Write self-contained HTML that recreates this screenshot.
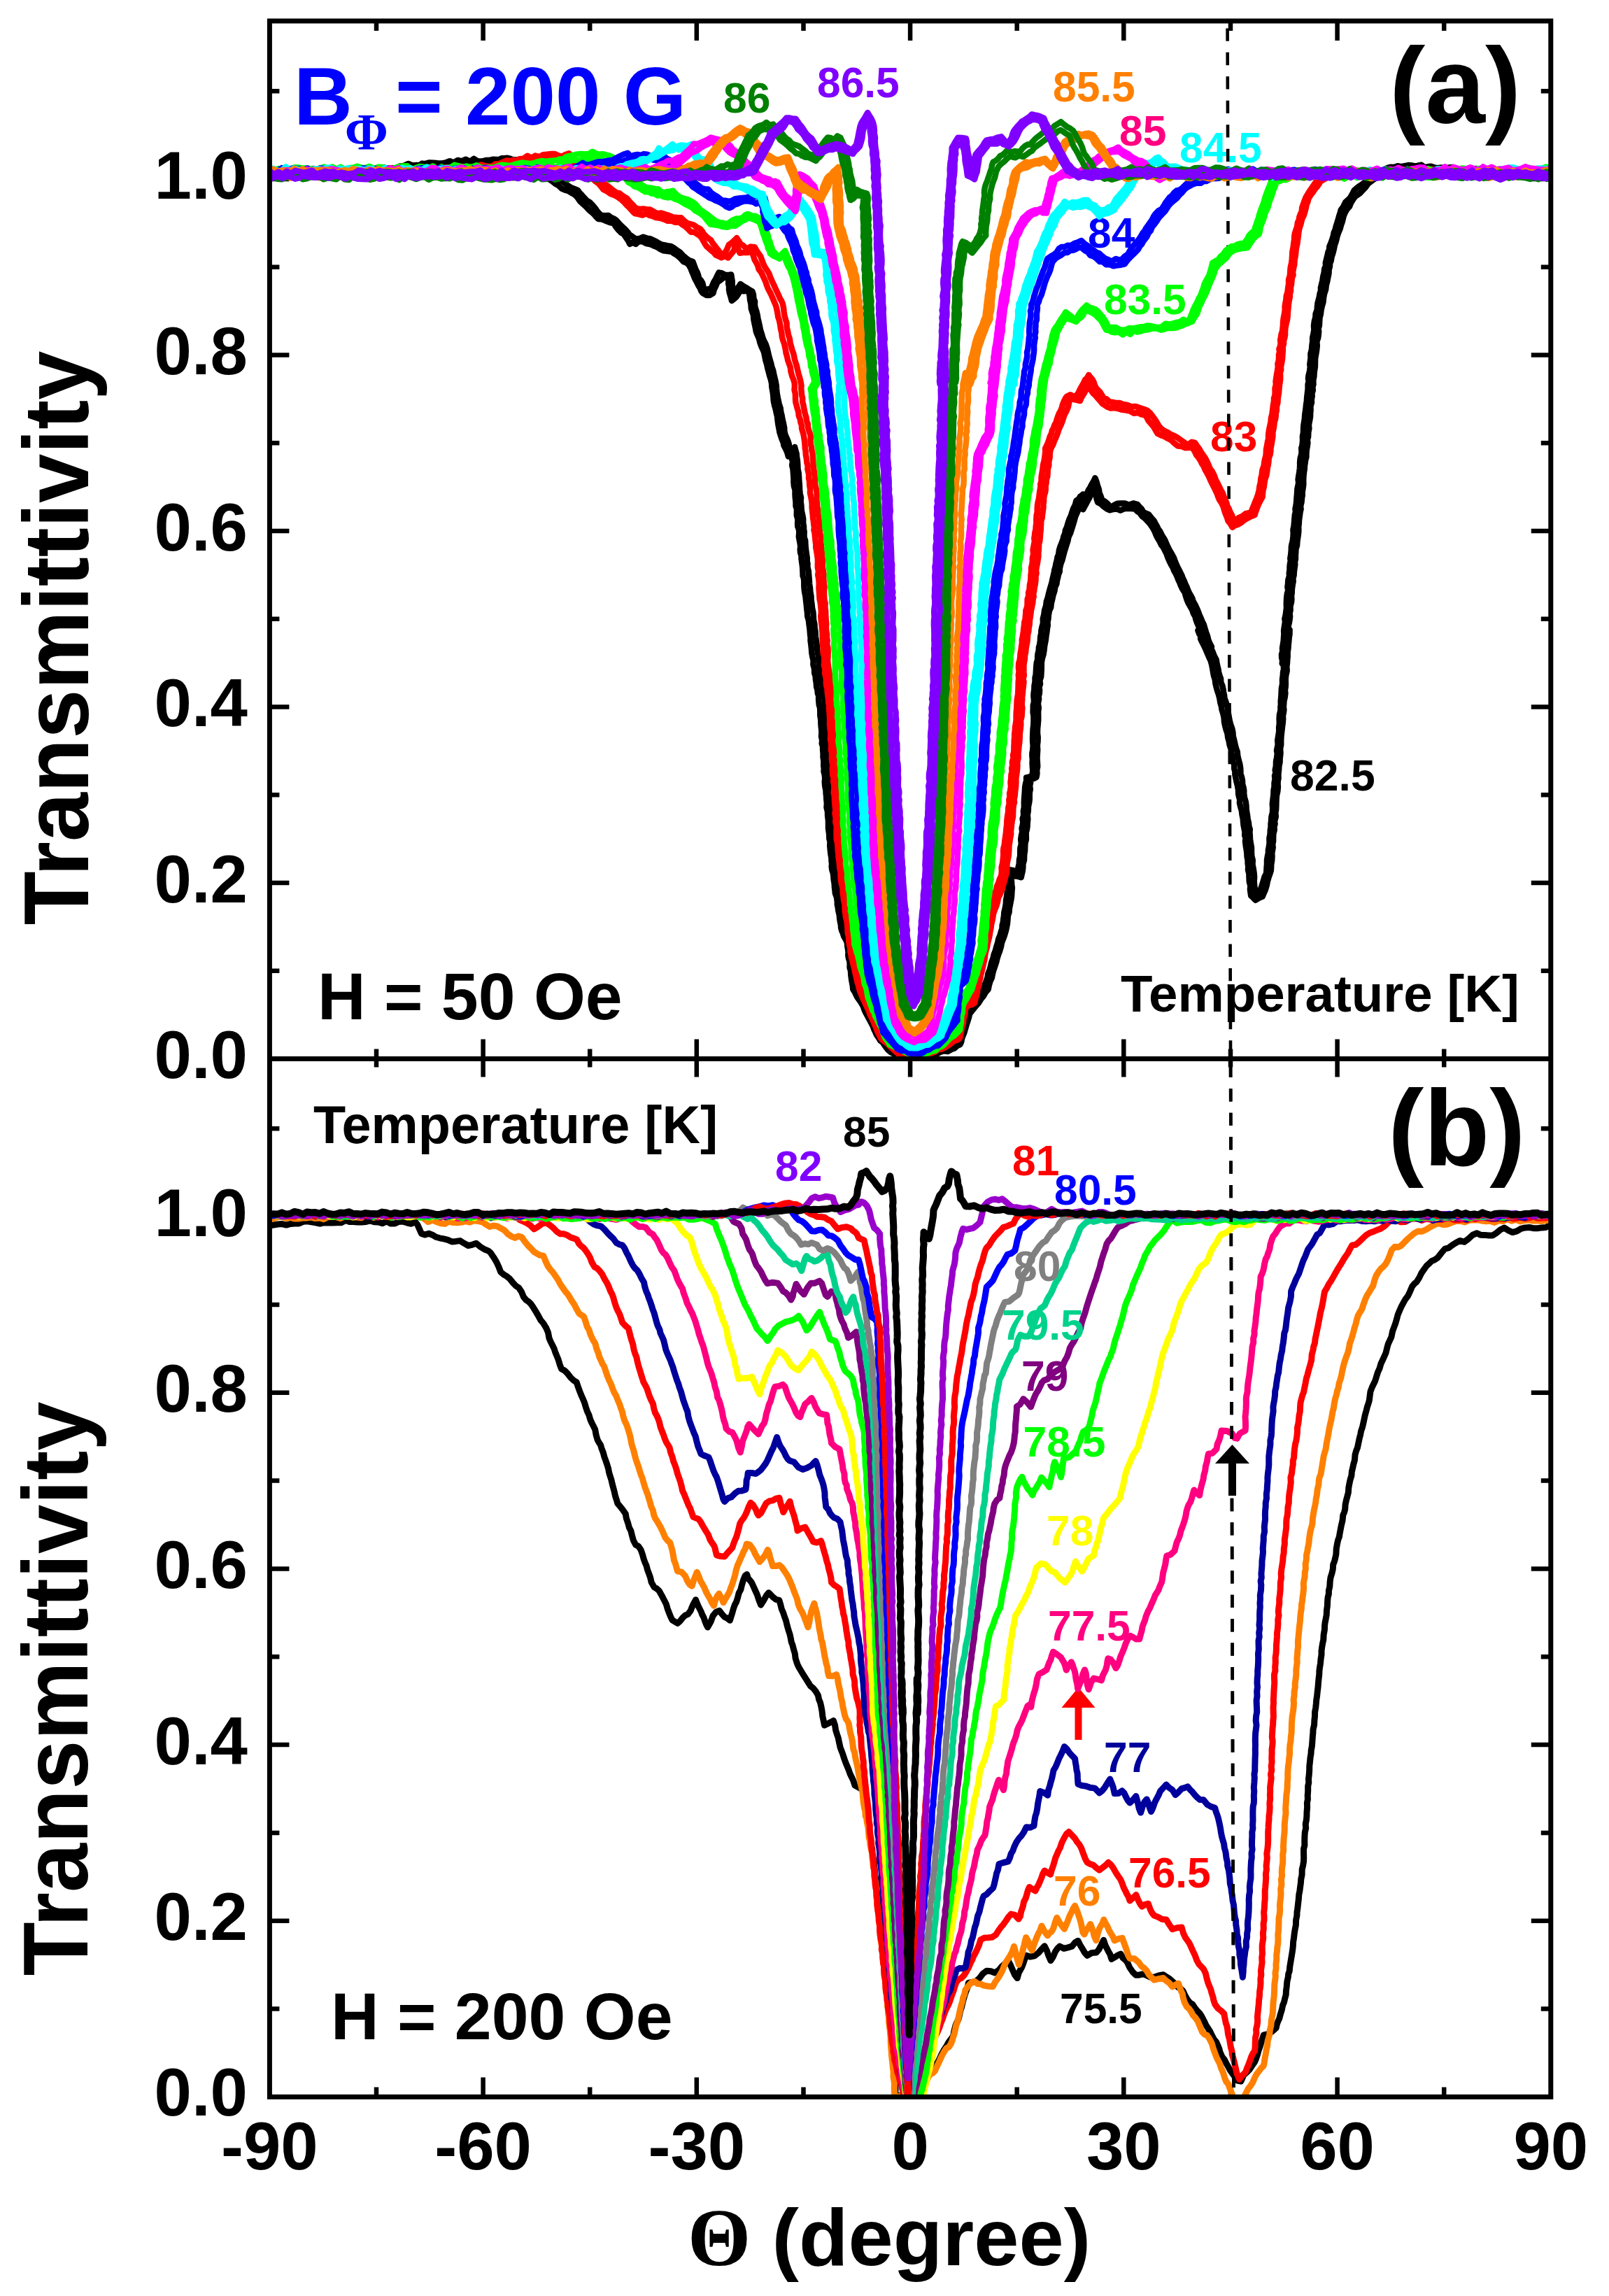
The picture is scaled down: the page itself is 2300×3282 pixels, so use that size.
<!DOCTYPE html>
<html><head><meta charset="utf-8"><title>Transmittivity</title>
<style>html,body{margin:0;padding:0;background:#fff}svg{display:block}text{font-family:"Liberation Sans",sans-serif;font-weight:bold}</style>
</head><body>
<svg width="2300" height="3282" viewBox="0 0 2300 3282">
<defs><clipPath id="ca"><rect x="385.4" y="30.0" width="1831.4" height="1483.6"/></clipPath>
<clipPath id="cb"><rect x="385.4" y="1513.6" width="1831.4" height="1483.8"/></clipPath></defs>
<rect width="2300" height="3282" fill="#fff"/>
<path d="M538.0 30.0v14 M538.0 1499.6v26 M538.0 2997.4v-14 M690.6 30.0v28 M690.6 1485.6v54 M690.6 2997.4v-28 M843.2 30.0v14 M843.2 1499.6v26 M843.2 2997.4v-14 M995.8 30.0v28 M995.8 1485.6v54 M995.8 2997.4v-28 M1148.5 30.0v14 M1148.5 1499.6v26 M1148.5 2997.4v-14 M1301.1 30.0v28 M1301.1 1485.6v54 M1301.1 2997.4v-28 M1453.7 30.0v14 M1453.7 1499.6v26 M1453.7 2997.4v-14 M1606.3 30.0v28 M1606.3 1485.6v54 M1606.3 2997.4v-28 M1759.0 30.0v14 M1759.0 1499.6v26 M1759.0 2997.4v-14 M1911.6 30.0v28 M1911.6 1485.6v54 M1911.6 2997.4v-28 M2064.2 30.0v14 M2064.2 1499.6v26 M2064.2 2997.4v-14 M385.4 1387.8h14 M2216.8 1387.8h-14 M385.4 2871.6h14 M2216.8 2871.6h-14 M385.4 1262.1h28 M2216.8 1262.1h-28 M385.4 2745.7h28 M2216.8 2745.7h-28 M385.4 1136.3h14 M2216.8 1136.3h-14 M385.4 2619.9h14 M2216.8 2619.9h-14 M385.4 1010.6h28 M2216.8 1010.6h-28 M385.4 2494.1h28 M2216.8 2494.1h-28 M385.4 884.8h14 M2216.8 884.8h-14 M385.4 2368.2h14 M2216.8 2368.2h-14 M385.4 759.0h28 M2216.8 759.0h-28 M385.4 2242.4h28 M2216.8 2242.4h-28 M385.4 633.3h14 M2216.8 633.3h-14 M385.4 2116.6h14 M2216.8 2116.6h-14 M385.4 507.5h28 M2216.8 507.5h-28 M385.4 1990.8h28 M2216.8 1990.8h-28 M385.4 381.8h14 M2216.8 381.8h-14 M385.4 1864.9h14 M2216.8 1864.9h-14 M385.4 256.0h28 M2216.8 256.0h-28 M385.4 1739.1h28 M2216.8 1739.1h-28 M385.4 130.2h14 M2216.8 130.2h-14 M385.4 1613.3h14 M2216.8 1613.3h-14" stroke="#000" stroke-width="6.5" fill="none"/>
<path d="M1761.5 2065l24.5 27h-19v46h-11v-46h-19z" fill="#000"/>
<path d="M1541.5 2412l24 29h-19v46h-10v-46h-19z" fill="#ff0000"/>
<text x="1034" y="161" font-size="60.5" fill="#008000" text-anchor="start" >86</text>
<text x="1168" y="139" font-size="60.5" fill="#8000ff" text-anchor="start" >86.5</text>
<text x="1505" y="145" font-size="60.5" fill="#ff8000" text-anchor="start" >85.5</text>
<text x="1600" y="208" font-size="60.5" fill="#ff0080" text-anchor="start" >85</text>
<text x="1686" y="232" font-size="60.5" fill="#00ffff" text-anchor="start" >84.5</text>
<text x="1555" y="354" font-size="60.5" fill="#0000ff" text-anchor="start" >84</text>
<text x="1578" y="449" font-size="60.5" fill="#00ff00" text-anchor="start" >83.5</text>
<text x="1730" y="645" font-size="60.5" fill="#ff0000" text-anchor="start" >83</text>
<text x="1844" y="1130" font-size="62.5" fill="#000" text-anchor="start" >82.5</text>
<path d="M1754.6 40.4L1763.5 2984" stroke="#000" stroke-width="4.6" stroke-dasharray="18.3 16.15" fill="none"/>
<g fill="none" stroke-linejoin="round" stroke-linecap="round" clip-path="url(#ca)">
<path d="M384.2 241.7L390.0 246.5L395.7 246.3L401.5 245.7L407.3 242.0L413.0 246.2L418.8 244.7L424.6 242.3L430.3 241.6L436.1 242.1L441.9 244.3L447.7 241.1L453.4 245.2L459.2 242.7L465.0 245.0L470.7 241.1L476.5 243.2L482.3 244.5L488.1 241.8L493.8 243.2L499.5 243.3L505.5 242.8L511.4 242.0L517.5 244.8L523.5 242.0L529.5 243.7L535.6 240.9L541.6 240.6L547.6 239.3L553.5 240.4L559.5 240.3L565.5 240.2L571.4 237.5L577.4 236.9L583.5 234.0L589.5 236.5L595.5 235.9L599.6 236.2L603.5 233.6L607.6 234.1L613.7 232.4L619.8 232.8L625.6 233.3L631.4 233.6L637.2 232.5L642.9 230.2L648.6 232.5L654.4 229.0L660.1 230.3L665.9 227.7L671.6 230.9L677.3 226.9L683.1 230.5L688.8 230.5L694.6 229.0L700.3 228.9L704.5 227.8L708.7 227.9L712.9 228.2L717.0 226.2L721.2 226.2L725.4 225.8L729.7 226.9L734.0 228.6L738.4 228.4L744.3 227.9L750.2 229.8L754.0 232.1L758.0 234.4L761.7 235.9L766.2 238.5L770.6 241.9L775.1 244.3L779.5 246.1L783.9 247.0L788.3 249.7L792.8 254.0L797.7 257.3L802.2 257.9L806.8 261.5L811.5 265.0L816.2 268.1L821.1 269.9L825.8 271.9L828.7 275.8L831.5 278.6L834.7 282.2L838.8 286.6L843.0 289.1L847.1 293.2L851.2 298.2L853.9 302.1L856.8 305.3L859.2 307.8L864.5 308.3L869.7 307.9L873.7 311.0L877.7 312.6L881.5 315.5L885.4 319.9L889.4 324.0L893.5 327.7L897.1 331.6L900.1 335.7L903.7 337.9L908.7 341.4L913.8 341.1L919.6 338.7L925.3 340.8L929.6 341.2L933.9 343.3L938.1 345.4L942.2 347.9L946.4 349.8L950.5 350.4L954.8 351.5L959.0 352.0L963.3 354.5L967.7 357.6L972.3 360.8L976.5 365.4L980.9 369.1L985.5 372.4L990.4 374.0L992.4 379.4L994.6 385.4L996.6 389.1L998.0 393.0L999.2 397.9L1001.8 400.5L1004.2 404.5L1005.6 410.3L1007.8 415.1L1011.9 413.3L1016.2 413.3L1018.5 407.4L1020.4 403.0L1022.8 399.2L1024.9 394.7L1027.6 389.6L1032.0 390.5L1036.4 392.8L1040.8 393.2L1045.2 392.4L1045.9 397.3L1046.7 401.7L1046.8 406.8L1047.1 411.8L1047.9 416.5L1048.6 422.1L1047.5 427.4L1048.9 422.4L1050.6 416.7L1053.1 413.5L1055.9 409.9L1058.4 405.9L1062.6 409.0L1066.8 411.2L1071.0 414.1L1075.4 416.4L1077.0 421.4L1077.3 426.5L1079.1 430.9L1078.9 435.6L1079.6 439.9L1081.4 445.2L1082.6 450.1L1083.5 455.5L1084.9 461.4L1086.1 467.2L1087.1 472.2L1089.0 477.9L1090.2 482.3L1091.9 486.7L1094.5 491.8L1096.4 497.1L1097.7 502.5L1098.9 507.7L1100.4 513.6L1102.1 519.0L1103.3 524.5L1105.2 529.8L1106.2 535.1L1107.3 539.7L1108.4 543.8L1109.1 547.6L1109.8 551.6L1110.0 555.3L1110.5 560.9L1111.4 566.6L1112.6 572.4L1113.7 577.7L1115.7 583.7L1116.3 588.8L1117.7 594.3L1118.5 599.3L1120.0 605.5L1121.2 611.6L1121.4 616.8L1122.8 622.3L1124.5 625.9L1126.2 629.9L1127.7 634.5L1128.3 638.7L1129.5 642.8L1130.4 647.7L1133.2 643.6L1136.1 638.9L1137.3 643.9L1138.6 648.2L1139.0 652.8L1139.9 658.8L1140.3 664.8L1140.5 670.5L1141.7 676.4L1142.1 682.2L1142.3 687.3L1142.8 691.9L1143.0 695.7L1143.1 700.3L1143.7 705.6L1145.0 711.5L1144.6 716.9L1145.4 722.7L1145.6 727.2L1146.1 731.4L1147.2 736.2L1148.2 741.6L1148.1 747.5L1149.0 752.2L1149.0 756.3L1149.7 760.2L1149.5 764.3L1149.7 768.6L1151.2 772.8L1151.4 779.1L1152.0 785.3L1152.8 791.1L1153.7 797.4L1153.7 802.0L1154.5 806.0L1154.3 810.2L1155.8 816.5L1156.2 822.5L1156.8 828.8L1157.1 834.8L1158.0 840.6L1158.4 846.4L1159.5 852.2L1159.6 857.4L1160.5 863.3L1161.1 869.6L1162.4 875.1L1162.8 880.3L1163.1 886.6L1164.5 892.3L1164.6 897.5L1165.6 903.0L1165.9 909.5L1166.7 915.0L1167.5 920.9L1168.1 926.5L1168.6 932.2L1169.8 937.4L1169.9 941.4L1170.5 945.7L1171.1 949.7L1171.0 955.4L1172.3 960.9L1173.0 965.3L1173.9 970.1L1174.0 974.5L1175.5 980.5L1176.2 986.9L1177.2 990.6L1177.1 994.9L1178.4 999.0L1178.5 1003.5L1178.7 1007.5L1179.5 1011.5L1179.5 1017.2L1180.1 1023.1L1179.7 1027.1L1179.7 1031.4L1180.3 1035.7L1180.6 1041.3L1181.0 1046.5L1181.2 1050.8L1182.2 1054.8L1181.8 1059.2L1182.5 1064.8L1183.1 1070.5L1183.1 1076.7L1184.2 1082.9L1184.6 1088.5L1184.9 1095.1L1185.4 1100.2L1184.6 1106.1L1186.2 1109.9L1185.5 1114.5L1185.6 1118.3L1186.9 1124.2L1186.4 1130.1L1187.7 1136.4L1188.4 1141.9L1188.5 1146.3L1189.0 1150.5L1189.2 1154.7L1189.5 1160.2L1190.1 1166.3L1190.7 1172.4L1190.4 1178.6L1190.7 1184.5L1191.1 1190.7L1191.6 1196.6L1192.6 1202.6L1193.5 1208.8L1194.0 1214.7L1194.1 1220.8L1194.9 1226.8L1194.8 1232.8L1194.9 1239.4L1196.5 1245.1L1197.4 1250.6L1198.4 1255.3L1199.0 1259.4L1199.0 1263.7L1199.4 1270.1L1201.0 1276.1L1202.3 1282.1L1202.7 1288.3L1203.7 1292.6L1203.9 1296.7L1204.6 1301.1L1205.2 1307.2L1206.3 1313.2L1206.7 1317.2L1208.1 1321.5L1208.4 1325.9L1210.0 1330.5L1212.4 1335.4L1214.8 1341.4L1217.0 1346.7L1217.4 1351.8L1217.7 1355.9L1218.1 1360.4L1219.2 1365.3L1220.0 1369.4L1220.4 1373.9L1220.9 1378.0L1221.5 1382.4L1221.5 1386.7L1222.4 1391.1L1222.5 1395.6L1223.0 1399.7L1224.9 1406.2L1225.0 1412.3L1228.4 1417.5L1231.1 1422.1L1233.4 1425.8L1235.6 1429.8L1238.1 1434.2L1240.5 1438.1L1242.7 1442.7L1244.9 1447.3L1246.5 1451.3L1248.2 1454.2L1251.2 1459.9L1253.4 1465.5L1255.7 1469.7L1258.3 1474.8L1260.6 1479.8L1263.4 1484.8L1267.0 1487.9L1270.5 1490.6L1273.6 1493.6L1277.1 1498.0L1280.5 1501.5L1284.1 1503.4L1289.6 1506.1L1295.2 1507.2L1300.8 1508.4L1306.4 1509.3L1310.9 1508.0L1315.3 1508.2L1320.3 1504.4L1325.1 1504.0L1330.5 1501.7L1335.9 1500.3L1341.3 1498.8L1346.8 1496.2L1352.2 1494.2L1357.6 1491.3L1362.6 1491.2L1367.4 1491.1L1369.2 1485.4L1370.6 1480.3L1371.7 1474.6L1374.0 1468.8L1375.5 1464.4L1376.9 1459.3L1378.3 1455.4L1378.9 1450.9L1380.4 1446.5L1383.7 1442.2L1387.1 1438.4L1390.1 1434.7L1393.3 1429.6L1396.8 1425.0L1400.2 1420.5L1403.3 1415.7L1406.7 1413.2L1407.7 1407.5L1409.8 1402.2L1411.6 1396.9L1412.4 1391.5L1414.8 1385.9L1416.3 1379.9L1417.4 1375.2L1419.5 1369.8L1420.7 1364.3L1422.9 1358.7L1424.2 1353.5L1426.2 1347.4L1427.2 1342.4L1429.5 1336.8L1430.8 1332.2L1432.5 1327.1L1432.6 1322.6L1433.8 1318.3L1434.2 1314.2L1435.0 1309.3L1435.3 1304.2L1436.6 1298.8L1437.8 1292.3L1438.0 1287.0L1439.1 1281.1L1439.7 1275.7L1441.7 1270.1L1440.4 1266.4L1439.5 1262.0L1439.0 1258.0L1438.6 1253.1L1438.1 1248.0L1436.8 1242.2L1442.8 1243.2L1448.6 1244.3L1452.0 1248.3L1455.5 1251.5L1454.6 1246.3L1455.4 1240.6L1456.8 1234.7L1457.0 1229.2L1458.2 1223.7L1458.2 1218.1L1458.4 1212.1L1459.9 1206.5L1459.2 1200.0L1460.0 1194.0L1461.2 1189.2L1460.6 1183.8L1461.8 1179.5L1462.4 1175.2L1461.6 1170.6L1463.2 1165.5L1462.8 1159.9L1463.9 1154.1L1463.8 1148.1L1464.0 1142.2L1464.5 1136.3L1464.9 1130.3L1465.2 1124.8L1465.9 1120.6L1467.2 1116.0L1467.1 1111.4L1471.4 1110.6L1475.6 1107.3L1476.3 1101.7L1475.9 1096.6L1475.6 1090.8L1475.9 1085.5L1475.4 1081.1L1475.4 1076.5L1476.2 1072.4L1476.7 1066.2L1476.2 1060.5L1476.1 1054.4L1476.3 1048.7L1476.6 1042.2L1477.3 1036.2L1477.5 1029.9L1477.5 1023.7L1476.6 1018.3L1476.8 1012.3L1476.8 1008.0L1477.9 1003.9L1477.9 1000.1L1477.4 995.0L1477.6 990.9L1478.3 986.2L1478.5 980.3L1479.6 974.2L1479.5 969.0L1480.6 964.5L1480.9 959.2L1481.2 953.6L1481.8 947.2L1483.2 942.8L1483.1 938.9L1483.6 934.3L1484.7 930.1L1484.9 925.5L1486.2 921.2L1486.9 915.8L1487.2 909.9L1488.3 905.7L1488.4 901.1L1489.4 896.6L1491.0 890.6L1490.8 884.4L1492.3 878.5L1493.1 872.3L1495.1 865.9L1495.8 860.0L1497.7 854.5L1499.0 848.6L1500.4 843.5L1502.0 837.8L1503.5 832.7L1504.7 826.9L1505.7 822.7L1506.8 818.3L1507.3 814.7L1508.7 809.9L1509.5 805.4L1510.7 801.3L1511.5 796.5L1513.2 792.2L1513.9 786.6L1515.4 781.5L1517.7 775.8L1519.5 771.1L1520.3 767.0L1522.2 762.9L1522.9 758.1L1525.1 753.2L1526.6 747.9L1528.5 742.2L1531.1 736.6L1532.7 731.3L1534.2 726.9L1536.9 721.6L1538.4 715.7L1541.7 713.4L1545.2 709.4L1548.1 706.6L1549.2 711.0L1551.0 715.9L1552.1 720.8L1551.5 715.1L1550.7 708.6L1553.6 705.6L1555.8 700.6L1558.3 696.7L1560.5 692.3L1563.3 687.9L1565.4 683.3L1567.6 689.1L1569.0 694.1L1570.8 699.1L1571.5 704.3L1573.5 709.2L1575.4 714.6L1578.9 716.5L1582.0 718.8L1584.9 721.7L1587.7 725.6L1592.5 722.1L1597.2 719.7L1601.9 719.5L1607.9 719.4L1613.8 721.7L1620.0 719.4L1626.1 721.2L1628.8 724.5L1631.8 727.4L1634.6 732.1L1638.3 733.8L1642.1 735.5L1645.9 740.2L1649.8 744.6L1651.5 748.1L1653.7 751.9L1655.6 755.9L1658.3 759.6L1660.9 764.9L1663.0 768.4L1665.3 772.0L1666.9 775.9L1669.2 781.1L1672.3 787.3L1675.0 791.7L1678.1 797.5L1679.5 801.8L1681.8 807.1L1683.4 810.8L1686.4 816.5L1689.3 822.3L1690.9 826.7L1693.0 830.9L1694.6 835.2L1696.6 839.1L1698.0 843.1L1699.7 846.8L1702.1 851.1L1704.3 855.1L1705.7 859.5L1708.8 865.1L1711.2 870.2L1713.1 874.8L1714.8 879.7L1716.9 884.1L1718.6 888.5L1721.0 893.2L1722.4 898.6L1724.1 903.9L1726.2 909.6L1727.6 915.6L1729.7 920.3L1732.0 924.6L1730.4 930.2L1730.5 935.5L1728.8 940.6L1727.6 936.9L1726.3 932.9L1725.0 928.4L1723.0 924.1L1720.1 919.0L1717.5 913.3L1716.2 909.4L1714.1 905.9L1712.4 901.0L1716.1 904.0L1719.9 906.7L1723.5 909.3L1725.2 912.8L1726.6 917.3L1728.6 920.9L1730.6 925.7L1733.5 931.6L1734.5 935.0L1736.7 939.3L1738.7 943.0L1739.4 948.1L1740.5 952.7L1741.6 957.0L1742.1 961.0L1743.4 965.5L1745.1 970.1L1745.3 975.1L1747.4 980.3L1748.6 985.5L1749.0 989.5L1750.1 994.1L1750.5 998.1L1752.2 1002.7L1753.6 1007.2L1755.2 1013.2L1755.8 1019.0L1756.7 1024.6L1757.9 1030.8L1759.2 1035.7L1761.2 1041.2L1762.4 1046.8L1762.7 1052.1L1764.3 1058.4L1765.6 1064.2L1766.7 1069.1L1768.7 1074.4L1769.3 1080.5L1770.6 1086.2L1772.2 1091.8L1773.2 1097.9L1773.4 1102.1L1773.4 1106.2L1775.0 1110.9L1776.0 1115.8L1776.2 1121.4L1777.6 1125.7L1778.3 1130.1L1778.2 1134.3L1779.0 1140.3L1780.7 1145.8L1781.5 1151.6L1781.7 1157.1L1782.4 1161.6L1783.2 1166.4L1783.6 1170.6L1784.9 1175.9L1785.4 1181.1L1786.8 1185.3L1786.4 1189.7L1786.8 1194.0L1787.0 1199.8L1788.0 1205.9L1789.0 1211.6L1789.0 1217.6L1789.3 1223.9L1790.8 1229.6L1790.5 1235.9L1791.7 1241.7L1792.6 1247.7L1793.1 1253.6L1792.7 1259.4L1793.1 1265.0L1793.6 1269.4L1794.4 1273.7L1794.3 1277.6L1795.7 1282.9L1798.8 1279.6L1800.9 1274.1L1802.8 1268.8L1804.5 1263.7L1806.0 1258.6L1807.5 1253.4L1810.2 1248.1L1810.4 1243.9L1810.6 1239.4L1811.0 1235.3L1811.0 1229.5L1811.9 1223.9L1812.9 1219.4L1812.9 1215.1L1813.8 1211.0L1814.6 1204.9L1814.4 1198.4L1815.6 1192.2L1815.8 1186.5L1816.6 1182.0L1816.5 1177.9L1817.0 1173.8L1817.4 1167.6L1819.0 1161.2L1819.2 1155.5L1818.8 1149.0L1819.5 1143.1L1820.2 1137.2L1820.5 1132.9L1820.6 1129.1L1821.5 1125.0L1821.5 1119.2L1822.6 1113.2L1822.0 1109.0L1823.4 1105.1L1822.7 1100.6L1823.9 1094.9L1824.0 1088.4L1825.2 1082.6L1825.8 1076.8L1825.0 1072.9L1825.8 1068.6L1826.7 1064.4L1826.2 1058.3L1827.1 1052.9L1827.8 1048.7L1828.3 1044.4L1828.1 1040.1L1828.7 1035.6L1828.8 1031.6L1828.6 1027.8L1829.0 1021.5L1830.5 1015.3L1830.4 1010.9L1830.9 1007.1L1830.7 1002.7L1831.3 996.2L1831.6 990.2L1831.9 983.9L1833.1 977.9L1833.0 971.4L1833.8 965.4L1834.0 961.3L1835.0 956.5L1834.8 952.1L1835.5 947.8L1835.7 943.5L1835.9 938.9L1835.9 934.9L1836.7 930.8L1836.3 926.2L1836.4 921.7L1836.8 916.9L1837.7 912.4L1837.5 907.8L1838.5 902.8L1840.4 907.4L1842.1 911.9L1842.2 918.3L1841.3 923.7L1840.2 930.3L1839.3 935.6L1836.8 940.1L1834.4 944.4L1832.7 948.7L1833.1 944.3L1832.1 940.0L1832.0 935.5L1833.3 930.8L1833.0 926.7L1833.8 921.8L1834.7 916.3L1835.1 910.1L1835.4 906.3L1835.1 901.8L1835.6 897.9L1836.3 893.3L1837.0 889.0L1836.4 884.6L1837.7 879.1L1838.4 873.4L1839.0 869.0L1838.8 864.2L1838.9 859.5L1839.2 854.1L1839.9 848.5L1841.3 843.9L1840.4 839.2L1841.0 834.9L1841.3 829.2L1843.0 823.4L1842.8 819.2L1843.5 814.6L1843.5 810.5L1843.9 806.2L1844.8 802.1L1844.3 798.1L1845.3 791.9L1845.8 786.2L1845.9 781.4L1846.8 776.9L1847.8 772.8L1848.5 767.2L1848.7 761.8L1848.4 757.1L1849.5 752.4L1849.9 747.6L1850.4 742.2L1850.8 736.2L1852.0 731.9L1851.5 727.5L1852.3 723.7L1853.0 719.0L1853.3 714.9L1853.6 710.5L1854.1 704.9L1854.4 699.0L1855.3 694.9L1856.2 689.9L1855.6 685.5L1856.4 679.9L1857.4 674.2L1857.9 669.6L1858.2 665.2L1858.1 661.1L1858.7 655.0L1860.3 649.1L1860.5 644.9L1860.2 640.8L1861.4 636.7L1862.1 629.9L1861.9 623.9L1863.0 618.2L1863.1 612.1L1863.4 607.7L1864.2 602.9L1864.9 598.4L1865.2 592.9L1866.0 587.5L1866.6 583.1L1867.0 578.6L1867.8 574.1L1868.2 567.8L1868.9 562.0L1869.6 556.0L1869.6 549.5L1870.7 545.5L1870.0 541.2L1870.5 536.8L1872.0 530.9L1872.8 524.7L1872.3 520.8L1872.9 516.2L1873.5 512.2L1873.4 505.7L1875.0 499.6L1875.4 493.8L1876.2 488.0L1876.2 482.6L1877.4 477.3L1878.4 471.4L1878.0 465.7L1878.8 459.3L1880.4 453.4L1880.6 448.4L1882.7 442.9L1882.9 438.6L1883.4 433.9L1884.5 429.6L1885.8 424.7L1886.7 419.3L1888.1 415.2L1887.9 411.2L1889.0 406.8L1890.4 401.0L1891.3 395.0L1892.7 389.5L1893.2 384.3L1895.1 380.1L1894.8 375.6L1895.8 371.7L1897.2 366.1L1898.4 360.6L1900.1 356.4L1900.3 352.4L1902.3 347.7L1904.2 342.6L1905.9 337.1L1906.7 332.5L1908.6 328.3L1909.6 324.0L1911.5 318.0L1913.1 312.8L1914.2 308.7L1915.6 304.5L1916.8 299.9L1919.5 296.5L1921.2 293.0L1923.3 288.9L1926.4 286.1L1929.9 282.8L1931.7 279.7L1933.7 276.2L1935.8 271.9L1939.8 268.5L1943.7 265.6L1947.4 263.2L1951.2 260.3L1954.9 255.1L1959.1 252.2L1962.9 249.4L1966.8 247.1L1970.6 243.8L1976.4 243.8L1982.2 240.4L1987.6 238.7L1992.9 239.1L1997.9 237.3L2002.9 238.1L2008.1 237.1L2013.3 236.1L2018.0 236.5L2022.7 237.6L2027.3 236.6L2031.9 235.7L2036.5 239.4L2041.0 238.3L2045.6 237.7L2050.1 239.3L2054.7 240.2L2060.3 239.5L2065.8 240.2L2071.4 239.6L2077.0 239.0L2082.6 241.0L2088.3 244.3L2093.9 243.9L2099.5 242.8L2105.0 241.5L2110.5 240.9L2116.4 244.4L2122.3 244.7L2128.2 243.2L2134.2 243.4L2140.1 243.4L2146.1 244.0L2152.0 244.0L2157.9 244.4L2163.9 244.5L2169.8 242.8L2175.8 242.9L2181.7 240.4L2187.7 242.6L2193.6 244.5L2199.5 245.7L2205.5 244.3L2211.4 240.1L2217.4 242.7" stroke="#000000" stroke-width="8.5"/>
<path d="M385.3 247.2L391.1 250.2L396.8 252.6L402.6 247.7L408.4 250.6L414.1 247.6L419.9 251.3L425.6 252.5L431.4 250.7L437.2 251.5L442.9 248.8L448.7 247.6L454.4 247.4L460.2 249.3L466.0 247.4L471.7 249.4L477.5 252.4L483.2 248.6L489.0 248.9L494.8 248.7L500.6 251.5L506.6 248.5L512.7 247.7L518.7 247.5L524.7 250.5L530.7 249.5L536.7 247.0L542.8 248.0L548.8 247.3L552.8 247.3L556.9 246.2L560.9 244.4L567.0 246.1L573.0 248.5L577.1 247.0L581.0 244.1L585.1 242.1L591.1 241.1L597.1 239.6L603.1 239.6L609.1 242.5L613.1 240.4L617.1 240.0L621.0 239.3L626.6 238.4L632.3 240.3L638.0 239.1L643.7 238.3L649.5 236.8L655.2 236.4L660.9 235.5L666.6 235.7L672.3 235.6L678.1 236.2L683.8 236.3L689.5 234.7L695.2 238.3L700.9 234.7L707.1 238.0L713.3 234.2L719.5 234.0L725.7 232.6L731.6 235.0L737.5 235.6L742.7 237.3L747.9 237.7L753.4 241.1L758.8 244.6L763.0 245.4L767.3 247.4L771.5 249.2L775.7 251.4L780.0 254.9L784.6 256.2L789.1 258.9L793.6 262.5L798.2 265.2L803.0 269.6L807.6 271.6L812.3 272.9L816.8 275.8L821.4 278.2L825.3 282.1L829.2 287.8L833.6 291.7L837.6 295.4L841.7 299.9L845.9 303.4L849.1 306.3L852.0 309.7L855.2 312.9L859.2 313.2L863.3 314.6L867.3 316.3L872.4 318.2L877.2 319.5L880.8 324.9L884.0 328.8L887.7 332.5L891.7 334.7L894.5 339.1L897.6 343.5L900.3 349.0L904.5 346.4L908.7 348.9L912.9 345.3L918.2 345.1L923.6 348.1L927.5 348.7L931.6 349.9L935.6 351.9L939.8 353.5L943.8 356.2L948.0 358.2L954.0 359.0L960.0 359.8L964.0 362.7L968.2 365.2L972.4 368.9L976.9 374.0L980.8 375.5L984.5 378.5L987.2 383.3L988.9 387.8L991.4 393.7L993.3 398.5L995.9 403.2L998.2 408.0L1000.6 411.7L1002.4 416.1L1004.7 419.1L1009.5 421.9L1014.4 422.0L1019.4 419.0L1020.9 413.7L1023.3 408.8L1025.5 403.4L1029.9 400.4L1035.7 395.7L1041.5 398.6L1041.1 405.2L1042.1 409.5L1042.0 413.9L1042.8 418.5L1044.6 424.4L1046.0 429.9L1049.3 427.4L1052.4 424.6L1055.0 420.8L1057.1 417.4L1058.5 413.5L1062.6 416.2L1066.6 415.7L1070.7 418.1L1071.6 423.0L1072.1 428.6L1073.5 435.1L1073.8 441.1L1075.4 445.9L1077.0 450.8L1077.3 456.5L1078.4 462.0L1079.8 468.3L1080.8 474.1L1082.6 478.6L1085.0 484.2L1086.3 489.5L1088.0 494.4L1090.1 499.0L1092.0 503.3L1093.2 508.9L1094.3 514.7L1096.1 520.7L1097.2 526.2L1098.7 531.6L1100.0 536.7L1101.8 542.4L1103.1 548.3L1103.2 552.5L1103.8 556.1L1104.8 561.7L1105.4 567.0L1105.6 571.5L1106.3 575.8L1107.2 579.8L1108.7 585.0L1109.7 589.9L1111.0 595.3L1111.5 600.5L1112.4 607.0L1113.6 613.1L1114.5 618.3L1116.5 624.4L1117.8 628.2L1119.6 632.2L1120.4 636.7L1123.0 641.6L1125.3 646.9L1126.9 652.5L1129.7 648.7L1132.1 644.5L1131.9 649.4L1131.4 654.0L1133.0 659.7L1132.2 665.2L1133.5 670.7L1133.9 676.1L1134.2 680.2L1134.5 684.8L1134.4 688.9L1134.9 694.9L1136.6 700.8L1136.5 706.4L1136.8 711.5L1137.5 717.6L1137.5 723.5L1138.9 727.8L1138.9 732.4L1138.8 736.7L1140.4 742.2L1140.1 748.0L1140.3 752.5L1141.9 756.9L1142.3 761.2L1141.8 767.3L1142.9 772.9L1143.7 777.1L1144.2 781.3L1143.7 785.6L1144.1 790.1L1145.5 794.4L1145.5 798.7L1146.2 804.0L1147.0 809.6L1147.3 814.0L1147.5 818.6L1147.6 823.2L1149.0 827.2L1149.3 831.6L1149.3 836.3L1149.5 840.9L1150.2 846.4L1151.4 852.3L1152.0 858.2L1152.7 864.0L1153.2 869.9L1153.9 875.2L1154.2 880.8L1155.9 886.8L1156.6 893.1L1157.3 897.9L1157.8 903.3L1158.1 907.5L1158.7 911.5L1158.5 915.7L1159.3 921.2L1159.9 927.0L1160.3 932.8L1161.2 938.2L1162.6 944.1L1162.4 950.0L1164.0 955.8L1164.2 962.3L1165.7 966.6L1165.9 971.2L1166.7 975.7L1167.1 981.4L1168.6 987.1L1168.8 990.9L1170.2 995.0L1170.1 999.4L1170.4 1003.5L1170.8 1007.7L1172.1 1012.0L1172.3 1017.8L1172.3 1022.8L1173.3 1029.0L1173.4 1035.0L1173.7 1038.9L1174.2 1043.4L1174.4 1047.2L1174.0 1052.7L1175.2 1058.3L1174.7 1062.7L1176.1 1067.3L1176.1 1071.8L1176.6 1077.0L1176.5 1082.0L1177.4 1088.2L1177.2 1094.2L1177.8 1098.7L1177.5 1103.0L1178.7 1107.4L1179.2 1112.3L1178.8 1117.6L1179.2 1123.7L1180.5 1129.8L1180.6 1134.1L1181.1 1138.2L1181.3 1142.6L1181.9 1148.6L1181.5 1154.2L1183.0 1160.3L1183.1 1166.1L1183.9 1172.6L1184.0 1178.3L1184.0 1184.1L1184.9 1190.3L1185.3 1194.6L1185.3 1198.7L1186.5 1203.1L1186.2 1208.9L1186.7 1214.3L1187.4 1220.7L1188.4 1226.6L1188.5 1230.5L1189.0 1234.7L1188.7 1239.0L1189.4 1243.8L1190.7 1247.6L1191.3 1252.1L1191.7 1257.5L1192.7 1263.5L1192.9 1268.1L1193.5 1272.6L1193.9 1277.0L1196.0 1282.7L1196.8 1288.8L1196.8 1292.9L1197.7 1297.0L1198.3 1301.7L1199.7 1307.5L1200.3 1313.9L1200.9 1317.7L1201.9 1322.1L1202.1 1326.3L1203.3 1330.5L1205.0 1334.4L1206.3 1338.7L1208.9 1343.1L1211.0 1347.8L1211.2 1352.5L1212.0 1356.7L1212.6 1361.2L1212.3 1365.6L1213.0 1369.7L1214.5 1374.5L1214.7 1378.5L1214.6 1383.2L1216.0 1387.6L1216.3 1393.9L1217.1 1400.0L1217.9 1404.6L1218.8 1409.6L1219.3 1414.4L1221.8 1418.0L1223.8 1422.4L1225.7 1425.9L1229.3 1430.9L1232.2 1435.6L1234.1 1438.9L1235.5 1443.5L1237.2 1447.3L1239.8 1452.0L1242.6 1457.1L1245.6 1462.7L1247.7 1466.7L1249.4 1471.6L1251.3 1475.4L1253.0 1479.2L1255.8 1483.2L1258.5 1487.7L1261.7 1490.2L1264.4 1494.2L1267.2 1498.1L1269.8 1501.2L1273.7 1504.3L1277.5 1506.1L1281.3 1508.7L1285.6 1509.3L1289.8 1511.1L1294.1 1512.8L1298.3 1514.3L1302.6 1515.6L1306.9 1515.7L1312.2 1513.4L1317.5 1510.8L1322.5 1511.5L1327.5 1509.9L1332.9 1507.5L1338.5 1507.0L1343.9 1504.0L1349.4 1502.2L1354.8 1503.0L1360.2 1500.0L1364.3 1498.5L1368.5 1494.8L1372.5 1493.1L1374.2 1489.2L1375.0 1484.8L1376.4 1480.8L1378.4 1476.1L1379.8 1471.1L1381.5 1465.3L1383.4 1459.5L1384.9 1454.8L1386.2 1448.9L1389.3 1445.2L1392.6 1441.0L1395.8 1437.2L1399.2 1433.4L1402.4 1428.1L1405.6 1424.3L1408.7 1418.8L1412.7 1414.3L1413.8 1408.5L1415.4 1402.9L1417.9 1397.6L1418.9 1392.2L1420.3 1386.9L1422.1 1381.8L1424.1 1375.7L1425.4 1370.2L1427.2 1364.5L1429.2 1359.2L1430.9 1353.4L1431.9 1347.9L1433.6 1343.5L1435.5 1338.5L1436.8 1334.3L1438.0 1330.1L1438.8 1326.3L1440.0 1320.1L1440.5 1314.3L1440.8 1309.3L1442.5 1304.1L1443.0 1298.2L1444.1 1292.4L1445.3 1286.5L1446.1 1281.3L1446.4 1275.2L1446.9 1269.1L1446.2 1264.4L1446.1 1260.0L1445.0 1255.7L1443.5 1250.1L1442.4 1244.6L1445.0 1248.2L1447.0 1252.4L1451.1 1252.3L1455.3 1252.9L1459.7 1254.3L1460.6 1250.0L1461.7 1245.5L1462.3 1240.9L1462.4 1235.0L1464.0 1229.5L1464.1 1225.5L1464.3 1220.7L1465.1 1216.2L1465.2 1211.3L1465.5 1205.4L1466.9 1200.0L1466.8 1194.7L1466.7 1190.1L1467.9 1185.9L1468.5 1181.9L1468.7 1176.7L1469.3 1171.0L1468.8 1164.9L1469.8 1159.3L1470.0 1152.9L1471.3 1146.6L1471.8 1142.1L1471.7 1137.4L1471.9 1132.7L1472.8 1128.3L1472.1 1123.4L1473.2 1118.4L1473.4 1113.3L1477.8 1113.1L1481.5 1111.1L1482.4 1106.2L1482.2 1100.6L1483.2 1095.8L1482.9 1089.9L1482.5 1084.0L1482.8 1078.2L1483.2 1071.5L1482.8 1065.7L1483.5 1060.0L1483.7 1054.1L1483.0 1047.9L1483.1 1041.9L1483.7 1035.5L1484.2 1029.7L1484.2 1023.4L1484.1 1017.8L1484.8 1011.6L1483.8 1005.8L1485.1 999.4L1484.8 995.2L1485.8 991.2L1486.1 986.9L1485.6 981.9L1487.0 977.9L1486.4 972.8L1488.2 967.1L1488.5 961.2L1488.8 956.8L1488.8 951.9L1488.9 946.5L1489.9 941.0L1491.6 935.3L1492.6 929.0L1493.2 923.1L1494.1 918.6L1494.9 914.5L1495.4 909.5L1496.3 904.0L1497.0 898.2L1497.8 893.9L1497.5 889.2L1498.4 885.2L1498.9 879.2L1499.9 873.4L1502.2 868.2L1502.8 862.6L1504.2 856.8L1505.5 850.6L1507.4 845.2L1508.3 839.2L1510.4 834.7L1511.0 830.0L1512.2 825.5L1512.9 821.5L1514.7 817.2L1515.0 811.7L1516.5 805.6L1518.4 800.8L1519.7 795.5L1521.2 789.8L1522.9 784.3L1524.6 778.7L1526.4 773.1L1527.5 767.6L1530.1 762.1L1532.0 756.2L1533.9 750.2L1535.5 744.8L1537.0 739.1L1538.8 734.9L1540.7 730.5L1542.2 727.0L1543.5 722.9L1545.1 718.7L1543.9 714.3L1543.9 709.7L1544.7 714.1L1546.5 719.2L1547.3 723.4L1548.2 728.3L1550.2 724.5L1552.6 719.9L1554.7 716.3L1556.8 712.5L1558.9 708.3L1561.8 702.9L1563.2 697.9L1564.2 692.8L1565.0 698.6L1564.8 703.9L1566.9 708.6L1567.5 712.9L1569.2 718.2L1573.2 720.0L1577.3 723.8L1581.8 727.1L1586.1 729.3L1591.3 727.9L1596.4 727.4L1601.5 729.7L1606.8 727.3L1612.2 726.8L1617.3 727.0L1622.4 727.6L1625.7 730.9L1629.2 733.2L1633.0 738.4L1636.7 741.1L1640.0 744.7L1643.7 748.7L1646.4 752.7L1648.7 756.1L1650.8 760.4L1652.4 764.4L1654.4 768.6L1657.7 773.9L1660.1 779.1L1662.8 782.4L1665.4 787.5L1667.6 791.9L1669.1 796.5L1670.9 800.6L1673.9 806.9L1676.8 811.8L1678.2 815.9L1680.7 820.1L1682.7 824.6L1684.3 828.8L1686.2 832.6L1687.7 836.7L1690.3 842.2L1693.6 847.2L1695.0 852.3L1696.7 857.7L1698.6 862.2L1701.5 867.2L1704.3 872.1L1705.8 876.8L1708.3 881.0L1709.3 885.0L1711.2 890.5L1713.6 895.8L1714.9 900.2L1716.7 905.3L1718.8 910.9L1720.3 916.6L1722.5 921.5L1724.3 927.2L1727.5 928.3L1730.9 932.2L1734.6 934.6L1731.8 929.0L1730.2 923.6L1728.1 918.9L1726.3 915.6L1724.5 910.9L1722.7 907.0L1720.3 902.1L1718.4 897.1L1718.0 902.1L1716.5 907.3L1716.1 913.1L1718.1 917.3L1720.9 922.9L1723.3 927.8L1725.8 934.0L1728.1 938.9L1730.6 944.6L1732.0 949.7L1733.2 955.5L1734.0 960.6L1735.0 965.9L1736.7 971.1L1737.4 977.0L1738.6 981.9L1740.0 987.2L1741.9 992.7L1743.4 998.5L1744.3 1004.2L1745.9 1009.7L1746.6 1014.7L1748.3 1019.8L1749.6 1025.8L1750.0 1031.8L1751.2 1037.6L1752.7 1043.3L1754.5 1048.5L1755.2 1054.3L1756.7 1059.6L1757.6 1064.7L1759.4 1070.3L1760.4 1075.7L1761.0 1080.0L1762.2 1084.3L1762.4 1088.2L1764.3 1093.4L1764.2 1098.6L1765.4 1103.0L1765.4 1107.4L1766.2 1111.2L1767.5 1117.4L1769.0 1123.2L1770.0 1129.2L1770.2 1135.2L1771.1 1139.5L1772.3 1143.2L1771.9 1147.5L1773.2 1153.2L1774.9 1159.1L1775.5 1164.6L1776.8 1170.6L1777.1 1175.1L1777.5 1179.4L1778.5 1184.4L1779.5 1189.3L1779.2 1194.2L1780.5 1197.9L1780.0 1202.4L1780.5 1206.7L1781.0 1210.7L1781.8 1215.1L1782.3 1219.1L1782.6 1224.7L1783.6 1230.0L1783.6 1234.1L1784.3 1239.0L1784.0 1243.4L1785.4 1249.0L1785.5 1253.9L1785.8 1260.5L1787.4 1266.4L1786.9 1271.2L1787.5 1275.7L1788.2 1280.4L1791.3 1283.2L1794.8 1286.8L1799.7 1283.6L1804.7 1281.6L1806.8 1276.4L1808.8 1272.1L1810.7 1265.8L1811.9 1259.9L1813.5 1254.3L1815.4 1248.9L1816.8 1244.4L1817.1 1240.3L1817.2 1235.9L1818.2 1230.0L1818.5 1223.7L1818.2 1219.5L1819.0 1215.6L1819.7 1211.4L1819.2 1207.0L1820.1 1202.4L1820.1 1198.6L1820.3 1192.1L1821.8 1186.1L1821.5 1181.8L1822.6 1177.7L1822.0 1174.0L1823.8 1167.5L1823.3 1162.1L1824.1 1157.2L1824.3 1152.8L1824.4 1148.4L1824.6 1142.6L1825.0 1137.1L1826.3 1131.4L1826.9 1125.1L1826.6 1121.2L1826.7 1116.8L1827.5 1112.9L1827.4 1106.3L1828.1 1100.6L1828.4 1094.9L1829.6 1089.3L1829.6 1084.6L1830.1 1080.4L1830.5 1076.5L1830.1 1070.3L1831.2 1064.7L1831.2 1058.1L1831.5 1052.2L1832.2 1046.1L1832.9 1039.7L1833.7 1033.8L1834.2 1027.5L1833.9 1023.3L1834.8 1019.2L1835.4 1014.8L1834.9 1010.4L1835.2 1006.4L1835.5 1001.9L1836.7 996.7L1837.4 991.0L1836.9 986.5L1837.7 981.7L1837.9 977.0L1837.7 970.8L1838.3 964.9L1839.7 959.1L1839.3 952.7L1840.0 947.8L1840.2 943.3L1840.7 938.6L1840.6 932.8L1841.5 926.4L1841.6 921.9L1841.9 917.1L1842.6 912.1L1843.5 906.5L1843.6 900.3L1841.9 904.8L1839.1 908.3L1837.5 911.9L1835.9 917.3L1836.1 923.1L1834.9 927.0L1834.1 931.6L1834.0 935.5L1835.3 940.6L1836.8 944.7L1838.2 939.3L1838.0 934.0L1838.4 928.7L1838.9 922.7L1839.9 918.3L1839.8 914.3L1841.0 909.5L1841.1 903.9L1841.6 898.0L1841.8 894.1L1843.0 889.4L1843.6 885.4L1844.1 881.0L1843.6 876.9L1844.6 872.6L1844.5 866.8L1846.1 860.5L1846.4 856.2L1846.0 852.1L1846.7 847.8L1846.9 842.2L1847.7 836.1L1848.7 831.2L1848.4 826.9L1849.6 822.5L1849.9 817.1L1850.7 811.0L1851.3 807.1L1851.0 803.1L1852.0 798.8L1851.9 794.0L1852.3 789.6L1852.4 785.2L1854.1 779.5L1854.4 774.0L1855.0 770.0L1855.7 765.3L1856.2 761.3L1856.4 757.1L1856.2 752.9L1856.8 748.6L1857.1 742.8L1858.0 736.7L1858.5 732.4L1859.6 727.8L1859.1 723.3L1860.5 718.0L1861.0 712.5L1861.8 707.5L1861.7 703.2L1862.5 698.5L1863.3 692.6L1863.2 686.1L1863.5 680.3L1864.1 674.5L1864.8 670.5L1865.0 665.8L1865.6 662.0L1866.2 657.5L1867.4 653.3L1867.4 648.7L1867.8 643.3L1868.8 637.6L1869.4 632.9L1868.8 628.7L1870.1 624.3L1870.3 618.3L1871.4 612.2L1870.9 608.1L1871.6 603.7L1872.4 599.8L1873.1 595.1L1873.1 590.8L1873.6 586.8L1873.4 581.1L1875.0 575.4L1874.8 571.1L1875.7 566.4L1875.4 562.4L1876.8 558.2L1876.4 553.6L1877.5 549.5L1877.3 543.6L1878.4 538.1L1878.6 533.6L1879.1 529.3L1879.9 524.6L1880.0 518.9L1880.1 512.6L1881.1 506.7L1882.1 500.7L1882.8 494.4L1882.3 488.3L1884.1 483.3L1884.8 478.3L1885.2 473.9L1884.6 469.7L1885.9 465.5L1886.2 460.0L1886.5 454.5L1887.9 449.0L1888.5 443.5L1889.9 437.2L1891.5 431.7L1892.1 425.5L1893.1 419.8L1895.1 413.9L1895.8 407.7L1897.2 402.6L1898.2 397.2L1899.5 390.9L1899.7 385.3L1900.9 381.2L1901.2 376.5L1902.7 372.7L1903.6 367.1L1905.2 362.3L1906.8 356.2L1908.0 350.2L1909.5 345.8L1910.6 341.8L1911.7 337.1L1913.6 331.9L1915.7 326.9L1916.9 322.1L1918.6 317.5L1919.8 312.8L1920.8 308.5L1922.6 304.3L1925.5 299.1L1929.1 295.1L1930.7 291.0L1932.8 287.3L1934.9 283.9L1938.1 280.3L1940.8 278.4L1944.6 275.7L1948.2 271.7L1951.8 268.0L1955.5 262.7L1959.2 259.8L1962.7 257.1L1968.1 253.8L1973.6 253.4L1977.1 250.5L1980.8 247.7L1984.3 246.0L1989.0 243.7L1993.7 247.5L1998.6 242.6L2003.6 245.2L2008.4 243.5L2013.2 242.1L2017.6 244.2L2022.1 243.8L2026.6 244.3L2031.1 245.7L2035.7 245.1L2040.2 245.0L2044.8 246.0L2049.4 244.9L2053.9 245.0L2059.5 245.3L2065.1 245.9L2070.7 247.2L2076.3 246.5L2081.9 250.4L2087.5 251.4L2093.1 249.0L2098.7 247.3L2104.3 249.3L2109.9 252.0L2115.9 249.8L2121.9 252.4L2127.8 251.0L2133.8 248.1L2139.7 248.5L2145.6 251.6L2151.6 248.3L2157.5 248.7L2163.4 251.6L2169.4 250.1L2175.3 250.5L2181.2 249.5L2187.1 253.4L2193.1 251.7L2199.0 248.9L2204.9 250.0L2210.9 248.6L2216.8 251.2" stroke="#000000" stroke-width="8.5"/>
<path d="M385.6 241.9L391.5 242.0L397.5 244.0L403.5 243.1L409.4 245.3L415.4 242.8L421.4 240.9L427.4 242.2L433.3 242.5L439.3 243.2L445.3 242.0L451.2 242.2L457.2 240.6L463.2 241.7L469.2 243.0L475.1 243.5L481.1 244.4L487.1 245.0L493.0 244.1L499.0 242.6L505.0 245.4L510.9 240.6L516.9 242.9L522.9 241.4L528.8 242.5L534.8 241.2L540.8 241.1L546.8 243.0L552.7 242.9L558.7 240.3L564.7 241.5L570.6 244.4L576.6 242.8L582.6 244.4L588.5 244.4L594.5 243.4L600.4 242.1L606.6 240.0L612.8 243.2L617.0 242.2L621.1 239.4L625.3 243.4L631.5 239.7L637.8 239.5L641.9 240.5L646.1 239.1L650.3 239.6L654.4 240.1L658.6 238.5L662.7 237.9L666.9 240.1L671.1 242.0L675.2 238.4L679.4 238.3L683.5 237.2L687.7 235.4L693.8 237.3L699.9 237.9L704.0 237.4L708.0 234.4L712.1 234.6L716.2 232.9L720.3 231.2L724.5 229.4L728.7 230.5L732.8 228.9L737.0 229.9L742.7 227.2L748.4 226.8L754.0 222.7L759.5 225.8L765.1 222.6L770.7 224.2L776.3 221.3L781.9 220.6L787.6 220.0L793.3 220.1L798.2 222.3L803.1 223.8L808.2 221.1L813.4 219.4L816.8 222.6L820.1 226.5L823.8 229.8L828.7 233.1L833.7 236.7L838.8 240.2L843.8 241.6L846.4 245.7L849.2 248.5L851.7 251.4L855.2 254.5L859.1 257.3L862.6 261.9L866.4 264.2L871.0 267.6L875.9 271.7L881.0 275.3L885.9 276.5L889.2 279.2L892.9 281.6L896.3 283.7L900.0 288.2L903.9 292.2L907.5 296.1L910.6 298.3L914.9 299.0L919.2 298.4L924.2 299.2L929.1 299.5L934.3 302.5L939.4 305.3L945.1 304.5L950.8 306.4L956.4 308.1L962.0 310.5L967.9 311.0L973.6 311.3L978.3 315.8L982.9 319.3L987.2 320.2L991.5 321.5L996.2 324.8L1001.0 327.3L1003.7 330.5L1006.1 334.5L1008.9 337.3L1012.7 340.8L1016.3 343.3L1018.7 347.5L1021.6 351.1L1024.1 354.5L1027.1 358.0L1029.8 363.1L1033.4 362.6L1037.0 360.5L1039.8 354.8L1042.0 349.8L1045.6 347.4L1049.4 343.9L1053.1 340.1L1055.9 344.3L1059.0 349.2L1061.8 350.5L1067.4 355.7L1073.1 352.6L1078.8 353.3L1081.3 357.8L1084.2 362.3L1087.3 366.5L1089.2 371.9L1091.0 376.6L1093.0 381.2L1096.4 386.3L1099.7 391.7L1100.8 395.5L1102.6 399.4L1104.0 402.9L1106.8 408.5L1109.0 413.7L1110.9 417.5L1113.3 422.6L1114.8 426.3L1117.0 430.0L1118.8 434.1L1120.0 439.8L1120.6 445.5L1121.4 451.0L1122.9 456.5L1124.6 462.1L1124.7 468.1L1126.1 473.8L1127.0 478.7L1128.9 484.6L1129.7 490.8L1131.0 495.3L1132.5 500.6L1134.1 505.0L1135.0 508.8L1135.8 513.1L1137.3 518.4L1138.9 523.0L1140.1 528.6L1141.5 534.5L1142.8 538.6L1143.9 542.9L1144.8 547.0L1145.5 551.5L1145.2 555.6L1145.7 560.1L1146.0 564.3L1147.2 569.3L1147.1 574.0L1148.6 579.9L1149.6 585.4L1150.8 591.4L1152.5 596.7L1153.0 601.6L1154.7 606.0L1154.8 610.1L1156.4 616.0L1158.6 621.9L1158.8 626.0L1158.5 630.5L1159.0 635.1L1159.9 639.1L1160.4 643.5L1161.5 648.2L1162.0 653.7L1162.4 659.5L1162.5 664.1L1163.1 669.2L1163.8 674.1L1164.6 679.3L1164.8 685.1L1164.9 689.4L1165.4 693.9L1166.8 698.8L1167.6 704.7L1167.6 710.6L1167.3 714.7L1168.0 718.9L1168.1 723.3L1169.1 729.4L1169.7 735.5L1170.6 739.4L1170.8 744.1L1171.2 747.9L1172.3 754.5L1171.6 760.5L1172.8 764.8L1173.5 768.6L1173.9 773.0L1173.9 776.9L1173.9 781.2L1174.7 785.6L1175.2 791.5L1175.8 797.9L1176.1 803.9L1175.7 810.0L1176.7 815.5L1177.6 821.4L1177.3 827.2L1177.7 833.1L1178.5 838.9L1178.0 844.2L1178.0 850.8L1178.3 856.8L1179.6 862.3L1179.4 867.6L1180.1 873.6L1180.3 879.8L1180.6 885.7L1181.2 892.0L1180.8 897.4L1181.3 902.4L1182.1 906.7L1182.0 911.0L1182.7 915.8L1182.1 920.5L1183.4 925.9L1183.6 931.9L1183.5 938.2L1183.1 944.4L1183.6 950.0L1184.5 955.7L1185.5 961.9L1186.2 966.0L1185.8 970.7L1187.1 975.4L1187.9 980.8L1187.7 987.0L1188.9 990.9L1188.4 995.8L1189.7 1000.2L1190.1 1006.0L1189.8 1012.0L1190.9 1018.2L1191.0 1024.1L1191.5 1030.2L1191.1 1035.9L1191.7 1040.0L1192.3 1044.1L1191.7 1048.8L1192.7 1054.3L1193.1 1059.6L1192.7 1064.4L1192.9 1068.4L1193.4 1073.2L1193.3 1078.7L1193.9 1083.7L1193.9 1088.5L1195.0 1092.4L1195.1 1096.8L1194.9 1102.6L1196.1 1108.7L1195.9 1114.5L1196.1 1120.3L1196.9 1124.7L1197.1 1129.2L1197.3 1133.4L1197.2 1138.7L1197.4 1144.4L1197.6 1148.9L1197.9 1153.0L1198.6 1157.6L1198.7 1163.2L1199.8 1169.4L1199.6 1175.1L1199.6 1181.3L1199.6 1185.1L1200.8 1189.4L1200.6 1193.4L1201.0 1199.7L1201.9 1205.1L1201.6 1211.7L1202.3 1217.4L1203.4 1223.4L1203.4 1228.9L1204.1 1234.8L1205.1 1240.8L1206.4 1246.6L1206.6 1252.2L1206.9 1258.3L1208.3 1264.4L1208.7 1269.8L1209.0 1275.4L1210.7 1281.4L1211.5 1287.3L1212.2 1292.6L1212.5 1298.2L1213.7 1304.2L1213.6 1310.7L1214.5 1316.4L1215.5 1321.6L1216.8 1327.4L1217.3 1333.3L1217.1 1337.2L1218.1 1341.2L1218.6 1345.8L1219.3 1351.0L1220.0 1355.6L1221.5 1359.5L1221.9 1363.9L1222.5 1367.8L1224.1 1373.5L1226.0 1379.4L1226.5 1384.3L1227.7 1388.9L1229.4 1393.5L1229.6 1398.3L1230.8 1402.7L1232.2 1407.3L1233.1 1411.5L1235.3 1416.1L1237.2 1419.7L1238.3 1424.1L1240.3 1427.3L1241.7 1431.9L1243.6 1435.2L1246.4 1440.8L1248.6 1446.9L1250.3 1450.6L1252.0 1454.1L1253.9 1458.6L1255.5 1462.7L1257.5 1466.9L1259.0 1471.0L1261.3 1475.5L1264.0 1480.8L1268.1 1484.0L1272.0 1487.2L1276.6 1491.2L1280.8 1494.4L1284.9 1498.5L1288.7 1500.5L1292.9 1501.1L1297.0 1502.8L1301.0 1504.0L1307.0 1505.5L1313.0 1506.4L1319.0 1504.8L1325.0 1503.0L1329.3 1500.1L1333.5 1498.4L1337.8 1494.9L1342.7 1494.0L1347.4 1492.1L1350.9 1490.0L1354.2 1486.9L1357.7 1483.8L1362.1 1482.7L1366.8 1479.9L1366.9 1476.2L1368.0 1472.3L1368.2 1468.2L1369.1 1463.7L1369.8 1459.4L1371.2 1454.6L1372.4 1449.1L1373.9 1443.1L1375.0 1436.6L1379.4 1433.5L1383.9 1430.1L1387.8 1427.5L1389.2 1422.9L1389.6 1418.3L1391.2 1414.2L1391.4 1409.3L1392.1 1405.2L1393.8 1401.1L1394.5 1396.7L1394.5 1392.7L1396.1 1387.4L1397.2 1381.4L1398.0 1377.2L1399.0 1372.8L1400.1 1368.8L1401.3 1362.9L1402.6 1357.4L1403.9 1352.8L1404.6 1348.8L1405.0 1344.1L1406.4 1339.5L1406.2 1335.3L1408.2 1330.6L1409.1 1325.2L1410.0 1320.3L1410.8 1315.6L1412.0 1311.1L1412.7 1306.6L1413.7 1302.4L1415.2 1297.6L1416.6 1292.8L1418.2 1287.6L1420.0 1282.5L1421.7 1277.3L1424.2 1271.7L1425.3 1266.2L1427.3 1261.6L1428.8 1256.9L1431.3 1251.7L1431.9 1245.7L1431.6 1240.0L1433.2 1233.6L1433.8 1227.1L1434.3 1221.8L1434.1 1215.9L1434.6 1211.9L1435.8 1207.5L1436.2 1202.9L1437.0 1197.0L1437.9 1190.9L1438.4 1185.1L1439.1 1179.1L1439.4 1172.8L1440.1 1166.5L1441.2 1160.3L1441.3 1154.5L1442.7 1149.0L1442.3 1143.3L1443.5 1138.8L1443.1 1134.3L1444.1 1130.2L1445.0 1124.3L1444.5 1118.4L1445.2 1113.2L1445.5 1107.1L1446.6 1103.2L1446.2 1098.3L1447.2 1094.2L1446.9 1088.9L1448.5 1083.7L1448.1 1079.2L1449.2 1075.1L1449.4 1071.0L1449.4 1067.2L1449.7 1062.5L1449.7 1058.6L1450.2 1053.3L1450.2 1048.6L1450.9 1044.2L1451.0 1039.3L1451.8 1034.9L1452.6 1029.5L1452.6 1024.0L1452.7 1018.3L1453.3 1011.8L1453.5 1005.9L1453.8 1000.0L1454.6 995.9L1455.1 991.4L1455.4 986.9L1455.6 980.5L1455.7 974.3L1456.2 969.7L1455.8 964.7L1456.6 960.2L1455.9 954.5L1456.2 948.1L1457.6 943.8L1458.2 939.1L1458.5 934.4L1459.5 928.9L1460.3 923.0L1461.0 918.6L1460.8 914.4L1461.8 910.0L1462.8 903.8L1463.4 897.7L1464.0 893.5L1464.2 889.7L1465.6 885.0L1465.8 881.1L1466.3 877.0L1466.4 872.7L1468.4 867.0L1468.6 860.5L1468.7 856.2L1470.2 852.1L1470.1 847.3L1471.6 842.1L1471.9 836.4L1472.9 831.6L1473.4 827.2L1473.5 822.1L1474.2 817.2L1474.1 811.5L1475.3 806.8L1475.9 802.3L1475.8 798.1L1477.1 792.2L1476.6 786.0L1477.7 779.9L1478.9 773.5L1478.3 769.6L1479.0 765.1L1479.4 761.1L1480.5 756.8L1480.7 752.4L1481.4 748.3L1481.3 742.8L1481.6 736.8L1482.7 732.1L1482.7 727.7L1482.9 722.8L1483.7 717.8L1485.1 712.3L1485.7 706.6L1486.6 700.2L1487.4 696.0L1487.3 691.8L1488.6 687.8L1488.5 682.6L1489.3 677.5L1490.1 673.1L1490.6 668.8L1491.1 664.2L1492.5 659.2L1493.3 653.9L1493.9 649.4L1494.1 645.2L1494.2 640.8L1496.4 636.5L1497.9 632.7L1499.4 628.8L1500.7 624.2L1502.9 619.9L1503.9 615.6L1505.9 611.9L1507.4 607.4L1509.6 603.7L1510.7 599.6L1512.3 595.0L1514.0 590.6L1516.1 587.1L1517.8 583.0L1518.8 578.9L1520.8 573.7L1523.1 569.2L1525.1 566.6L1530.2 564.2L1535.3 567.1L1539.9 564.0L1541.9 560.8L1543.6 556.8L1546.3 552.0L1548.7 547.8L1551.1 542.9L1554.1 540.0L1556.3 535.9L1558.4 538.9L1561.3 542.1L1563.4 545.8L1564.8 550.5L1567.1 555.0L1569.5 557.3L1572.5 560.5L1574.7 564.0L1577.3 568.3L1581.7 570.3L1586.1 574.4L1590.6 575.0L1595.0 575.9L1600.4 576.0L1605.7 578.0L1611.4 579.0L1617.1 581.3L1622.8 580.9L1628.4 582.6L1632.6 584.2L1636.7 585.3L1640.7 587.3L1644.3 590.7L1647.9 595.4L1651.3 600.0L1654.3 604.8L1657.0 609.4L1660.2 612.8L1664.5 616.0L1668.8 617.8L1673.5 621.0L1678.1 622.7L1683.0 625.5L1687.5 628.7L1691.5 631.4L1695.5 634.6L1699.7 634.8L1703.8 631.8L1708.1 632.8L1710.9 637.1L1714.3 641.5L1717.2 646.7L1719.5 650.1L1722.3 653.9L1724.5 657.8L1726.3 661.8L1728.3 666.1L1729.7 670.0L1732.5 673.3L1734.6 677.5L1736.2 680.8L1737.7 685.5L1739.8 689.3L1742.4 694.5L1744.9 699.8L1747.7 704.7L1749.5 710.0L1751.7 714.7L1753.4 719.1L1754.5 723.5L1756.5 726.7L1758.3 731.5L1760.8 736.0L1762.4 740.5L1762.6 748.4L1766.7 743.8L1770.9 739.9L1775.7 738.1L1780.5 734.2L1784.4 733.3L1788.6 732.0L1789.8 728.0L1791.7 723.7L1793.4 719.4L1795.2 714.9L1796.6 711.5L1798.0 707.5L1799.7 701.1L1800.4 695.4L1801.8 690.0L1802.3 683.9L1803.6 679.6L1804.0 675.4L1804.6 671.2L1806.6 666.0L1807.3 660.3L1808.2 655.9L1809.4 651.7L1809.8 647.8L1810.0 642.0L1811.3 635.8L1812.0 631.3L1813.1 627.3L1813.0 622.8L1813.7 616.8L1814.7 611.3L1815.7 606.8L1816.6 602.4L1816.9 597.7L1818.4 592.0L1819.1 586.2L1819.8 579.9L1821.0 573.5L1821.0 569.4L1822.4 565.1L1822.7 560.6L1822.5 555.1L1823.9 549.7L1823.5 545.3L1824.3 539.9L1825.0 535.3L1826.0 529.7L1826.8 524.4L1826.4 520.0L1827.7 515.6L1828.0 511.5L1828.0 507.0L1829.1 503.2L1828.4 499.1L1830.1 494.6L1830.6 490.4L1830.1 486.0L1830.9 482.2L1831.6 477.7L1833.0 473.5L1833.5 469.1L1834.0 464.2L1834.1 459.5L1834.8 454.3L1836.0 448.2L1836.8 443.3L1836.6 438.7L1837.2 434.1L1838.3 428.8L1838.7 423.3L1840.4 417.8L1841.2 411.5L1842.1 405.7L1842.1 399.5L1843.8 394.1L1844.2 388.9L1844.6 382.8L1846.0 376.4L1846.8 370.7L1847.1 365.1L1847.4 359.3L1848.6 353.4L1849.3 347.6L1850.1 342.5L1850.2 337.9L1850.8 334.1L1852.2 329.5L1854.1 324.2L1855.0 317.9L1856.8 314.2L1857.4 309.9L1858.9 305.9L1860.9 301.8L1861.1 297.2L1862.4 293.3L1864.6 287.3L1866.4 282.5L1869.7 276.8L1872.7 271.9L1875.7 267.8L1878.7 263.2L1882.2 258.5L1885.5 255.4L1889.4 252.2L1893.2 250.8L1897.2 247.3L1901.1 246.1L1905.3 245.9L1909.5 246.7L1913.6 245.2L1919.6 247.0L1925.5 247.8L1931.5 245.5L1937.5 246.0L1943.4 244.3L1949.4 248.8L1955.3 248.0L1961.3 246.0L1967.4 243.3L1973.5 247.6L1979.6 244.1L1985.7 246.9L1991.8 247.5L1997.9 241.8L2003.9 242.2L2010.0 242.5L2016.1 245.7L2022.2 246.8L2028.3 247.3L2034.4 245.3L2040.4 243.3L2046.5 241.8L2052.6 243.6L2058.7 244.7L2064.8 243.3L2070.9 246.0L2077.0 245.9L2083.0 244.5L2089.1 244.0L2095.2 246.7L2101.3 245.4L2107.4 241.8L2113.5 245.8L2119.5 244.9L2125.6 242.6L2131.7 243.9L2137.8 242.8L2143.9 241.3L2150.0 245.8L2156.0 240.6L2162.1 241.4L2168.2 244.6L2174.3 243.9L2180.4 241.5L2186.4 244.0L2192.5 243.8L2198.6 244.0L2204.7 241.6L2210.8 245.4L2216.9 242.8" stroke="#ff0000" stroke-width="8.5"/>
<path d="M384.5 250.4L390.5 249.2L396.5 250.1L402.5 251.3L408.5 250.2L414.4 247.6L420.4 251.1L426.4 248.1L432.4 251.4L438.4 249.7L444.4 250.0L450.4 247.8L456.4 249.1L462.3 247.2L468.3 249.8L474.3 247.8L480.3 245.9L486.3 247.0L492.3 245.4L498.3 249.2L504.3 246.3L510.3 250.0L516.3 246.9L522.2 247.4L528.2 245.5L534.2 248.4L540.2 245.9L546.2 248.1L552.2 248.0L558.2 247.7L564.2 247.5L570.2 248.0L576.2 247.2L582.1 250.6L588.1 245.8L594.2 246.1L600.2 245.3L604.4 247.2L608.6 245.8L612.8 246.4L616.9 246.1L621.1 245.8L625.3 245.0L629.5 243.0L633.6 247.0L637.8 244.5L642.0 246.2L646.2 244.2L650.3 246.7L654.5 244.4L658.7 242.2L662.9 244.5L667.0 244.0L671.2 242.8L675.4 241.4L679.5 243.8L683.7 242.3L687.9 242.9L692.1 242.0L696.4 242.5L700.6 240.6L704.8 239.6L709.0 239.9L713.2 238.5L717.3 238.6L721.5 236.2L725.6 236.5L729.8 234.8L733.8 234.0L738.0 232.1L743.5 230.7L749.0 228.2L754.6 232.5L760.2 229.2L765.8 229.8L771.4 227.9L777.0 227.0L782.6 222.5L788.1 223.7L793.5 225.6L798.0 227.7L802.6 227.6L806.9 227.7L811.2 226.4L816.0 230.3L820.8 234.7L825.5 237.9L830.5 241.2L835.5 243.5L840.4 246.6L843.8 251.3L847.6 255.9L851.3 259.3L854.8 261.7L858.7 265.9L862.5 271.0L867.5 273.3L872.7 277.0L877.5 278.8L882.4 281.3L887.3 284.7L892.1 289.0L895.6 293.1L899.0 296.2L903.5 301.3L907.3 305.1L912.8 306.2L918.3 307.6L923.2 305.3L928.2 307.8L933.0 309.0L937.9 311.1L943.4 311.7L948.8 313.4L954.4 315.7L959.9 315.7L965.3 317.7L970.8 317.5L974.9 320.8L979.1 323.3L983.2 327.0L987.6 331.7L991.7 331.5L995.6 334.0L999.5 336.3L1002.8 339.8L1005.4 344.5L1007.5 348.3L1010.2 352.3L1013.9 355.5L1017.6 358.9L1020.3 361.0L1023.2 364.5L1026.2 365.7L1031.1 368.3L1036.0 366.2L1040.7 368.5L1043.9 364.6L1046.3 361.7L1049.5 357.8L1050.2 352.6L1051.4 346.4L1053.0 351.4L1055.4 356.2L1057.5 361.7L1063.1 360.9L1068.7 361.0L1074.5 359.8L1076.9 365.7L1078.5 371.0L1080.9 375.1L1083.2 379.6L1084.7 385.0L1088.4 389.9L1091.1 395.6L1092.6 398.8L1094.5 403.1L1095.6 406.7L1097.7 412.2L1100.0 416.5L1102.6 421.7L1104.8 426.8L1107.0 432.1L1109.0 436.7L1110.4 442.1L1111.5 448.0L1112.2 452.9L1113.9 457.9L1115.1 463.6L1115.9 469.8L1117.4 476.1L1117.9 481.7L1119.2 486.3L1121.1 491.4L1122.0 495.8L1122.9 499.5L1123.5 504.2L1125.2 510.1L1126.3 515.4L1128.1 520.3L1129.9 525.5L1130.5 531.2L1132.3 537.9L1134.4 542.8L1135.8 548.0L1135.9 553.0L1135.5 557.3L1136.7 561.8L1137.0 566.2L1137.0 570.2L1137.3 574.8L1138.5 579.1L1139.8 584.1L1141.2 588.4L1141.8 594.2L1143.9 599.7L1144.4 603.7L1146.0 607.9L1146.0 612.1L1147.1 616.2L1148.4 620.3L1149.1 624.2L1150.0 630.2L1150.6 636.3L1150.8 640.7L1151.6 645.0L1151.8 649.8L1152.9 655.8L1153.4 661.4L1154.7 666.2L1154.4 670.7L1155.4 674.6L1156.2 678.8L1156.0 683.4L1157.0 687.4L1157.2 693.3L1158.2 699.8L1157.9 703.9L1158.6 707.8L1159.5 711.8L1160.3 716.5L1160.7 720.8L1160.6 725.0L1161.2 730.8L1161.9 737.1L1162.1 740.8L1162.9 745.1L1163.2 749.5L1164.0 754.0L1163.4 757.7L1164.6 762.3L1165.1 768.4L1165.7 774.1L1166.3 778.8L1166.2 782.4L1167.1 787.1L1168.0 792.7L1168.9 799.3L1169.0 803.3L1168.8 807.1L1168.9 811.8L1170.0 816.5L1169.2 821.9L1170.3 827.7L1170.8 834.5L1170.5 840.6L1171.0 846.6L1171.3 851.5L1171.6 856.8L1172.6 861.1L1173.1 865.4L1173.5 869.1L1173.9 875.2L1173.2 880.9L1173.7 886.8L1174.5 892.7L1174.9 898.5L1175.5 903.9L1175.6 910.0L1175.9 915.6L1176.0 921.8L1176.8 927.4L1176.6 933.2L1178.2 938.6L1178.3 944.8L1177.8 951.0L1179.5 957.0L1179.2 963.1L1180.4 967.4L1180.9 971.5L1180.8 975.9L1181.2 980.1L1182.6 984.1L1182.6 988.4L1183.3 994.3L1184.1 1000.0L1184.1 1004.0L1185.2 1008.2L1185.0 1012.9L1185.6 1018.5L1186.0 1024.7L1186.1 1030.6L1186.0 1036.3L1186.7 1042.5L1187.5 1048.6L1187.2 1052.6L1187.0 1057.1L1188.1 1061.8L1188.3 1066.6L1188.0 1071.9L1189.1 1076.0L1189.1 1080.5L1188.9 1084.8L1189.4 1089.2L1190.4 1093.5L1189.8 1097.7L1189.9 1102.7L1190.2 1107.8L1191.7 1112.4L1191.1 1117.1L1192.1 1121.3L1192.4 1126.8L1191.7 1133.0L1192.9 1139.1L1193.0 1144.9L1193.5 1151.1L1194.3 1157.3L1193.5 1163.0L1194.7 1169.3L1194.3 1175.2L1195.8 1180.9L1195.6 1187.1L1195.6 1193.5L1195.8 1199.4L1197.1 1205.5L1197.5 1211.0L1197.9 1217.3L1198.5 1221.4L1198.5 1225.6L1199.3 1229.8L1199.9 1235.2L1200.2 1240.4L1201.6 1246.2L1201.6 1252.1L1202.0 1258.4L1203.1 1264.1L1204.6 1269.7L1204.6 1275.6L1205.5 1281.4L1206.1 1286.9L1207.5 1292.7L1207.7 1298.5L1207.7 1302.8L1208.6 1306.7L1209.0 1311.3L1210.4 1315.9L1211.1 1321.1L1211.5 1327.2L1211.7 1333.4L1213.1 1339.6L1213.4 1345.8L1214.2 1351.0L1215.5 1356.2L1215.4 1360.3L1216.5 1364.7L1217.1 1369.0L1218.7 1374.2L1220.0 1379.7L1221.3 1385.3L1222.6 1391.4L1224.0 1397.1L1225.2 1402.7L1226.8 1407.9L1228.2 1413.5L1229.4 1417.7L1231.2 1421.9L1233.0 1426.4L1235.7 1431.9L1238.1 1437.2L1239.7 1440.8L1241.9 1444.9L1243.2 1449.5L1246.1 1455.3L1248.6 1460.5L1250.1 1464.7L1251.8 1468.1L1253.5 1472.9L1255.0 1476.6L1257.5 1480.7L1258.9 1484.2L1263.4 1488.3L1268.0 1491.5L1272.5 1496.1L1277.0 1500.2L1281.6 1504.2L1286.1 1508.4L1290.7 1507.2L1295.2 1509.5L1299.8 1509.5L1304.4 1510.2L1309.0 1511.6L1313.6 1511.8L1318.2 1511.3L1322.7 1509.1L1327.4 1507.5L1331.8 1505.2L1336.1 1503.8L1340.6 1500.5L1345.8 1499.8L1350.9 1497.3L1356.1 1494.0L1361.1 1490.2L1364.6 1487.6L1368.4 1486.7L1372.0 1483.9L1373.2 1478.4L1374.5 1472.1L1375.2 1467.2L1376.9 1462.5L1377.6 1456.1L1379.5 1449.9L1379.7 1445.2L1380.7 1440.1L1385.0 1437.1L1389.4 1436.0L1393.2 1433.4L1394.4 1427.8L1395.9 1423.0L1397.0 1417.9L1397.6 1412.7L1399.4 1407.9L1399.8 1403.4L1401.2 1398.9L1402.0 1394.0L1403.5 1388.1L1404.9 1382.3L1406.2 1376.4L1407.6 1370.7L1408.2 1365.1L1409.4 1359.1L1411.0 1354.0L1411.8 1348.6L1413.2 1343.2L1414.4 1338.5L1415.3 1332.4L1416.5 1326.9L1417.1 1321.2L1418.6 1315.1L1419.4 1310.8L1419.9 1306.5L1422.1 1300.4L1424.2 1295.2L1426.0 1289.2L1427.0 1283.3L1429.2 1279.4L1430.9 1274.8L1433.0 1269.6L1434.4 1264.2L1436.0 1258.5L1437.4 1253.0L1439.2 1246.8L1439.4 1240.7L1439.5 1234.6L1440.7 1228.5L1441.8 1222.9L1442.3 1216.3L1442.4 1212.4L1442.5 1208.1L1443.4 1203.5L1444.0 1198.3L1445.2 1192.7L1445.0 1188.3L1445.6 1183.7L1445.9 1179.6L1446.7 1173.7L1448.0 1167.5L1448.1 1161.7L1448.4 1156.1L1448.8 1151.3L1450.1 1147.0L1449.5 1143.0L1450.8 1137.2L1451.2 1131.5L1451.7 1127.7L1452.2 1123.0L1452.4 1118.6L1452.3 1113.2L1453.1 1107.5L1453.9 1101.7L1454.4 1096.0L1454.3 1089.5L1455.6 1083.8L1455.5 1077.4L1456.1 1071.5L1456.6 1066.1L1457.4 1060.3L1457.7 1054.1L1457.9 1048.2L1458.7 1042.1L1459.3 1035.7L1459.1 1030.0L1460.5 1024.7L1460.9 1018.4L1461.4 1012.2L1460.6 1006.4L1461.2 1000.9L1461.2 996.3L1461.9 991.2L1462.2 986.5L1462.9 980.6L1463.5 974.7L1462.6 970.3L1463.8 965.7L1463.5 960.9L1463.4 956.3L1463.4 951.9L1463.8 947.7L1464.9 942.3L1465.1 936.8L1466.2 932.2L1466.5 927.5L1467.3 923.0L1468.4 917.1L1468.9 910.9L1469.1 907.0L1470.3 902.7L1470.6 898.5L1471.7 892.3L1472.0 886.5L1472.8 882.0L1473.4 877.6L1473.9 873.1L1475.0 867.5L1476.3 861.6L1476.6 857.0L1477.7 852.6L1477.2 848.7L1478.3 844.5L1478.6 840.4L1479.6 836.3L1480.5 829.7L1480.5 824.1L1481.6 819.6L1481.0 815.3L1481.7 810.9L1482.9 805.1L1483.8 799.2L1484.4 795.0L1484.3 790.8L1484.8 786.3L1485.0 781.9L1485.1 777.7L1486.3 773.4L1486.8 767.9L1487.2 761.9L1487.8 757.6L1487.9 753.0L1488.1 749.4L1488.3 744.6L1489.7 740.0L1490.1 735.3L1490.8 730.6L1491.5 725.0L1491.4 720.8L1492.1 716.9L1492.1 712.5L1492.8 707.9L1494.1 703.8L1494.7 699.8L1494.6 695.2L1495.6 690.3L1495.8 685.7L1497.2 681.5L1497.6 676.9L1497.7 671.1L1499.3 665.4L1499.3 659.9L1500.6 654.0L1500.8 648.1L1501.7 642.6L1503.3 639.2L1505.5 635.2L1506.9 630.9L1508.6 627.3L1510.6 622.6L1512.2 618.2L1513.4 614.2L1515.2 610.2L1516.9 606.7L1518.8 601.7L1520.0 597.9L1521.3 593.7L1524.4 587.8L1526.8 582.1L1528.1 575.8L1529.6 569.7L1534.4 570.8L1539.2 571.9L1543.9 573.0L1546.1 568.0L1549.0 563.5L1550.8 560.2L1553.9 554.6L1556.6 550.0L1557.5 544.2L1555.7 549.6L1557.6 554.5L1560.0 558.6L1562.8 562.6L1565.9 565.2L1569.0 569.0L1572.5 572.8L1575.7 576.9L1579.3 579.3L1582.6 581.6L1587.6 583.5L1592.6 583.1L1598.5 584.1L1604.4 585.9L1610.0 586.6L1615.5 587.7L1621.0 590.8L1626.5 590.0L1631.5 592.4L1636.5 593.4L1639.2 596.5L1641.6 601.5L1644.7 604.9L1647.9 608.7L1650.1 611.9L1652.1 615.5L1654.7 619.7L1659.7 622.3L1664.7 624.0L1669.4 626.8L1674.1 629.2L1678.8 633.7L1683.5 637.4L1688.7 637.9L1694.0 640.2L1699.1 639.9L1704.3 639.9L1707.4 644.5L1710.2 650.5L1713.2 654.1L1715.7 657.8L1717.8 662.3L1720.7 666.6L1722.8 671.9L1725.6 676.7L1728.3 681.8L1730.3 686.7L1732.6 691.3L1735.4 696.7L1738.1 702.3L1739.9 706.1L1741.2 710.2L1743.0 714.4L1745.9 718.6L1748.6 724.2L1749.9 728.9L1751.7 734.4L1754.0 739.8L1755.5 744.7L1758.7 748.4L1761.6 753.8L1765.7 750.9L1770.0 749.6L1774.2 747.1L1778.7 743.4L1783.3 740.8L1788.2 738.2L1793.6 736.1L1794.9 731.7L1796.7 726.8L1798.9 721.1L1801.4 716.2L1804.6 710.5L1805.0 705.8L1805.5 700.6L1806.7 696.3L1807.4 690.7L1808.5 684.8L1810.2 679.6L1811.3 673.7L1811.7 669.0L1812.8 664.6L1813.4 660.3L1813.8 654.8L1815.6 649.8L1816.4 645.0L1816.4 641.1L1817.4 636.4L1818.3 630.5L1819.4 624.1L1819.4 618.1L1820.7 612.2L1821.3 607.7L1821.8 603.3L1823.1 599.2L1823.7 594.9L1823.9 590.6L1824.9 586.8L1825.0 580.8L1826.5 575.3L1826.6 570.6L1827.3 565.8L1828.1 561.5L1828.5 555.5L1829.1 549.4L1830.1 543.4L1830.2 537.9L1829.9 533.1L1831.2 528.8L1831.0 524.1L1832.2 518.2L1833.1 512.5L1833.5 506.1L1833.9 499.9L1833.8 495.8L1835.1 491.3L1835.0 487.2L1836.4 482.6L1837.1 478.0L1837.0 474.0L1837.6 467.8L1838.8 461.9L1840.0 457.5L1840.6 452.7L1840.8 447.9L1841.4 441.6L1841.9 435.5L1842.6 430.4L1843.9 424.5L1843.8 420.3L1845.1 415.8L1844.9 411.8L1846.0 406.7L1846.4 401.9L1846.9 397.2L1848.6 393.3L1848.0 389.2L1849.1 383.4L1850.3 378.0L1850.5 372.3L1851.6 366.7L1852.2 362.5L1852.5 358.2L1853.0 354.6L1854.3 348.8L1855.0 343.4L1855.8 337.5L1856.4 331.7L1857.7 325.6L1859.7 319.7L1860.5 315.9L1861.8 311.8L1863.9 307.6L1865.6 301.8L1867.0 296.4L1867.7 292.3L1869.5 288.2L1870.3 284.3L1873.4 279.0L1876.4 275.4L1879.4 270.7L1882.2 267.7L1885.4 263.3L1887.7 259.1L1892.4 256.5L1897.1 253.8L1901.8 252.0L1907.4 252.2L1913.0 250.8L1919.0 251.7L1924.9 252.7L1930.9 249.9L1936.9 250.1L1942.8 248.2L1948.8 249.4L1954.7 250.8L1960.7 253.6L1966.8 253.1L1972.8 250.5L1978.9 248.8L1985.0 250.5L1991.1 252.8L1997.2 251.5L2003.3 248.4L2009.4 248.2L2015.5 253.3L2021.6 248.5L2027.7 248.0L2033.8 248.8L2039.9 251.3L2046.0 248.1L2052.1 251.0L2058.2 249.8L2064.3 249.7L2070.4 249.9L2076.5 249.7L2082.6 252.2L2088.8 250.3L2094.9 252.3L2101.0 249.0L2107.1 250.8L2113.2 253.1L2119.3 249.8L2125.4 248.1L2131.5 250.3L2137.6 252.6L2143.7 249.1L2149.8 253.4L2155.9 249.1L2162.1 249.2L2168.2 248.8L2174.3 250.0L2180.4 250.1L2186.5 251.4L2192.6 251.7L2198.7 250.0L2204.8 248.0L2210.9 251.7L2217.1 250.6" stroke="#ff0000" stroke-width="8.5"/>
<path d="M385.5 241.4L391.5 242.7L397.4 241.3L403.4 242.4L409.4 242.7L415.3 241.5L421.3 239.3L427.3 239.6L433.2 240.4L439.2 240.4L445.2 241.6L451.1 242.7L457.1 240.9L463.0 238.6L469.0 240.8L475.0 238.5L480.9 241.9L486.9 238.7L492.8 242.5L498.8 240.1L504.8 239.7L510.7 237.8L516.7 239.8L522.6 239.9L528.6 237.9L534.5 241.5L540.5 238.8L546.5 238.9L552.4 241.3L558.4 242.0L564.3 240.5L570.3 237.9L576.2 237.6L582.2 237.3L588.2 242.6L594.1 240.3L600.0 238.0L606.2 238.9L612.4 240.7L618.7 237.5L624.9 241.7L631.1 238.4L637.4 241.8L641.5 239.8L645.7 238.6L649.8 235.8L656.1 237.4L662.3 239.3L666.5 237.6L670.6 238.5L674.8 239.0L681.0 236.3L687.3 239.6L693.4 239.7L699.6 239.6L705.4 239.7L711.1 237.8L716.9 235.7L722.8 236.2L728.6 237.2L734.4 235.5L740.2 233.8L746.0 232.6L751.8 233.2L757.7 233.9L763.5 233.1L769.3 231.1L775.1 230.0L781.0 231.0L786.5 229.9L792.0 229.5L796.2 229.2L800.4 227.4L804.5 227.7L809.1 224.4L813.5 223.1L818.1 222.2L824.0 220.6L829.9 219.9L835.5 220.2L841.1 220.3L847.1 216.7L853.1 220.0L857.7 220.6L862.3 220.2L866.9 221.6L871.6 222.7L876.4 225.1L881.0 227.9L883.9 231.3L886.6 235.7L889.5 239.1L891.8 242.5L894.1 246.8L896.4 249.1L901.0 253.0L905.7 255.4L910.5 258.6L915.5 263.0L920.1 266.0L924.9 268.3L930.8 268.7L936.7 270.4L940.8 270.3L945.0 273.9L949.1 275.4L953.4 273.9L957.7 273.9L961.9 272.7L965.6 276.8L969.0 279.6L972.4 282.0L977.3 283.8L982.3 285.0L987.5 287.3L992.8 290.6L995.4 293.3L998.5 297.1L1001.6 300.2L1005.8 303.1L1010.3 306.1L1014.4 309.2L1018.4 312.6L1023.7 316.3L1029.1 318.3L1034.1 318.8L1039.2 320.5L1043.5 317.4L1048.0 314.4L1053.0 312.4L1057.9 312.2L1061.6 311.1L1065.3 307.5L1069.0 305.9L1074.3 308.4L1079.6 308.8L1084.7 311.3L1090.3 315.0L1091.3 319.2L1092.6 322.6L1094.0 327.1L1096.1 332.0L1097.9 337.0L1098.6 341.6L1100.6 345.7L1101.5 349.8L1103.2 354.2L1104.7 358.4L1109.5 363.4L1114.0 367.5L1118.2 362.4L1122.3 358.6L1124.2 363.4L1126.4 368.2L1128.6 373.5L1130.4 377.5L1132.0 381.0L1133.8 385.5L1135.3 389.5L1136.6 393.5L1138.8 397.7L1139.2 402.1L1140.3 406.7L1141.7 410.9L1142.5 416.8L1143.8 422.4L1144.9 426.7L1145.4 431.6L1146.0 435.8L1147.7 441.4L1148.6 447.6L1149.7 451.7L1150.1 455.8L1151.1 460.2L1152.4 466.2L1153.4 472.5L1153.8 476.5L1155.1 481.3L1155.5 485.5L1156.7 490.9L1157.9 497.1L1159.3 501.2L1159.8 505.8L1161.1 510.3L1161.8 516.5L1163.0 522.0L1164.0 526.1L1165.5 530.1L1166.3 534.4L1167.2 539.2L1167.8 543.2L1168.6 548.4L1165.9 552.4L1163.5 556.7L1164.1 561.7L1164.5 567.1L1166.0 573.1L1165.7 578.9L1167.4 584.9L1167.7 590.8L1168.5 596.5L1168.5 601.6L1169.5 607.8L1170.6 613.8L1170.6 618.0L1171.9 622.3L1171.6 626.5L1172.6 631.2L1173.7 636.1L1174.5 640.4L1174.4 644.8L1174.5 649.5L1175.4 655.5L1175.8 661.4L1177.0 666.8L1177.4 672.9L1178.2 677.3L1178.6 682.1L1178.2 686.2L1178.9 692.3L1180.2 698.2L1180.9 702.5L1181.4 706.5L1181.1 710.6L1182.1 714.6L1182.4 719.2L1182.6 723.4L1183.2 729.6L1184.6 735.2L1185.2 741.7L1185.2 748.0L1185.7 751.9L1186.0 756.4L1186.3 761.0L1186.9 766.8L1188.3 772.0L1188.6 776.5L1188.6 781.1L1188.8 785.7L1190.4 791.5L1190.0 797.2L1190.8 801.2L1191.4 806.1L1192.4 810.8L1192.1 816.4L1192.5 821.9L1193.8 826.2L1193.5 830.5L1194.8 834.9L1194.3 839.2L1194.8 843.3L1195.5 847.7L1196.7 853.3L1196.8 859.0L1197.1 863.9L1198.0 868.1L1198.4 872.4L1198.9 876.7L1199.0 880.9L1199.1 885.1L1198.6 889.2L1199.1 893.4L1199.9 897.4L1199.7 902.2L1199.4 906.8L1200.5 911.0L1201.0 917.1L1201.5 923.6L1200.9 928.1L1201.2 932.0L1201.4 936.5L1202.4 941.1L1201.9 945.6L1202.1 950.2L1202.3 955.8L1203.5 961.7L1203.1 965.9L1203.3 970.1L1203.1 975.0L1203.5 981.0L1203.9 987.2L1204.9 993.2L1205.3 999.0L1204.8 1005.4L1205.6 1011.4L1205.4 1017.9L1205.8 1023.7L1206.4 1029.8L1207.2 1035.5L1207.2 1039.6L1207.4 1043.7L1207.2 1048.2L1207.4 1054.2L1208.2 1060.4L1208.7 1066.3L1209.2 1071.9L1209.0 1078.1L1209.8 1084.1L1209.3 1088.5L1210.5 1093.0L1210.7 1097.0L1210.3 1102.6L1210.5 1107.5L1210.5 1112.2L1211.6 1116.6L1211.6 1121.0L1212.1 1126.8L1212.1 1132.4L1211.8 1138.4L1212.6 1144.9L1213.6 1148.7L1213.2 1153.0L1213.3 1157.1L1214.2 1163.3L1214.6 1169.1L1213.7 1174.9L1214.9 1181.0L1214.8 1187.3L1214.9 1193.5L1215.5 1199.4L1216.3 1205.2L1216.7 1211.3L1216.5 1217.8L1216.8 1223.3L1218.0 1228.9L1218.4 1235.1L1218.6 1241.3L1219.8 1247.0L1219.6 1253.1L1220.2 1259.1L1220.7 1264.5L1222.1 1270.9L1222.9 1276.8L1223.4 1283.1L1223.4 1288.9L1223.8 1294.2L1224.4 1300.2L1225.5 1304.6L1224.9 1309.0L1226.2 1313.2L1226.0 1318.6L1227.0 1323.9L1227.2 1330.0L1228.3 1335.5L1228.9 1339.9L1228.8 1344.8L1229.3 1348.7L1230.4 1353.9L1232.4 1359.3L1233.1 1363.6L1234.9 1368.5L1235.5 1373.0L1236.9 1378.9L1238.3 1385.1L1240.1 1391.2L1241.2 1396.9L1242.2 1401.4L1243.7 1405.7L1245.1 1410.0L1246.0 1414.2L1247.1 1418.2L1247.9 1422.9L1249.3 1428.4L1250.5 1433.7L1252.7 1437.9L1254.6 1442.3L1256.3 1446.2L1258.2 1451.1L1261.2 1456.4L1262.7 1460.6L1264.8 1463.7L1266.7 1467.8L1268.7 1473.8L1271.8 1479.4L1274.3 1484.5L1276.3 1489.0L1280.7 1491.3L1285.2 1492.3L1290.0 1494.0L1294.9 1497.3L1299.8 1498.3L1304.6 1500.7L1309.0 1502.6L1313.3 1504.0L1318.5 1500.9L1323.8 1497.7L1329.6 1496.8L1335.4 1493.5L1340.9 1491.4L1346.2 1489.5L1350.0 1484.4L1353.1 1481.7L1356.8 1477.8L1360.3 1476.2L1363.5 1472.8L1366.4 1468.8L1368.2 1463.2L1368.7 1457.9L1369.4 1451.9L1369.3 1446.4L1370.9 1440.4L1371.0 1433.9L1373.4 1430.7L1375.6 1426.9L1377.6 1422.4L1381.3 1417.0L1384.6 1412.0L1385.9 1406.6L1387.0 1400.6L1389.5 1395.4L1391.4 1390.9L1392.5 1386.1L1393.0 1381.8L1394.6 1377.8L1395.8 1372.9L1397.4 1367.7L1399.1 1361.9L1400.8 1356.2L1402.1 1350.1L1401.4 1344.4L1402.7 1338.3L1403.2 1332.5L1403.6 1326.7L1404.2 1321.3L1404.9 1316.7L1405.2 1312.7L1405.8 1308.3L1405.7 1302.7L1406.6 1297.5L1406.2 1293.1L1406.9 1289.0L1407.0 1285.1L1407.6 1278.3L1407.7 1272.7L1408.9 1267.0L1409.1 1261.7L1410.3 1257.4L1410.1 1253.5L1410.6 1248.9L1411.2 1242.9L1411.4 1236.7L1411.9 1231.6L1412.2 1226.2L1412.6 1221.8L1413.2 1217.0L1413.7 1212.5L1414.4 1207.6L1414.9 1202.1L1415.8 1197.9L1415.8 1193.7L1415.7 1189.4L1416.2 1183.5L1416.7 1177.7L1417.9 1171.8L1418.8 1165.6L1419.2 1160.0L1420.0 1154.0L1419.7 1148.2L1420.4 1142.1L1421.1 1136.4L1421.3 1130.3L1421.9 1124.6L1423.5 1118.0L1423.3 1112.2L1424.2 1106.9L1425.0 1102.9L1424.1 1098.4L1424.4 1094.2L1425.7 1088.4L1425.6 1083.0L1427.1 1076.7L1427.0 1071.0L1427.1 1064.7L1428.4 1058.8L1428.8 1052.5L1428.7 1046.7L1429.7 1041.1L1430.7 1036.0L1430.6 1031.6L1431.3 1026.9L1432.0 1022.5L1432.1 1017.1L1432.5 1011.7L1433.3 1005.6L1434.3 999.8L1433.8 995.3L1434.5 991.4L1434.0 986.9L1434.5 980.6L1434.9 974.7L1435.1 970.4L1434.9 966.4L1435.9 962.2L1435.5 957.7L1436.1 953.4L1436.2 949.6L1436.9 943.4L1436.7 937.0L1438.3 931.6L1438.2 926.0L1438.1 921.5L1439.3 917.4L1438.7 913.0L1440.0 907.1L1440.1 901.6L1440.6 895.9L1440.8 889.6L1441.8 885.8L1441.6 881.0L1442.2 876.8L1443.2 871.0L1442.9 865.6L1443.8 859.3L1444.5 853.9L1445.1 849.7L1444.6 845.4L1445.8 840.9L1446.0 835.6L1447.6 830.0L1447.6 824.4L1449.0 818.4L1449.5 812.1L1450.5 806.1L1451.3 800.8L1451.5 795.0L1452.0 789.2L1453.5 783.9L1454.0 779.7L1454.1 775.2L1454.3 771.3L1455.5 766.0L1455.7 760.3L1456.1 756.1L1456.8 751.4L1458.3 746.9L1459.2 741.5L1460.1 735.3L1460.3 731.1L1460.6 726.8L1461.5 722.4L1462.5 718.3L1462.7 714.2L1464.0 710.4L1464.9 704.4L1465.5 697.9L1466.6 693.9L1466.8 689.2L1466.9 685.1L1468.7 679.3L1469.3 674.1L1470.4 668.2L1470.8 662.4L1472.3 658.3L1472.9 653.9L1473.5 649.8L1474.7 644.9L1475.7 639.6L1476.1 635.4L1475.9 631.2L1476.6 626.8L1477.8 621.3L1478.7 615.5L1480.1 610.1L1481.1 604.2L1482.2 598.3L1483.1 592.7L1484.0 586.6L1483.9 580.5L1484.6 575.6L1484.9 570.5L1486.0 566.6L1486.2 562.4L1486.2 557.9L1487.2 552.3L1487.9 546.7L1489.0 540.5L1491.1 534.4L1491.7 530.2L1492.9 525.6L1493.7 521.6L1495.7 515.5L1497.1 509.5L1498.8 503.2L1500.7 497.4L1501.0 493.0L1502.3 488.8L1503.4 484.0L1504.0 479.9L1505.4 476.3L1506.3 472.5L1508.9 468.2L1511.7 464.8L1514.1 460.4L1517.0 455.6L1520.1 451.7L1523.3 446.1L1527.2 449.3L1530.8 451.7L1534.6 455.3L1538.2 456.8L1540.9 451.3L1544.1 446.3L1547.1 442.5L1550.2 439.4L1553.2 436.5L1557.4 439.5L1561.6 440.7L1565.9 442.3L1569.9 445.5L1573.0 449.2L1575.4 451.9L1577.9 455.8L1580.5 459.5L1582.5 463.6L1584.8 467.8L1589.9 468.1L1595.0 468.0L1600.3 470.9L1605.6 472.1L1610.3 470.7L1614.9 469.1L1619.9 469.4L1624.8 468.4L1629.9 467.3L1635.0 467.3L1639.2 465.6L1643.4 465.7L1647.6 466.6L1653.8 468.0L1660.0 467.5L1666.0 462.7L1672.1 463.6L1676.8 462.4L1681.5 461.0L1686.6 460.3L1691.5 456.8L1696.0 458.6L1700.3 457.2L1702.2 452.0L1704.2 446.7L1706.4 441.1L1708.9 436.1L1711.6 431.3L1713.4 426.9L1716.3 422.1L1718.1 416.8L1720.0 412.1L1721.4 406.7L1723.2 402.6L1725.8 398.2L1728.6 393.2L1730.2 387.3L1731.8 381.6L1733.2 375.6L1737.0 373.5L1741.2 371.2L1744.7 366.5L1748.5 363.5L1752.5 357.7L1756.6 355.0L1760.5 352.1L1764.5 352.1L1768.4 349.6L1773.6 348.1L1778.8 348.4L1780.7 344.4L1783.0 341.6L1785.3 336.7L1789.0 332.9L1792.8 329.9L1794.4 324.6L1796.2 319.5L1797.5 315.3L1799.1 311.2L1799.9 307.3L1801.7 301.9L1803.7 296.5L1805.8 291.5L1807.3 286.2L1809.0 280.4L1811.1 274.7L1812.5 270.9L1814.6 266.2L1816.1 261.8L1817.9 257.6L1819.5 252.7L1825.0 250.7L1830.5 251.4L1836.0 248.9L1841.2 246.6L1846.3 245.6L1851.5 244.5L1856.5 245.7L1861.5 245.5L1866.5 247.3L1872.6 246.4L1878.7 244.6L1884.7 242.5L1890.8 242.8L1896.8 243.8L1902.8 247.7L1908.9 246.2L1914.9 244.9L1921.0 242.2L1927.0 243.2L1933.0 244.0L1939.1 243.0L1945.1 246.8L1951.1 244.0L1957.2 245.5L1963.2 245.2L1969.3 245.9L1975.3 246.7L1981.3 241.3L1987.4 245.9L1993.4 242.5L1999.4 244.3L2005.5 244.8L2011.5 241.6L2017.5 244.8L2023.6 243.1L2029.6 242.6L2035.6 243.3L2041.7 241.1L2047.7 243.4L2053.7 245.9L2059.8 243.6L2065.8 241.2L2071.8 242.9L2077.8 245.6L2083.9 245.3L2089.9 240.4L2095.9 241.2L2102.0 240.4L2108.0 242.5L2114.0 240.9L2120.0 243.5L2126.1 243.4L2132.1 243.9L2138.1 243.4L2144.2 244.8L2150.2 242.0L2156.2 240.4L2162.2 243.8L2168.3 241.8L2174.3 243.3L2180.3 240.3L2186.3 239.7L2192.4 243.3L2198.4 242.4L2204.4 240.8L2210.5 238.6L2216.5 241.5" stroke="#00ff00" stroke-width="8.5"/>
<path d="M385.0 245.6L391.0 246.2L397.0 245.0L402.9 247.0L408.9 245.1L414.9 246.7L420.9 245.5L426.9 247.6L432.9 247.4L438.8 247.9L444.8 248.2L450.8 245.5L456.8 247.7L462.8 246.3L468.7 249.8L474.7 248.5L480.7 247.2L486.7 246.7L492.7 248.7L498.6 248.5L504.6 247.0L510.6 247.6L516.6 249.4L522.6 245.3L528.5 249.9L534.5 248.0L540.5 247.8L546.5 250.1L552.4 249.8L558.4 246.6L564.4 248.2L570.4 249.2L576.3 245.7L582.3 245.2L588.3 246.0L594.3 248.6L600.3 248.8L604.5 250.1L608.7 250.0L612.8 248.3L617.0 248.5L621.2 244.3L625.3 247.8L629.5 246.1L633.7 246.6L637.8 248.5L642.0 245.4L646.2 248.4L650.4 247.9L654.5 245.8L658.7 245.2L662.9 242.9L667.0 245.1L671.2 244.5L675.4 248.3L679.5 248.3L683.7 248.0L687.9 246.1L692.1 245.9L696.3 246.0L700.5 246.7L706.3 244.4L712.2 244.5L718.1 244.1L723.9 241.5L729.7 244.3L735.5 243.4L741.4 243.1L747.2 241.7L753.0 241.6L758.8 240.5L764.7 241.7L770.5 238.9L776.3 238.5L782.1 236.4L788.2 236.7L794.2 239.7L798.7 236.8L803.2 235.2L807.7 233.0L811.9 231.9L816.1 229.6L820.4 228.6L825.7 229.5L831.0 228.3L836.6 227.8L842.2 227.7L847.4 224.9L852.5 224.1L856.7 225.8L861.0 228.3L865.1 231.0L871.1 231.7L877.2 233.2L879.0 236.9L881.8 240.9L883.5 244.4L886.2 247.0L888.9 251.6L891.6 253.7L895.2 256.4L898.6 260.9L902.3 262.5L907.2 266.7L912.2 267.9L917.4 271.2L922.7 274.2L927.1 274.0L931.4 276.6L935.7 276.9L939.8 279.5L944.0 279.0L948.1 281.0L954.2 282.4L960.2 281.8L964.9 284.6L969.8 285.8L974.8 288.9L979.7 292.0L984.5 294.2L989.3 296.7L993.6 300.9L997.7 303.1L1002.2 305.8L1006.6 309.3L1009.4 313.4L1012.3 316.9L1015.7 320.6L1021.5 321.4L1027.4 322.2L1033.5 324.1L1039.6 324.7L1045.1 322.5L1050.7 323.1L1055.6 319.7L1060.5 316.2L1065.0 314.3L1069.4 311.3L1073.5 312.3L1077.6 313.6L1081.8 315.6L1085.8 317.9L1088.0 323.6L1089.4 328.7L1090.8 333.8L1092.8 339.0L1094.5 344.5L1097.2 350.8L1097.8 354.9L1100.0 358.2L1101.0 362.4L1105.4 365.6L1109.6 367.5L1114.2 369.8L1117.0 367.0L1120.6 362.2L1121.8 366.7L1122.9 371.3L1124.4 375.3L1126.7 380.9L1129.7 385.4L1130.9 390.2L1133.0 395.2L1134.2 400.0L1135.6 405.7L1137.0 411.9L1138.1 417.2L1139.2 422.8L1139.8 427.0L1140.6 431.6L1142.0 436.7L1142.7 440.7L1143.3 444.7L1144.3 449.1L1145.9 454.7L1147.5 460.9L1148.1 466.6L1149.3 472.7L1150.2 477.1L1150.8 481.8L1151.8 486.8L1152.9 492.5L1154.7 497.9L1155.9 504.1L1156.5 509.8L1158.1 514.3L1158.7 519.1L1159.0 523.6L1160.6 527.4L1160.8 531.5L1162.1 535.8L1163.5 541.3L1164.1 547.0L1161.5 550.9L1158.7 555.8L1160.0 562.1L1160.0 567.8L1160.9 574.0L1161.6 579.8L1162.2 585.3L1163.0 591.2L1164.3 596.7L1164.2 601.9L1165.0 606.5L1165.4 610.9L1165.6 615.1L1166.9 620.7L1167.6 626.0L1167.7 631.7L1168.8 637.7L1169.1 643.5L1170.7 649.4L1170.9 653.6L1171.0 657.6L1170.9 661.9L1171.7 667.9L1172.3 674.2L1172.4 678.5L1173.1 682.7L1173.4 686.9L1174.7 692.7L1175.0 699.0L1175.4 703.3L1175.8 707.9L1175.7 712.2L1177.0 717.7L1177.6 723.9L1177.3 727.9L1177.4 732.5L1177.8 736.2L1178.5 740.5L1178.9 744.8L1179.2 748.8L1179.4 755.0L1181.0 760.9L1181.5 765.5L1181.3 770.2L1181.1 774.2L1182.7 779.9L1182.3 785.1L1183.2 790.0L1183.1 794.4L1184.0 799.0L1184.8 803.3L1185.1 807.0L1185.0 811.3L1186.0 817.1L1185.6 823.0L1186.1 827.2L1186.4 831.1L1187.3 835.5L1187.2 839.8L1188.2 844.9L1188.5 849.4L1189.3 855.1L1189.0 860.5L1190.6 866.4L1190.5 872.7L1191.1 876.9L1190.7 881.9L1191.3 886.4L1191.0 890.4L1192.2 895.1L1191.4 899.3L1191.6 904.7L1192.1 910.3L1192.7 915.1L1192.3 920.0L1192.3 924.9L1192.4 929.0L1193.4 933.3L1193.3 937.6L1193.7 943.9L1193.7 949.2L1193.8 953.9L1193.7 958.3L1194.0 962.9L1194.1 969.1L1194.6 975.3L1195.5 981.5L1195.9 987.7L1195.8 994.0L1195.5 999.7L1196.1 1004.2L1196.0 1008.2L1197.3 1012.3L1197.5 1018.4L1197.0 1024.6L1198.2 1030.2L1198.1 1036.2L1198.2 1042.7L1199.2 1048.3L1199.3 1052.8L1198.6 1056.8L1198.5 1060.6L1199.5 1066.8L1200.4 1072.5L1200.6 1076.5L1199.8 1080.9L1201.1 1085.2L1200.5 1091.2L1201.5 1096.5L1201.9 1102.8L1201.3 1108.6L1202.5 1113.1L1202.6 1117.5L1202.4 1121.6L1202.8 1127.4L1203.4 1132.7L1203.5 1136.8L1203.4 1141.2L1204.1 1145.4L1204.7 1151.5L1204.6 1157.1L1205.0 1161.4L1204.7 1165.4L1205.4 1169.6L1204.7 1175.7L1205.2 1181.1L1206.4 1187.4L1205.8 1193.2L1206.7 1197.5L1206.5 1201.6L1206.7 1205.8L1207.2 1212.3L1207.8 1218.5L1208.1 1223.6L1209.4 1229.2L1208.9 1233.6L1209.3 1237.4L1210.0 1241.6L1211.3 1248.1L1211.0 1254.2L1211.6 1259.6L1212.7 1265.1L1212.8 1271.2L1214.4 1277.1L1214.6 1283.1L1214.9 1288.7L1214.9 1293.4L1216.5 1297.9L1215.8 1302.3L1217.3 1307.0L1217.5 1312.1L1218.5 1318.3L1219.1 1324.1L1219.2 1329.0L1219.9 1333.2L1220.4 1338.0L1221.1 1343.5L1221.2 1348.9L1222.2 1352.9L1223.5 1356.7L1224.5 1361.4L1226.3 1365.5L1227.1 1370.5L1228.3 1374.6L1229.0 1380.4L1230.9 1386.3L1233.1 1392.4L1234.7 1398.6L1235.2 1402.9L1236.0 1407.1L1238.0 1411.4L1239.1 1415.9L1239.6 1419.6L1240.4 1424.3L1241.5 1427.9L1243.2 1432.0L1244.5 1436.6L1246.1 1439.8L1247.4 1444.5L1250.0 1447.7L1250.9 1452.4L1253.2 1455.9L1254.8 1459.9L1257.2 1464.5L1260.2 1469.5L1261.5 1474.6L1263.3 1478.9L1265.3 1483.9L1268.9 1488.2L1271.7 1493.4L1277.2 1496.0L1282.9 1498.8L1287.8 1500.4L1292.6 1503.7L1297.6 1505.8L1302.5 1506.0L1308.1 1507.7L1313.8 1508.7L1318.0 1506.4L1322.2 1505.7L1326.5 1505.4L1330.3 1503.5L1334.2 1502.4L1338.0 1501.3L1342.1 1497.3L1346.1 1495.9L1350.1 1492.8L1353.7 1488.7L1357.6 1484.6L1361.3 1482.1L1364.8 1479.9L1368.7 1475.8L1372.2 1472.1L1372.7 1466.7L1373.9 1462.0L1374.0 1456.8L1374.3 1451.8L1376.0 1446.8L1376.0 1441.7L1376.8 1436.5L1378.8 1432.2L1381.3 1428.5L1383.0 1425.1L1386.2 1419.2L1389.3 1414.3L1390.9 1407.9L1393.1 1401.9L1394.5 1396.5L1396.6 1391.7L1397.3 1387.5L1398.7 1383.4L1400.1 1379.1L1401.8 1373.4L1403.0 1367.9L1405.4 1362.4L1407.2 1357.3L1407.7 1351.2L1408.4 1344.8L1408.3 1340.8L1408.1 1336.5L1408.9 1332.1L1410.0 1326.4L1410.1 1320.8L1410.1 1314.5L1410.8 1308.9L1411.3 1302.6L1412.3 1297.0L1412.5 1290.9L1413.0 1284.6L1414.2 1278.6L1414.6 1272.4L1415.6 1266.8L1415.1 1261.2L1416.6 1257.2L1416.0 1252.9L1416.7 1248.6L1417.5 1242.9L1418.4 1237.5L1418.3 1231.6L1418.9 1225.5L1419.3 1219.3L1420.1 1213.1L1421.2 1207.8L1422.2 1201.9L1422.5 1195.6L1422.2 1189.8L1422.7 1185.5L1423.1 1181.6L1424.1 1177.2L1425.2 1171.6L1425.4 1166.6L1425.4 1160.4L1425.8 1154.4L1426.8 1150.0L1427.6 1145.7L1427.3 1141.1L1428.5 1136.1L1428.5 1130.7L1429.3 1124.6L1430.4 1118.7L1430.3 1112.8L1430.7 1107.2L1432.1 1102.4L1431.6 1098.5L1432.2 1093.8L1433.1 1088.6L1433.6 1083.8L1434.3 1077.8L1434.0 1072.4L1434.4 1067.5L1435.6 1063.1L1435.9 1058.0L1435.5 1052.8L1436.1 1047.8L1437.7 1042.1L1437.5 1036.4L1438.2 1031.9L1439.0 1027.8L1438.8 1023.4L1439.3 1017.6L1439.8 1011.4L1440.2 1006.2L1441.1 1000.5L1441.3 996.6L1440.9 991.8L1441.6 987.6L1442.1 981.2L1442.3 975.4L1442.9 971.1L1442.3 966.4L1443.3 962.4L1443.2 956.6L1444.2 950.8L1444.2 946.6L1444.7 942.4L1444.2 938.4L1445.7 932.4L1446.4 926.5L1446.2 920.7L1447.0 914.9L1446.8 910.7L1447.5 906.1L1448.1 902.2L1447.8 896.5L1448.2 891.4L1449.6 887.3L1449.0 882.8L1450.0 878.5L1450.3 872.4L1451.1 866.6L1451.3 861.0L1452.0 855.3L1452.5 849.4L1452.4 843.4L1453.3 837.5L1454.0 831.7L1454.8 826.0L1455.8 820.0L1457.0 814.2L1456.6 808.6L1457.3 802.6L1458.6 797.0L1459.4 791.1L1460.3 785.4L1460.1 781.3L1460.2 777.2L1460.7 772.6L1462.0 768.1L1463.3 763.1L1463.8 758.2L1464.2 753.7L1464.4 749.7L1465.5 745.5L1465.5 741.1L1465.8 736.7L1467.3 730.9L1468.2 724.8L1468.9 718.6L1469.6 712.9L1470.2 708.6L1470.9 704.5L1472.4 700.3L1472.2 695.9L1472.6 691.3L1473.9 687.0L1474.2 681.5L1475.4 676.7L1476.8 671.1L1477.8 664.7L1478.1 660.1L1478.1 656.0L1479.4 652.0L1480.3 646.7L1480.6 641.2L1482.4 635.9L1483.1 630.7L1483.3 626.0L1483.8 621.1L1484.2 616.6L1485.9 611.2L1486.8 606.4L1487.1 600.7L1488.3 595.0L1488.7 589.1L1489.6 582.8L1489.9 577.0L1491.1 571.6L1491.5 565.8L1491.9 559.4L1492.5 554.6L1493.0 549.9L1493.9 545.4L1494.4 540.5L1495.9 535.9L1497.4 529.8L1498.8 524.0L1500.5 520.4L1501.2 515.8L1501.6 511.9L1503.1 507.4L1504.2 503.1L1505.3 498.5L1506.4 493.1L1508.7 487.3L1509.8 481.5L1511.2 475.2L1513.6 470.8L1515.8 466.4L1518.2 462.6L1520.7 458.7L1523.4 454.4L1528.3 456.3L1533.2 457.8L1538.2 459.9L1541.3 456.3L1544.6 454.0L1547.7 451.2L1550.3 446.0L1553.0 442.2L1557.4 445.5L1561.8 447.5L1566.0 450.2L1569.7 454.2L1573.4 457.5L1576.3 462.2L1578.2 466.2L1581.2 471.5L1585.3 472.2L1589.2 474.5L1593.3 475.2L1599.1 474.5L1605.0 478.5L1610.3 474.8L1615.6 477.9L1620.6 472.6L1625.5 474.6L1630.4 473.5L1635.3 471.7L1641.4 471.2L1647.6 469.2L1653.8 469.6L1660.0 471.7L1664.3 470.7L1668.6 468.9L1672.8 469.1L1678.0 469.0L1683.2 467.8L1688.1 466.1L1693.1 463.8L1698.7 461.7L1704.3 459.5L1706.9 454.6L1709.6 451.0L1711.9 446.8L1713.0 442.6L1714.3 438.7L1717.3 433.1L1719.1 428.4L1721.9 423.2L1724.0 419.0L1725.8 414.7L1727.3 410.2L1729.0 406.3L1730.5 402.3L1732.8 397.6L1734.7 393.0L1736.0 389.4L1737.1 385.0L1739.1 381.8L1742.6 377.4L1745.8 375.0L1749.6 371.6L1753.7 368.0L1756.7 363.3L1760.3 359.9L1765.6 357.3L1770.8 356.0L1774.9 355.0L1779.0 354.7L1783.3 354.1L1785.8 349.9L1788.5 345.8L1791.4 341.5L1795.3 337.8L1799.7 334.7L1801.0 330.0L1801.5 325.1L1803.3 320.4L1805.4 315.1L1807.4 309.6L1808.6 304.4L1810.7 300.0L1812.6 296.1L1813.7 291.6L1814.7 287.6L1817.0 282.4L1818.5 277.8L1820.0 272.7L1822.3 267.3L1824.9 259.9L1829.3 259.1L1833.7 256.8L1838.1 257.3L1842.9 254.9L1847.6 253.1L1852.4 251.5L1857.4 253.6L1862.3 253.4L1867.3 251.6L1873.3 254.3L1879.3 251.2L1885.3 250.6L1891.4 251.0L1897.4 253.8L1903.5 253.3L1909.5 251.6L1915.6 250.9L1921.6 255.6L1927.7 252.0L1933.7 250.7L1939.8 254.0L1945.8 252.0L1951.9 253.6L1957.9 254.8L1964.0 254.8L1970.0 252.6L1976.1 254.4L1982.1 250.2L1988.2 251.9L1994.2 252.0L2000.3 249.5L2006.3 252.2L2012.4 251.6L2018.4 253.7L2024.4 252.8L2030.5 249.1L2036.5 253.4L2042.6 253.7L2048.6 253.7L2054.7 252.2L2060.7 251.8L2066.8 249.5L2072.8 251.2L2078.9 249.3L2084.9 251.8L2090.9 249.2L2097.0 251.3L2103.0 252.6L2109.1 251.2L2115.1 252.0L2121.2 248.1L2127.2 247.8L2133.2 251.2L2139.3 250.8L2145.3 252.2L2151.4 248.2L2157.4 248.4L2163.4 251.1L2169.5 247.8L2175.5 247.9L2181.6 249.4L2187.6 251.0L2193.6 250.5L2199.7 247.2L2205.7 250.2L2211.8 250.6L2217.8 248.0" stroke="#00ff00" stroke-width="8.5"/>
<path d="M384.7 244.8L390.8 243.0L396.8 243.8L402.9 240.1L409.0 241.3L415.0 241.2L421.1 240.7L427.2 241.2L433.3 243.3L439.3 240.5L445.4 244.0L451.5 244.6L457.5 240.4L463.6 240.9L469.7 241.1L475.7 244.6L481.8 245.2L487.9 241.4L493.9 242.8L500.0 242.0L506.1 244.4L512.1 242.6L518.2 240.5L524.2 241.0L530.3 241.4L536.4 241.0L542.4 243.6L548.5 241.0L554.5 242.6L560.6 243.6L566.7 242.1L572.7 240.1L578.8 242.5L584.8 242.9L590.9 245.4L596.9 241.3L603.0 240.2L609.0 240.8L615.1 243.1L621.1 242.5L627.2 239.9L633.2 240.0L639.3 244.4L645.3 242.3L651.4 240.5L657.4 242.9L663.5 240.2L669.5 244.9L675.6 240.5L681.6 242.3L687.7 241.5L693.7 239.9L699.7 241.1L705.9 244.7L712.1 240.1L718.3 241.3L724.5 243.0L730.7 241.8L736.9 241.3L743.1 241.3L749.3 240.0L755.5 240.8L761.7 242.8L767.9 239.0L774.1 243.1L780.3 242.9L786.5 241.7L792.7 241.1L798.9 240.9L805.0 240.6L811.1 242.3L816.5 240.6L822.0 239.0L827.5 236.4L833.1 232.8L838.7 236.2L844.3 234.8L849.8 232.9L855.4 231.2L861.0 231.3L866.5 230.1L870.8 229.5L875.1 229.1L879.3 226.7L883.9 224.4L888.3 222.2L892.7 220.2L897.3 218.7L902.0 224.1L906.6 221.6L911.2 220.9L915.7 222.0L920.3 220.1L925.0 220.7L929.8 223.0L934.6 221.6L939.1 221.8L943.7 222.0L948.4 221.9L952.7 226.4L957.3 228.6L961.9 232.1L966.0 233.9L970.2 236.9L974.0 241.5L977.5 245.3L980.9 250.0L984.8 253.1L989.3 257.7L993.6 261.3L998.4 265.0L1003.0 268.8L1007.7 270.3L1012.4 270.6L1016.8 275.7L1021.5 278.8L1025.1 281.0L1028.7 283.6L1032.3 286.7L1037.4 286.8L1042.5 288.0L1046.9 286.5L1051.4 284.1L1056.3 283.5L1061.3 282.9L1066.6 282.6L1071.9 280.7L1077.0 281.1L1082.1 280.9L1087.8 279.5L1093.2 282.7L1094.5 287.7L1095.5 292.8L1097.2 298.0L1098.3 301.9L1098.6 306.3L1099.7 310.5L1100.0 315.3L1100.4 319.9L1104.2 313.7L1109.1 311.8L1114.1 309.8L1117.3 313.5L1120.5 316.2L1123.5 320.2L1127.7 325.3L1131.8 328.4L1133.3 334.4L1135.6 339.8L1137.7 345.1L1139.1 350.7L1141.7 356.3L1143.5 361.5L1144.5 366.5L1146.7 371.5L1148.8 376.9L1150.3 381.7L1151.1 385.6L1152.9 389.7L1153.3 394.0L1155.5 399.4L1155.9 404.5L1158.1 410.4L1159.8 415.7L1161.2 422.0L1162.2 427.8L1163.2 432.8L1164.8 437.9L1165.7 441.9L1167.2 446.0L1167.3 450.7L1168.7 455.6L1170.3 460.7L1171.9 466.7L1173.3 472.1L1173.6 476.7L1174.5 480.7L1175.3 485.3L1176.2 491.4L1177.3 497.0L1177.6 501.4L1178.7 506.2L1178.9 510.5L1180.2 516.0L1181.4 521.4L1181.2 525.8L1182.8 530.5L1182.7 535.6L1183.8 541.4L1184.9 547.8L1184.9 552.2L1185.5 556.2L1186.2 561.1L1187.1 565.7L1187.7 570.1L1187.9 574.7L1188.0 580.2L1189.0 586.3L1189.1 592.5L1190.3 598.3L1190.9 603.6L1191.9 608.6L1192.5 613.1L1192.3 617.2L1192.6 621.8L1193.5 627.4L1194.8 633.6L1195.3 638.7L1196.3 644.4L1197.0 649.9L1197.3 655.9L1198.6 661.8L1199.3 668.1L1198.8 674.2L1199.3 680.4L1200.7 685.5L1200.6 690.8L1201.6 696.6L1201.1 703.0L1202.7 706.8L1202.1 710.9L1203.2 715.5L1203.4 720.9L1203.4 726.9L1203.9 731.9L1205.2 737.8L1204.9 743.6L1205.7 749.5L1206.6 755.4L1205.8 762.1L1206.6 767.5L1207.7 773.6L1207.8 780.2L1207.8 786.4L1208.4 792.1L1208.6 798.4L1209.6 803.1L1209.2 807.1L1209.7 811.5L1210.6 817.6L1210.1 823.6L1210.9 829.3L1211.4 835.9L1212.2 840.1L1211.9 844.3L1212.5 848.8L1212.4 854.9L1213.1 860.9L1213.6 865.2L1214.1 869.3L1213.6 873.4L1214.7 879.6L1214.9 885.3L1214.5 889.9L1215.2 894.8L1215.6 899.5L1215.3 905.7L1215.6 911.8L1215.7 916.3L1215.8 920.1L1216.8 924.4L1216.2 929.0L1217.3 933.2L1216.6 937.8L1216.6 942.1L1217.1 946.4L1216.9 950.6L1218.3 954.8L1218.0 959.3L1217.7 963.3L1218.8 969.2L1218.4 974.3L1218.5 979.1L1219.4 983.5L1219.3 988.1L1219.3 994.3L1219.9 1000.6L1219.2 1006.4L1220.5 1012.4L1220.1 1017.9L1221.2 1024.4L1221.5 1030.4L1221.0 1036.1L1221.9 1040.9L1221.8 1044.9L1222.2 1049.3L1221.9 1054.6L1222.7 1060.0L1222.9 1064.1L1222.8 1068.3L1222.8 1072.6L1222.6 1076.9L1223.2 1081.0L1223.6 1085.2L1224.3 1091.3L1223.6 1096.7L1224.9 1102.6L1225.0 1109.0L1224.8 1115.1L1224.7 1120.7L1225.8 1125.2L1225.5 1129.3L1225.4 1133.6L1226.3 1139.5L1226.1 1145.3L1226.0 1150.9L1226.3 1156.8L1226.5 1161.0L1227.2 1165.6L1227.4 1170.0L1227.2 1175.5L1228.7 1181.9L1227.9 1187.7L1228.5 1193.3L1228.5 1199.5L1228.4 1205.4L1230.0 1212.1L1229.5 1218.3L1229.8 1223.8L1230.1 1229.1L1231.7 1235.0L1231.5 1240.9L1232.5 1246.5L1232.9 1252.0L1233.5 1258.6L1234.4 1264.8L1235.2 1269.9L1235.1 1275.9L1236.0 1281.3L1236.3 1286.9L1236.8 1292.9L1237.5 1299.5L1238.1 1304.7L1238.7 1310.3L1238.7 1316.3L1240.2 1322.8L1240.2 1328.4L1240.9 1333.5L1241.3 1339.0L1242.5 1345.1L1241.8 1348.9L1242.7 1353.4L1242.4 1357.9L1243.5 1362.8L1243.5 1368.6L1244.9 1374.3L1244.8 1380.4L1246.1 1385.5L1246.3 1391.2L1248.1 1397.3L1249.2 1403.1L1249.9 1407.7L1251.4 1411.9L1252.2 1416.1L1253.7 1421.2L1255.0 1425.4L1256.9 1430.3L1257.1 1434.2L1258.0 1438.8L1260.4 1444.8L1261.6 1450.8L1262.9 1456.8L1264.4 1462.2L1266.1 1467.8L1267.6 1472.5L1270.9 1477.1L1274.2 1479.6L1277.1 1484.7L1280.2 1490.3L1283.4 1493.7L1286.5 1496.0L1291.7 1495.1L1296.8 1495.8L1301.9 1498.6L1307.0 1501.5L1312.6 1499.9L1318.3 1499.2L1324.0 1497.0L1329.8 1495.4L1334.0 1491.9L1338.2 1487.2L1342.3 1483.4L1346.5 1479.6L1349.3 1476.7L1352.2 1473.9L1355.1 1469.7L1358.1 1465.3L1361.0 1460.1L1363.2 1455.0L1364.6 1449.5L1364.4 1444.6L1365.1 1438.9L1366.1 1433.3L1365.9 1426.9L1367.3 1420.9L1366.9 1416.5L1367.4 1411.8L1367.9 1408.4L1372.5 1404.1L1376.9 1399.8L1377.4 1393.4L1379.0 1387.6L1378.9 1383.0L1380.3 1378.5L1380.6 1373.7L1381.3 1369.5L1381.9 1364.9L1382.4 1360.7L1383.6 1356.8L1384.1 1352.3L1385.3 1348.2L1385.5 1342.7L1386.1 1336.8L1386.7 1330.9L1386.2 1324.9L1386.8 1319.2L1387.3 1314.0L1387.9 1307.9L1388.8 1301.4L1388.8 1295.8L1389.6 1290.4L1390.0 1284.8L1390.9 1279.2L1390.6 1272.9L1390.9 1266.7L1391.6 1261.5L1392.3 1256.0L1392.8 1249.9L1393.0 1243.8L1393.1 1238.5L1393.3 1233.0L1394.5 1226.6L1395.0 1220.8L1394.5 1214.7L1395.8 1208.3L1395.2 1203.4L1396.4 1198.7L1395.7 1194.4L1396.8 1190.3L1397.4 1185.8L1397.7 1180.0L1397.4 1173.8L1398.3 1168.7L1398.6 1163.2L1399.2 1156.9L1398.7 1151.1L1399.4 1145.7L1399.6 1140.0L1399.7 1135.7L1399.6 1131.4L1399.8 1127.3L1401.3 1121.7L1401.7 1116.6L1401.4 1111.1L1401.6 1105.9L1401.8 1101.7L1402.2 1097.2L1402.9 1092.4L1402.1 1087.2L1403.4 1081.5L1403.3 1075.8L1403.3 1070.3L1403.7 1064.6L1404.8 1059.2L1405.1 1052.7L1405.3 1046.5L1405.8 1040.3L1406.4 1034.5L1405.9 1029.3L1406.0 1024.6L1407.2 1018.4L1407.3 1011.9L1406.9 1007.8L1407.8 1003.6L1407.5 999.6L1408.7 993.7L1409.4 987.5L1409.8 981.7L1409.8 975.9L1410.9 971.3L1410.9 966.6L1411.4 962.5L1412.3 958.2L1412.6 953.7L1412.2 949.6L1412.6 944.2L1412.9 938.7L1413.2 932.6L1413.6 926.8L1414.4 922.3L1413.9 918.2L1414.5 914.1L1414.9 907.8L1415.1 902.2L1415.3 896.6L1416.5 891.0L1415.5 886.7L1416.4 882.2L1416.1 877.9L1416.3 872.1L1417.1 866.0L1417.3 860.5L1418.0 854.5L1419.2 848.2L1419.9 842.0L1420.9 836.4L1420.8 831.0L1421.8 824.9L1422.8 818.5L1424.1 813.1L1425.5 807.3L1426.5 801.2L1427.0 795.1L1428.1 789.4L1428.7 783.6L1429.4 778.1L1430.2 772.7L1431.4 768.3L1431.3 763.8L1432.5 759.9L1433.5 754.2L1433.8 749.4L1434.4 743.7L1434.4 737.5L1435.7 731.3L1436.8 725.5L1436.5 719.5L1437.6 713.7L1438.8 708.2L1439.2 701.6L1439.5 696.6L1440.2 691.7L1440.6 687.3L1441.5 683.0L1442.1 678.7L1441.9 672.4L1443.0 666.5L1444.0 661.4L1445.2 656.9L1445.1 652.6L1446.6 648.2L1447.2 644.1L1448.4 637.7L1449.1 631.7L1450.2 626.1L1450.9 620.4L1451.7 614.7L1452.4 609.6L1453.2 603.7L1454.4 597.7L1454.6 593.2L1455.3 589.1L1456.6 584.4L1457.5 579.6L1457.7 574.9L1459.6 568.4L1459.7 562.8L1460.0 558.2L1461.6 553.3L1462.2 548.6L1462.7 544.6L1463.0 540.4L1463.7 536.5L1464.0 531.1L1465.9 525.4L1465.8 521.0L1466.7 517.0L1467.7 512.4L1468.4 508.2L1468.0 503.6L1469.3 498.8L1469.9 493.0L1470.6 487.3L1470.8 483.1L1471.6 479.0L1471.2 475.0L1471.3 470.6L1471.6 466.0L1471.9 460.8L1472.7 456.8L1473.4 452.4L1473.5 448.7L1472.9 444.6L1474.3 440.3L1474.1 435.8L1475.9 431.7L1477.1 427.8L1478.1 423.5L1479.8 418.7L1481.4 413.1L1483.6 408.2L1485.4 402.7L1487.1 397.8L1489.0 392.9L1491.1 387.2L1493.3 382.4L1494.8 377.5L1495.7 373.8L1497.3 369.8L1502.4 366.3L1507.4 363.4L1510.7 360.2L1513.8 355.3L1517.4 353.0L1522.0 352.8L1526.6 350.7L1531.2 350.9L1536.0 347.8L1541.0 346.2L1545.9 344.0L1550.8 348.7L1555.6 351.9L1559.3 355.3L1562.9 357.4L1567.1 360.7L1571.2 362.0L1575.6 366.2L1580.0 369.6L1583.8 370.9L1587.4 373.3L1591.2 372.3L1595.1 369.9L1599.2 371.3L1603.1 371.2L1607.5 366.7L1612.2 363.7L1614.8 358.8L1618.0 353.9L1621.4 349.7L1624.9 345.7L1628.4 341.6L1631.1 337.4L1633.5 333.1L1636.3 329.9L1638.4 325.8L1641.0 322.5L1644.1 318.0L1646.6 314.5L1649.1 309.5L1651.5 306.0L1655.8 301.4L1660.3 299.1L1663.1 295.0L1665.9 290.1L1669.0 285.9L1671.9 282.2L1675.0 279.8L1678.1 275.8L1682.0 272.5L1685.7 271.7L1689.7 269.0L1693.5 265.2L1697.6 261.5L1701.5 257.7L1706.1 256.7L1710.6 254.3L1715.3 252.0L1719.6 253.4L1724.0 253.3L1728.3 254.2L1732.6 253.0L1737.0 250.1L1741.3 249.3L1745.9 247.6L1750.3 244.8L1754.8 242.0L1758.9 242.8L1763.0 244.2L1767.1 246.6L1773.0 243.1L1779.0 246.8L1785.0 246.3L1790.9 241.6L1796.9 245.1L1802.8 242.6L1808.8 243.9L1814.7 244.9L1820.7 243.5L1826.6 245.7L1832.5 246.6L1838.5 242.8L1844.4 243.4L1850.4 242.7L1856.3 244.6L1862.3 242.7L1868.2 246.1L1874.2 243.7L1880.1 242.1L1886.1 247.0L1892.0 242.9L1897.9 244.3L1903.9 246.8L1909.8 245.1L1915.8 245.1L1921.7 245.3L1927.6 246.6L1933.6 243.2L1939.5 246.3L1945.4 243.9L1951.4 245.9L1957.3 247.0L1963.2 244.2L1969.2 245.9L1975.1 243.0L1981.0 242.5L1987.0 242.6L1992.9 243.5L1998.8 245.1L2004.7 245.4L2010.7 242.0L2016.6 246.1L2022.5 247.2L2028.4 244.3L2034.4 244.1L2040.3 244.2L2046.2 245.9L2052.1 244.7L2058.0 242.3L2064.0 243.1L2069.9 245.5L2075.8 244.6L2081.7 245.9L2087.6 243.4L2093.5 244.1L2099.5 246.8L2105.4 247.3L2111.3 246.6L2117.2 242.6L2123.1 243.2L2129.0 246.5L2134.9 241.6L2140.8 245.9L2146.7 244.0L2152.7 242.1L2158.6 245.4L2164.5 244.5L2170.4 242.3L2176.3 244.9L2182.2 243.4L2188.1 243.0L2194.0 242.3L2199.9 245.0L2205.8 241.0L2211.7 244.1L2217.6 243.1" stroke="#0000ff" stroke-width="8.5"/>
<path d="M385.5 250.7L391.6 248.8L397.6 251.1L403.7 247.5L409.7 250.7L415.8 247.1L421.8 251.6L427.9 250.5L433.9 249.6L439.9 246.1L446.0 247.9L452.0 251.0L458.1 250.6L464.1 250.9L470.2 251.3L476.2 247.8L482.2 246.4L488.3 251.1L494.3 251.9L500.4 246.8L506.4 251.3L512.5 248.6L518.5 246.2L524.5 247.7L530.6 249.0L536.6 249.2L542.7 247.6L548.7 248.2L554.7 251.2L560.8 250.1L566.8 248.3L572.9 249.2L578.9 247.6L584.9 249.2L591.0 250.4L597.0 248.4L603.1 247.2L609.1 247.9L615.2 249.9L621.2 250.5L627.2 251.8L633.3 249.7L639.3 248.8L645.4 247.9L651.4 249.0L657.4 249.1L663.5 251.5L669.5 251.8L675.6 249.9L681.6 248.8L687.7 247.4L693.7 246.2L699.8 248.2L706.0 247.7L712.2 248.3L718.4 248.4L724.6 248.8L730.8 245.8L737.0 248.4L743.2 248.1L749.4 249.8L755.6 245.6L761.8 246.9L768.0 248.7L774.2 249.7L780.4 244.7L786.6 246.5L792.8 245.6L799.0 246.1L803.3 250.0L807.5 247.4L811.7 247.9L817.5 244.8L823.2 242.9L828.8 243.1L834.4 244.8L840.0 240.4L845.6 242.7L851.1 238.7L856.7 236.9L862.4 236.3L868.0 234.9L872.4 234.6L876.8 234.2L881.2 234.0L885.4 231.4L889.7 231.1L893.9 229.1L898.3 227.4L902.8 225.8L907.2 228.3L911.8 225.8L916.3 225.7L920.9 225.0L925.2 228.0L929.5 226.1L933.8 228.6L940.0 229.5L946.3 228.8L950.4 230.4L954.6 233.4L958.5 235.0L961.9 239.3L965.6 244.8L969.3 247.9L973.2 249.4L977.0 254.2L980.8 256.9L984.0 260.6L987.1 263.1L990.3 267.1L994.8 269.9L999.4 273.2L1004.2 276.3L1008.8 279.3L1013.7 282.5L1018.5 284.3L1022.3 286.4L1026.1 287.8L1029.9 289.5L1034.0 292.0L1038.2 295.4L1042.4 297.2L1046.0 295.8L1049.8 292.7L1053.6 291.7L1058.6 289.2L1063.6 287.5L1068.1 287.3L1072.6 288.0L1076.8 288.7L1081.0 291.3L1084.6 289.1L1088.8 287.8L1088.6 293.0L1090.7 298.1L1090.4 302.9L1091.9 307.9L1092.6 312.5L1093.4 317.1L1095.5 322.2L1096.4 326.3L1100.4 324.1L1104.4 322.7L1108.2 321.1L1112.7 315.3L1115.0 320.0L1118.0 324.4L1121.5 329.5L1125.4 333.7L1126.6 337.8L1128.4 342.1L1131.0 347.0L1132.9 352.2L1133.9 358.1L1136.5 363.9L1137.9 369.7L1139.8 374.4L1141.6 379.3L1143.8 383.7L1144.7 389.2L1146.6 395.0L1147.8 400.6L1149.4 407.2L1151.2 412.8L1152.0 418.2L1153.9 423.1L1155.3 428.2L1156.2 433.9L1157.5 439.6L1158.9 443.9L1159.4 448.5L1160.6 452.9L1161.6 457.7L1163.0 462.5L1165.1 467.5L1166.2 472.2L1167.0 477.2L1167.9 482.2L1168.0 486.9L1169.3 492.4L1170.3 498.4L1171.5 504.4L1172.0 509.7L1172.4 514.4L1173.7 518.9L1174.0 523.5L1174.9 529.4L1175.4 535.8L1176.2 539.8L1176.6 544.1L1177.6 548.5L1177.6 552.7L1179.1 556.9L1178.8 560.9L1179.2 565.8L1180.4 570.3L1180.2 575.3L1181.1 579.4L1180.9 583.7L1181.6 587.6L1182.3 592.3L1183.4 597.3L1183.7 603.6L1184.3 609.6L1185.6 614.0L1185.7 618.5L1186.6 622.8L1186.4 628.1L1186.9 633.2L1188.6 639.1L1188.9 644.3L1189.8 649.0L1190.0 653.1L1190.6 657.0L1190.7 663.0L1191.9 668.5L1192.1 674.5L1192.3 679.7L1193.8 685.7L1194.1 691.2L1194.0 695.6L1193.8 699.8L1194.2 703.7L1195.5 709.7L1195.9 715.1L1196.3 720.7L1196.7 726.0L1196.9 732.3L1197.2 738.3L1198.5 744.4L1198.7 750.1L1198.6 755.9L1198.9 761.3L1199.4 767.8L1200.3 773.7L1200.8 779.9L1200.8 786.2L1201.6 790.8L1201.4 795.3L1202.1 799.7L1201.7 805.3L1202.7 811.0L1202.6 816.8L1203.0 823.3L1203.5 827.8L1203.9 832.5L1204.3 837.0L1205.3 842.6L1204.6 848.3L1205.1 854.5L1206.3 860.5L1206.2 865.2L1206.8 869.7L1206.8 874.4L1207.3 880.3L1207.1 885.9L1208.0 890.5L1208.2 894.6L1208.1 899.1L1207.7 903.2L1208.5 907.6L1208.0 912.1L1209.0 916.1L1208.3 920.4L1208.3 924.8L1208.7 929.1L1209.4 933.8L1209.4 938.0L1210.2 943.7L1209.3 950.3L1210.6 954.4L1211.0 959.0L1211.0 963.4L1211.3 967.2L1211.0 971.9L1210.6 976.1L1210.6 981.5L1212.1 987.3L1211.5 991.8L1211.3 996.0L1211.6 1000.5L1212.2 1006.7L1212.5 1012.8L1212.7 1018.5L1213.4 1024.3L1213.3 1030.6L1213.2 1036.5L1213.4 1040.4L1214.2 1044.5L1214.2 1049.2L1213.8 1054.8L1214.6 1061.1L1215.5 1066.5L1215.7 1072.5L1215.7 1076.9L1216.1 1081.0L1215.4 1084.7L1216.1 1091.1L1215.9 1097.1L1217.1 1103.1L1217.3 1108.7L1217.6 1115.1L1217.1 1121.0L1218.0 1127.2L1217.3 1133.3L1217.5 1139.2L1217.8 1145.0L1218.2 1151.4L1218.9 1157.7L1219.1 1163.4L1219.1 1169.1L1219.8 1172.8L1220.5 1177.3L1219.8 1181.2L1220.3 1185.5L1220.8 1190.0L1220.6 1193.9L1221.2 1199.6L1221.2 1204.5L1221.5 1208.8L1221.5 1213.3L1222.5 1217.8L1222.0 1223.7L1223.1 1229.8L1224.3 1235.1L1224.0 1240.4L1225.0 1246.2L1225.2 1252.8L1225.9 1258.7L1227.3 1264.7L1227.7 1269.7L1227.7 1275.4L1229.0 1281.5L1229.2 1287.5L1229.1 1293.2L1229.8 1298.9L1230.2 1304.7L1231.2 1310.2L1232.2 1316.5L1233.1 1322.7L1232.8 1328.3L1233.9 1333.3L1234.3 1339.4L1235.1 1344.7L1235.1 1350.9L1236.2 1357.3L1236.4 1363.0L1237.0 1368.4L1238.0 1374.3L1238.1 1379.8L1239.2 1385.7L1239.7 1391.9L1240.8 1396.2L1242.0 1400.1L1242.7 1404.1L1245.2 1409.7L1246.4 1416.0L1247.6 1421.1L1249.0 1426.9L1250.3 1431.1L1251.9 1435.4L1253.2 1439.7L1253.8 1445.3L1256.0 1451.3L1257.2 1457.0L1258.5 1462.6L1260.3 1467.0L1261.3 1471.3L1262.2 1475.6L1265.8 1479.5L1269.1 1483.9L1272.4 1487.4L1275.9 1490.9L1279.5 1495.2L1282.9 1499.4L1288.7 1502.0L1294.5 1501.9L1298.4 1505.1L1302.5 1505.8L1306.3 1507.3L1310.7 1507.3L1315.0 1506.3L1319.2 1504.9L1323.5 1501.7L1327.6 1500.7L1331.7 1497.8L1336.3 1495.4L1341.0 1494.6L1345.3 1490.6L1350.3 1485.6L1352.3 1482.6L1353.9 1478.9L1355.9 1475.1L1358.7 1471.1L1361.7 1467.6L1365.1 1462.9L1368.6 1458.6L1368.3 1454.3L1368.9 1449.5L1369.9 1445.0L1370.2 1439.5L1370.2 1433.7L1371.2 1429.3L1371.9 1425.0L1371.2 1420.9L1372.5 1416.0L1372.5 1409.9L1376.5 1406.4L1380.7 1402.3L1382.0 1397.3L1383.2 1392.4L1383.8 1387.3L1385.1 1381.3L1385.8 1375.4L1387.1 1371.1L1386.9 1366.2L1388.0 1362.1L1388.7 1357.3L1389.4 1352.6L1390.5 1348.2L1390.1 1342.6L1391.1 1336.6L1391.3 1331.4L1391.7 1325.8L1392.9 1319.5L1393.4 1313.4L1392.7 1307.5L1393.9 1301.3L1394.1 1295.8L1394.7 1290.7L1395.0 1285.2L1395.4 1279.4L1395.5 1275.1L1396.6 1270.7L1395.9 1266.6L1396.5 1261.1L1397.2 1255.8L1397.4 1250.1L1398.4 1244.6L1399.3 1238.0L1399.5 1232.2L1399.3 1226.3L1400.6 1220.7L1400.9 1214.9L1401.0 1208.5L1401.5 1203.0L1402.0 1197.5L1402.1 1191.6L1402.7 1186.2L1402.7 1181.9L1403.4 1177.5L1403.3 1173.6L1404.3 1168.1L1405.0 1162.5L1405.4 1157.2L1405.4 1151.7L1405.0 1147.4L1405.9 1142.9L1405.4 1138.4L1406.7 1133.0L1406.2 1126.7L1407.1 1121.6L1406.9 1117.1L1407.5 1112.7L1408.0 1108.6L1407.6 1104.4L1408.8 1098.6L1408.2 1092.0L1409.6 1087.0L1410.1 1081.2L1409.9 1075.6L1410.2 1069.4L1410.5 1063.8L1411.4 1057.9L1410.8 1051.9L1412.1 1045.8L1411.8 1040.2L1413.0 1034.7L1412.3 1029.0L1412.6 1023.5L1413.7 1017.7L1414.0 1011.2L1414.8 1005.6L1414.5 999.2L1415.1 993.7L1415.8 987.8L1416.4 983.6L1416.4 979.4L1417.5 975.3L1417.5 970.7L1418.6 966.4L1418.3 961.8L1419.2 958.2L1419.6 953.6L1419.2 949.7L1419.5 943.9L1420.3 938.5L1421.2 934.6L1421.1 930.1L1421.5 925.9L1421.5 921.5L1421.2 917.1L1421.7 912.9L1422.2 907.7L1422.2 902.4L1423.2 896.5L1423.0 890.4L1422.7 885.9L1423.8 881.8L1423.3 877.4L1423.9 871.7L1424.8 866.6L1425.5 860.2L1424.7 854.2L1426.0 848.5L1426.5 842.8L1428.2 837.0L1428.5 830.9L1429.2 825.1L1430.2 818.8L1432.3 813.5L1432.7 808.5L1433.7 802.4L1434.9 796.5L1435.6 792.3L1436.3 787.5L1435.9 783.2L1436.7 778.5L1438.8 773.6L1438.8 767.8L1439.5 761.8L1441.0 757.2L1440.6 752.6L1441.3 748.2L1442.0 743.0L1443.1 737.6L1443.7 732.3L1444.8 726.7L1444.8 722.8L1445.7 718.3L1445.6 714.1L1445.9 708.3L1446.6 702.5L1448.2 697.2L1448.2 691.1L1449.3 685.7L1449.9 679.9L1450.6 673.7L1450.9 667.5L1451.8 661.7L1453.0 655.8L1454.4 650.5L1455.5 645.5L1456.2 639.5L1457.3 633.5L1457.9 626.9L1459.2 620.9L1459.9 615.4L1461.5 609.6L1461.4 604.0L1462.6 598.5L1464.0 592.6L1464.1 586.9L1464.9 583.0L1466.6 578.8L1467.0 574.4L1467.2 568.1L1468.8 562.6L1469.2 556.6L1470.8 550.9L1470.9 546.5L1471.7 541.7L1472.4 536.8L1473.6 530.7L1473.9 525.4L1475.3 519.5L1476.5 514.1L1477.1 509.1L1477.8 504.3L1478.2 499.7L1478.1 493.8L1478.9 487.4L1479.8 483.0L1479.3 478.8L1480.4 474.6L1480.1 470.5L1480.5 465.9L1480.4 461.5L1481.9 457.2L1481.9 453.0L1481.9 449.0L1482.5 444.7L1482.9 440.3L1482.6 435.8L1484.9 431.4L1486.0 426.8L1488.7 421.6L1490.2 416.3L1491.5 412.3L1492.5 408.5L1493.8 403.9L1495.3 399.9L1497.4 394.6L1499.7 390.1L1501.4 385.5L1502.9 379.6L1504.4 374.6L1508.9 369.5L1513.1 366.7L1517.3 364.4L1521.7 361.0L1525.8 361.0L1529.9 358.1L1533.9 357.7L1537.9 356.2L1541.7 353.9L1545.7 353.7L1551.0 358.2L1554.9 360.4L1558.6 365.0L1563.2 366.6L1567.5 369.6L1571.9 373.9L1576.2 374.0L1581.2 378.3L1586.2 378.1L1591.6 380.2L1597.0 379.4L1602.3 378.7L1607.8 377.3L1610.9 373.0L1614.0 369.4L1617.7 365.8L1620.6 362.9L1624.0 359.6L1627.1 356.3L1629.7 351.5L1632.3 348.9L1634.4 344.7L1637.1 341.4L1639.8 337.7L1641.6 333.5L1644.7 330.0L1646.9 324.7L1649.5 321.3L1653.3 316.4L1656.6 311.2L1659.7 307.9L1662.2 305.1L1665.4 302.0L1668.3 297.5L1671.1 293.2L1673.7 290.5L1678.2 286.6L1682.2 283.5L1685.8 278.8L1689.8 275.1L1693.4 270.8L1696.8 268.0L1700.4 266.1L1703.8 264.1L1710.0 261.8L1716.2 261.8L1720.6 259.1L1724.9 258.9L1729.3 256.4L1733.7 255.0L1738.1 255.1L1742.4 254.7L1746.7 252.3L1750.9 250.1L1755.1 249.4L1760.9 250.7L1766.6 249.3L1772.5 249.0L1778.4 248.0L1784.4 252.4L1790.3 251.9L1796.2 250.8L1802.2 250.6L1808.1 248.0L1814.0 252.5L1819.9 252.4L1825.9 250.6L1831.8 250.8L1837.7 251.7L1843.6 251.7L1849.6 251.5L1855.5 248.1L1861.4 251.3L1867.4 249.4L1873.3 251.3L1879.2 250.4L1885.1 246.9L1891.1 251.6L1897.0 247.2L1902.9 248.2L1908.9 251.7L1914.8 249.4L1920.7 251.7L1926.6 249.3L1932.6 247.7L1938.5 251.2L1944.4 246.7L1950.4 250.4L1956.3 249.7L1962.2 249.4L1968.1 248.4L1974.1 251.5L1980.0 248.3L1985.9 248.7L1991.9 248.0L1997.8 248.9L2003.7 248.8L2009.6 251.6L2015.6 250.7L2021.5 249.0L2027.4 251.0L2033.3 250.0L2039.3 247.3L2045.2 249.3L2051.1 248.9L2057.1 251.7L2063.0 250.2L2068.9 248.8L2074.8 251.3L2080.8 251.3L2086.7 251.6L2092.6 250.0L2098.5 251.5L2104.5 248.2L2110.4 251.7L2116.3 248.1L2122.2 249.0L2128.2 248.7L2134.1 249.1L2140.0 248.7L2145.9 247.1L2151.9 248.9L2157.8 251.6L2163.7 252.4L2169.6 251.2L2175.6 248.2L2181.5 249.0L2187.4 249.7L2193.3 251.4L2199.3 251.3L2205.2 247.2L2211.1 252.0L2217.0 249.9" stroke="#0000ff" stroke-width="8.5"/>
<path d="M384.9 239.7L390.9 241.2L396.8 243.8L402.7 243.9L408.6 238.5L414.5 243.7L420.5 240.6L426.4 242.1L432.3 242.9L438.2 243.4L444.2 242.7L450.1 241.4L456.0 241.6L461.9 241.9L467.8 239.4L473.8 240.0L479.7 244.5L485.6 240.5L491.6 242.1L497.5 240.2L503.4 241.4L509.3 241.3L515.3 241.3L521.2 242.9L527.1 240.7L533.1 241.2L539.0 244.2L544.9 242.8L550.9 239.7L556.8 243.4L562.7 242.9L568.7 242.3L574.6 240.0L580.5 241.3L586.5 240.1L592.4 243.9L598.3 241.7L604.3 242.6L610.2 238.5L616.2 242.8L622.1 243.3L628.0 241.2L634.0 240.6L639.9 239.8L645.9 243.2L651.8 241.1L657.7 242.3L663.7 243.2L669.6 244.1L675.6 243.6L681.5 244.6L687.5 242.2L693.4 243.6L699.3 242.1L705.3 243.5L711.2 240.2L717.2 240.8L723.1 243.4L729.1 241.9L735.0 241.8L741.0 241.0L746.9 240.6L752.9 241.5L758.8 242.8L764.8 240.1L770.7 240.2L776.6 243.3L782.6 239.9L788.5 242.8L794.5 241.5L800.5 239.4L806.1 242.3L811.8 241.0L817.5 242.2L823.1 240.3L828.8 240.3L834.5 242.8L840.1 241.9L845.8 241.8L851.5 242.9L857.1 240.7L862.6 240.4L868.1 242.9L874.0 241.9L879.8 241.6L883.9 238.3L888.0 237.2L892.0 236.9L896.1 234.4L900.1 233.4L904.2 232.4L908.1 231.8L912.1 230.4L916.0 227.7L920.3 226.9L924.6 227.6L928.8 225.6L932.2 222.2L935.4 220.6L938.6 217.6L941.9 211.6L946.6 216.4L951.3 213.9L956.2 210.2L961.3 206.2L965.8 210.2L970.3 208.4L974.9 207.4L979.6 208.2L984.3 207.9L988.6 205.8L991.3 210.4L993.6 214.5L995.2 219.3L997.8 223.0L1000.5 226.8L1006.2 227.5L1011.4 227.5L1013.5 231.2L1015.3 234.7L1016.9 239.6L1019.6 243.7L1022.4 247.6L1024.5 251.7L1026.7 258.6L1031.2 257.9L1035.8 255.5L1040.7 254.6L1045.6 257.2L1050.6 261.1L1055.9 264.5L1061.5 265.6L1067.2 266.4L1071.0 268.7L1074.6 269.4L1078.3 271.3L1082.3 274.2L1086.3 276.1L1090.4 276.7L1091.9 280.9L1092.6 285.0L1094.5 289.7L1096.6 294.0L1098.1 298.5L1101.9 304.9L1104.1 308.8L1106.8 312.6L1108.8 316.0L1111.2 320.0L1114.9 315.6L1118.2 312.0L1122.8 307.7L1127.0 305.6L1130.4 300.6L1134.1 296.6L1137.1 292.6L1140.4 288.1L1143.4 283.5L1146.0 287.3L1148.9 290.6L1151.6 294.3L1154.2 297.4L1156.2 300.8L1159.5 306.1L1162.2 312.1L1162.7 316.0L1163.3 320.3L1164.1 324.9L1165.3 329.9L1166.4 335.4L1166.7 339.5L1167.7 344.4L1167.5 348.4L1168.4 354.1L1168.5 358.3L1173.4 359.5L1178.4 359.9L1183.0 361.6L1184.6 365.8L1185.6 370.6L1186.4 374.4L1186.4 380.7L1187.5 386.3L1187.5 392.3L1188.0 398.0L1189.9 403.6L1191.0 408.8L1191.1 413.1L1192.2 418.2L1191.9 422.7L1193.4 428.6L1194.0 434.6L1195.0 440.4L1196.8 446.5L1196.8 452.4L1197.7 458.9L1198.6 463.0L1199.6 468.0L1200.6 472.8L1201.1 477.7L1201.6 483.2L1201.4 488.0L1202.9 492.3L1202.9 496.6L1203.2 502.8L1204.3 508.4L1205.0 512.8L1205.0 517.6L1205.4 521.9L1206.2 527.3L1206.3 532.4L1207.4 537.4L1206.9 542.2L1207.9 547.1L1208.5 551.4L1207.5 556.0L1207.5 560.0L1206.7 564.5L1207.5 568.9L1206.9 573.0L1207.0 579.4L1207.5 585.8L1208.0 592.0L1208.9 598.2L1209.9 602.3L1210.4 606.5L1210.4 610.4L1211.4 616.2L1211.6 621.7L1211.7 626.7L1212.5 631.5L1212.8 636.4L1213.9 641.4L1213.7 647.0L1215.3 651.1L1214.7 655.6L1215.6 659.6L1215.4 664.1L1216.4 668.4L1216.3 672.7L1217.4 676.6L1217.7 680.8L1218.6 685.3L1218.0 691.2L1219.4 696.8L1219.3 701.2L1219.2 705.6L1219.9 709.9L1219.8 714.2L1220.8 718.5L1220.9 723.1L1220.8 728.9L1221.6 734.9L1221.5 741.1L1222.2 746.5L1222.2 751.5L1222.3 756.3L1223.5 760.7L1223.2 766.6L1223.3 772.2L1223.7 778.3L1224.6 784.7L1225.5 788.6L1225.6 793.2L1225.5 797.8L1225.9 803.4L1225.5 809.4L1226.5 814.6L1226.7 820.6L1227.2 826.4L1226.6 832.4L1227.7 838.7L1227.5 844.5L1227.6 850.4L1227.4 856.2L1228.6 861.7L1228.7 866.8L1228.9 871.4L1228.7 875.3L1229.5 879.9L1228.7 885.5L1229.9 891.5L1229.8 896.6L1230.2 901.9L1229.8 906.4L1230.8 910.8L1230.5 915.5L1231.3 920.7L1231.1 926.1L1230.6 930.4L1230.9 934.6L1230.8 938.9L1231.7 943.8L1232.6 949.2L1232.1 953.9L1231.9 958.5L1231.8 962.7L1232.3 969.2L1231.9 975.1L1233.0 981.2L1232.5 986.9L1232.8 991.6L1232.6 996.0L1232.4 1000.6L1233.3 1006.0L1232.5 1012.2L1233.2 1016.5L1232.8 1020.4L1233.9 1024.4L1233.8 1030.2L1233.8 1035.7L1234.8 1040.4L1233.9 1044.5L1234.7 1049.4L1234.2 1055.1L1234.8 1060.5L1235.2 1066.3L1235.3 1072.4L1235.0 1078.8L1236.1 1085.0L1235.4 1089.0L1236.0 1093.5L1236.2 1098.1L1236.3 1103.3L1236.6 1108.4L1236.9 1112.7L1237.4 1116.9L1237.4 1121.5L1236.8 1127.4L1237.5 1133.9L1237.4 1139.9L1238.6 1145.6L1238.2 1151.3L1238.0 1157.2L1238.7 1163.8L1238.4 1169.8L1239.3 1174.1L1239.2 1178.4L1239.6 1182.3L1239.6 1187.9L1239.5 1193.2L1239.9 1199.3L1241.1 1205.7L1240.9 1210.2L1240.7 1214.2L1241.6 1219.0L1241.4 1224.3L1241.8 1229.5L1242.6 1235.4L1242.5 1241.3L1243.3 1247.1L1243.8 1253.4L1244.5 1259.1L1244.8 1265.0L1245.6 1270.8L1246.3 1276.9L1246.0 1282.1L1247.2 1287.2L1247.9 1292.0L1247.8 1296.7L1247.7 1301.2L1248.3 1306.3L1248.7 1311.2L1250.1 1317.4L1250.0 1322.8L1250.8 1326.9L1251.2 1331.2L1251.1 1335.5L1251.7 1341.2L1252.4 1346.7L1252.3 1350.6L1252.7 1354.7L1252.5 1359.1L1253.9 1363.8L1254.5 1368.7L1255.5 1373.7L1256.2 1378.5L1256.5 1383.7L1258.3 1388.9L1259.3 1394.4L1260.5 1398.7L1260.6 1403.0L1261.9 1407.0L1262.1 1411.2L1263.9 1415.4L1263.9 1419.5L1265.6 1423.7L1265.5 1428.1L1266.9 1432.4L1268.1 1437.7L1269.6 1443.2L1269.9 1447.6L1270.7 1452.3L1271.8 1456.9L1274.5 1462.0L1277.5 1466.3L1280.3 1470.1L1283.5 1475.0L1286.3 1480.1L1289.0 1484.0L1293.6 1487.4L1298.3 1487.2L1302.7 1490.8L1307.2 1495.0L1311.6 1492.6L1315.9 1490.7L1320.7 1489.0L1325.3 1484.8L1329.4 1483.6L1333.4 1482.8L1337.4 1480.7L1341.8 1477.9L1343.6 1472.1L1345.1 1465.5L1347.8 1460.4L1349.8 1455.8L1351.9 1450.3L1353.6 1444.8L1355.9 1439.5L1358.0 1434.9L1358.3 1430.3L1358.6 1426.3L1359.1 1422.1L1360.7 1417.6L1360.9 1413.2L1361.0 1409.0L1362.8 1403.6L1363.7 1398.0L1364.0 1393.4L1364.0 1389.2L1364.7 1384.6L1365.1 1380.3L1365.9 1376.4L1367.2 1372.0L1367.7 1366.1L1368.9 1360.4L1369.6 1356.0L1370.3 1351.6L1370.7 1347.2L1371.2 1341.9L1370.5 1336.1L1371.3 1330.2L1372.3 1323.7L1371.9 1318.9L1372.8 1313.9L1372.9 1309.3L1372.8 1305.3L1373.3 1301.1L1373.6 1295.2L1374.9 1289.3L1374.6 1283.9L1374.9 1278.3L1376.1 1272.3L1375.4 1266.7L1376.8 1260.8L1377.3 1255.0L1377.7 1248.6L1377.8 1242.8L1378.2 1237.5L1377.9 1232.7L1378.8 1227.8L1379.5 1223.6L1379.9 1219.8L1379.5 1213.8L1380.3 1208.2L1379.9 1202.2L1380.4 1196.3L1381.9 1191.3L1382.0 1185.8L1381.8 1179.5L1382.0 1173.3L1382.5 1167.2L1382.3 1161.5L1383.1 1156.5L1382.7 1151.4L1383.9 1147.0L1383.8 1142.7L1383.2 1138.0L1383.2 1133.0L1383.8 1127.6L1383.5 1121.2L1384.5 1115.1L1385.0 1109.8L1385.4 1104.5L1384.6 1098.3L1384.6 1092.5L1385.2 1088.2L1385.1 1084.1L1385.8 1080.1L1385.7 1075.2L1386.0 1070.1L1385.7 1066.0L1386.1 1061.8L1386.6 1057.5L1386.6 1051.4L1386.2 1045.8L1387.4 1040.0L1386.5 1034.2L1387.2 1028.7L1386.9 1023.0L1387.5 1017.1L1387.8 1011.3L1388.7 1005.1L1387.7 998.7L1388.7 992.7L1390.5 986.4L1390.5 980.9L1391.7 974.4L1393.3 970.0L1393.2 965.2L1393.6 960.9L1395.1 955.2L1396.2 949.9L1395.9 944.1L1395.9 938.0L1397.4 932.5L1397.5 926.6L1397.2 920.7L1397.6 915.0L1398.9 909.3L1399.5 903.8L1399.7 898.5L1399.3 893.1L1400.4 886.7L1400.1 880.4L1401.5 875.0L1402.0 869.7L1401.2 864.0L1402.6 858.1L1402.6 852.7L1402.8 847.0L1403.1 842.7L1403.7 838.6L1403.4 834.2L1404.9 828.8L1405.8 823.1L1407.0 818.7L1407.1 814.3L1407.8 810.0L1408.2 805.8L1408.7 801.5L1409.7 797.6L1410.0 791.7L1411.2 785.4L1412.6 781.3L1413.0 777.4L1413.4 773.2L1413.9 767.2L1415.0 761.4L1415.4 756.8L1416.1 752.3L1416.7 748.1L1417.1 743.5L1418.2 738.8L1418.5 734.2L1418.6 729.5L1419.8 725.1L1420.5 719.9L1420.6 714.1L1421.2 708.8L1422.4 702.5L1423.5 696.8L1423.9 691.2L1424.4 685.4L1424.7 680.2L1426.0 675.6L1425.6 671.4L1427.1 667.2L1426.9 662.1L1427.5 657.1L1428.9 650.4L1429.7 644.7L1429.5 638.7L1430.9 632.6L1431.3 627.2L1432.0 621.4L1433.1 615.7L1433.7 610.3L1434.5 603.9L1435.2 598.2L1435.7 592.3L1436.9 586.3L1436.7 581.0L1438.0 575.0L1438.3 568.8L1439.1 562.6L1440.1 558.6L1440.3 554.4L1441.5 550.1L1441.4 545.7L1442.5 541.3L1443.3 537.2L1444.6 531.4L1444.4 525.8L1445.8 521.5L1446.0 516.7L1447.2 512.5L1447.9 507.4L1448.8 502.7L1449.2 497.5L1450.8 501.8L1452.1 507.2L1453.7 511.9L1453.2 517.5L1453.1 522.9L1452.1 526.8L1452.3 531.1L1452.4 535.5L1449.6 539.4L1447.3 542.6L1444.6 545.6L1445.5 541.2L1445.4 536.2L1445.2 531.7L1446.7 527.1L1446.9 522.3L1447.4 516.5L1447.5 510.7L1448.7 504.5L1449.0 498.9L1449.7 494.1L1450.0 489.6L1451.5 485.1L1452.0 479.3L1452.2 474.1L1452.8 469.5L1452.7 465.1L1454.1 460.4L1455.0 454.9L1455.3 449.1L1455.0 444.5L1456.5 439.3L1456.4 434.4L1458.8 430.2L1460.0 425.4L1461.8 421.7L1463.2 417.4L1464.1 413.7L1465.4 408.0L1467.6 402.5L1469.2 397.6L1471.8 392.3L1473.2 387.2L1475.6 381.2L1477.3 376.8L1479.1 371.6L1480.2 367.3L1481.2 363.0L1482.3 359.0L1484.9 355.0L1487.4 350.0L1489.6 344.6L1491.4 339.2L1493.5 333.8L1496.4 329.1L1498.2 322.8L1500.9 317.1L1502.8 312.5L1505.6 307.7L1509.3 304.0L1513.3 298.7L1516.3 295.7L1519.2 292.4L1521.8 288.0L1527.4 292.0L1533.1 289.0L1538.0 289.5L1543.0 288.5L1548.9 286.0L1554.7 286.1L1558.2 290.2L1561.7 292.7L1565.2 293.7L1569.1 298.2L1573.0 300.7L1576.6 300.1L1580.2 299.5L1584.5 296.2L1588.8 295.1L1591.1 292.0L1593.4 287.6L1595.3 284.1L1599.2 279.9L1602.8 275.9L1605.4 272.7L1608.0 269.8L1610.7 266.2L1613.4 260.8L1616.2 254.9L1619.2 252.3L1621.7 247.1L1624.7 243.7L1627.7 239.8L1631.1 236.5L1633.9 232.2L1639.2 233.0L1644.4 232.3L1648.2 229.7L1652.0 226.3L1655.6 224.9L1659.5 229.2L1663.5 231.5L1667.2 236.2L1671.1 238.6L1675.9 237.7L1680.7 237.8L1685.8 240.2L1691.0 242.4L1696.2 242.2L1701.3 245.3L1706.3 244.6L1711.2 246.2L1717.1 246.1L1723.0 247.4L1729.0 246.9L1735.1 244.1L1741.1 246.9L1747.2 245.1L1753.2 243.7L1759.2 243.1L1765.3 245.5L1771.3 248.7L1777.4 245.0L1783.4 243.5L1789.5 247.4L1795.5 247.2L1801.5 244.1L1807.6 245.6L1813.6 247.2L1819.6 242.9L1825.7 243.5L1831.7 247.5L1837.7 248.0L1843.8 245.5L1849.8 247.7L1855.8 244.5L1861.8 244.1L1867.9 247.3L1873.9 246.0L1879.9 243.3L1885.9 246.8L1892.0 247.1L1898.0 242.2L1904.0 244.6L1910.0 247.7L1916.1 243.7L1922.1 243.7L1928.1 243.9L1934.1 244.2L1940.2 245.0L1946.2 246.7L1952.2 247.1L1958.2 242.2L1964.2 246.7L1970.2 243.6L1976.3 245.6L1982.3 245.2L1988.3 244.4L1994.3 242.5L2000.3 246.1L2006.3 243.2L2012.4 246.4L2018.4 243.1L2024.4 244.9L2030.4 244.7L2036.4 242.0L2042.4 245.0L2048.4 244.2L2054.5 241.5L2060.5 241.2L2066.5 243.6L2072.5 242.6L2078.5 240.4L2084.5 242.3L2090.5 244.9L2096.5 241.7L2102.6 244.4L2108.6 242.3L2114.6 242.6L2120.6 243.3L2126.6 243.1L2132.6 244.0L2138.6 244.1L2144.7 241.4L2150.7 241.4L2156.7 239.5L2162.7 239.2L2168.7 241.5L2174.7 241.4L2180.7 239.1L2186.8 242.5L2192.8 241.9L2198.8 240.4L2204.8 240.7L2210.8 241.0L2216.9 241.6" stroke="#00ffff" stroke-width="8.5"/>
<path d="M384.8 248.1L390.8 248.6L396.7 249.7L402.6 245.1L408.6 247.7L414.5 250.5L420.4 245.1L426.3 250.6L432.3 246.0L438.2 246.9L444.1 244.7L450.1 249.0L456.0 248.4L461.9 249.3L467.9 250.1L473.8 248.5L479.7 248.8L485.7 249.7L491.6 245.4L497.5 248.5L503.5 245.8L509.4 250.4L515.3 247.4L521.3 248.8L527.2 246.9L533.1 248.7L539.1 245.0L545.0 245.1L550.9 248.5L556.9 246.9L562.8 246.2L568.7 246.9L574.7 249.1L580.6 249.4L586.5 246.3L592.5 245.5L598.4 245.9L604.3 248.3L610.3 248.2L616.2 249.8L622.1 246.2L628.1 247.6L634.0 249.5L639.9 249.6L645.9 248.4L651.8 247.2L657.8 249.2L663.7 248.8L669.6 248.6L675.6 247.5L681.5 247.5L687.4 245.7L693.4 245.9L699.3 249.1L705.2 249.2L711.2 249.1L717.1 248.9L723.0 246.1L729.0 245.0L734.9 244.7L740.9 245.6L746.8 246.3L752.7 249.2L758.7 246.1L764.6 247.1L770.5 247.1L776.5 247.7L782.4 246.6L788.3 244.9L794.3 247.9L800.2 248.7L805.8 246.4L811.5 245.8L817.1 248.6L822.8 245.3L828.4 248.8L834.1 246.7L839.8 247.7L845.4 245.5L851.1 249.9L856.7 246.5L862.5 247.5L868.3 247.9L872.5 246.2L876.7 245.1L880.8 244.0L886.8 242.5L892.9 241.8L898.9 240.0L905.0 239.2L909.2 237.3L913.2 235.5L917.4 233.3L921.8 232.5L926.2 229.1L930.5 227.3L934.9 224.8L939.4 224.2L943.6 221.5L948.4 218.5L952.9 215.8L957.3 215.4L961.8 214.9L965.9 210.1L970.1 214.3L974.3 212.9L980.4 211.7L986.3 212.3L988.7 215.7L990.8 220.3L994.1 225.3L997.2 228.8L1002.7 229.8L1007.9 232.6L1010.2 236.5L1012.9 239.9L1014.9 245.5L1017.6 249.7L1020.2 254.5L1023.1 257.1L1028.6 259.8L1034.0 261.8L1038.9 262.0L1043.9 263.3L1048.7 266.8L1053.6 266.6L1059.1 268.3L1064.5 270.4L1068.3 272.9L1072.1 274.0L1075.8 276.7L1080.9 279.5L1085.9 280.9L1087.9 285.6L1089.0 289.7L1091.3 294.4L1093.0 300.0L1094.8 305.2L1096.9 310.2L1100.0 312.8L1103.2 316.8L1106.3 320.1L1109.6 322.8L1113.5 320.4L1117.3 317.9L1121.1 317.9L1126.0 314.6L1131.0 310.3L1133.6 306.3L1136.2 302.7L1138.7 300.0L1141.3 294.9L1144.7 289.7L1145.4 293.4L1146.2 296.7L1148.8 301.0L1150.9 304.5L1153.5 308.4L1156.5 313.7L1157.3 319.2L1158.2 325.2L1158.9 331.3L1159.6 337.3L1159.9 342.6L1160.7 348.7L1162.7 353.6L1163.1 358.7L1164.0 364.2L1168.9 364.5L1173.9 365.7L1178.6 367.3L1178.7 371.5L1179.7 375.7L1180.1 381.6L1180.8 387.5L1180.4 393.2L1181.4 398.0L1181.5 402.6L1183.1 407.0L1183.5 411.7L1183.8 417.4L1185.7 423.4L1186.3 427.3L1186.3 431.6L1187.6 435.4L1187.5 439.9L1188.5 444.7L1188.2 449.3L1189.1 454.7L1191.1 460.2L1191.8 464.5L1191.9 468.8L1191.8 473.1L1192.7 477.2L1193.7 481.7L1193.4 486.1L1194.3 492.2L1194.8 497.5L1195.0 501.8L1196.0 506.2L1196.5 510.5L1196.1 516.5L1197.6 522.6L1198.2 526.8L1198.1 531.0L1198.5 535.5L1199.0 541.3L1200.1 547.1L1199.3 551.8L1199.1 555.7L1199.4 560.0L1198.1 565.3L1198.5 569.8L1197.6 574.8L1198.1 581.0L1198.8 587.6L1199.6 593.0L1200.8 598.9L1200.9 603.7L1201.8 608.2L1201.2 612.3L1201.4 616.5L1202.9 620.8L1202.4 624.8L1203.7 629.0L1203.6 633.3L1204.6 637.1L1204.9 642.9L1204.9 648.9L1206.1 653.3L1205.8 658.0L1206.4 662.1L1206.2 666.2L1207.6 670.7L1207.2 674.8L1207.8 680.2L1208.3 685.8L1208.6 690.2L1210.0 694.9L1209.2 699.6L1210.3 705.3L1210.6 711.4L1210.4 717.4L1211.2 724.0L1211.0 727.9L1211.9 732.4L1211.6 736.6L1212.3 742.3L1212.8 748.0L1213.2 752.9L1213.4 757.6L1213.3 762.1L1213.8 767.7L1214.7 773.3L1214.6 779.4L1214.8 785.6L1216.1 790.3L1215.4 794.7L1215.5 799.6L1216.4 804.7L1216.3 810.1L1216.4 815.9L1217.1 821.7L1217.5 827.4L1218.1 833.1L1217.3 837.6L1217.9 841.7L1218.8 846.0L1219.2 851.5L1219.0 857.0L1219.5 862.1L1220.1 868.3L1219.2 872.2L1219.4 876.5L1219.7 880.5L1221.0 886.5L1220.8 892.0L1221.5 898.2L1221.1 904.1L1221.1 909.2L1221.6 914.7L1222.5 918.7L1221.6 923.1L1221.8 927.3L1222.3 933.2L1223.1 939.3L1223.6 944.6L1223.4 950.3L1223.2 956.4L1223.2 962.7L1223.8 966.8L1223.5 970.8L1223.6 975.2L1224.9 979.6L1224.9 984.1L1224.0 988.3L1224.7 993.6L1225.0 999.4L1224.6 1003.6L1225.7 1008.1L1225.7 1012.3L1225.5 1016.3L1225.0 1021.1L1225.8 1025.3L1226.4 1030.3L1226.3 1036.3L1226.7 1040.0L1227.5 1044.2L1227.0 1048.7L1227.2 1054.3L1227.1 1060.1L1227.5 1064.7L1228.3 1069.0L1228.8 1073.0L1228.6 1079.1L1229.4 1084.5L1228.7 1090.4L1229.4 1096.3L1229.0 1100.5L1230.2 1105.3L1230.2 1109.9L1230.8 1115.4L1230.5 1120.9L1230.9 1127.2L1231.5 1133.0L1232.1 1138.7L1232.1 1144.6L1231.4 1148.9L1231.7 1153.3L1232.2 1157.9L1233.2 1163.7L1232.3 1169.3L1233.9 1175.3L1234.1 1180.9L1233.2 1185.1L1234.5 1189.8L1233.7 1193.9L1234.3 1199.6L1234.5 1205.5L1235.4 1211.5L1234.9 1217.6L1235.8 1223.5L1236.3 1229.0L1236.6 1235.1L1238.1 1241.3L1238.4 1247.3L1238.9 1253.5L1238.7 1258.9L1240.0 1264.1L1240.6 1270.3L1240.2 1276.2L1241.3 1281.8L1241.4 1288.3L1242.4 1294.1L1242.2 1300.4L1242.9 1305.4L1244.0 1310.6L1244.0 1316.5L1244.2 1323.0L1245.7 1327.0L1245.7 1331.6L1245.9 1335.7L1245.7 1340.8L1246.2 1346.2L1247.4 1351.8L1247.7 1358.1L1247.9 1364.0L1249.4 1370.1L1249.3 1374.7L1250.6 1378.5L1252.0 1383.0L1252.8 1389.2L1254.2 1394.9L1255.5 1401.1L1256.4 1406.7L1257.3 1411.3L1258.6 1415.8L1258.7 1420.2L1260.0 1424.3L1260.8 1428.3L1261.8 1432.8L1263.1 1438.6L1263.9 1444.0L1265.1 1448.5L1265.7 1453.3L1266.4 1457.8L1268.8 1461.0L1270.9 1465.5L1273.1 1469.4L1276.0 1473.0L1278.6 1477.3L1281.5 1482.1L1285.0 1486.9L1288.3 1490.1L1292.0 1491.8L1295.4 1494.8L1300.7 1498.1L1306.2 1498.3L1311.6 1498.2L1317.0 1496.3L1322.2 1493.9L1327.3 1493.6L1331.8 1490.3L1336.3 1486.7L1341.2 1484.6L1346.1 1480.9L1347.0 1476.7L1349.0 1473.2L1350.7 1469.0L1353.1 1463.0L1355.0 1457.6L1357.1 1452.2L1358.9 1447.6L1361.6 1441.6L1363.7 1436.6L1364.3 1432.0L1364.7 1427.1L1365.4 1422.5L1367.0 1416.4L1367.1 1410.6L1368.3 1404.5L1369.2 1398.5L1369.9 1394.2L1370.2 1389.8L1370.6 1385.9L1372.2 1381.5L1371.9 1377.5L1373.1 1373.1L1374.4 1367.3L1374.4 1361.1L1375.6 1356.6L1375.8 1353.0L1377.1 1348.7L1376.8 1342.2L1377.2 1336.4L1378.2 1330.5L1378.6 1324.9L1378.3 1319.6L1378.8 1313.3L1380.1 1307.6L1380.0 1301.9L1380.7 1296.0L1380.5 1290.4L1381.9 1284.5L1381.4 1278.2L1381.9 1272.8L1382.4 1267.7L1383.3 1261.1L1383.6 1255.3L1384.2 1249.5L1385.1 1243.4L1385.0 1237.6L1385.8 1231.8L1386.0 1226.2L1385.8 1220.9L1386.8 1214.5L1386.8 1208.8L1388.2 1202.7L1387.7 1196.9L1388.2 1191.6L1388.3 1185.9L1389.9 1182.2L1389.9 1177.6L1389.4 1173.7L1390.6 1168.3L1389.9 1162.1L1390.3 1156.6L1389.9 1150.4L1391.4 1145.1L1391.3 1139.0L1391.8 1133.4L1391.3 1127.4L1392.1 1121.6L1392.1 1115.9L1391.7 1110.0L1392.4 1104.6L1391.9 1098.6L1392.4 1092.3L1393.2 1086.8L1393.1 1081.5L1393.5 1077.3L1392.8 1073.2L1393.7 1069.1L1393.6 1063.5L1393.0 1057.9L1393.5 1051.9L1394.4 1046.4L1394.4 1040.2L1394.9 1034.3L1393.8 1028.9L1394.4 1023.1L1394.3 1017.4L1394.4 1011.2L1394.6 1005.8L1395.5 1000.0L1395.4 995.6L1397.1 991.6L1397.7 986.9L1398.7 981.3L1398.6 975.3L1399.5 971.4L1400.7 967.0L1400.7 962.7L1401.4 958.6L1402.2 953.9L1402.9 949.3L1402.8 944.3L1403.5 939.1L1403.8 933.0L1404.9 926.2L1405.4 921.2L1404.9 916.2L1405.9 910.0L1405.4 904.1L1405.8 898.1L1406.4 892.7L1407.3 886.8L1407.1 881.6L1407.7 875.7L1408.0 870.1L1408.3 864.0L1409.0 858.5L1408.7 852.6L1410.3 846.2L1410.3 841.2L1410.1 836.4L1411.6 831.9L1411.2 827.4L1413.0 822.6L1413.4 817.0L1414.1 810.9L1414.9 804.6L1416.0 799.0L1417.4 794.7L1417.2 790.3L1417.6 785.8L1418.8 779.8L1420.4 773.8L1420.4 769.6L1421.2 765.3L1421.7 760.6L1422.3 755.3L1423.2 749.9L1424.4 744.2L1424.7 738.2L1424.8 732.3L1426.3 726.3L1427.3 720.1L1427.7 714.5L1428.4 708.5L1428.8 703.1L1430.0 697.4L1429.7 692.4L1430.9 687.5L1431.1 683.1L1432.2 678.7L1432.3 673.8L1433.8 668.8L1433.5 662.5L1434.1 657.1L1435.9 650.5L1435.6 644.8L1437.3 638.8L1437.7 632.9L1438.0 627.1L1439.0 621.8L1440.1 616.0L1440.8 610.8L1440.2 606.3L1440.7 601.8L1441.2 597.5L1442.6 592.4L1443.4 586.6L1443.7 581.1L1443.9 575.1L1444.9 568.7L1446.6 562.9L1446.4 558.9L1447.7 554.8L1447.8 550.4L1449.3 545.8L1448.8 541.5L1450.0 537.0L1450.9 531.9L1452.1 526.3L1452.7 521.9L1453.6 517.7L1454.1 512.7L1453.7 506.9L1454.3 500.7L1450.8 506.0L1447.5 511.6L1446.1 517.7L1446.3 523.8L1445.7 529.4L1444.4 535.1L1446.2 539.9L1448.8 544.4L1450.5 549.3L1450.5 544.6L1451.1 540.3L1452.7 536.0L1452.9 529.4L1453.7 523.5L1453.7 519.1L1455.0 514.7L1454.7 509.9L1455.5 504.1L1456.2 498.5L1457.2 492.1L1457.5 486.0L1458.7 482.1L1458.8 477.4L1459.4 473.1L1459.6 469.1L1460.7 464.9L1461.4 460.9L1461.8 454.9L1462.9 448.5L1463.2 443.1L1463.3 437.1L1465.4 432.9L1466.0 429.1L1467.3 425.5L1469.1 420.2L1471.2 415.5L1472.5 410.8L1475.0 405.9L1476.5 400.3L1478.9 393.9L1480.7 388.5L1482.4 383.4L1484.1 377.7L1485.7 372.7L1488.2 367.9L1489.7 363.2L1491.6 357.5L1493.6 352.2L1496.3 346.7L1498.1 341.9L1500.8 336.3L1502.8 329.8L1505.4 325.6L1507.7 321.7L1509.4 316.0L1511.3 311.7L1515.1 306.9L1518.4 303.6L1521.6 298.7L1525.1 295.3L1529.6 295.0L1534.0 296.9L1539.0 295.4L1544.0 296.1L1548.2 295.0L1552.5 293.5L1556.7 296.2L1560.8 297.4L1564.6 301.1L1568.0 304.9L1571.5 309.8L1577.1 306.1L1582.6 304.9L1587.7 303.1L1592.9 300.3L1595.4 295.8L1597.9 292.8L1600.6 289.7L1604.5 284.8L1608.0 280.4L1612.0 274.5L1615.6 269.9L1618.8 264.7L1621.2 259.7L1623.9 255.1L1626.7 249.3L1630.3 246.5L1633.7 242.8L1637.4 240.5L1641.6 238.6L1645.8 236.9L1649.6 234.3L1653.6 231.5L1657.2 235.8L1660.6 237.8L1664.3 240.3L1667.9 243.5L1673.3 244.3L1678.7 245.5L1683.8 244.6L1689.0 246.1L1694.1 247.0L1699.2 248.9L1704.5 249.4L1709.8 251.8L1716.0 250.8L1722.2 252.1L1728.2 252.8L1734.3 253.3L1740.3 250.3L1746.3 252.5L1752.4 249.7L1758.4 254.0L1764.4 250.6L1770.4 249.4L1776.5 253.9L1782.5 249.3L1788.5 249.6L1794.6 251.1L1800.6 248.6L1806.6 251.7L1812.6 249.9L1818.7 254.1L1824.7 250.3L1830.7 250.0L1836.7 250.2L1842.8 251.7L1848.8 249.4L1854.8 251.1L1860.9 250.0L1866.9 251.2L1872.9 251.6L1878.9 252.2L1885.0 252.0L1891.0 253.1L1897.0 249.3L1903.0 248.6L1909.1 247.9L1915.1 252.0L1921.1 250.4L1927.2 248.3L1933.2 250.4L1939.2 252.6L1945.2 250.6L1951.3 249.3L1957.3 250.1L1963.3 250.0L1969.4 251.7L1975.4 249.7L1981.4 251.7L1987.4 252.4L1993.5 249.6L1999.5 252.1L2005.5 247.1L2011.5 250.3L2017.6 247.6L2023.6 248.9L2029.6 248.2L2035.7 252.2L2041.7 247.7L2047.7 248.9L2053.8 249.1L2059.8 249.3L2065.8 247.1L2071.8 246.8L2077.9 250.3L2083.9 251.8L2089.9 248.3L2096.0 248.8L2102.0 250.6L2108.0 248.6L2114.1 250.7L2120.1 247.0L2126.1 248.5L2132.2 248.2L2138.2 247.8L2144.2 246.5L2150.3 248.1L2156.3 247.4L2162.3 246.2L2168.4 247.4L2174.4 246.5L2180.4 251.2L2186.5 250.4L2192.5 247.6L2198.6 249.7L2204.6 249.2L2210.6 246.1L2216.7 248.1" stroke="#00ffff" stroke-width="8.5"/>
<path d="M384.8 244.6L390.8 245.5L396.7 246.6L402.7 243.5L408.7 243.1L414.6 243.2L420.6 244.7L426.5 244.0L432.5 247.0L438.4 241.8L444.4 246.0L450.3 243.2L456.3 243.0L462.2 242.3L468.2 243.1L474.1 241.3L480.1 242.9L486.0 244.0L492.0 246.3L498.0 244.4L503.9 242.6L509.9 246.1L515.8 243.2L521.8 244.5L527.7 242.1L533.7 245.3L539.6 244.8L545.6 245.2L551.5 242.7L557.5 240.6L563.5 242.8L569.4 240.4L575.4 244.6L581.3 243.1L587.3 244.6L593.2 242.6L599.2 242.4L605.1 244.6L611.1 243.8L617.1 239.8L623.0 240.8L629.0 244.2L634.9 241.5L640.9 240.9L646.8 243.8L652.8 242.3L658.8 239.3L664.7 241.3L670.7 243.2L676.6 242.2L682.6 239.2L688.6 241.9L694.5 240.9L700.5 241.3L706.4 240.9L712.4 239.2L718.4 243.0L724.3 240.9L730.3 240.0L736.2 241.5L742.2 241.1L748.2 240.5L754.1 242.8L760.1 242.1L766.0 240.4L772.0 239.5L778.0 241.9L783.9 238.9L789.9 241.0L795.8 240.3L801.8 241.8L807.8 239.5L813.7 238.1L819.7 243.1L825.7 242.2L831.6 238.1L837.6 242.1L843.6 239.3L849.6 242.3L855.7 239.6L861.9 242.0L868.0 243.8L874.2 241.8L880.3 241.1L886.5 239.2L892.6 241.2L898.8 242.8L904.9 243.8L911.1 242.2L916.8 240.7L922.5 238.5L927.7 241.9L932.9 240.5L938.5 238.0L944.1 234.8L949.8 232.9L955.4 229.5L960.6 230.2L965.8 227.3L969.9 225.0L973.8 224.1L978.2 219.9L982.5 215.9L985.7 213.1L988.8 210.1L991.8 205.6L997.6 205.7L1003.4 203.2L1007.6 201.3L1011.9 199.2L1016.0 196.5L1021.6 198.0L1027.1 199.4L1032.2 200.1L1037.3 201.7L1040.7 205.6L1044.0 208.5L1047.4 213.3L1052.1 216.6L1056.6 219.1L1060.0 222.0L1062.6 226.1L1066.0 230.4L1068.9 233.1L1072.1 235.1L1075.2 238.4L1078.8 243.3L1082.7 247.7L1085.8 251.0L1089.3 253.1L1094.5 254.8L1099.8 256.4L1103.8 259.6L1107.8 258.8L1111.9 260.7L1114.3 265.3L1116.2 268.9L1118.3 272.4L1120.8 276.6L1123.5 280.4L1127.1 282.8L1130.5 286.9L1133.0 291.4L1135.1 295.6L1134.6 290.4L1135.2 285.9L1136.0 281.7L1137.3 277.6L1137.0 273.0L1137.6 268.8L1138.6 264.2L1139.8 259.8L1140.7 254.6L1143.1 248.9L1146.8 250.2L1150.8 252.8L1154.5 255.1L1157.8 259.6L1160.8 262.8L1164.1 266.0L1166.1 272.0L1168.3 277.9L1170.1 283.0L1171.9 287.8L1174.0 292.2L1175.6 296.8L1177.6 302.8L1178.8 308.1L1180.3 312.6L1180.9 317.1L1181.7 321.8L1183.0 325.7L1184.4 329.8L1185.4 334.3L1185.9 338.5L1187.2 343.0L1187.9 347.4L1188.6 352.2L1189.9 356.2L1190.7 360.7L1192.3 367.1L1192.6 372.4L1193.7 377.3L1194.8 381.3L1195.7 385.7L1197.2 391.6L1198.5 397.9L1198.7 402.1L1199.8 406.0L1200.7 410.1L1202.0 414.3L1202.1 418.5L1203.5 422.8L1203.9 427.1L1205.1 431.2L1205.3 435.5L1206.2 441.4L1207.7 447.2L1207.3 452.1L1207.6 456.6L1208.2 460.7L1209.7 467.0L1209.6 472.7L1210.7 478.9L1211.7 484.6L1212.1 489.1L1212.6 493.2L1213.0 497.7L1212.4 502.1L1213.4 506.1L1214.1 510.6L1214.4 515.8L1215.5 522.2L1215.4 526.2L1215.7 530.9L1216.5 535.0L1217.5 539.3L1217.6 543.5L1218.2 547.7L1218.5 551.6L1220.3 556.2L1221.1 559.9L1221.9 564.7L1223.5 569.1L1223.7 573.8L1224.5 578.3L1224.8 583.1L1226.2 587.1L1226.0 593.2L1227.0 599.2L1227.4 603.1L1227.2 607.4L1228.3 611.8L1229.2 615.8L1228.6 620.0L1229.5 624.3L1230.5 628.4L1230.1 632.4L1231.6 636.7L1231.8 642.7L1232.9 648.7L1232.5 653.1L1233.9 657.3L1233.0 661.3L1233.7 665.7L1234.6 669.6L1234.5 674.5L1236.1 680.3L1236.9 686.3L1236.1 692.6L1237.3 698.3L1237.2 702.7L1236.9 707.4L1238.2 711.7L1238.0 718.1L1237.9 723.7L1238.9 729.5L1238.9 735.7L1239.9 740.1L1239.5 744.3L1239.3 748.9L1240.4 754.9L1240.9 761.3L1240.5 767.1L1241.3 773.2L1241.8 777.4L1241.3 781.7L1242.2 785.7L1242.0 790.2L1242.0 794.2L1242.7 798.9L1242.5 804.1L1243.0 809.7L1242.8 815.8L1242.6 821.6L1242.5 827.7L1243.8 833.7L1243.8 839.2L1244.4 844.9L1244.6 850.8L1243.5 856.2L1244.8 860.7L1245.0 865.0L1244.4 868.9L1244.9 874.7L1244.7 880.1L1245.4 885.4L1245.7 891.6L1246.1 897.8L1245.9 904.2L1245.8 909.5L1245.9 915.0L1245.9 920.6L1245.7 926.3L1246.2 930.2L1246.8 934.4L1247.2 938.7L1247.2 945.0L1247.6 951.3L1246.6 956.5L1247.2 961.6L1246.6 966.4L1247.1 971.1L1246.7 975.0L1246.7 979.7L1247.1 984.1L1246.4 988.7L1246.8 993.7L1246.9 999.8L1247.8 1005.5L1247.9 1011.7L1247.6 1016.3L1247.6 1020.7L1247.7 1025.2L1248.0 1030.4L1247.5 1035.9L1248.2 1041.9L1249.1 1047.7L1248.5 1052.3L1249.5 1056.6L1248.6 1061.2L1248.7 1066.9L1249.3 1073.4L1250.0 1078.2L1249.4 1083.8L1249.6 1088.1L1250.6 1092.8L1249.7 1097.3L1249.8 1102.9L1250.8 1109.3L1251.2 1114.8L1250.9 1120.3L1251.5 1126.6L1251.2 1132.8L1252.0 1137.0L1250.8 1141.3L1252.3 1145.8L1251.6 1151.4L1251.5 1156.9L1252.0 1162.7L1252.5 1168.8L1252.7 1173.3L1253.2 1177.4L1252.4 1181.7L1253.1 1187.6L1253.6 1192.8L1254.0 1199.0L1253.8 1205.4L1254.2 1211.7L1254.0 1218.0L1255.0 1223.2L1255.3 1229.4L1255.7 1234.5L1256.1 1240.2L1256.1 1244.9L1257.0 1249.3L1256.7 1253.4L1258.1 1258.6L1258.7 1264.1L1259.2 1270.0L1258.8 1275.5L1259.2 1281.6L1260.0 1288.0L1260.4 1293.7L1261.0 1299.7L1262.3 1305.2L1262.8 1310.5L1262.8 1316.8L1262.8 1322.8L1263.5 1329.0L1264.1 1334.8L1264.8 1340.2L1264.9 1345.8L1265.8 1352.0L1266.6 1357.6L1266.9 1363.5L1267.1 1369.7L1268.2 1375.2L1269.8 1381.4L1270.9 1386.6L1271.9 1391.6L1272.7 1395.6L1274.0 1399.6L1273.9 1403.9L1275.8 1409.6L1276.9 1414.7L1277.6 1421.0L1278.1 1426.4L1279.9 1432.2L1281.2 1438.0L1282.3 1443.6L1283.8 1449.2L1284.9 1454.5L1285.2 1460.2L1288.5 1465.1L1291.2 1468.8L1294.2 1473.3L1296.8 1478.8L1301.9 1478.7L1307.0 1480.7L1312.7 1478.8L1318.4 1480.2L1323.1 1476.8L1327.5 1473.1L1329.4 1467.1L1331.0 1461.1L1332.1 1455.5L1333.2 1449.0L1334.9 1444.2L1336.5 1438.7L1337.1 1434.4L1338.4 1430.2L1339.0 1425.9L1341.0 1422.0L1341.8 1417.3L1342.8 1413.5L1343.9 1408.4L1345.9 1403.0L1347.0 1397.3L1348.6 1391.2L1348.4 1385.0L1349.4 1379.2L1349.1 1373.6L1349.4 1367.9L1349.8 1362.4L1351.0 1357.1L1351.6 1353.1L1351.9 1348.9L1351.7 1344.2L1352.3 1338.5L1353.0 1332.9L1353.2 1327.6L1353.0 1322.1L1353.8 1316.3L1354.3 1310.5L1353.9 1304.2L1355.1 1298.2L1355.3 1292.3L1356.3 1286.8L1355.5 1281.0L1357.0 1275.7L1357.2 1269.1L1357.9 1263.0L1357.5 1257.7L1358.7 1252.3L1358.1 1246.3L1358.9 1240.4L1360.1 1234.8L1360.1 1229.0L1360.2 1223.1L1361.5 1217.1L1361.5 1211.1L1360.8 1205.7L1361.9 1201.5L1362.4 1196.8L1362.3 1192.8L1361.7 1186.9L1362.9 1181.0L1362.5 1175.4L1362.5 1169.3L1363.7 1162.9L1363.1 1157.0L1364.0 1153.0L1364.6 1148.7L1364.3 1144.6L1364.3 1138.6L1365.4 1133.3L1365.2 1127.2L1365.3 1120.6L1365.0 1116.7L1365.0 1112.4L1365.9 1108.0L1366.6 1102.5L1366.0 1096.5L1366.4 1090.5L1366.3 1084.9L1367.0 1078.4L1367.7 1072.3L1367.1 1068.0L1367.7 1064.2L1368.1 1059.7L1368.2 1053.9L1369.4 1048.2L1368.9 1042.4L1368.7 1036.3L1370.0 1030.0L1370.2 1024.0L1370.5 1017.4L1370.4 1011.3L1371.1 1006.0L1370.7 1000.4L1371.4 996.2L1371.5 991.3L1371.5 987.1L1372.3 982.8L1372.2 978.7L1372.2 974.5L1373.4 968.7L1373.3 962.6L1373.1 956.1L1374.2 950.2L1374.1 945.7L1374.8 940.9L1374.0 936.1L1374.3 930.5L1375.1 924.5L1375.6 920.4L1375.8 916.1L1375.2 911.6L1375.7 906.8L1375.7 902.4L1376.9 898.0L1376.9 893.7L1376.6 889.4L1376.5 885.3L1377.6 879.4L1378.2 873.3L1378.2 868.9L1378.2 864.1L1379.0 859.5L1378.3 853.7L1379.1 848.0L1379.4 841.7L1379.4 835.6L1380.3 831.3L1380.6 827.3L1379.5 822.8L1379.8 818.7L1380.5 814.5L1380.7 810.0L1381.6 804.5L1381.2 798.9L1381.7 794.3L1382.4 789.4L1382.8 784.6L1383.0 778.8L1384.1 772.8L1384.9 766.7L1385.5 761.0L1386.1 756.4L1386.3 752.4L1386.9 747.7L1386.6 743.6L1387.1 739.3L1388.1 735.3L1388.3 729.6L1388.4 724.0L1389.2 719.5L1390.2 714.7L1389.5 709.9L1390.1 703.8L1391.0 698.0L1391.7 692.6L1392.6 686.6L1393.0 682.6L1393.8 677.6L1393.5 673.1L1394.5 669.0L1394.5 664.5L1395.0 659.8L1395.2 654.8L1396.1 649.7L1397.9 645.3L1399.9 641.6L1401.5 637.7L1403.2 633.6L1405.2 629.4L1406.7 625.7L1409.1 622.7L1411.7 618.8L1411.8 613.5L1412.6 608.4L1412.3 602.7L1412.5 596.4L1413.5 590.4L1413.2 584.1L1413.7 579.9L1415.0 575.0L1414.9 570.4L1415.4 566.3L1416.0 561.5L1416.1 557.3L1416.4 553.2L1416.9 548.8L1418.0 543.1L1418.9 536.9L1418.7 530.8L1420.2 525.1L1420.6 520.0L1420.5 515.7L1421.4 510.8L1422.3 506.1L1422.8 501.5L1425.7 507.6L1427.4 513.0L1426.5 518.4L1426.7 523.9L1426.0 528.1L1425.1 532.2L1424.6 536.3L1421.5 540.4L1418.9 543.8L1415.6 547.3L1416.9 543.2L1417.1 538.5L1416.8 534.1L1417.9 528.1L1419.7 522.7L1419.6 518.0L1420.6 514.2L1420.4 510.1L1421.5 505.4L1421.7 501.0L1422.4 496.6L1423.6 491.3L1424.3 485.3L1425.0 481.0L1425.2 477.0L1426.1 472.4L1426.3 467.9L1427.1 463.7L1427.3 459.6L1428.7 453.5L1428.8 447.8L1429.7 442.0L1430.7 435.6L1431.3 431.4L1431.8 426.8L1432.5 422.7L1434.1 417.5L1435.0 412.2L1436.5 406.1L1436.3 400.5L1437.3 394.7L1438.8 388.5L1439.9 382.8L1440.5 376.7L1441.6 371.4L1442.4 366.1L1442.8 361.7L1444.2 357.8L1444.5 353.6L1446.0 347.6L1446.3 341.9L1449.5 336.5L1452.2 331.8L1454.0 326.3L1456.8 321.3L1459.8 316.3L1462.1 311.7L1466.2 308.4L1470.1 304.7L1474.1 302.5L1479.1 300.4L1484.1 299.9L1488.2 298.0L1492.3 299.1L1493.0 294.6L1494.1 290.5L1496.0 284.9L1497.2 279.0L1498.6 275.1L1499.0 270.5L1500.6 266.6L1501.4 260.9L1503.4 254.9L1507.3 253.9L1511.3 251.2L1515.2 248.9L1519.1 245.7L1524.2 244.6L1529.2 243.0L1533.6 245.8L1537.8 245.9L1543.2 244.7L1548.4 241.3L1552.3 238.8L1556.0 235.5L1559.6 231.3L1563.3 228.8L1567.2 226.8L1570.8 223.4L1574.7 221.3L1578.5 218.0L1582.4 216.9L1587.7 215.1L1593.0 213.5L1598.4 210.5L1603.3 214.9L1608.3 217.7L1613.0 220.2L1617.7 224.4L1622.3 226.5L1627.0 229.4L1631.7 230.0L1636.4 232.7L1640.3 236.8L1643.9 241.5L1647.9 245.4L1652.8 248.1L1657.9 252.2L1662.7 249.6L1667.4 248.7L1672.1 247.6L1676.2 247.5L1680.4 245.0L1684.6 247.4L1690.6 245.0L1696.7 245.9L1702.7 244.2L1708.7 246.3L1714.8 247.9L1720.8 243.7L1726.9 245.2L1732.9 247.6L1739.0 248.6L1745.0 246.8L1751.0 248.0L1757.1 243.9L1763.1 244.8L1769.2 248.3L1775.2 244.0L1781.3 243.8L1787.3 242.6L1793.4 247.2L1799.4 247.2L1805.4 246.3L1811.5 242.1L1817.5 243.0L1823.6 244.0L1829.6 244.3L1835.7 243.5L1841.7 242.0L1847.8 246.8L1853.8 246.1L1859.9 244.8L1865.9 242.1L1872.0 244.3L1878.0 243.5L1884.0 243.7L1890.1 244.3L1896.1 241.2L1902.2 241.6L1908.2 242.5L1914.3 241.4L1920.3 240.7L1926.4 243.3L1932.4 240.6L1938.5 243.8L1944.5 243.9L1950.6 242.8L1956.6 244.4L1962.7 242.9L1968.7 240.8L1974.8 244.8L1980.8 243.6L1986.9 241.9L1992.9 243.2L1999.0 239.7L2005.0 242.7L2011.1 243.2L2017.1 241.5L2023.2 240.6L2029.2 239.3L2035.3 239.6L2041.3 243.9L2047.4 244.3L2053.4 242.9L2059.5 242.5L2065.5 238.4L2071.6 243.1L2077.6 238.9L2083.7 240.8L2089.7 242.5L2095.8 241.7L2101.8 239.3L2107.9 241.6L2113.9 243.6L2120.0 238.4L2126.1 241.7L2132.1 238.8L2138.2 242.1L2144.2 242.3L2150.3 241.0L2156.3 239.7L2162.4 243.3L2168.4 242.8L2174.5 241.2L2180.5 238.3L2186.6 240.4L2192.6 241.0L2198.7 242.0L2204.8 242.4L2210.8 242.6L2216.9 240.5" stroke="#ff00ff" stroke-width="8.5"/>
<path d="M385.8 247.9L391.7 247.8L397.7 248.3L403.7 248.0L409.6 252.2L415.6 249.0L421.6 250.1L427.5 249.0L433.5 249.1L439.4 249.3L445.4 250.4L451.4 253.0L457.3 248.0L463.3 251.5L469.2 250.6L475.2 250.0L481.1 251.9L487.1 249.8L493.1 248.6L499.0 248.4L505.0 251.2L510.9 250.8L516.9 250.6L522.8 251.9L528.8 248.3L534.7 250.4L540.7 248.5L546.6 246.9L552.6 250.7L558.5 248.2L564.5 249.4L570.4 248.7L576.4 249.5L582.3 248.8L588.3 246.9L594.2 251.2L600.2 246.3L606.1 251.6L612.1 247.8L618.0 249.1L624.0 250.3L629.9 246.4L635.8 249.1L641.8 246.5L647.7 247.7L653.7 248.1L659.6 248.0L665.6 248.1L671.5 250.1L677.5 249.3L683.4 247.2L689.4 250.4L695.3 248.2L701.3 247.8L707.2 248.0L713.2 246.6L719.1 250.5L725.1 249.2L731.0 248.4L737.0 251.1L742.9 246.3L748.9 249.0L754.8 251.3L760.8 249.3L766.7 248.0L772.7 250.9L778.6 249.9L784.6 247.0L790.5 250.7L796.5 251.0L802.4 246.9L808.4 247.7L814.3 248.4L820.3 246.1L826.2 250.4L832.2 246.2L838.2 247.6L844.1 251.1L850.0 249.5L856.2 248.3L862.3 250.4L868.4 247.7L874.6 247.9L880.7 251.8L886.9 246.7L893.0 246.9L899.2 248.7L905.3 248.2L911.4 248.0L915.7 248.7L919.9 249.4L924.2 251.5L927.9 249.0L931.8 247.0L935.7 245.0L941.2 243.8L946.9 240.6L952.5 240.0L958.0 239.7L963.9 236.5L969.7 234.5L974.0 231.4L978.5 227.2L983.1 223.3L987.3 219.1L991.5 217.5L995.9 215.5L1001.3 211.5L1006.8 208.3L1012.1 206.0L1017.3 201.8L1021.4 205.7L1025.6 204.8L1029.9 206.7L1034.5 207.7L1037.2 212.1L1040.3 215.2L1043.3 218.1L1047.9 220.7L1052.6 222.9L1055.5 227.0L1058.8 230.2L1061.9 235.9L1066.6 238.5L1071.0 242.3L1074.7 247.0L1078.6 253.0L1082.5 255.0L1086.5 256.1L1090.3 258.6L1094.3 260.0L1098.1 263.5L1103.4 264.2L1108.6 267.4L1111.3 270.6L1113.5 274.8L1116.8 279.6L1119.6 282.9L1123.3 287.7L1126.8 291.5L1130.2 295.1L1133.7 297.9L1137.1 302.1L1138.3 298.0L1139.3 293.1L1140.1 288.8L1141.1 284.4L1141.6 279.6L1142.9 274.3L1143.5 270.0L1143.6 266.0L1143.7 261.6L1144.2 257.4L1144.0 252.9L1147.6 256.2L1151.0 258.4L1153.9 261.7L1157.0 265.9L1160.0 268.9L1161.6 273.9L1163.5 279.8L1165.1 284.3L1167.3 289.3L1168.9 293.9L1170.8 298.7L1173.3 303.7L1174.3 308.9L1176.0 313.7L1176.7 318.3L1177.3 322.6L1178.6 328.4L1179.8 334.4L1180.8 338.7L1182.6 343.3L1182.5 347.8L1183.7 352.6L1184.5 356.6L1185.4 361.1L1186.8 365.2L1187.4 369.2L1187.8 373.6L1189.0 379.5L1191.3 384.7L1191.5 389.2L1192.5 394.1L1193.2 398.8L1193.8 402.9L1195.5 406.9L1195.8 411.1L1197.4 416.8L1197.6 422.4L1199.5 426.5L1199.5 430.9L1201.1 435.2L1201.0 439.6L1201.2 443.5L1201.9 447.8L1202.6 453.6L1203.5 459.8L1204.1 465.9L1204.8 471.8L1204.6 476.2L1204.7 480.7L1206.0 485.1L1205.8 489.2L1206.1 493.1L1207.0 497.4L1207.6 503.2L1208.6 509.3L1208.3 513.5L1209.5 517.7L1208.8 521.9L1209.7 526.3L1209.9 530.5L1210.5 535.5L1211.6 541.1L1211.8 546.5L1213.0 551.1L1213.8 555.8L1215.0 560.8L1216.3 565.5L1217.2 570.1L1217.8 574.1L1218.4 580.6L1219.2 586.2L1219.1 592.3L1220.0 598.3L1220.7 602.6L1221.3 607.2L1221.4 611.4L1221.8 615.7L1222.3 620.2L1222.9 624.4L1223.6 630.0L1224.0 635.9L1224.2 640.1L1224.5 644.4L1225.9 648.4L1225.9 653.1L1226.2 657.3L1226.2 661.7L1226.7 667.7L1228.0 673.1L1228.2 679.4L1229.5 685.6L1228.7 690.1L1229.5 694.7L1229.1 699.3L1229.4 704.8L1230.2 710.6L1230.2 714.9L1231.2 719.4L1230.8 723.6L1231.3 729.6L1231.1 735.3L1231.9 740.0L1232.0 744.4L1232.1 749.4L1232.9 754.9L1233.3 760.5L1232.4 764.8L1233.4 769.0L1233.2 773.2L1233.3 777.4L1233.2 781.7L1234.0 786.2L1234.1 790.5L1234.9 794.7L1234.5 798.4L1235.2 804.0L1235.2 809.1L1234.8 813.3L1235.3 817.8L1234.8 822.1L1235.0 827.5L1236.2 833.5L1235.8 839.3L1236.2 845.4L1235.6 850.7L1237.1 856.4L1236.8 862.7L1236.8 868.4L1237.8 874.8L1237.6 881.1L1237.8 886.2L1238.4 891.2L1238.1 897.8L1238.6 903.6L1237.9 909.4L1238.9 915.9L1238.9 921.5L1239.3 927.6L1239.5 932.9L1239.2 938.6L1239.2 944.4L1240.3 950.7L1239.9 956.7L1239.3 963.0L1239.7 967.3L1239.5 971.7L1239.2 975.9L1239.6 981.5L1240.0 987.3L1239.7 991.9L1240.4 996.4L1240.3 1001.0L1240.7 1007.2L1240.8 1013.3L1240.5 1018.7L1240.4 1024.6L1240.5 1028.3L1241.8 1032.8L1241.6 1037.4L1241.2 1043.6L1241.6 1049.6L1242.6 1055.2L1242.3 1060.6L1242.0 1066.8L1242.7 1073.2L1243.4 1079.0L1243.5 1084.9L1243.1 1089.4L1242.8 1094.0L1243.1 1098.1L1244.1 1103.7L1244.4 1108.8L1243.7 1113.0L1244.2 1117.2L1244.1 1121.8L1244.6 1125.7L1244.3 1130.1L1244.4 1134.0L1245.5 1140.3L1245.1 1145.9L1245.4 1151.6L1246.0 1157.1L1245.4 1161.4L1246.8 1165.9L1246.1 1170.3L1246.4 1176.2L1247.0 1182.1L1246.5 1188.2L1247.3 1194.3L1247.1 1200.1L1246.9 1206.0L1247.5 1210.4L1247.9 1214.4L1247.7 1218.5L1248.1 1224.7L1248.9 1231.0L1248.9 1236.0L1249.4 1240.5L1249.7 1245.2L1250.1 1249.7L1251.1 1253.8L1251.7 1260.0L1251.9 1265.1L1252.0 1271.5L1253.3 1277.3L1253.5 1282.6L1253.3 1287.8L1253.6 1292.1L1254.8 1296.9L1255.3 1301.0L1255.5 1306.5L1256.4 1311.5L1256.1 1317.6L1256.7 1323.7L1256.9 1329.5L1257.7 1335.1L1258.6 1341.0L1258.8 1347.1L1259.6 1353.3L1259.9 1359.3L1260.3 1364.5L1260.7 1369.6L1261.8 1374.2L1261.7 1378.3L1263.2 1383.1L1264.2 1388.7L1265.1 1393.8L1265.7 1399.6L1266.7 1405.3L1268.3 1410.6L1269.8 1416.0L1270.3 1420.3L1271.1 1424.4L1271.3 1428.8L1272.3 1434.0L1273.7 1439.7L1275.3 1445.2L1275.8 1450.8L1277.1 1456.4L1278.4 1462.3L1280.6 1466.6L1283.1 1470.1L1284.8 1474.6L1288.5 1479.7L1292.1 1483.1L1296.9 1485.8L1301.7 1487.8L1306.5 1490.0L1311.7 1487.3L1316.8 1486.9L1321.9 1486.6L1326.2 1483.3L1330.5 1479.3L1334.4 1476.4L1335.9 1472.3L1337.6 1467.3L1338.5 1463.2L1340.3 1457.8L1341.9 1452.0L1343.6 1446.2L1344.4 1440.0L1345.8 1435.7L1346.8 1431.7L1347.4 1427.1L1349.5 1421.7L1351.0 1416.2L1352.5 1410.9L1353.6 1405.2L1355.3 1400.7L1355.7 1396.1L1356.8 1391.7L1357.2 1385.7L1358.3 1379.9L1358.8 1374.5L1358.1 1369.2L1359.7 1363.1L1359.9 1356.6L1360.1 1350.9L1360.9 1344.7L1360.7 1339.3L1360.8 1333.5L1361.3 1328.2L1361.6 1322.4L1362.4 1316.6L1362.2 1311.0L1363.1 1306.7L1363.6 1302.1L1363.4 1297.7L1364.3 1292.6L1365.0 1287.6L1364.5 1282.2L1364.7 1276.2L1366.1 1270.0L1366.3 1263.9L1367.0 1257.8L1366.8 1252.4L1367.1 1246.7L1367.3 1241.4L1368.2 1235.6L1368.5 1229.5L1368.8 1223.3L1368.9 1217.2L1369.8 1211.3L1369.3 1205.8L1370.1 1199.6L1369.8 1193.3L1371.2 1187.7L1370.3 1181.8L1371.0 1177.2L1371.1 1172.9L1371.6 1168.4L1372.3 1163.4L1371.5 1158.4L1372.3 1153.6L1372.7 1149.7L1372.0 1145.3L1372.7 1139.1L1372.9 1133.1L1372.6 1127.1L1373.2 1120.9L1373.1 1115.0L1373.7 1109.7L1374.5 1105.3L1374.2 1101.3L1374.7 1096.9L1374.6 1091.1L1374.2 1084.8L1374.3 1079.0L1374.8 1072.8L1375.6 1067.3L1375.0 1061.3L1376.5 1054.8L1376.0 1048.5L1375.8 1044.4L1376.8 1040.1L1376.4 1036.0L1376.8 1031.1L1376.7 1025.8L1377.0 1020.9L1378.0 1016.4L1377.1 1012.1L1377.5 1006.6L1378.3 1000.8L1377.8 996.6L1378.1 992.4L1379.1 988.3L1378.6 981.8L1379.3 976.4L1379.5 971.7L1379.6 967.1L1380.4 962.9L1380.2 956.5L1380.1 950.7L1380.8 946.5L1380.9 942.1L1380.3 938.1L1381.2 933.9L1380.8 929.7L1381.2 925.4L1381.2 920.9L1381.5 915.9L1381.4 911.5L1382.1 905.5L1383.1 899.9L1382.9 895.7L1382.6 891.0L1383.8 886.4L1383.5 882.4L1383.7 878.0L1383.1 873.6L1384.7 867.6L1384.8 861.4L1384.2 855.2L1384.8 848.9L1385.1 844.9L1385.6 840.4L1385.4 836.4L1385.9 832.2L1386.3 828.0L1386.6 823.8L1385.9 817.9L1386.5 811.9L1386.6 805.9L1387.4 799.5L1388.0 794.8L1387.7 790.8L1388.2 785.8L1389.3 780.2L1390.0 774.4L1390.0 770.6L1390.3 766.4L1390.9 762.2L1391.0 757.6L1392.2 753.4L1391.7 749.5L1392.3 745.2L1393.1 741.1L1394.0 736.6L1394.1 730.9L1395.0 724.7L1395.8 720.5L1395.7 716.6L1395.5 712.3L1396.3 707.8L1396.6 703.5L1396.9 699.5L1397.0 694.9L1397.5 691.0L1398.7 687.0L1399.0 681.0L1399.3 675.8L1400.2 670.8L1401.1 665.9L1401.1 660.9L1401.6 655.6L1401.8 650.1L1404.7 645.6L1406.6 640.7L1409.7 636.0L1411.5 631.4L1413.2 627.5L1415.3 623.6L1416.9 619.3L1418.0 613.8L1418.1 608.3L1418.0 602.9L1418.8 597.2L1419.6 591.9L1419.5 585.8L1420.5 580.5L1420.8 574.4L1421.4 570.7L1422.5 566.4L1421.9 561.6L1422.3 556.6L1423.4 550.8L1423.8 546.2L1424.5 540.9L1424.8 536.3L1425.7 530.6L1425.6 525.3L1426.4 521.2L1426.3 516.7L1427.4 512.1L1428.1 508.1L1428.0 503.8L1427.9 500.0L1426.0 503.3L1423.8 506.7L1421.1 511.1L1421.2 515.5L1420.2 519.8L1419.5 524.4L1419.5 529.9L1418.6 535.8L1420.7 541.2L1423.7 546.7L1423.7 542.4L1423.9 538.5L1423.4 533.9L1424.4 528.9L1426.0 523.4L1425.7 518.6L1426.3 513.7L1427.4 509.0L1428.2 503.2L1429.1 498.0L1428.8 493.7L1429.7 489.3L1430.8 485.1L1431.5 479.1L1432.8 473.1L1432.9 468.8L1432.8 464.2L1434.0 459.5L1434.5 453.7L1435.2 447.7L1435.9 441.8L1437.0 435.8L1438.7 429.6L1439.2 424.0L1440.3 417.9L1440.7 411.7L1442.2 406.6L1442.4 401.1L1443.4 397.1L1444.0 393.1L1444.8 388.7L1446.1 383.1L1446.9 376.9L1446.9 371.5L1448.6 365.8L1448.8 359.7L1450.8 354.5L1451.8 348.5L1452.3 342.8L1454.2 337.9L1457.0 333.4L1459.1 327.9L1462.1 322.7L1464.4 319.6L1466.7 315.8L1470.0 312.1L1473.4 308.6L1476.9 306.1L1481.1 305.1L1485.3 300.9L1490.8 304.3L1496.1 304.4L1496.9 299.8L1498.7 294.8L1499.3 290.6L1501.0 285.0L1502.3 279.4L1503.9 273.4L1505.0 267.8L1506.6 263.0L1507.5 258.2L1512.0 254.8L1516.7 253.3L1521.2 250.3L1525.2 250.9L1529.3 251.7L1534.5 249.9L1539.7 250.5L1543.6 249.0L1547.6 246.3L1551.5 245.6L1555.4 241.8L1559.2 240.0L1562.8 237.0L1566.8 232.7L1570.3 230.1L1574.1 226.9L1577.7 224.6L1581.1 222.3L1584.6 218.6L1589.1 217.2L1593.5 217.0L1598.1 216.0L1602.2 218.5L1606.2 221.7L1610.8 223.9L1615.4 226.4L1618.5 228.2L1621.6 232.6L1624.8 234.8L1629.3 236.1L1634.0 237.2L1637.7 240.8L1641.4 243.6L1645.1 248.1L1649.0 251.0L1653.5 254.9L1657.6 257.4L1662.9 254.6L1668.1 252.2L1673.5 250.7L1679.2 252.8L1685.0 249.8L1691.0 250.9L1697.0 252.4L1703.1 251.5L1709.1 250.0L1715.2 254.1L1721.2 252.1L1727.3 251.7L1733.3 251.8L1739.3 253.3L1745.4 252.4L1751.4 252.6L1757.5 252.7L1763.5 251.4L1769.6 249.9L1775.6 251.4L1781.7 252.5L1787.7 252.4L1793.8 252.2L1799.8 251.7L1805.8 250.7L1811.9 252.8L1817.9 251.9L1824.0 249.5L1830.0 249.2L1836.1 248.8L1842.1 249.5L1848.2 248.4L1854.2 253.3L1860.2 251.0L1866.3 249.3L1872.3 252.4L1878.4 251.8L1884.4 251.8L1890.5 247.9L1896.5 249.5L1902.6 251.1L1908.6 251.3L1914.6 252.7L1920.7 252.0L1926.7 249.2L1932.8 249.3L1938.8 250.1L1944.8 251.6L1950.9 251.0L1956.9 249.1L1963.0 248.8L1969.0 249.7L1975.0 250.8L1981.1 248.1L1987.1 252.9L1993.2 252.2L1999.2 252.5L2005.2 248.2L2011.3 250.9L2017.3 250.3L2023.3 252.1L2029.4 249.2L2035.4 250.8L2041.5 249.7L2047.5 252.7L2053.5 248.4L2059.6 249.3L2065.6 248.2L2071.6 247.7L2077.7 249.8L2083.7 251.4L2089.7 247.8L2095.8 251.3L2101.8 250.2L2107.8 247.5L2113.9 252.6L2119.9 250.1L2125.9 248.1L2132.0 248.9L2138.0 250.8L2144.0 249.1L2150.1 249.9L2156.1 251.0L2162.1 251.6L2168.2 252.0L2174.2 249.9L2180.2 251.2L2186.3 251.3L2192.3 247.2L2198.3 248.3L2204.4 252.2L2210.4 251.4L2216.4 249.8" stroke="#ff00ff" stroke-width="8.5"/>
<path d="M384.7 242.4L390.6 241.6L396.6 244.6L402.6 243.8L408.6 243.8L414.6 244.9L420.6 241.0L426.6 244.6L432.5 241.5L438.5 245.1L444.5 242.7L450.5 243.4L456.5 243.1L462.5 243.3L468.5 242.8L474.4 244.0L480.4 246.3L486.4 244.7L492.4 243.0L498.4 244.3L504.4 241.4L510.4 242.2L516.4 244.5L522.4 244.3L528.3 242.7L534.3 243.6L540.3 241.5L546.3 243.4L552.3 243.6L558.3 243.8L564.3 244.9L570.3 242.1L576.3 245.6L582.3 243.3L588.3 244.3L594.2 243.4L600.2 245.9L606.2 245.5L612.2 245.5L618.2 246.2L624.2 245.7L630.2 243.9L636.2 243.3L642.2 242.8L648.2 244.4L654.2 244.2L660.2 243.4L666.2 243.6L672.2 241.0L678.2 244.0L684.1 242.3L690.1 242.7L696.1 243.0L702.1 246.2L708.1 243.3L714.1 245.8L720.1 246.0L726.1 243.5L732.1 245.3L738.1 243.1L744.1 243.3L750.1 246.1L756.1 242.2L762.1 245.1L768.1 243.0L774.1 241.5L780.1 246.2L786.1 243.3L792.1 242.6L798.1 241.2L804.1 243.4L810.0 240.8L816.0 245.5L822.0 243.4L828.0 246.5L834.0 245.4L840.0 241.9L846.0 245.9L852.0 241.5L858.0 245.3L864.0 240.9L870.0 244.4L876.0 241.4L882.0 242.4L888.0 243.0L894.0 245.9L900.0 242.3L906.1 244.4L912.3 243.1L918.4 243.1L924.5 244.8L930.6 242.7L936.7 242.1L942.8 241.5L948.9 243.0L954.7 244.2L960.6 244.1L966.4 244.8L972.2 242.9L976.3 240.3L980.3 239.2L984.3 236.7L988.4 235.8L992.4 233.6L996.5 233.2L1002.1 232.0L1007.7 233.7L1010.2 229.3L1013.1 223.7L1016.4 218.6L1019.9 214.4L1023.0 210.8L1026.5 206.4L1030.1 202.8L1033.4 198.7L1037.3 196.0L1041.2 195.4L1045.2 192.1L1049.6 188.2L1053.9 184.8L1058.0 182.3L1062.2 184.4L1066.4 187.0L1070.8 187.9L1074.6 191.3L1076.9 194.7L1078.8 198.4L1080.8 202.3L1085.4 206.6L1088.0 211.6L1090.2 216.2L1095.4 220.6L1100.7 222.9L1105.8 226.5L1110.8 228.7L1116.1 227.3L1121.4 225.3L1126.8 224.5L1129.1 229.5L1130.6 233.8L1133.1 238.6L1135.2 243.2L1136.0 248.1L1138.4 253.7L1140.0 257.5L1142.6 260.3L1146.9 263.9L1151.2 266.4L1155.8 270.3L1160.3 272.8L1164.6 275.1L1168.7 276.9L1173.0 280.3L1174.4 276.0L1175.6 271.4L1176.4 267.3L1178.2 263.1L1180.0 259.1L1182.1 254.4L1184.9 251.4L1188.1 249.5L1191.3 245.0L1194.7 242.3L1198.5 238.7L1198.0 243.4L1199.1 248.0L1199.9 252.3L1199.7 256.6L1200.4 260.9L1199.5 265.8L1200.7 271.6L1201.1 277.2L1200.7 283.0L1201.5 288.5L1201.9 294.2L1201.7 299.4L1202.2 304.3L1201.5 308.5L1201.6 313.5L1201.8 318.0L1202.3 323.3L1205.0 329.0L1206.3 334.9L1207.9 339.3L1208.8 343.3L1210.6 347.6L1211.8 352.5L1213.1 356.4L1213.5 360.8L1215.1 364.8L1216.5 368.8L1217.2 373.5L1219.7 378.7L1221.7 384.2L1222.2 389.0L1224.0 393.8L1224.7 398.5L1225.0 402.7L1226.0 407.1L1226.1 411.5L1226.6 416.6L1227.6 422.4L1227.4 426.8L1228.9 431.4L1228.5 435.7L1229.9 440.0L1229.7 444.0L1230.4 448.7L1230.3 454.1L1231.1 460.3L1232.1 466.1L1232.8 472.4L1232.6 476.8L1232.9 480.8L1234.5 485.4L1234.1 489.5L1234.3 494.1L1234.8 498.7L1235.3 504.0L1236.2 509.5L1236.7 513.6L1236.9 518.0L1237.7 522.3L1237.9 526.5L1238.3 531.4L1238.2 535.7L1239.0 541.6L1240.8 547.2L1239.9 551.8L1240.2 556.4L1240.0 560.7L1240.0 565.3L1240.5 570.1L1240.5 574.8L1240.6 579.2L1241.1 583.2L1240.7 587.6L1241.5 593.3L1241.5 598.7L1242.8 603.3L1242.7 607.1L1242.1 611.9L1243.1 616.3L1243.1 620.6L1243.0 625.0L1244.0 630.9L1243.4 636.4L1244.4 642.6L1243.9 648.6L1244.4 652.8L1245.1 657.4L1244.7 661.8L1245.5 665.7L1245.2 670.3L1245.8 674.3L1246.0 680.4L1246.4 686.0L1246.8 692.2L1246.9 698.0L1246.7 703.0L1248.0 707.6L1247.2 711.8L1248.0 718.0L1248.6 723.8L1248.6 729.5L1249.5 735.8L1249.0 739.8L1249.3 744.0L1248.9 748.7L1249.8 753.0L1249.8 757.3L1250.5 761.3L1250.7 767.6L1250.2 773.4L1251.3 779.5L1250.7 785.4L1251.4 789.9L1252.1 794.0L1251.3 798.9L1252.1 804.4L1251.9 810.6L1253.1 815.6L1253.0 821.2L1252.7 826.7L1252.9 832.7L1252.6 837.3L1253.1 841.4L1253.4 845.7L1253.1 851.4L1253.1 856.5L1253.4 862.2L1253.2 867.5L1254.4 874.2L1253.9 880.0L1253.9 885.8L1253.5 891.6L1255.0 896.0L1254.6 900.0L1254.1 904.1L1254.2 909.2L1255.4 913.6L1254.3 918.4L1254.7 922.7L1254.6 927.0L1255.1 933.1L1255.4 938.9L1255.5 944.1L1255.0 949.9L1255.7 956.1L1255.4 962.3L1255.7 966.4L1255.4 970.5L1255.5 974.9L1256.5 979.2L1256.7 983.9L1256.1 988.2L1255.7 993.4L1257.0 999.4L1256.4 1005.7L1257.2 1011.9L1257.4 1016.0L1257.3 1020.0L1257.2 1024.5L1257.7 1030.5L1257.9 1036.1L1258.0 1042.1L1257.4 1047.5L1258.6 1053.7L1259.1 1060.0L1258.6 1064.5L1258.8 1068.7L1258.6 1073.5L1259.6 1078.3L1259.6 1084.0L1259.9 1088.2L1259.8 1092.2L1260.3 1096.3L1260.3 1102.3L1260.0 1108.7L1259.8 1114.4L1260.9 1121.0L1260.8 1127.0L1260.9 1132.8L1260.9 1138.2L1261.3 1143.5L1261.1 1148.1L1262.2 1153.3L1261.5 1157.5L1261.9 1163.3L1262.2 1169.0L1262.6 1174.4L1262.9 1180.3L1263.5 1184.3L1262.5 1188.9L1262.6 1193.2L1263.9 1199.0L1264.1 1204.8L1263.4 1211.4L1263.4 1217.7L1265.1 1222.7L1265.4 1227.9L1265.6 1234.2L1266.3 1240.6L1266.6 1246.4L1267.0 1252.7L1267.1 1258.4L1267.4 1263.4L1269.0 1269.0L1268.4 1275.1L1268.7 1278.9L1269.9 1283.4L1269.6 1287.6L1270.0 1293.3L1270.3 1299.3L1271.7 1304.9L1272.4 1310.0L1272.4 1316.4L1272.9 1322.0L1273.8 1328.0L1274.2 1334.0L1274.0 1340.0L1274.7 1346.1L1275.3 1351.7L1276.1 1357.3L1276.1 1362.8L1276.3 1368.5L1278.1 1372.6L1278.5 1376.6L1278.5 1380.9L1279.4 1386.1L1280.5 1391.5L1281.0 1396.5L1282.4 1402.1L1283.0 1408.1L1284.3 1413.6L1285.6 1419.6L1285.6 1425.2L1287.1 1430.7L1287.6 1436.5L1289.1 1441.3L1289.7 1445.9L1292.5 1451.3L1294.8 1456.7L1297.1 1461.9L1298.8 1467.7L1302.5 1470.4L1306.4 1472.8L1310.7 1470.3L1315.6 1465.8L1318.0 1462.6L1320.4 1458.7L1322.7 1456.1L1325.4 1452.3L1327.1 1447.0L1327.3 1441.0L1328.1 1436.9L1329.3 1432.8L1329.6 1428.4L1331.0 1422.7L1332.0 1417.2L1332.3 1412.8L1333.7 1408.6L1334.2 1404.6L1334.8 1399.6L1336.1 1394.5L1337.5 1389.8L1337.4 1385.3L1338.7 1381.3L1339.7 1375.1L1340.3 1368.9L1341.3 1364.1L1341.8 1359.3L1341.9 1355.1L1341.8 1350.8L1342.1 1346.3L1342.0 1340.8L1342.1 1334.5L1343.3 1329.0L1342.7 1322.6L1343.3 1317.5L1344.3 1311.8L1344.2 1305.5L1343.9 1299.8L1344.1 1293.8L1344.5 1288.0L1345.5 1281.8L1345.5 1275.8L1346.5 1270.1L1346.5 1265.1L1347.2 1259.0L1346.6 1253.0L1347.4 1248.6L1347.3 1244.3L1347.3 1239.8L1347.7 1234.9L1348.3 1230.2L1348.2 1225.5L1348.9 1221.2L1349.3 1217.1L1349.3 1211.6L1349.4 1205.9L1349.8 1201.6L1349.8 1197.0L1349.4 1193.2L1350.4 1187.0L1349.8 1181.4L1350.3 1175.5L1350.2 1170.0L1351.2 1165.3L1351.4 1160.6L1350.4 1156.5L1350.9 1150.9L1351.4 1144.8L1351.8 1139.3L1352.0 1132.8L1351.7 1127.0L1352.3 1121.0L1352.8 1114.3L1352.5 1108.3L1352.3 1102.5L1353.4 1096.2L1352.8 1090.3L1353.2 1084.9L1353.7 1080.3L1353.9 1076.2L1354.5 1071.7L1354.5 1065.7L1354.2 1060.1L1355.4 1053.8L1354.7 1047.9L1355.6 1041.9L1355.0 1036.2L1355.7 1032.2L1355.2 1027.8L1356.6 1023.2L1355.9 1017.5L1355.8 1011.3L1356.7 1005.6L1357.1 1000.0L1356.2 995.6L1356.3 990.9L1357.5 986.8L1357.6 980.7L1356.9 974.8L1357.3 970.3L1358.0 966.2L1357.5 962.0L1357.5 956.0L1358.2 949.8L1358.4 944.2L1357.9 938.5L1358.7 934.4L1358.2 930.2L1358.4 925.7L1358.8 921.0L1359.5 915.8L1359.2 909.6L1359.1 903.6L1359.6 897.8L1359.8 891.8L1359.4 886.3L1360.5 880.8L1360.7 875.1L1360.3 869.0L1360.0 863.4L1360.2 858.1L1360.9 852.4L1361.6 846.3L1361.8 840.3L1361.7 834.6L1361.7 828.7L1362.1 822.5L1362.4 816.2L1362.9 810.0L1362.1 806.1L1362.8 801.4L1362.7 797.4L1362.9 791.1L1363.6 785.0L1363.5 781.2L1362.8 777.1L1363.8 772.6L1363.7 768.3L1363.5 764.4L1364.0 759.9L1364.4 755.8L1363.7 752.0L1364.5 747.7L1364.3 741.5L1365.4 735.1L1364.4 729.3L1365.0 722.9L1365.0 718.7L1366.0 714.6L1365.9 709.9L1366.1 703.7L1367.4 697.6L1366.7 691.8L1367.5 685.9L1368.4 681.2L1368.7 677.3L1369.1 672.7L1369.0 668.6L1369.4 664.9L1369.6 660.4L1370.1 654.3L1370.8 648.3L1370.6 642.2L1371.4 636.0L1371.7 631.5L1371.3 627.5L1372.1 623.3L1372.7 619.1L1373.1 615.1L1373.3 610.6L1372.5 604.9L1374.0 598.5L1374.4 592.4L1374.6 586.1L1374.5 582.3L1374.6 577.7L1374.6 573.3L1375.0 567.5L1374.9 561.5L1376.5 555.6L1376.5 549.0L1377.7 543.8L1378.9 538.3L1379.8 533.1L1382.6 538.3L1386.3 543.0L1384.9 538.5L1383.6 534.5L1384.8 529.6L1386.3 524.3L1387.8 518.1L1388.2 512.1L1389.9 506.8L1391.3 501.1L1392.4 496.1L1393.7 490.7L1394.9 486.2L1396.5 481.3L1398.6 476.5L1401.2 470.4L1403.4 465.7L1405.0 461.5L1406.2 457.4L1408.5 452.6L1408.9 447.2L1409.8 441.4L1410.2 436.5L1410.9 431.1L1411.5 426.5L1411.8 422.3L1412.8 417.4L1413.7 412.9L1413.5 407.6L1414.1 403.2L1414.6 399.3L1415.6 395.0L1415.9 389.4L1417.2 383.6L1417.6 377.7L1418.8 372.1L1419.2 366.1L1420.1 360.2L1421.8 354.8L1422.5 349.5L1424.0 344.7L1425.7 339.1L1427.5 334.2L1429.0 328.6L1430.6 323.4L1431.8 317.9L1433.1 313.0L1434.9 308.7L1436.0 304.2L1436.8 299.4L1438.0 294.3L1439.3 289.2L1441.5 283.3L1442.2 278.8L1442.9 274.5L1443.7 270.4L1445.5 266.0L1446.6 261.6L1446.6 257.2L1448.3 251.1L1450.3 245.1L1454.6 240.7L1458.5 237.3L1462.6 234.4L1466.6 231.5L1471.2 232.5L1475.7 231.5L1480.2 229.9L1484.9 229.4L1489.5 227.9L1494.1 226.7L1497.5 230.8L1500.8 233.6L1504.5 236.5L1506.0 233.0L1507.8 228.7L1508.9 224.9L1512.2 219.5L1515.2 215.4L1517.3 210.8L1519.1 207.2L1521.7 202.3L1526.6 198.9L1531.5 195.5L1536.4 193.6L1541.4 191.0L1546.4 192.5L1551.5 191.0L1556.7 190.6L1562.0 192.7L1564.4 195.7L1567.3 199.7L1569.9 204.4L1572.5 207.4L1575.3 209.9L1577.2 213.5L1579.7 217.2L1582.1 221.6L1584.8 225.6L1587.6 228.5L1589.9 231.9L1592.2 236.8L1596.5 239.0L1600.9 243.4L1605.3 246.8L1609.4 252.0L1615.5 250.1L1621.6 249.5L1626.1 249.1L1630.5 248.3L1634.9 246.1L1639.7 246.5L1644.5 250.9L1649.1 251.0L1653.7 248.0L1659.6 251.2L1665.5 247.6L1671.5 249.9L1677.5 251.3L1683.5 250.0L1689.5 250.4L1695.5 249.9L1701.5 248.4L1707.4 248.7L1713.4 251.3L1719.4 247.7L1725.4 246.5L1731.4 249.7L1737.4 250.1L1743.3 248.4L1749.3 247.3L1755.3 246.2L1761.3 249.1L1767.3 249.8L1773.3 248.9L1779.3 247.4L1785.3 250.5L1791.3 246.1L1797.2 246.4L1803.2 250.6L1809.2 248.1L1815.2 247.1L1821.2 249.0L1827.2 246.2L1833.2 245.2L1839.2 248.9L1845.2 248.3L1851.2 245.5L1857.1 248.7L1863.1 246.3L1869.1 247.4L1875.1 246.6L1881.1 245.4L1887.1 245.4L1893.1 247.9L1899.1 246.2L1905.1 246.9L1911.1 246.2L1917.1 246.3L1923.1 249.0L1929.1 248.7L1935.1 247.6L1941.1 244.1L1947.0 248.8L1953.0 246.1L1959.0 245.3L1965.0 246.3L1971.0 247.8L1977.0 243.9L1983.0 245.2L1989.0 246.7L1995.0 246.4L2001.0 248.2L2007.0 248.0L2013.0 248.0L2019.0 243.7L2025.0 246.0L2031.0 243.4L2037.0 245.0L2043.0 243.7L2049.0 248.0L2055.0 248.1L2061.0 247.5L2067.0 247.9L2073.0 243.9L2079.0 243.5L2085.0 245.7L2091.0 247.7L2097.0 247.8L2102.9 246.9L2108.9 245.1L2114.9 244.4L2120.9 244.3L2126.9 242.8L2132.9 245.1L2138.9 242.7L2144.9 245.5L2150.9 246.7L2156.9 244.7L2162.9 244.0L2168.9 245.9L2174.9 246.4L2180.9 243.5L2186.9 246.5L2192.9 246.0L2198.9 246.5L2204.9 244.7L2210.9 242.9L2216.9 244.5" stroke="#ff8000" stroke-width="8.5"/>
<path d="M385.3 249.6L391.3 249.6L397.3 249.8L403.3 253.5L409.2 252.4L415.2 254.5L421.2 250.9L427.2 250.8L433.1 252.8L439.1 250.6L445.1 252.6L451.1 253.3L457.1 254.3L463.0 249.2L469.0 252.0L475.0 254.2L481.0 250.2L486.9 249.7L492.9 251.5L498.9 249.1L504.9 250.8L510.8 248.9L516.8 253.7L522.8 249.4L528.8 249.2L534.8 251.4L540.7 249.9L546.7 251.3L552.7 253.6L558.7 248.7L564.6 251.9L570.6 253.6L576.6 251.3L582.6 249.0L588.5 252.2L594.5 248.2L600.5 250.7L606.5 250.2L612.5 249.2L618.4 251.3L624.4 250.1L630.4 250.6L636.4 251.8L642.3 250.2L648.3 250.8L654.3 252.0L660.3 252.1L666.3 251.3L672.2 250.2L678.2 250.9L684.2 252.5L690.2 252.4L696.1 251.0L702.1 249.7L708.1 248.8L714.1 249.4L720.1 249.1L726.0 250.7L732.0 250.7L738.0 250.7L744.0 249.9L750.0 252.4L755.9 250.0L761.9 247.9L767.9 251.7L773.9 251.4L779.9 248.3L785.8 248.1L791.8 249.6L797.8 248.4L803.8 252.2L809.8 247.3L815.7 251.3L821.7 248.0L827.7 250.5L833.7 247.5L839.7 248.3L845.7 248.8L851.6 248.4L857.6 249.1L863.6 250.2L869.6 249.0L875.6 248.8L881.6 247.6L887.5 250.1L893.5 248.3L899.5 248.6L905.6 248.0L911.7 247.4L917.8 249.9L923.9 247.0L930.0 251.2L936.1 249.6L942.2 252.4L948.3 247.8L954.5 248.8L960.8 249.3L964.9 248.1L969.0 248.2L973.1 247.4L977.2 246.5L981.2 243.6L985.2 242.4L989.3 241.3L993.3 240.5L997.3 239.4L1001.6 237.6L1005.7 237.3L1009.9 235.4L1013.5 232.5L1017.1 228.3L1020.6 223.7L1023.7 218.5L1027.0 214.1L1029.9 209.0L1033.2 206.5L1036.4 202.3L1039.9 200.1L1043.7 198.6L1047.3 196.8L1050.6 194.1L1054.2 190.8L1057.5 188.8L1062.1 190.5L1066.8 193.6L1071.6 194.9L1073.8 198.7L1076.4 201.8L1078.7 207.3L1081.3 211.8L1083.4 215.4L1086.1 220.2L1090.1 222.5L1093.9 224.2L1097.7 225.9L1101.7 228.8L1105.4 231.7L1109.4 233.6L1114.2 232.9L1118.9 231.5L1123.4 229.4L1126.2 235.8L1128.1 241.5L1130.6 246.9L1133.2 252.4L1134.4 257.0L1136.3 261.0L1137.9 265.5L1142.9 267.9L1147.7 272.6L1152.4 272.9L1157.1 276.6L1161.3 279.2L1165.5 281.3L1169.7 284.2L1173.8 286.0L1176.2 280.6L1179.3 275.4L1181.5 271.2L1183.8 267.1L1185.4 262.1L1187.0 258.3L1189.6 253.9L1192.7 250.5L1194.4 243.7L1193.6 248.9L1193.8 253.6L1194.2 259.3L1194.1 264.4L1193.7 270.4L1194.1 276.3L1194.2 280.4L1194.0 285.0L1194.3 288.9L1195.6 294.7L1195.1 299.9L1195.3 305.8L1195.3 311.4L1195.5 318.0L1196.4 324.3L1197.4 328.8L1198.5 332.9L1199.4 337.6L1201.5 343.4L1203.9 349.0L1204.4 353.2L1205.6 357.7L1207.2 361.8L1208.6 365.9L1209.1 371.1L1210.6 375.5L1212.1 380.5L1214.5 386.0L1215.7 390.3L1216.5 394.7L1218.1 399.2L1217.9 405.2L1219.3 410.9L1219.3 415.0L1220.0 419.6L1220.6 423.5L1220.6 427.8L1220.5 431.9L1221.1 436.0L1221.5 441.9L1222.7 447.7L1223.0 452.2L1222.7 456.7L1224.0 461.5L1224.3 467.3L1225.1 472.7L1225.3 477.1L1225.4 481.5L1226.1 485.3L1226.6 489.6L1227.2 494.1L1226.6 498.3L1227.7 504.5L1228.9 510.4L1229.0 514.9L1229.1 518.7L1229.2 523.4L1230.3 529.2L1231.2 534.9L1231.0 539.4L1231.7 543.7L1232.4 547.8L1232.5 552.2L1232.3 556.9L1232.4 560.9L1232.7 565.3L1231.8 570.0L1232.1 574.8L1232.4 580.9L1232.3 587.0L1233.1 591.2L1233.5 595.5L1233.5 599.6L1234.0 603.9L1234.3 608.2L1234.0 612.5L1233.8 618.4L1234.0 623.9L1234.3 628.0L1235.2 632.9L1235.3 637.7L1235.2 643.4L1235.7 649.5L1236.1 655.5L1236.5 661.0L1236.7 665.3L1236.9 670.0L1237.5 674.5L1236.8 680.7L1237.9 686.9L1238.2 692.9L1238.9 699.0L1239.3 705.1L1238.7 711.0L1238.8 715.6L1239.1 720.0L1239.3 724.7L1240.4 730.8L1239.9 736.5L1241.2 742.5L1241.4 748.1L1241.0 752.8L1242.0 757.1L1241.2 761.6L1241.4 767.9L1241.5 773.8L1241.8 777.9L1242.6 782.2L1242.5 786.2L1243.9 792.1L1242.9 798.4L1243.3 804.0L1243.5 810.1L1244.7 816.0L1244.6 822.5L1243.8 827.5L1244.6 833.2L1245.4 839.3L1244.9 844.8L1245.2 850.9L1245.1 857.6L1245.4 862.7L1246.1 868.5L1245.3 874.1L1245.6 880.3L1246.0 886.2L1246.1 891.6L1247.2 897.5L1246.6 903.7L1247.0 909.3L1247.5 915.5L1246.5 921.3L1247.9 926.4L1247.2 932.6L1248.0 938.3L1247.7 944.5L1247.7 950.2L1247.7 954.7L1248.7 958.8L1248.7 963.2L1248.4 968.7L1249.0 974.9L1249.0 980.9L1249.7 987.5L1249.1 991.9L1249.2 996.4L1249.2 1001.4L1249.9 1006.5L1249.2 1012.1L1250.2 1018.1L1250.8 1024.0L1250.1 1028.5L1250.8 1032.6L1250.3 1037.2L1251.6 1042.9L1252.1 1048.3L1252.4 1054.2L1251.8 1060.6L1252.4 1066.6L1253.0 1072.6L1253.1 1077.0L1253.5 1081.0L1252.9 1085.0L1253.4 1091.2L1254.0 1096.8L1254.1 1102.9L1254.6 1108.3L1254.8 1112.9L1254.5 1117.2L1255.0 1121.5L1254.5 1127.3L1254.7 1133.3L1255.9 1139.1L1256.2 1144.9L1256.6 1151.3L1256.4 1157.4L1256.1 1163.2L1257.3 1169.7L1257.7 1173.5L1257.6 1178.0L1257.1 1182.3L1257.3 1187.5L1258.0 1192.9L1258.5 1197.2L1257.7 1201.4L1258.4 1205.5L1259.1 1210.2L1259.1 1214.3L1259.3 1218.1L1259.1 1223.9L1260.2 1229.0L1260.5 1235.1L1261.3 1241.3L1262.2 1246.9L1261.6 1253.0L1263.3 1258.6L1263.6 1265.1L1264.2 1270.9L1264.7 1277.1L1264.3 1282.1L1265.5 1287.5L1265.9 1294.0L1265.8 1299.8L1267.5 1305.9L1267.6 1311.9L1267.9 1318.0L1268.6 1323.5L1268.8 1328.9L1269.1 1334.4L1270.3 1340.4L1269.9 1346.9L1270.3 1350.9L1271.0 1355.3L1271.2 1359.5L1272.3 1364.8L1273.0 1369.8L1273.1 1375.2L1274.7 1380.8L1275.2 1385.3L1275.4 1389.6L1276.0 1393.7L1277.6 1398.8L1278.2 1403.6L1278.7 1409.2L1280.8 1414.2L1280.7 1420.6L1282.0 1426.8L1283.4 1431.9L1283.6 1437.6L1285.4 1443.5L1285.9 1449.0L1288.0 1454.1L1290.8 1458.3L1293.8 1464.5L1296.3 1468.9L1299.8 1472.9L1303.5 1475.0L1307.0 1477.7L1311.1 1475.0L1314.9 1472.7L1318.7 1468.5L1321.7 1465.1L1324.7 1460.8L1327.4 1456.3L1330.3 1452.6L1330.8 1447.1L1331.9 1440.9L1333.4 1435.0L1334.4 1428.7L1335.7 1424.8L1336.3 1420.3L1337.0 1416.2L1337.6 1410.9L1338.5 1405.4L1339.9 1399.9L1341.7 1393.7L1342.3 1389.4L1342.9 1385.1L1343.5 1381.1L1344.1 1375.7L1346.0 1369.8L1345.6 1363.8L1345.8 1357.5L1346.2 1352.0L1347.4 1346.8L1347.0 1340.7L1347.5 1334.4L1348.3 1330.2L1349.1 1326.2L1349.1 1321.8L1349.6 1317.0L1349.8 1311.5L1349.9 1305.4L1349.9 1299.8L1350.6 1295.2L1350.9 1291.0L1350.4 1286.6L1350.9 1281.1L1351.3 1275.9L1352.6 1270.2L1353.0 1264.8L1352.6 1258.9L1353.3 1252.4L1353.0 1248.6L1353.1 1244.1L1353.7 1240.1L1354.6 1234.6L1354.6 1229.0L1355.6 1223.6L1355.7 1217.9L1355.3 1213.6L1356.5 1209.2L1356.7 1204.3L1356.6 1198.8L1356.3 1193.1L1357.1 1187.0L1357.2 1181.4L1358.0 1175.2L1358.3 1168.9L1357.9 1162.9L1358.8 1156.8L1358.5 1150.6L1358.9 1144.2L1359.1 1139.0L1359.5 1133.5L1360.0 1129.2L1359.7 1124.8L1359.5 1120.5L1360.1 1116.6L1361.0 1112.0L1360.2 1107.9L1361.5 1102.6L1360.7 1097.1L1361.3 1091.0L1362.2 1084.8L1361.9 1078.2L1362.8 1072.6L1363.1 1066.1L1363.0 1060.0L1362.9 1054.3L1363.1 1048.5L1364.5 1042.5L1364.4 1036.6L1364.2 1032.2L1363.8 1028.1L1364.6 1023.8L1364.3 1018.1L1364.7 1012.1L1366.0 1006.0L1365.4 1000.3L1365.6 993.8L1365.4 988.1L1366.9 983.6L1366.8 979.1L1366.3 974.8L1366.2 970.5L1366.1 966.3L1367.3 962.3L1366.8 956.9L1366.6 951.3L1368.1 946.8L1367.9 942.7L1367.4 938.8L1368.2 932.7L1367.7 926.7L1368.9 921.5L1368.2 916.8L1368.0 910.4L1368.8 904.7L1369.7 899.0L1369.5 892.6L1370.1 887.0L1369.9 881.0L1370.3 876.0L1370.5 870.7L1370.4 864.8L1370.4 859.3L1371.1 854.9L1370.9 850.8L1371.2 846.8L1370.5 841.2L1371.8 835.6L1372.1 830.0L1371.8 824.1L1372.3 819.5L1372.3 815.6L1371.6 810.7L1373.0 804.8L1372.2 798.4L1372.7 794.5L1372.5 790.5L1373.4 786.2L1373.5 780.3L1372.8 774.4L1373.8 770.1L1374.1 765.9L1374.1 761.5L1373.7 757.2L1374.3 752.9L1373.9 748.2L1374.7 742.7L1374.1 737.7L1373.9 733.1L1374.5 728.6L1374.7 724.2L1375.0 717.8L1375.4 712.0L1375.7 705.9L1375.8 699.8L1377.4 693.4L1377.7 687.1L1377.7 680.9L1377.4 675.1L1378.8 670.8L1378.5 666.3L1378.7 661.9L1378.5 655.9L1379.7 650.0L1379.3 644.0L1380.4 637.7L1380.9 633.8L1381.2 629.4L1381.5 625.4L1380.8 621.0L1382.2 616.5L1381.7 612.2L1382.7 605.9L1382.3 600.5L1382.6 594.6L1383.2 588.5L1382.6 583.4L1383.1 579.0L1384.0 574.4L1384.0 568.3L1383.7 563.3L1384.5 557.1L1384.8 551.6L1383.3 545.7L1381.3 539.8L1383.7 545.4L1386.2 550.9L1388.2 547.0L1389.5 542.1L1392.3 538.3L1392.4 532.4L1394.0 527.0L1395.2 522.8L1395.7 518.8L1396.0 514.8L1396.7 508.8L1398.2 503.1L1398.8 499.0L1400.4 494.2L1402.0 489.7L1403.5 485.0L1405.2 480.4L1406.7 476.4L1408.5 472.2L1409.7 468.0L1411.7 463.6L1413.5 459.9L1415.5 456.0L1415.4 449.9L1417.1 444.0L1417.7 437.6L1417.8 431.7L1418.4 425.6L1419.0 419.5L1419.4 414.2L1420.9 409.3L1420.7 403.2L1422.2 397.1L1422.2 392.6L1422.1 388.8L1422.8 384.7L1424.4 379.1L1424.3 373.7L1424.7 368.2L1426.0 362.0L1426.9 357.2L1428.6 351.8L1429.8 346.5L1431.1 341.5L1433.4 335.9L1434.7 329.8L1435.7 325.6L1437.5 320.6L1438.5 315.4L1440.8 310.4L1441.6 305.8L1441.9 301.2L1443.3 296.6L1444.1 292.1L1445.2 288.4L1445.8 284.2L1447.9 278.4L1449.0 272.2L1449.8 268.2L1450.7 264.0L1452.2 259.3L1453.3 254.7L1454.1 249.7L1454.7 245.8L1458.0 242.7L1461.4 240.9L1468.3 239.3L1472.5 236.6L1476.6 235.1L1480.9 233.4L1484.9 234.1L1489.0 232.1L1493.0 230.7L1497.1 234.9L1501.1 238.4L1505.1 241.2L1507.9 236.6L1510.2 232.1L1512.7 228.6L1515.4 224.5L1517.5 219.9L1519.4 216.6L1522.0 210.3L1525.1 206.5L1529.5 204.3L1534.0 202.0L1538.3 199.2L1542.7 196.9L1547.0 194.2L1551.3 194.1L1555.5 195.0L1559.8 196.2L1562.1 199.4L1564.1 204.2L1566.7 207.6L1570.5 211.5L1574.4 217.4L1576.5 220.2L1579.0 224.2L1581.4 227.4L1584.0 231.6L1586.8 234.9L1589.2 239.7L1592.6 242.3L1595.7 245.7L1598.8 249.5L1603.9 251.8L1609.0 255.6L1613.6 256.0L1618.2 252.3L1622.8 254.1L1627.1 252.9L1631.4 252.1L1635.7 248.8L1640.2 250.4L1644.7 252.7L1649.5 253.1L1654.2 250.9L1660.2 253.1L1666.3 251.5L1672.3 255.3L1678.3 250.8L1684.3 251.0L1690.3 251.2L1696.3 254.5L1702.3 255.0L1708.3 251.9L1714.3 254.1L1720.3 253.1L1726.3 254.8L1732.3 255.7L1738.2 252.1L1744.2 250.4L1750.2 255.3L1756.2 253.8L1762.2 252.2L1768.2 254.1L1774.2 254.9L1780.2 252.3L1786.2 253.4L1792.2 250.0L1798.2 255.1L1804.2 251.4L1810.2 251.0L1816.2 251.5L1822.2 250.2L1828.2 253.4L1834.1 250.3L1840.1 254.6L1846.1 253.0L1852.1 253.3L1858.1 252.6L1864.1 254.4L1870.1 250.3L1876.1 253.2L1882.1 251.0L1888.1 252.1L1894.1 250.3L1900.1 250.2L1906.0 251.1L1912.0 254.6L1918.0 252.9L1924.0 249.9L1930.0 252.2L1936.0 250.3L1942.0 252.5L1948.0 250.8L1954.0 251.8L1960.0 255.2L1965.9 252.8L1971.9 253.8L1977.9 250.4L1983.9 250.2L1989.9 250.1L1995.9 251.4L2001.9 250.3L2007.9 250.4L2013.8 251.6L2019.8 251.2L2025.8 251.0L2031.8 252.9L2037.8 251.1L2043.8 251.2L2049.8 253.9L2055.7 253.3L2061.7 252.4L2067.7 250.7L2073.7 251.1L2079.7 253.6L2085.7 251.1L2091.7 253.1L2097.6 249.7L2103.6 249.9L2109.6 252.1L2115.6 250.8L2121.6 253.4L2127.6 254.8L2133.5 253.3L2139.5 251.5L2145.5 249.5L2151.5 253.6L2157.5 250.8L2163.5 253.2L2169.4 252.9L2175.4 251.8L2181.4 250.7L2187.4 254.2L2193.4 251.7L2199.4 251.4L2205.3 252.8L2211.3 254.3L2217.3 251.9" stroke="#ff8000" stroke-width="8.5"/>
<path d="M385.7 248.0L391.6 249.6L397.6 246.6L403.5 250.6L409.5 245.6L415.4 247.9L421.4 248.2L427.3 249.0L433.3 250.2L439.2 248.5L445.2 248.2L451.1 249.4L457.1 247.2L463.0 246.6L469.0 248.0L474.9 247.3L480.9 247.8L486.8 249.0L492.8 247.3L498.7 249.8L504.7 250.2L510.6 249.6L516.6 246.2L522.5 245.4L528.4 245.8L534.4 249.7L540.3 246.3L546.3 245.9L552.3 245.3L558.2 245.4L564.2 250.3L570.1 245.2L576.1 247.5L582.0 245.4L588.0 244.9L593.9 250.3L599.9 249.3L605.9 246.4L611.8 245.3L617.8 245.6L623.8 246.6L629.7 247.9L635.7 247.2L641.7 247.6L647.6 246.4L653.6 246.2L659.6 244.7L665.6 248.9L671.5 246.0L677.5 249.9L683.5 248.4L689.5 248.1L695.5 246.3L701.5 247.8L707.5 245.2L713.4 250.0L719.4 248.8L725.4 249.9L731.4 247.6L737.4 248.9L743.4 244.4L749.4 244.6L755.4 247.8L761.4 244.6L767.4 247.9L773.5 246.5L779.5 246.6L785.5 247.2L791.5 249.3L797.5 248.1L803.5 246.5L809.5 246.9L815.5 247.7L821.6 245.7L827.6 244.4L833.6 247.4L839.6 247.1L845.6 245.0L851.7 246.3L857.7 247.6L863.7 248.8L869.7 244.8L875.8 248.4L881.8 244.7L887.8 246.2L893.8 245.4L899.8 247.6L906.0 245.6L912.1 245.9L918.3 246.5L924.5 248.2L930.7 243.4L936.8 245.1L943.0 247.0L949.2 247.7L955.4 246.5L961.6 245.0L967.7 246.7L973.9 247.2L980.1 247.4L986.3 243.6L992.2 247.2L998.2 245.0L1002.2 243.1L1006.2 242.1L1010.3 238.7L1014.4 241.2L1018.6 241.4L1022.7 242.9L1026.9 240.2L1031.0 237.4L1035.2 237.7L1039.9 234.8L1044.6 236.4L1051.9 234.2L1053.3 229.4L1055.2 225.0L1057.1 219.7L1059.4 214.8L1062.2 209.5L1064.2 205.4L1067.3 199.2L1069.7 193.5L1072.9 191.1L1076.2 187.8L1079.6 183.1L1083.2 180.7L1087.1 179.4L1090.8 178.5L1095.6 175.0L1100.4 179.0L1105.3 177.6L1109.3 182.0L1113.9 185.4L1117.5 190.3L1120.9 194.9L1124.8 198.6L1128.3 200.9L1132.0 205.3L1137.4 207.2L1142.6 209.3L1147.0 212.9L1150.9 215.5L1155.2 219.7L1160.5 221.3L1165.7 222.9L1167.1 218.6L1168.7 214.2L1172.4 210.3L1175.4 206.3L1179.1 201.3L1183.1 196.5L1187.7 197.3L1192.4 199.8L1197.0 194.4L1201.4 196.7L1203.9 202.3L1206.7 208.0L1208.2 213.7L1209.1 219.2L1210.8 224.1L1212.1 229.3L1213.1 233.7L1213.5 237.9L1214.7 242.1L1215.4 247.9L1216.9 253.7L1218.2 258.5L1218.8 263.2L1219.5 268.1L1220.0 272.1L1219.3 276.6L1220.2 281.1L1222.5 276.1L1224.7 270.9L1229.6 273.8L1234.6 275.3L1239.1 276.5L1240.5 280.9L1240.7 285.6L1240.1 290.2L1240.3 294.4L1240.9 298.8L1240.7 303.0L1241.5 307.9L1242.0 313.3L1240.9 317.9L1241.7 322.1L1241.1 326.4L1242.5 332.0L1241.6 337.7L1242.7 341.7L1242.5 346.2L1242.3 350.5L1242.9 355.8L1242.4 361.3L1242.9 367.1L1243.2 373.3L1242.4 379.5L1242.7 386.2L1243.8 391.6L1243.6 397.5L1244.4 401.8L1244.2 405.5L1244.7 410.1L1244.0 415.6L1244.4 421.9L1245.1 426.3L1245.6 431.1L1244.9 435.5L1245.9 441.3L1245.3 446.6L1246.2 451.4L1246.3 455.7L1246.9 459.9L1247.1 465.9L1247.2 471.5L1247.7 476.3L1247.4 480.6L1247.0 485.5L1247.9 490.9L1248.4 496.6L1249.1 502.9L1249.0 508.9L1248.9 513.6L1249.7 518.2L1249.0 522.7L1249.2 528.6L1250.6 534.5L1250.0 540.8L1249.9 546.4L1250.6 551.5L1251.1 556.0L1251.1 560.9L1251.0 565.7L1251.1 569.9L1251.4 574.8L1251.3 580.5L1252.0 586.5L1251.6 590.7L1251.3 595.1L1251.7 599.7L1251.9 605.9L1252.4 611.6L1252.7 618.3L1252.4 623.9L1252.9 628.7L1253.0 632.6L1252.7 637.1L1253.0 643.2L1253.4 649.0L1252.8 653.2L1253.8 657.6L1252.9 661.7L1253.0 666.0L1253.2 670.8L1253.8 674.8L1254.3 680.1L1254.9 685.6L1254.3 690.5L1254.4 695.2L1254.6 699.7L1255.2 703.5L1255.1 708.2L1255.3 711.9L1255.3 718.3L1256.2 724.3L1256.0 729.8L1256.5 735.8L1256.6 740.4L1257.4 745.1L1257.1 750.3L1256.7 755.5L1257.1 761.3L1257.3 765.7L1257.6 769.6L1257.9 774.1L1258.3 778.0L1257.9 782.4L1258.3 787.0L1259.3 792.9L1258.3 799.1L1258.4 804.7L1258.9 811.2L1259.9 816.8L1259.6 822.0L1260.2 827.9L1259.6 834.1L1260.5 840.0L1260.7 846.0L1261.0 852.1L1259.9 858.0L1260.7 863.3L1261.1 868.4L1261.7 872.7L1261.3 876.7L1261.2 880.9L1260.8 886.5L1261.8 893.0L1261.3 898.6L1261.7 904.0L1261.9 909.7L1262.8 915.1L1262.6 921.5L1262.1 927.4L1263.1 933.0L1263.1 938.8L1262.5 944.9L1263.5 951.0L1264.2 956.8L1264.3 962.5L1263.6 966.9L1263.9 971.0L1264.7 975.4L1264.6 982.0L1265.6 987.8L1265.5 993.9L1265.1 1000.1L1265.9 1005.8L1265.6 1011.2L1266.2 1015.5L1265.9 1019.5L1266.2 1023.7L1266.0 1029.5L1266.5 1034.9L1267.2 1040.2L1266.6 1045.6L1267.8 1052.0L1267.2 1058.2L1268.4 1063.7L1267.3 1069.5L1268.7 1075.4L1268.1 1081.0L1267.9 1086.4L1269.1 1092.2L1269.1 1098.3L1268.7 1104.7L1269.9 1110.0L1269.9 1114.9L1269.2 1119.4L1269.8 1123.9L1270.1 1127.9L1270.1 1133.4L1270.0 1138.4L1270.9 1143.9L1270.9 1149.7L1271.5 1155.9L1270.8 1162.1L1271.1 1167.9L1271.9 1174.0L1272.4 1178.8L1272.6 1184.0L1273.0 1190.3L1273.5 1196.5L1273.3 1202.4L1273.7 1209.1L1274.5 1214.1L1274.1 1219.5L1275.3 1225.0L1275.6 1230.4L1275.4 1235.2L1275.3 1239.4L1276.2 1243.8L1276.0 1248.9L1275.9 1253.8L1276.7 1260.5L1276.6 1266.1L1277.9 1271.9L1278.5 1277.4L1278.9 1283.4L1278.6 1289.3L1278.4 1295.1L1279.4 1300.7L1279.3 1306.9L1280.2 1312.9L1280.8 1318.8L1281.3 1324.3L1281.2 1329.9L1281.0 1335.3L1282.2 1339.7L1282.4 1344.0L1281.8 1348.7L1283.0 1353.6L1283.6 1358.9L1285.0 1363.5L1285.8 1368.0L1286.4 1372.1L1287.0 1376.1L1287.7 1380.2L1288.4 1384.4L1288.9 1389.2L1289.2 1393.8L1289.7 1398.1L1290.8 1403.4L1292.0 1408.4L1292.3 1413.4L1292.2 1418.1L1293.1 1422.5L1293.9 1428.0L1295.2 1433.5L1297.2 1438.3L1300.2 1443.9L1302.3 1448.3L1306.8 1450.2L1312.7 1448.0L1314.6 1444.4L1316.4 1440.4L1320.4 1434.3L1321.2 1428.1L1321.6 1422.0L1322.0 1418.0L1322.9 1413.6L1323.6 1409.0L1324.5 1404.9L1324.8 1400.6L1325.3 1396.5L1326.4 1391.0L1327.1 1385.3L1328.0 1380.9L1328.1 1376.0L1328.2 1371.7L1329.8 1365.5L1330.5 1359.4L1330.7 1355.5L1331.1 1351.5L1331.9 1347.3L1332.1 1341.8L1331.5 1336.0L1333.0 1329.9L1332.6 1324.1L1333.7 1318.4L1333.7 1311.9L1334.1 1306.3L1333.7 1301.2L1333.6 1295.4L1334.2 1289.7L1334.9 1283.5L1334.5 1277.3L1335.5 1271.3L1336.1 1265.5L1335.8 1260.3L1336.1 1254.9L1336.4 1249.4L1336.8 1243.7L1336.8 1239.0L1336.7 1234.7L1336.9 1230.7L1337.6 1225.0L1338.6 1219.9L1338.5 1214.2L1339.2 1208.9L1338.3 1202.3L1338.5 1196.1L1339.6 1190.5L1340.3 1185.2L1340.4 1179.5L1340.9 1173.7L1340.4 1167.7L1340.7 1162.4L1340.8 1156.4L1340.8 1149.8L1340.9 1145.2L1341.4 1139.8L1342.1 1135.4L1341.4 1130.8L1342.2 1126.6L1341.4 1121.5L1341.7 1116.4L1342.6 1110.3L1342.4 1104.9L1342.8 1098.4L1343.3 1092.3L1342.7 1086.8L1343.0 1080.8L1343.2 1075.4L1343.6 1070.4L1343.3 1064.4L1343.8 1058.4L1344.0 1052.3L1343.6 1046.0L1344.8 1040.3L1344.6 1035.0L1345.4 1029.4L1344.8 1024.0L1344.9 1020.0L1345.2 1015.3L1344.8 1011.4L1345.4 1006.1L1345.7 1000.7L1346.2 996.5L1346.1 992.2L1346.5 987.8L1346.5 981.5L1346.6 975.8L1346.6 971.5L1347.2 967.1L1347.6 962.7L1347.2 959.1L1347.4 954.7L1347.5 950.1L1347.9 944.4L1348.5 939.0L1347.5 933.4L1348.5 928.1L1348.6 922.4L1348.7 916.7L1348.0 912.6L1348.0 908.4L1349.1 903.9L1348.1 899.0L1349.2 894.0L1349.2 888.2L1348.8 882.1L1349.3 876.4L1349.6 871.1L1349.4 864.8L1349.3 858.3L1350.3 853.0L1349.1 848.1L1350.0 842.2L1350.1 835.9L1350.4 830.1L1350.9 823.6L1350.6 819.4L1350.6 815.2L1350.6 811.0L1350.3 805.0L1350.6 798.8L1351.9 792.8L1352.0 787.1L1352.1 782.2L1351.5 777.8L1352.1 773.0L1352.0 767.5L1352.2 761.8L1352.3 757.2L1352.3 753.0L1353.2 748.8L1352.5 742.6L1353.1 736.6L1354.1 732.3L1354.0 728.0L1354.1 723.0L1354.0 717.6L1354.2 712.2L1354.5 707.9L1354.5 703.2L1354.7 698.4L1355.6 692.9L1355.5 686.8L1355.5 682.7L1356.1 678.3L1356.0 673.9L1355.9 670.0L1355.2 665.6L1355.9 661.0L1356.1 655.8L1357.0 649.7L1356.6 645.1L1356.1 640.8L1357.4 636.3L1356.7 630.2L1357.7 623.9L1358.1 618.1L1357.3 611.8L1357.6 605.9L1358.4 599.6L1358.3 595.0L1357.9 590.2L1358.1 585.3L1358.7 580.3L1359.4 575.3L1359.2 570.8L1359.4 566.1L1359.7 561.8L1359.0 557.6L1359.9 553.3L1360.5 548.6L1359.9 542.9L1360.7 537.3L1360.6 533.2L1360.5 529.0L1360.6 524.5L1361.0 518.1L1361.7 512.4L1361.3 508.2L1361.5 503.4L1361.4 499.3L1363.1 503.2L1365.2 508.2L1366.2 511.9L1367.0 518.2L1365.9 523.9L1366.8 527.9L1366.7 532.6L1366.5 537.3L1363.2 539.6L1360.6 543.3L1360.7 538.8L1361.3 534.6L1361.6 528.8L1362.3 522.9L1361.7 518.2L1361.4 514.1L1361.5 509.9L1361.8 505.3L1361.9 501.5L1362.8 497.2L1363.2 491.1L1362.9 485.5L1362.5 479.0L1363.5 473.2L1363.0 468.4L1364.1 463.7L1364.3 459.2L1364.2 453.7L1364.2 448.1L1364.9 444.0L1364.3 439.5L1364.8 435.4L1365.2 429.2L1365.1 423.2L1365.7 419.2L1365.5 414.4L1364.9 410.2L1365.3 404.1L1365.4 398.2L1366.9 394.0L1366.8 389.7L1368.5 385.4L1369.0 380.6L1369.1 376.1L1369.6 371.5L1370.6 367.1L1370.6 362.5L1371.8 358.1L1373.0 353.9L1374.1 349.0L1375.9 345.2L1380.3 346.7L1384.8 349.9L1389.5 352.7L1391.8 348.5L1394.4 345.1L1396.1 341.2L1399.0 337.2L1400.6 333.6L1401.8 329.1L1402.7 324.6L1402.3 320.4L1403.5 316.2L1403.1 312.2L1403.9 306.8L1404.2 301.4L1405.1 295.5L1405.9 289.8L1406.4 284.6L1407.4 279.7L1406.9 275.6L1407.2 271.6L1407.9 267.5L1409.4 262.8L1411.1 259.0L1412.3 255.1L1414.1 250.3L1415.5 245.3L1417.2 241.3L1417.9 236.4L1419.6 231.6L1422.9 230.0L1426.6 226.9L1429.7 222.9L1433.1 221.4L1436.4 218.6L1439.9 214.7L1445.3 217.4L1450.7 216.1L1454.7 216.8L1458.7 216.1L1461.8 211.8L1465.1 208.8L1468.9 206.6L1472.4 206.7L1475.6 203.1L1478.8 199.5L1481.9 196.6L1486.5 193.3L1491.4 189.3L1495.2 188.9L1499.0 186.8L1502.9 185.1L1507.4 179.8L1511.9 177.1L1516.6 174.2L1521.0 177.9L1525.3 181.3L1529.7 183.6L1533.9 186.7L1537.3 192.3L1540.2 197.9L1542.6 201.6L1544.7 205.2L1546.8 210.1L1548.1 214.3L1549.8 219.4L1552.5 222.7L1554.7 226.0L1557.3 229.3L1559.9 232.6L1562.1 237.1L1563.7 242.5L1568.6 243.9L1573.4 245.4L1578.6 245.6L1583.8 246.6L1589.0 244.8L1594.1 244.1L1599.7 243.2L1605.3 243.4L1611.1 242.2L1616.9 238.9L1623.2 242.9L1629.4 241.6L1635.4 243.1L1641.4 238.9L1647.4 242.0L1653.4 243.6L1659.4 241.8L1665.4 238.9L1671.5 243.4L1677.5 243.6L1683.5 243.3L1689.5 242.0L1695.5 242.9L1701.5 243.2L1707.5 240.2L1713.5 239.9L1719.5 240.1L1725.5 242.7L1731.6 242.4L1737.6 239.6L1743.6 239.7L1749.6 241.5L1755.6 245.1L1761.6 243.6L1767.6 240.7L1773.6 243.3L1779.6 244.4L1785.5 240.5L1791.5 244.2L1797.5 245.2L1803.5 242.7L1809.5 242.6L1815.5 245.6L1821.5 245.4L1827.5 241.3L1833.5 240.5L1839.5 245.6L1845.5 244.2L1851.4 244.4L1857.4 243.2L1863.4 242.4L1869.4 244.2L1875.4 242.5L1881.4 243.2L1887.4 242.0L1893.3 244.8L1899.3 246.9L1905.3 241.3L1911.3 242.0L1917.3 247.2L1923.2 247.2L1929.2 241.5L1935.2 246.5L1941.2 245.0L1947.2 242.8L1953.1 243.7L1959.1 247.2L1965.1 244.6L1971.1 245.9L1977.1 245.1L1983.0 243.0L1989.0 244.3L1995.0 243.6L2001.0 246.1L2007.0 244.4L2013.0 242.5L2018.9 244.8L2024.9 247.3L2030.9 243.5L2036.9 247.7L2042.9 245.2L2048.9 247.3L2054.8 248.6L2060.8 245.6L2066.8 247.4L2072.8 244.8L2078.8 244.5L2084.8 244.7L2090.8 244.9L2096.8 248.4L2102.8 248.2L2108.8 249.2L2114.8 249.3L2120.7 247.7L2126.7 248.0L2132.7 246.3L2138.7 248.0L2144.7 245.9L2150.7 248.9L2156.7 249.4L2162.7 247.5L2168.7 246.3L2174.7 247.3L2180.8 248.6L2186.8 248.0L2192.8 249.1L2198.8 245.3L2204.8 249.9L2210.8 245.2L2216.8 248.3" stroke="#008000" stroke-width="8.5"/>
<path d="M384.6 251.6L390.6 253.6L396.6 255.7L402.6 256.4L408.6 254.1L414.6 251.9L420.6 252.5L426.6 251.7L432.6 256.2L438.6 255.3L444.6 253.1L450.6 253.3L456.6 252.9L462.6 256.3L468.6 254.3L474.6 255.0L480.6 256.3L486.6 251.8L492.6 256.2L498.6 257.1L504.6 252.3L510.6 254.0L516.6 252.7L522.6 254.6L528.7 256.7L534.7 255.6L540.7 252.9L546.7 253.0L552.7 253.3L558.7 254.4L564.7 253.6L570.7 257.1L576.7 252.6L582.7 252.6L588.7 253.8L594.8 256.1L600.8 253.7L606.8 252.7L612.8 256.8L618.8 253.9L624.8 253.4L630.8 255.6L636.8 254.8L642.8 255.2L648.8 253.3L654.8 257.0L660.8 257.5L666.8 254.8L672.9 255.6L678.9 252.9L684.9 255.0L690.9 256.5L696.9 256.8L702.9 257.3L708.9 255.7L714.9 257.1L720.9 256.0L726.9 252.2L732.9 254.3L738.9 254.3L744.9 252.4L750.9 253.5L756.9 252.6L762.9 256.9L768.9 252.9L774.9 256.2L780.9 256.0L786.9 252.8L792.9 256.7L798.8 255.6L804.8 252.2L810.8 256.5L816.8 254.6L822.8 252.7L828.8 252.7L834.8 253.7L840.8 256.7L846.8 254.2L852.7 257.1L858.7 254.1L864.7 251.4L870.7 256.6L876.7 255.6L882.7 256.4L888.6 251.4L894.6 255.0L900.6 255.6L906.8 256.5L912.9 256.1L919.0 255.0L925.2 253.7L931.3 255.2L937.4 252.3L943.6 251.0L949.7 254.9L955.8 254.3L962.0 253.9L968.1 251.8L974.2 253.0L980.3 254.3L986.4 254.1L990.6 252.7L994.8 253.2L999.0 254.0L1003.2 249.0L1007.4 251.0L1011.6 249.4L1015.8 249.3L1019.9 249.2L1024.0 247.1L1028.2 246.2L1032.3 244.4L1036.4 246.4L1041.1 245.6L1045.7 242.3L1051.1 242.0L1056.2 241.0L1058.4 236.5L1059.7 232.8L1061.8 228.9L1064.2 223.5L1066.5 217.8L1068.5 213.7L1070.8 209.9L1073.1 204.8L1075.5 199.1L1078.5 196.7L1081.4 192.8L1084.2 188.6L1088.2 186.2L1092.4 184.6L1096.7 185.2L1101.2 185.2L1104.3 188.3L1107.9 192.0L1111.7 194.9L1115.1 199.8L1118.9 202.7L1122.6 205.4L1126.4 208.8L1130.2 212.6L1134.0 215.3L1138.0 219.2L1142.4 219.9L1146.9 222.9L1151.4 224.7L1156.4 225.1L1161.3 227.5L1166.3 229.9L1169.0 226.4L1172.0 224.1L1175.1 219.9L1178.0 216.1L1181.3 213.2L1183.5 208.6L1185.9 202.9L1191.8 202.5L1197.7 201.5L1198.2 206.1L1199.1 210.2L1200.6 215.4L1202.0 220.3L1203.0 226.1L1204.2 231.8L1205.8 236.6L1207.1 241.4L1208.0 246.4L1208.4 250.9L1209.7 255.9L1210.1 260.0L1211.1 264.1L1211.4 268.9L1212.4 273.4L1213.8 277.7L1214.5 282.0L1215.8 286.1L1219.3 284.3L1222.5 280.9L1226.1 278.5L1229.8 280.1L1234.1 280.2L1234.1 285.4L1233.8 291.1L1232.8 296.7L1234.0 302.2L1233.7 308.3L1233.8 314.4L1234.4 320.5L1234.2 326.3L1234.5 332.6L1234.0 338.7L1235.4 344.4L1234.8 350.2L1235.2 355.9L1234.8 361.9L1235.3 366.4L1234.9 370.9L1236.0 375.1L1235.7 380.3L1235.4 385.6L1236.5 389.8L1236.2 393.8L1236.2 398.0L1236.4 402.2L1236.8 406.6L1237.4 411.2L1236.7 416.9L1237.5 423.0L1237.6 428.9L1238.6 435.5L1237.7 439.7L1239.0 444.0L1238.1 448.6L1239.1 454.8L1239.0 460.3L1239.3 466.4L1239.9 473.0L1240.4 477.2L1240.1 481.4L1240.0 486.0L1240.6 492.0L1240.8 497.8L1241.5 501.7L1241.7 506.1L1241.3 510.7L1242.4 516.9L1242.5 523.1L1243.1 529.1L1242.6 535.3L1242.6 541.2L1243.3 547.4L1242.8 552.5L1243.3 556.7L1243.2 561.7L1244.3 566.0L1243.8 570.2L1243.5 574.3L1244.5 579.0L1243.4 583.4L1244.6 587.2L1244.5 594.0L1245.1 599.9L1244.9 605.8L1244.5 611.7L1245.4 616.3L1245.1 620.3L1244.9 624.9L1245.3 631.0L1246.0 636.6L1245.2 641.2L1245.3 645.6L1245.1 650.0L1245.7 655.7L1245.7 662.2L1246.3 668.3L1246.8 674.0L1246.6 678.7L1246.7 682.6L1246.9 686.6L1247.9 691.2L1247.6 695.8L1247.2 699.7L1248.6 705.7L1247.6 711.1L1249.0 715.5L1249.0 720.0L1249.0 724.1L1248.7 728.6L1249.8 733.0L1249.9 737.0L1249.0 742.9L1249.4 748.2L1249.9 752.9L1250.2 757.3L1249.8 761.7L1250.5 767.6L1250.6 773.9L1251.2 779.9L1251.6 786.3L1251.0 792.0L1251.5 798.1L1252.5 804.3L1252.1 810.8L1252.9 815.9L1253.2 821.6L1252.5 827.6L1252.3 833.5L1253.3 839.5L1252.9 845.7L1253.1 851.3L1254.1 856.2L1253.8 862.3L1254.6 868.5L1254.2 874.6L1253.9 880.8L1254.5 886.1L1255.4 891.6L1254.4 897.7L1254.5 903.3L1255.5 909.1L1256.1 915.3L1255.0 921.1L1256.1 927.1L1256.2 932.5L1255.9 938.2L1256.0 943.8L1256.5 950.4L1257.3 956.5L1257.0 962.6L1256.7 966.6L1257.7 971.2L1258.0 975.2L1257.7 981.4L1257.8 987.7L1258.7 993.8L1259.2 999.9L1258.8 1005.5L1259.2 1011.9L1259.4 1017.8L1260.0 1023.5L1259.4 1029.1L1260.7 1034.7L1259.8 1040.5L1260.8 1045.8L1260.2 1049.9L1261.0 1054.5L1260.9 1058.5L1260.9 1063.8L1262.1 1069.5L1261.9 1075.2L1262.0 1080.5L1262.7 1084.8L1262.4 1088.9L1262.4 1092.9L1261.9 1098.4L1262.5 1104.2L1263.1 1109.9L1263.3 1116.3L1263.4 1122.1L1263.9 1127.6L1264.4 1133.5L1264.4 1139.1L1264.2 1144.6L1264.8 1150.5L1264.6 1156.4L1264.6 1162.6L1264.5 1168.3L1264.8 1174.1L1265.8 1179.7L1265.8 1184.9L1266.0 1189.3L1266.6 1193.4L1267.1 1198.1L1267.1 1203.6L1267.0 1209.3L1267.6 1214.4L1268.3 1219.6L1268.0 1225.8L1269.4 1231.8L1269.9 1237.9L1269.9 1244.3L1270.5 1250.1L1269.9 1255.9L1270.5 1261.2L1270.8 1266.5L1271.1 1270.4L1271.2 1274.5L1272.4 1278.9L1271.8 1284.9L1273.1 1290.6L1272.4 1296.2L1273.6 1301.9L1274.0 1307.7L1273.5 1313.6L1273.6 1319.1L1274.9 1324.7L1275.5 1328.6L1274.6 1333.1L1275.0 1337.4L1275.6 1342.8L1276.4 1348.8L1277.5 1354.7L1278.3 1360.7L1278.1 1365.0L1279.3 1369.0L1279.6 1373.4L1279.9 1377.9L1281.0 1381.9L1281.2 1386.5L1283.0 1392.1L1282.9 1398.2L1284.0 1404.1L1285.1 1410.0L1285.7 1415.0L1286.9 1419.3L1287.5 1423.6L1288.6 1430.0L1288.7 1436.3L1291.3 1440.5L1293.4 1444.1L1295.1 1448.2L1297.3 1453.5L1302.1 1455.1L1307.0 1456.0L1312.0 1455.6L1317.3 1453.1L1319.6 1449.3L1322.3 1444.9L1324.7 1440.1L1327.5 1435.5L1327.1 1430.8L1328.6 1426.5L1329.2 1421.9L1329.5 1416.6L1330.4 1410.8L1330.8 1404.7L1332.2 1398.6L1332.8 1393.8L1333.2 1389.3L1333.4 1384.4L1334.6 1379.0L1335.3 1373.5L1336.2 1369.1L1336.0 1365.3L1336.3 1361.1L1337.7 1356.9L1338.2 1352.6L1338.1 1347.9L1338.4 1342.2L1339.5 1336.2L1339.6 1330.9L1339.5 1325.3L1340.4 1319.3L1340.8 1313.5L1340.3 1307.6L1340.7 1301.8L1340.8 1296.0L1341.2 1290.1L1341.1 1284.1L1342.4 1277.9L1342.9 1272.8L1342.0 1267.3L1342.6 1261.4L1342.8 1255.5L1343.4 1251.4L1344.2 1247.1L1343.2 1243.1L1343.8 1237.7L1344.5 1232.0L1344.6 1226.5L1345.7 1220.9L1345.5 1215.2L1345.8 1209.4L1345.1 1205.3L1345.9 1201.0L1345.7 1196.7L1346.4 1191.3L1346.5 1185.9L1347.2 1180.6L1347.5 1174.9L1347.1 1168.6L1348.3 1162.3L1348.2 1156.5L1347.8 1151.2L1348.0 1144.9L1348.0 1138.9L1348.8 1133.7L1349.0 1128.3L1348.6 1122.3L1349.4 1116.6L1349.1 1110.2L1349.7 1104.3L1350.1 1098.6L1349.3 1093.1L1350.6 1087.5L1350.7 1081.7L1349.7 1076.3L1350.1 1070.0L1350.0 1066.0L1350.2 1061.8L1350.3 1057.6L1351.3 1052.1L1351.0 1046.8L1351.1 1041.3L1351.0 1035.2L1351.2 1029.4L1351.8 1023.4L1351.7 1017.3L1351.6 1012.0L1352.0 1006.0L1351.6 1000.3L1352.2 994.2L1353.0 988.1L1353.6 983.8L1352.7 979.4L1352.8 975.6L1353.6 971.5L1353.9 967.2L1354.0 962.8L1354.4 958.7L1354.2 954.5L1354.2 950.2L1353.9 944.8L1354.2 939.6L1354.2 933.8L1354.2 927.7L1354.9 923.7L1354.2 919.1L1354.3 915.0L1354.9 910.2L1354.3 905.0L1355.1 899.3L1354.6 893.4L1355.5 887.4L1355.8 881.7L1354.7 875.8L1355.6 869.9L1355.4 864.4L1355.7 858.7L1355.5 853.1L1355.3 847.6L1355.8 841.5L1355.6 835.2L1355.8 829.2L1356.6 823.7L1356.1 819.3L1355.8 815.2L1356.1 810.9L1357.2 804.7L1356.5 799.0L1357.0 794.6L1357.4 790.3L1356.9 786.2L1357.7 782.0L1357.9 777.3L1357.7 773.2L1357.7 767.1L1357.5 761.4L1358.6 757.6L1358.9 753.2L1358.6 748.7L1358.4 744.4L1358.2 740.6L1358.1 736.4L1359.1 730.1L1359.4 723.4L1359.8 717.9L1359.0 712.2L1359.3 707.7L1360.1 703.1L1360.2 698.6L1359.9 692.9L1359.6 686.7L1359.9 682.3L1361.3 678.2L1361.2 674.2L1361.4 668.0L1360.8 661.8L1360.8 656.0L1361.8 649.7L1361.5 645.1L1362.4 640.9L1362.0 636.2L1361.9 630.2L1362.6 624.6L1362.7 618.3L1362.7 612.7L1362.9 608.5L1362.9 603.7L1363.1 599.7L1363.9 595.2L1362.8 590.7L1363.0 586.0L1363.5 580.6L1364.2 575.4L1363.9 570.9L1363.7 566.4L1365.2 562.4L1364.8 558.1L1364.9 553.5L1364.6 549.5L1364.5 543.2L1365.2 537.5L1366.1 531.6L1365.7 525.3L1366.7 521.0L1365.6 516.8L1365.9 512.6L1366.3 506.6L1367.6 501.4L1365.6 505.1L1363.3 509.1L1361.8 512.2L1361.3 518.0L1361.2 523.3L1361.6 529.7L1361.1 536.4L1362.8 539.3L1364.4 543.1L1366.0 547.0L1367.0 541.1L1366.8 535.3L1366.9 529.1L1366.7 522.9L1366.7 518.6L1367.8 514.3L1367.6 510.0L1368.2 504.0L1368.0 497.4L1367.9 491.5L1368.3 485.4L1368.7 479.6L1369.2 473.2L1369.5 468.9L1370.3 464.3L1369.6 460.2L1370.5 454.1L1371.0 448.1L1370.3 443.8L1370.7 439.9L1371.6 435.1L1371.5 429.8L1371.1 423.8L1371.4 419.1L1372.2 415.1L1372.0 410.3L1372.1 404.1L1372.4 398.1L1373.8 391.9L1374.3 386.5L1374.8 381.4L1376.1 377.0L1376.9 372.6L1377.9 368.1L1378.2 363.0L1379.0 358.7L1377.4 354.5L1376.9 349.6L1380.1 353.5L1383.6 355.4L1386.6 358.7L1389.8 361.4L1392.5 358.0L1395.2 354.6L1398.0 351.1L1400.9 347.7L1403.4 344.2L1406.2 340.0L1409.3 336.6L1409.1 332.1L1409.4 327.7L1409.6 323.5L1410.8 317.9L1411.4 312.7L1411.5 307.1L1413.0 301.3L1413.1 296.1L1413.6 290.6L1415.2 284.4L1415.1 279.0L1415.8 274.2L1417.0 269.3L1418.5 263.5L1420.5 257.6L1422.0 254.0L1423.1 249.5L1423.9 245.5L1425.5 242.1L1427.2 238.3L1431.7 233.8L1435.8 230.6L1440.0 226.2L1443.9 223.5L1447.6 224.5L1451.4 225.3L1456.8 222.3L1462.4 224.1L1466.7 221.3L1471.3 217.8L1475.0 215.8L1478.6 211.1L1483.3 207.7L1488.1 204.4L1492.5 201.0L1497.1 197.7L1500.6 195.9L1504.5 192.5L1508.0 191.3L1512.1 187.6L1516.0 185.9L1519.9 188.2L1523.8 191.0L1527.9 193.2L1529.9 196.8L1531.7 201.7L1533.0 205.7L1534.6 209.0L1536.7 212.6L1539.3 216.8L1541.8 221.4L1544.2 226.5L1546.9 230.7L1549.2 235.5L1551.8 239.8L1554.7 245.1L1558.2 251.0L1562.5 251.5L1566.8 252.5L1571.1 252.4L1575.2 253.5L1579.2 255.8L1583.3 254.5L1589.4 256.8L1595.5 254.9L1601.1 253.2L1606.7 251.3L1612.0 253.3L1617.4 252.7L1623.2 250.7L1628.9 251.1L1634.9 251.3L1640.9 249.5L1646.9 249.3L1652.9 251.0L1658.8 251.0L1664.8 248.0L1670.8 252.5L1676.8 252.2L1682.8 252.7L1688.8 252.8L1694.7 252.5L1700.7 253.7L1706.7 252.9L1712.7 253.4L1718.7 249.0L1724.7 253.0L1730.6 252.0L1736.6 250.2L1742.6 253.4L1748.6 252.2L1754.6 252.4L1760.6 248.1L1766.6 250.5L1772.5 250.0L1778.5 253.3L1784.5 253.5L1790.5 251.7L1796.5 250.3L1802.5 253.1L1808.5 249.2L1814.5 253.7L1820.5 250.8L1826.4 253.7L1832.4 253.7L1838.4 253.5L1844.4 250.4L1850.4 251.6L1856.4 252.9L1862.4 253.9L1868.4 253.3L1874.4 252.4L1880.4 251.5L1886.4 249.7L1892.4 250.9L1898.4 250.3L1904.4 253.8L1910.4 251.8L1916.4 253.4L1922.4 252.1L1928.4 251.8L1934.4 248.8L1940.4 248.6L1946.4 249.7L1952.4 253.9L1958.4 252.3L1964.4 248.6L1970.4 250.1L1976.5 253.6L1982.5 250.2L1988.5 252.5L1994.5 253.5L2000.5 249.8L2006.5 250.0L2012.5 252.4L2018.5 254.5L2024.6 253.9L2030.6 250.8L2036.6 250.6L2042.6 251.7L2048.6 254.1L2054.6 252.8L2060.7 251.2L2066.7 251.3L2072.7 252.0L2078.7 252.8L2084.7 254.0L2090.7 254.9L2096.8 252.2L2102.8 254.3L2108.8 253.0L2114.8 251.1L2120.8 254.9L2126.9 253.9L2132.9 252.0L2138.9 252.5L2144.9 255.3L2151.0 252.3L2157.0 254.6L2163.0 252.2L2169.0 253.4L2175.0 253.5L2181.1 254.3L2187.1 255.9L2193.1 253.8L2199.1 256.2L2205.1 251.1L2211.2 255.9L2217.2 253.3" stroke="#008000" stroke-width="8.5"/>
<path d="M385.8 244.7L391.8 249.1L397.9 245.6L403.9 248.9L409.9 244.8L416.0 248.2L422.0 243.9L428.1 245.3L434.1 247.1L440.1 245.5L446.2 243.7L452.2 248.7L458.2 247.7L464.3 244.8L470.3 245.9L476.3 245.2L482.3 248.1L488.4 246.4L494.4 248.5L500.4 248.3L506.4 247.4L512.5 243.6L518.5 244.6L524.5 247.9L530.5 243.5L536.6 246.3L542.6 244.0L548.6 245.8L554.6 246.5L560.6 246.5L566.7 246.0L572.7 247.1L578.7 246.2L584.7 247.9L590.7 244.7L596.7 248.3L602.7 244.1L608.8 246.4L614.8 245.7L620.8 246.3L626.8 244.3L632.8 248.4L638.8 244.2L644.8 245.4L650.8 247.1L656.9 245.0L662.9 246.5L668.9 245.7L674.9 245.2L680.9 245.0L686.9 243.4L692.9 248.4L698.9 244.9L705.0 247.6L711.0 247.6L717.0 243.9L723.0 248.4L729.0 247.6L735.0 243.5L741.0 245.4L747.0 246.1L753.1 244.2L759.1 244.4L765.1 244.2L771.1 245.0L777.1 244.1L783.1 245.3L789.1 246.9L795.2 247.9L801.2 244.9L807.2 248.3L813.2 243.5L819.2 246.6L825.2 244.2L831.2 245.2L837.3 245.4L843.3 245.5L849.3 244.3L855.3 246.1L861.3 247.9L867.4 246.2L873.4 246.9L879.4 245.4L885.4 249.1L891.4 246.5L897.5 247.9L903.5 245.0L909.5 247.7L915.5 249.9L921.6 248.7L927.6 248.7L933.6 248.4L939.6 248.8L945.7 248.2L951.7 248.9L957.7 246.7L963.8 245.9L969.8 248.0L975.8 245.4L981.8 244.7L987.9 249.7L993.9 246.9L999.9 247.5L1005.3 248.3L1010.7 248.1L1016.1 246.8L1021.5 246.9L1027.0 247.6L1032.4 247.3L1037.8 248.1L1043.3 246.9L1048.5 248.1L1053.7 246.5L1059.1 245.3L1064.5 243.9L1069.7 240.9L1074.7 238.8L1077.3 234.7L1079.2 231.1L1082.2 226.4L1084.7 221.2L1087.3 216.1L1090.1 210.9L1092.5 206.4L1095.4 203.4L1097.3 198.7L1099.0 195.3L1100.8 190.0L1104.7 187.2L1108.4 183.9L1112.2 180.1L1115.8 177.0L1120.1 173.0L1124.3 168.4L1128.7 168.6L1133.1 169.7L1137.5 169.7L1139.9 173.1L1143.0 177.9L1145.3 180.3L1149.3 186.0L1152.9 191.5L1156.4 194.9L1160.3 197.9L1163.2 202.7L1166.2 208.1L1167.8 210.8L1170.2 215.0L1174.2 213.0L1178.2 211.8L1182.2 210.0L1186.7 208.3L1191.3 207.0L1195.8 205.9L1201.7 207.0L1207.7 209.3L1212.6 212.0L1217.5 214.7L1221.0 210.6L1224.0 206.9L1225.1 202.1L1226.4 196.8L1227.5 190.4L1228.7 184.6L1229.6 180.4L1231.3 175.7L1233.5 172.1L1235.9 168.7L1237.9 165.2L1240.2 161.0L1242.9 165.5L1245.7 169.9L1247.9 174.8L1249.3 180.2L1249.9 185.6L1249.9 191.1L1251.0 196.5L1250.7 201.8L1251.1 207.5L1251.8 213.2L1252.8 218.7L1252.8 224.9L1254.5 230.4L1254.0 235.6L1254.7 241.2L1254.9 245.2L1255.5 249.8L1255.1 253.5L1254.6 258.8L1255.3 264.1L1255.6 268.8L1255.2 273.0L1255.9 277.0L1256.0 282.5L1256.9 288.0L1256.3 294.0L1257.0 299.2L1256.8 305.6L1257.5 311.9L1257.5 317.1L1258.7 322.7L1258.2 327.0L1258.0 331.6L1257.9 335.8L1258.2 341.9L1258.4 347.5L1259.6 351.7L1259.1 356.0L1259.8 360.9L1260.2 366.2L1260.5 372.1L1260.4 376.7L1259.9 381.2L1259.9 385.8L1261.3 391.3L1260.6 396.9L1260.8 401.1L1261.4 405.6L1261.6 410.3L1261.1 416.3L1262.1 422.4L1262.0 428.4L1262.1 434.6L1262.9 440.9L1262.5 446.8L1262.8 451.4L1263.1 456.1L1263.2 460.8L1263.6 465.9L1263.7 471.6L1264.2 475.9L1264.5 480.1L1264.8 484.5L1264.1 488.6L1264.3 493.2L1264.7 497.1L1265.5 503.3L1265.5 509.5L1265.9 515.8L1265.2 521.6L1266.4 528.1L1265.7 533.8L1266.8 538.6L1266.3 543.0L1266.3 547.4L1266.3 551.9L1266.1 556.2L1266.7 560.5L1265.7 565.0L1266.2 569.4L1265.5 573.7L1265.6 578.1L1265.7 582.3L1266.5 586.4L1266.3 590.5L1266.0 595.0L1267.2 598.9L1267.7 604.6L1267.1 610.7L1268.5 615.3L1267.9 619.5L1267.7 624.5L1268.8 630.2L1268.8 635.8L1268.9 640.5L1269.2 644.3L1268.7 649.2L1268.8 655.1L1269.6 661.2L1269.6 665.2L1270.5 669.8L1269.7 673.9L1270.1 680.1L1270.6 685.5L1270.7 690.3L1270.6 695.1L1271.1 699.1L1270.7 704.7L1271.7 710.1L1272.2 715.0L1272.1 719.5L1272.2 723.9L1272.8 730.3L1271.9 736.1L1271.9 742.0L1272.8 748.0L1273.0 754.5L1273.0 760.8L1272.9 765.1L1273.5 769.6L1273.2 774.0L1273.6 779.9L1273.9 786.1L1274.1 792.0L1274.3 798.2L1274.3 802.2L1275.2 806.8L1275.0 810.7L1275.0 815.3L1274.6 819.4L1275.4 823.4L1275.1 829.4L1275.9 835.6L1275.2 840.8L1276.4 846.5L1275.4 850.8L1276.7 855.1L1275.5 859.3L1276.0 864.7L1276.0 870.4L1276.9 875.7L1276.8 881.0L1276.3 887.3L1276.1 892.7L1277.3 899.2L1277.3 905.2L1277.3 910.6L1277.2 915.6L1276.5 921.4L1277.5 926.9L1277.5 931.1L1277.2 935.5L1277.6 939.6L1276.8 945.0L1277.2 950.2L1277.6 954.5L1277.6 958.7L1277.3 962.8L1277.9 968.8L1278.0 974.5L1278.6 979.1L1279.1 983.6L1278.4 987.8L1278.5 994.2L1279.3 999.7L1279.3 1006.0L1279.2 1012.0L1280.6 1018.1L1280.5 1023.2L1281.2 1029.4L1280.3 1036.0L1281.3 1041.8L1281.3 1047.4L1281.0 1053.4L1281.1 1058.8L1282.3 1063.0L1282.3 1067.7L1282.5 1071.8L1282.0 1077.0L1282.3 1082.6L1282.3 1086.9L1283.4 1091.4L1283.7 1095.8L1284.0 1101.0L1283.6 1106.3L1284.2 1112.4L1283.9 1118.4L1283.7 1124.2L1285.2 1130.5L1285.3 1134.3L1284.4 1138.9L1285.6 1143.2L1285.0 1148.5L1285.6 1153.6L1286.5 1159.6L1286.4 1165.6L1287.1 1169.9L1287.0 1174.4L1286.9 1178.8L1286.6 1184.2L1287.8 1188.9L1287.7 1195.4L1288.4 1201.3L1289.1 1207.2L1289.3 1213.5L1288.7 1217.6L1288.8 1221.5L1289.1 1225.8L1289.6 1231.1L1289.7 1236.5L1290.5 1240.4L1290.4 1245.0L1290.2 1249.3L1291.0 1254.8L1291.1 1260.8L1291.6 1267.2L1292.2 1273.3L1292.6 1279.0L1292.6 1284.6L1293.3 1290.6L1293.9 1296.7L1294.8 1300.9L1294.0 1305.4L1295.4 1309.9L1295.8 1315.4L1295.2 1320.4L1295.9 1325.0L1296.9 1329.4L1296.2 1333.1L1296.8 1339.4L1298.0 1345.6L1297.5 1349.5L1298.5 1353.7L1298.6 1357.9L1299.7 1363.4L1299.1 1369.1L1300.4 1373.2L1300.6 1378.0L1301.6 1382.6L1301.8 1388.4L1302.7 1393.6L1302.5 1398.2L1303.0 1403.1L1304.6 1407.5L1304.2 1413.4L1305.2 1419.3L1305.3 1423.3L1306.4 1427.7L1306.6 1432.4L1307.1 1427.6L1308.1 1423.5L1308.8 1419.2L1308.7 1413.1L1309.7 1407.4L1310.1 1402.6L1310.8 1398.1L1311.0 1393.5L1311.5 1387.8L1312.1 1382.1L1312.3 1378.1L1313.2 1373.6L1314.1 1369.2L1314.8 1363.2L1314.6 1356.9L1315.1 1351.2L1315.5 1345.1L1315.7 1339.2L1316.6 1333.2L1316.2 1327.4L1317.1 1321.7L1316.9 1316.9L1317.6 1312.5L1317.9 1307.8L1318.4 1302.7L1319.4 1296.8L1319.3 1290.5L1319.9 1284.9L1319.8 1278.8L1320.7 1272.9L1321.4 1268.0L1321.0 1264.0L1321.0 1259.3L1322.3 1254.0L1322.4 1249.6L1322.7 1245.2L1322.9 1241.0L1322.4 1236.5L1322.8 1230.6L1323.1 1224.1L1323.0 1218.5L1323.9 1212.6L1324.2 1206.9L1324.1 1201.2L1324.0 1194.9L1324.3 1188.8L1325.8 1183.0L1325.6 1176.9L1325.3 1171.5L1326.4 1165.7L1326.3 1161.3L1326.6 1157.0L1326.6 1153.1L1326.7 1147.8L1327.2 1142.2L1327.3 1137.6L1327.8 1133.4L1327.9 1129.2L1327.3 1123.4L1328.8 1117.8L1327.9 1112.2L1328.0 1106.2L1329.1 1100.3L1329.7 1094.1L1329.8 1088.1L1330.0 1082.2L1329.4 1076.2L1330.0 1070.3L1330.1 1064.4L1330.4 1058.8L1330.1 1053.0L1330.4 1046.6L1331.1 1040.7L1331.4 1035.3L1331.1 1031.0L1331.9 1026.7L1331.4 1022.6L1332.1 1017.6L1331.4 1012.5L1332.3 1007.9L1333.0 1003.3L1332.0 999.1L1333.0 994.7L1332.9 990.6L1333.6 986.7L1333.1 980.7L1334.1 975.0L1333.8 968.7L1333.5 962.6L1333.6 958.1L1334.8 953.6L1334.4 948.9L1334.6 943.5L1335.5 938.4L1335.4 933.1L1335.0 927.8L1335.4 923.6L1335.7 919.4L1335.3 915.1L1335.4 909.6L1335.4 904.3L1335.2 898.4L1334.9 892.8L1335.0 887.1L1335.6 882.3L1335.2 875.7L1335.5 869.8L1336.4 864.0L1336.3 858.1L1335.7 853.1L1336.2 847.4L1336.1 841.5L1336.7 836.0L1336.5 829.9L1336.2 823.6L1336.8 818.9L1336.8 814.7L1336.4 810.2L1337.5 805.2L1337.5 799.4L1337.8 795.1L1338.1 790.4L1337.4 785.4L1337.5 779.8L1338.8 774.3L1338.2 769.9L1338.2 765.5L1338.9 761.4L1338.8 755.4L1338.4 749.0L1339.7 744.7L1339.9 740.7L1339.0 736.3L1339.4 730.5L1339.1 724.6L1340.4 720.3L1339.6 715.6L1340.8 711.2L1340.9 705.8L1340.3 699.9L1340.9 695.8L1341.4 691.5L1340.9 687.1L1341.1 682.9L1341.2 678.6L1341.4 674.1L1341.6 668.5L1342.0 662.3L1342.6 656.1L1342.3 649.8L1342.3 645.7L1342.7 641.5L1342.2 637.0L1343.5 633.1L1342.9 628.6L1342.6 624.8L1343.0 618.8L1343.7 612.9L1343.6 608.8L1344.1 604.4L1343.1 600.1L1344.2 593.6L1343.6 587.9L1344.0 583.1L1344.2 579.1L1344.7 574.9L1345.0 569.1L1344.9 563.6L1344.7 558.8L1345.0 554.1L1345.1 549.5L1344.6 543.4L1345.4 537.7L1345.1 531.6L1345.3 525.8L1345.6 519.4L1346.0 513.1L1346.3 508.7L1346.0 504.3L1345.9 499.9L1348.0 503.4L1350.4 508.5L1352.2 512.3L1352.1 518.2L1351.8 523.8L1351.2 529.0L1350.8 534.8L1348.5 539.2L1346.2 544.0L1343.6 549.5L1343.0 544.7L1343.5 539.7L1343.0 535.1L1343.2 529.0L1343.7 522.4L1343.7 518.6L1345.0 514.3L1344.4 510.2L1344.5 506.0L1345.0 501.9L1345.6 497.4L1345.8 491.7L1346.0 485.1L1346.4 479.1L1345.9 473.1L1346.6 468.6L1346.3 464.0L1347.2 460.0L1346.4 454.2L1347.7 448.4L1346.6 443.6L1347.7 439.3L1347.8 435.0L1348.4 429.4L1347.4 423.2L1348.2 418.8L1349.1 414.0L1348.6 409.4L1348.2 404.2L1348.6 398.4L1349.9 394.2L1349.1 389.6L1349.1 385.3L1349.7 379.3L1350.4 372.9L1351.0 368.7L1350.3 363.9L1351.6 359.6L1352.0 354.7L1351.9 349.1L1351.6 344.5L1351.8 339.8L1352.3 334.8L1352.1 329.0L1353.4 323.0L1353.1 317.0L1353.4 310.8L1354.0 306.7L1353.9 302.9L1354.4 298.8L1354.8 294.2L1354.6 289.8L1355.5 285.1L1355.1 279.4L1356.1 273.7L1356.7 267.4L1357.0 261.1L1357.0 256.8L1357.8 252.7L1358.0 248.1L1357.7 242.1L1358.2 236.2L1358.6 231.7L1359.3 227.9L1359.7 223.8L1360.6 217.5L1360.7 211.4L1363.6 206.3L1366.2 201.7L1369.3 196.8L1375.0 196.9L1381.0 198.0L1382.0 202.7L1382.1 207.1L1382.9 211.6L1383.6 217.8L1385.1 223.5L1386.0 228.2L1386.1 232.2L1387.2 236.3L1387.9 242.5L1388.3 248.7L1390.2 251.4L1389.7 246.8L1390.2 242.9L1392.0 238.3L1392.1 234.1L1393.0 229.6L1393.6 225.2L1394.6 220.9L1398.2 216.4L1402.3 211.9L1404.9 208.4L1407.3 203.9L1410.3 200.3L1415.4 199.3L1420.6 198.6L1426.1 196.3L1431.3 195.3L1434.8 199.3L1438.1 203.2L1441.7 207.0L1444.1 199.5L1446.2 196.3L1447.2 192.1L1449.0 187.4L1451.7 184.0L1454.4 180.5L1457.4 177.5L1460.6 173.7L1463.9 171.9L1467.7 169.3L1471.3 167.0L1474.9 163.5L1479.2 164.5L1483.4 165.1L1487.7 166.8L1492.2 168.8L1494.2 173.9L1496.8 178.8L1499.2 184.0L1502.2 189.1L1505.0 194.7L1507.3 198.3L1508.9 201.8L1511.7 205.6L1513.2 209.3L1515.3 214.2L1517.3 217.4L1519.9 222.0L1521.8 225.8L1524.0 229.4L1526.5 234.1L1529.4 236.7L1532.7 240.8L1536.1 243.3L1539.4 245.6L1543.0 250.2L1547.0 247.9L1551.0 246.1L1555.7 246.7L1560.4 247.1L1564.6 244.4L1568.7 245.1L1572.9 244.7L1579.1 243.6L1585.3 245.6L1589.5 245.6L1593.7 243.7L1597.9 241.3L1603.9 246.8L1609.8 245.2L1615.8 246.5L1621.8 244.5L1627.7 243.2L1633.7 245.7L1639.6 241.5L1645.6 243.2L1651.5 245.1L1657.5 243.4L1663.5 242.8L1669.4 243.7L1675.4 243.9L1681.3 244.7L1687.3 246.4L1693.3 247.1L1699.2 245.5L1705.2 246.0L1711.1 246.1L1717.1 241.8L1723.1 241.7L1729.0 245.2L1735.0 246.9L1741.0 246.3L1746.9 247.5L1752.9 245.5L1758.8 245.2L1764.8 243.5L1770.8 245.5L1776.7 244.4L1782.7 247.7L1788.7 242.1L1794.6 245.8L1800.6 246.2L1806.5 245.6L1812.5 247.0L1818.5 246.6L1824.4 245.7L1830.4 244.7L1836.3 244.0L1842.3 244.5L1848.3 244.1L1854.2 246.6L1860.2 243.0L1866.1 242.7L1872.1 244.3L1878.1 246.4L1884.0 245.8L1890.0 246.2L1895.9 242.1L1901.9 245.8L1907.8 243.1L1913.8 246.6L1919.8 243.0L1925.7 244.8L1931.7 243.4L1937.6 245.6L1943.6 246.5L1949.5 245.9L1955.5 248.0L1961.4 245.3L1967.4 246.9L1973.3 243.5L1979.3 244.5L1985.2 248.3L1991.2 246.4L1997.1 243.0L2003.1 246.8L2009.0 244.5L2014.9 245.2L2020.9 246.3L2026.8 246.0L2032.8 243.7L2038.7 245.1L2044.7 246.0L2050.6 243.0L2056.5 247.8L2062.5 246.1L2068.4 245.2L2074.4 244.2L2080.3 248.4L2086.2 244.2L2092.2 247.4L2098.1 247.5L2104.1 243.4L2110.0 248.2L2115.9 246.6L2121.9 243.7L2127.8 244.6L2133.8 243.8L2139.7 248.6L2145.6 247.9L2151.6 245.8L2157.5 245.1L2163.4 246.7L2169.4 245.2L2175.3 247.3L2181.2 246.2L2187.2 249.0L2193.1 247.9L2199.1 245.4L2205.0 246.7L2210.9 249.3L2216.9 246.9" stroke="#8000ff" stroke-width="8.5"/>
<path d="M385.6 256.2L391.6 253.5L397.7 251.7L403.7 255.1L409.7 251.5L415.8 252.9L421.8 255.7L427.8 254.4L433.8 251.1L439.9 252.8L445.9 253.3L451.9 253.7L457.9 252.9L464.0 253.3L470.0 254.4L476.0 252.2L482.0 251.6L488.0 253.3L494.1 255.5L500.1 251.8L506.1 254.4L512.1 255.8L518.1 255.9L524.2 256.3L530.2 252.9L536.2 251.5L542.2 255.7L548.2 254.7L554.3 252.3L560.3 252.1L566.3 256.0L572.3 252.5L578.3 256.0L584.4 250.8L590.4 254.1L596.4 254.6L602.4 253.1L608.4 252.4L614.4 252.1L620.5 253.0L626.5 252.6L632.5 250.6L638.5 254.5L644.5 251.1L650.5 254.9L656.6 253.0L662.6 254.6L668.6 255.6L674.6 256.3L680.6 253.3L686.6 252.8L692.7 256.2L698.7 254.7L704.7 252.5L710.7 255.9L716.7 253.5L722.7 254.8L728.8 254.7L734.8 253.1L740.8 255.1L746.8 252.0L752.8 253.9L758.8 256.2L764.9 251.4L770.9 251.6L776.9 255.3L782.9 253.6L788.9 254.7L794.9 253.2L801.0 251.6L807.0 254.2L813.0 254.2L819.0 255.0L825.0 251.6L831.1 253.4L837.1 256.1L843.1 254.6L849.1 255.4L855.1 254.9L861.2 256.6L867.2 254.4L873.2 253.3L879.2 254.5L885.2 255.2L891.3 252.3L897.3 253.7L903.3 252.2L909.3 255.4L915.3 254.5L921.4 253.3L927.4 251.8L933.4 254.5L939.4 254.0L945.5 255.6L951.5 253.4L957.5 252.6L963.5 255.8L969.6 255.0L975.6 254.0L981.6 255.0L987.6 254.7L993.7 252.1L999.7 254.7L1005.2 255.8L1010.6 255.7L1016.1 251.7L1021.5 255.5L1026.9 255.5L1032.3 253.8L1037.8 254.7L1043.2 253.3L1048.9 253.9L1054.6 253.3L1058.5 251.0L1062.4 250.7L1066.3 247.9L1070.4 247.9L1074.6 247.6L1078.4 245.6L1080.8 241.4L1083.0 237.3L1084.8 233.9L1087.5 228.9L1089.9 224.1L1092.6 219.5L1095.1 214.8L1098.3 209.4L1100.5 205.2L1103.0 199.9L1105.7 194.6L1109.1 191.1L1112.7 188.4L1116.2 185.7L1119.9 182.3L1122.8 177.9L1125.9 172.6L1130.1 173.9L1134.4 175.7L1137.8 180.0L1140.6 185.1L1144.7 188.5L1148.4 192.7L1151.9 198.6L1155.6 202.6L1158.3 205.7L1161.0 210.5L1164.1 212.8L1166.4 216.8L1169.0 219.1L1173.9 219.1L1178.8 216.4L1183.8 214.1L1189.8 214.0L1195.9 211.9L1200.9 214.1L1205.9 215.1L1210.2 217.2L1214.7 218.2L1219.2 220.0L1222.3 215.7L1225.5 213.0L1229.0 209.1L1230.8 203.5L1232.3 198.0L1233.0 192.3L1233.7 186.8L1235.8 181.1L1236.2 176.0L1238.7 171.4L1240.8 166.5L1241.8 171.3L1242.4 175.6L1243.9 181.0L1243.7 187.1L1244.5 192.0L1245.1 197.3L1245.0 202.4L1245.7 208.0L1247.2 212.4L1247.2 216.5L1247.1 220.4L1248.3 225.8L1248.3 230.5L1249.0 236.7L1248.8 242.5L1249.6 248.2L1248.9 254.0L1250.3 260.0L1249.6 266.2L1250.6 272.0L1250.6 278.0L1250.1 283.5L1251.2 288.9L1250.7 294.7L1252.0 300.7L1251.8 306.9L1251.9 312.9L1252.4 318.5L1252.3 324.8L1253.1 329.8L1253.4 335.6L1252.8 340.2L1253.2 344.9L1253.0 350.0L1253.1 355.6L1254.1 361.7L1254.0 367.6L1254.1 373.4L1254.8 378.0L1253.8 382.0L1254.3 386.9L1255.3 392.8L1254.6 399.3L1254.7 405.1L1255.2 411.1L1255.0 415.5L1255.7 419.6L1255.5 423.8L1256.7 429.9L1256.0 436.0L1256.1 440.3L1256.5 444.9L1256.1 449.5L1256.9 455.0L1256.9 460.5L1257.3 467.1L1257.6 473.2L1258.5 477.7L1258.3 482.1L1258.3 486.9L1258.6 492.0L1258.6 497.4L1258.9 502.2L1258.8 506.2L1258.3 510.9L1259.6 515.2L1259.4 519.1L1260.0 523.4L1259.9 529.6L1259.7 535.6L1259.4 541.8L1260.9 547.7L1260.0 552.2L1260.1 557.2L1260.2 561.6L1259.1 566.0L1259.3 570.5L1258.8 574.9L1259.3 579.0L1258.8 583.6L1259.8 588.2L1260.3 593.4L1260.7 599.4L1260.1 603.7L1260.5 608.6L1261.1 613.3L1260.5 619.0L1261.8 624.7L1260.8 631.0L1261.2 636.6L1262.3 641.2L1262.5 645.7L1261.5 650.0L1261.9 656.2L1262.0 662.2L1262.6 667.8L1263.4 674.0L1263.4 678.5L1263.4 682.9L1263.0 687.0L1264.2 693.5L1264.0 699.3L1264.6 705.2L1264.2 711.8L1264.8 715.6L1264.8 720.0L1264.8 724.2L1264.7 730.1L1265.3 736.0L1265.6 740.4L1265.7 745.2L1265.2 749.6L1266.2 755.3L1265.9 761.0L1266.1 765.6L1265.7 769.7L1266.7 773.8L1267.1 780.0L1267.0 786.2L1267.2 790.0L1266.3 794.4L1267.2 799.0L1266.8 804.5L1267.9 810.6L1267.3 815.1L1267.5 819.1L1267.8 823.9L1268.7 829.6L1268.6 835.6L1267.9 841.3L1269.0 847.2L1268.1 853.1L1268.2 858.7L1269.0 864.0L1268.1 869.8L1268.9 875.2L1268.3 881.3L1268.4 887.4L1269.2 893.1L1269.2 898.5L1269.0 904.3L1268.7 909.6L1269.3 915.3L1270.0 921.2L1270.1 927.6L1269.3 933.3L1269.8 938.4L1269.9 943.9L1270.3 949.7L1269.5 954.1L1270.0 958.0L1270.2 962.5L1270.3 968.5L1270.5 974.8L1270.9 979.1L1271.1 983.2L1271.1 987.6L1271.0 993.4L1271.2 999.4L1272.2 1005.5L1272.1 1011.7L1272.0 1017.5L1272.3 1023.4L1272.9 1029.7L1273.1 1035.7L1272.8 1041.1L1273.5 1046.5L1274.0 1050.5L1273.7 1055.1L1273.5 1059.8L1274.6 1065.4L1274.1 1071.2L1274.3 1076.3L1275.0 1081.7L1275.7 1086.3L1275.6 1090.4L1276.0 1095.2L1276.3 1101.0L1276.3 1106.2L1276.2 1112.5L1276.6 1118.5L1276.6 1124.1L1277.6 1129.8L1278.1 1136.0L1277.4 1141.9L1278.0 1148.1L1278.4 1154.1L1278.6 1160.1L1279.3 1166.3L1279.7 1171.1L1279.6 1176.9L1280.4 1180.8L1280.0 1185.7L1280.9 1189.9L1281.1 1195.8L1281.1 1201.6L1280.7 1207.1L1281.3 1212.2L1281.5 1216.3L1282.1 1221.3L1282.7 1225.6L1282.6 1231.3L1283.5 1237.0L1283.4 1243.0L1283.8 1248.5L1284.5 1254.3L1284.3 1260.2L1285.0 1264.8L1285.3 1269.0L1285.6 1273.3L1285.3 1279.0L1286.0 1284.7L1286.5 1288.9L1287.1 1293.2L1287.3 1297.3L1287.8 1302.9L1288.1 1308.6L1288.6 1312.8L1288.4 1317.0L1289.0 1321.6L1289.8 1327.5L1290.3 1333.5L1290.0 1338.9L1291.0 1344.1L1291.8 1348.9L1291.9 1353.4L1292.0 1358.0L1292.7 1364.2L1292.2 1369.6L1293.8 1375.8L1294.6 1381.8L1294.8 1385.8L1294.8 1390.7L1295.6 1394.8L1296.7 1398.8L1296.2 1403.3L1297.8 1407.6L1298.0 1413.6L1298.9 1419.0L1300.4 1424.0L1302.5 1429.1L1304.6 1434.2L1306.1 1438.4L1308.1 1434.1L1310.7 1430.9L1312.7 1426.0L1314.5 1422.0L1315.8 1417.4L1315.9 1412.4L1316.8 1407.6L1317.3 1401.6L1317.2 1396.1L1318.2 1392.1L1318.9 1387.7L1319.3 1383.0L1319.6 1379.1L1320.0 1374.9L1320.7 1370.5L1320.6 1364.1L1321.9 1358.5L1321.9 1352.3L1321.6 1346.6L1322.5 1342.3L1322.9 1338.0L1323.4 1333.8L1323.0 1328.2L1323.9 1322.5L1324.3 1316.2L1324.8 1310.0L1325.6 1303.8L1325.7 1297.6L1326.2 1291.6L1326.2 1285.8L1327.0 1280.0L1327.6 1273.3L1327.1 1267.7L1328.0 1261.3L1328.8 1255.6L1328.4 1249.5L1328.9 1244.0L1329.1 1238.0L1329.2 1234.0L1329.3 1229.6L1330.0 1225.5L1330.9 1219.5L1331.1 1214.1L1331.4 1207.7L1331.7 1201.7L1331.7 1195.8L1331.2 1190.3L1332.5 1184.3L1332.6 1178.6L1332.1 1172.4L1333.3 1165.7L1333.1 1160.5L1332.8 1154.6L1333.3 1148.7L1333.7 1142.7L1334.9 1136.3L1334.8 1130.2L1334.5 1124.2L1335.6 1118.4L1335.3 1113.3L1335.8 1107.8L1335.8 1103.2L1335.2 1098.5L1335.4 1094.4L1336.5 1089.0L1336.3 1083.3L1336.3 1077.5L1337.1 1071.3L1337.5 1067.6L1336.6 1063.0L1336.9 1058.8L1337.6 1053.2L1337.4 1047.5L1338.6 1041.3L1338.2 1035.3L1338.2 1029.5L1338.3 1024.0L1338.3 1017.6L1339.0 1011.6L1339.5 1005.7L1339.2 999.7L1339.1 995.3L1340.4 991.1L1340.5 987.2L1341.0 981.5L1341.3 976.1L1341.0 971.3L1341.6 966.3L1340.7 961.3L1341.4 955.6L1342.0 950.0L1341.3 944.8L1342.4 939.1L1341.6 934.9L1341.5 930.5L1342.6 926.5L1342.6 921.1L1342.0 915.6L1342.1 909.5L1343.2 904.2L1341.9 898.5L1342.9 892.9L1342.3 886.6L1342.3 881.1L1343.5 875.3L1343.7 869.7L1343.0 863.8L1342.5 857.6L1342.6 852.8L1343.0 847.3L1342.8 841.2L1343.6 835.3L1342.9 831.0L1343.6 826.6L1344.2 822.2L1343.7 817.1L1344.4 811.6L1344.4 806.9L1344.8 802.2L1345.1 797.5L1345.1 791.4L1344.9 785.1L1345.2 779.7L1345.0 773.6L1345.1 769.1L1345.1 765.1L1345.4 761.0L1345.7 756.5L1346.2 752.2L1345.7 747.6L1345.9 742.1L1346.2 736.4L1347.4 731.7L1347.1 727.4L1346.5 723.2L1346.6 717.7L1347.7 711.5L1347.7 706.9L1347.6 702.7L1348.4 698.1L1348.0 692.2L1348.5 686.7L1349.0 680.2L1348.5 674.2L1348.5 669.5L1349.5 665.4L1348.8 660.6L1349.4 655.0L1349.2 648.9L1349.3 642.8L1349.7 636.7L1350.2 632.8L1349.5 628.1L1350.4 623.6L1350.5 617.7L1350.7 611.3L1350.8 605.3L1350.7 599.6L1350.4 595.2L1350.9 590.6L1351.1 586.2L1350.8 580.3L1351.4 574.5L1350.6 570.5L1351.2 565.7L1351.9 561.7L1351.4 555.9L1351.3 550.2L1351.8 545.4L1352.4 541.4L1352.4 536.9L1352.5 530.9L1351.5 524.5L1352.0 520.7L1352.0 516.3L1351.5 512.3L1352.0 508.0L1352.3 503.1L1351.4 498.7L1349.7 502.8L1347.6 507.6L1345.6 511.2L1345.0 515.6L1345.5 520.0L1344.5 524.4L1344.0 529.6L1344.2 534.8L1347.2 541.0L1350.4 546.0L1349.9 540.3L1350.0 534.9L1349.9 530.7L1350.1 527.0L1350.7 522.3L1351.0 518.4L1351.5 514.1L1350.5 510.1L1350.8 504.1L1351.2 498.0L1351.1 493.5L1351.9 489.2L1351.8 485.3L1352.1 481.2L1352.5 476.9L1351.9 472.6L1352.8 466.7L1352.8 460.7L1352.5 456.5L1353.3 451.9L1353.5 447.6L1353.1 441.7L1353.4 435.7L1354.0 431.9L1354.0 427.5L1354.2 422.9L1353.9 417.1L1355.3 410.9L1355.5 406.5L1354.9 402.4L1355.1 398.4L1355.9 391.9L1356.1 385.9L1356.3 381.5L1356.1 377.6L1355.9 373.2L1356.6 367.2L1357.8 361.8L1357.3 357.0L1357.4 352.5L1357.8 348.0L1357.9 342.0L1358.9 336.8L1357.9 332.3L1359.0 328.3L1359.2 324.3L1359.5 319.7L1359.3 315.2L1360.1 310.9L1360.2 305.2L1360.3 299.2L1360.6 295.0L1360.2 290.9L1361.4 286.8L1361.0 282.4L1361.9 278.2L1362.5 274.3L1361.7 267.5L1363.0 261.6L1363.1 255.3L1364.1 249.2L1364.5 243.1L1364.6 237.3L1364.5 232.7L1365.3 228.5L1365.0 224.5L1366.3 220.2L1365.9 215.7L1366.3 211.4L1369.5 207.8L1373.0 205.7L1376.4 203.3L1376.3 207.6L1376.7 211.1L1378.2 215.3L1378.8 220.2L1379.4 224.4L1379.5 229.0L1380.2 233.6L1381.2 238.3L1382.0 244.2L1382.9 251.1L1388.2 253.4L1393.1 256.4L1394.7 250.7L1396.8 245.4L1397.4 239.8L1398.5 234.0L1399.2 229.1L1399.7 224.0L1402.5 220.3L1404.6 217.3L1406.9 214.3L1410.7 209.7L1413.9 205.3L1418.0 205.4L1422.1 205.4L1425.9 205.4L1429.7 202.7L1433.8 206.1L1437.9 207.3L1442.0 209.6L1445.6 206.7L1449.4 202.5L1452.4 197.3L1454.7 192.7L1456.8 187.8L1459.1 183.6L1463.8 178.7L1468.4 174.7L1471.9 173.1L1475.7 170.9L1479.9 171.1L1484.1 171.9L1488.6 174.6L1489.7 178.2L1491.7 182.8L1493.4 186.6L1496.2 190.4L1498.1 193.5L1499.8 197.2L1502.2 201.9L1504.1 206.6L1505.9 210.7L1509.4 215.6L1512.6 220.1L1514.3 224.8L1516.6 228.3L1518.7 232.7L1521.1 236.4L1523.3 240.5L1525.5 244.6L1529.6 246.2L1533.5 249.0L1537.5 251.0L1541.6 253.9L1547.0 251.6L1552.3 252.2L1556.9 253.9L1561.5 254.7L1565.6 251.9L1569.8 253.0L1573.9 252.0L1580.1 250.5L1586.3 249.3L1592.5 250.2L1598.6 252.9L1604.5 252.0L1610.4 248.8L1616.4 248.7L1622.3 249.2L1628.2 249.5L1634.2 248.4L1640.1 253.2L1646.1 250.3L1652.0 247.9L1658.0 251.8L1663.9 249.5L1669.8 250.8L1675.8 251.5L1681.7 252.9L1687.7 252.3L1693.6 252.0L1699.5 248.3L1705.5 252.9L1711.4 248.9L1717.3 252.8L1723.3 251.1L1729.2 253.4L1735.2 251.2L1741.1 248.7L1747.0 251.6L1753.0 250.9L1758.9 253.5L1764.8 251.8L1770.8 251.4L1776.7 250.3L1782.7 249.1L1788.6 248.9L1794.5 249.7L1800.5 252.1L1806.4 253.8L1812.3 252.7L1818.3 249.5L1824.2 254.1L1830.1 251.3L1836.1 250.9L1842.0 253.3L1847.9 250.9L1853.9 253.6L1859.8 250.8L1865.8 249.2L1871.7 254.2L1877.6 252.3L1883.6 252.5L1889.5 254.6L1895.4 253.7L1901.4 254.4L1907.3 251.5L1913.2 252.7L1919.2 250.6L1925.1 251.6L1931.0 253.9L1937.0 250.5L1942.9 253.2L1948.8 252.9L1954.8 251.3L1960.7 252.1L1966.6 254.8L1972.6 254.1L1978.5 250.5L1984.5 252.7L1990.4 250.6L1996.3 254.6L2002.3 253.7L2008.2 251.0L2014.1 252.8L2020.1 250.7L2026.0 253.1L2032.0 255.0L2037.9 252.3L2043.8 252.3L2049.8 250.1L2055.7 250.6L2061.6 253.3L2067.6 251.2L2073.5 253.5L2079.5 254.0L2085.4 252.1L2091.3 252.2L2097.3 254.4L2103.2 253.1L2109.2 253.1L2115.1 255.2L2121.0 250.8L2127.0 253.5L2132.9 251.2L2138.9 254.4L2144.8 256.8L2150.8 254.3L2156.7 251.4L2162.7 253.9L2168.6 251.5L2174.5 251.4L2180.5 252.0L2186.4 251.6L2192.4 253.6L2198.3 253.5L2204.3 254.4L2210.2 254.8L2216.2 253.7" stroke="#8000ff" stroke-width="8.5"/>
</g>
<g fill="none" stroke-linejoin="round" stroke-linecap="round" clip-path="url(#cb)">
<path d="M385.0 1752.2L391.0 1751.0L397.1 1750.0L403.1 1749.6L409.2 1751.1L415.2 1749.4L421.3 1748.9L427.3 1749.0L433.3 1746.3L439.4 1745.8L445.4 1746.8L451.5 1747.8L457.5 1749.2L463.6 1747.7L469.6 1747.9L475.6 1747.9L481.7 1747.7L487.7 1747.8L493.8 1744.5L499.6 1746.4L505.5 1746.4L511.4 1747.0L517.3 1746.9L523.2 1746.5L529.1 1744.9L535.0 1746.8L540.9 1746.9L546.7 1748.7L552.6 1745.9L558.5 1749.1L564.4 1749.0L570.3 1746.1L576.2 1746.3L582.1 1748.0L587.9 1749.3L593.6 1746.6L596.9 1750.7L599.9 1757.6L602.5 1763.5L607.7 1765.1L613.0 1763.3L618.1 1765.2L623.4 1768.3L628.6 1769.8L634.4 1770.9L640.2 1772.3L646.0 1775.0L651.8 1774.4L657.6 1773.6L663.4 1777.2L669.2 1780.5L675.0 1779.3L680.7 1777.3L686.7 1782.2L692.4 1785.8L698.2 1788.1L701.2 1790.6L703.9 1794.8L706.9 1799.1L709.8 1804.2L712.9 1810.8L715.7 1818.1L720.0 1821.9L724.4 1824.4L728.5 1827.7L733.0 1833.4L737.3 1838.0L741.6 1840.7L745.4 1846.5L748.5 1853.9L752.1 1858.4L755.5 1860.5L759.0 1863.9L762.6 1869.3L766.0 1874.9L769.4 1880.6L773.0 1887.3L776.6 1891.4L778.7 1894.8L780.7 1898.1L783.5 1904.7L785.0 1912.9L787.2 1918.0L789.6 1922.7L792.1 1927.8L793.7 1932.7L795.9 1938.1L798.1 1943.5L800.1 1950.3L802.6 1956.8L807.2 1959.3L811.2 1963.2L815.8 1969.3L820.1 1973.3L824.2 1975.9L826.2 1982.0L828.9 1989.4L831.0 1994.7L833.4 1999.9L835.6 2005.3L837.4 2011.6L839.4 2017.3L842.0 2022.9L843.9 2029.5L846.2 2034.5L848.1 2038.1L850.7 2043.5L852.2 2051.6L854.2 2058.4L856.1 2061.8L858.5 2065.4L860.1 2070.9L862.3 2076.5L863.9 2082.5L866.1 2088.5L868.2 2094.7L869.7 2099.7L870.4 2104.0L871.8 2108.9L874.0 2115.7L875.4 2121.9L876.5 2126.0L878.1 2131.9L879.6 2138.7L881.6 2144.8L882.8 2149.1L886.3 2153.2L890.1 2158.0L894.2 2163.9L895.4 2170.6L897.8 2177.5L899.4 2183.7L901.8 2188.2L903.2 2193.8L905.3 2201.7L908.7 2208.3L912.6 2210.3L916.0 2215.3L918.5 2222.2L920.2 2228.7L922.0 2233.4L924.0 2238.1L925.6 2244.0L927.5 2249.1L929.6 2254.9L931.2 2261.9L935.0 2268.6L938.8 2270.9L942.2 2274.0L946.2 2281.1L949.6 2287.7L952.4 2293.3L954.1 2299.3L956.7 2306.2L958.6 2310.9L961.0 2315.9L968.6 2320.3L972.1 2317.3L975.8 2312.6L979.6 2309.0L983.2 2307.6L987.2 2302.5L988.7 2298.3L990.7 2293.8L994.5 2286.8L996.2 2291.3L998.6 2296.8L1002.3 2304.0L1003.8 2308.1L1006.0 2312.2L1007.9 2317.7L1009.3 2321.5L1011.6 2326.1L1013.7 2322.4L1016.4 2317.3L1019.0 2309.9L1023.5 2304.3L1028.2 2302.3L1032.0 2307.3L1035.6 2311.2L1039.4 2313.1L1043.4 2316.2L1044.8 2311.6L1046.6 2306.1L1048.4 2299.6L1050.2 2294.4L1052.7 2289.6L1054.6 2283.5L1056.2 2277.1L1058.8 2272.4L1060.4 2265.7L1062.6 2258.5L1065.0 2252.6L1067.6 2250.5L1069.7 2256.8L1072.0 2258.9L1074.3 2261.9L1076.6 2266.9L1079.4 2273.0L1082.3 2279.4L1085.0 2287.7L1087.6 2294.2L1091.7 2287.7L1095.4 2280.9L1098.8 2276.7L1104.1 2282.2L1109.0 2286.3L1113.8 2287.3L1115.7 2293.5L1117.3 2300.0L1119.7 2305.5L1121.2 2310.2L1123.5 2316.5L1125.2 2323.5L1126.9 2329.6L1129.1 2336.4L1130.4 2342.4L1131.3 2347.5L1132.9 2351.2L1134.1 2356.3L1136.3 2363.7L1137.1 2370.4L1138.7 2375.5L1140.2 2379.9L1143.1 2385.3L1146.1 2390.3L1149.1 2395.1L1152.3 2400.2L1155.5 2405.2L1158.6 2410.1L1162.3 2413.0L1166.3 2417.9L1169.4 2423.2L1170.7 2429.5L1172.5 2433.6L1173.8 2439.1L1175.1 2446.4L1175.9 2453.7L1177.2 2459.4L1178.5 2466.2L1185.1 2463.0L1191.4 2459.6L1193.6 2466.3L1194.6 2473.1L1196.5 2479.2L1198.2 2484.1L1199.6 2491.1L1201.2 2498.2L1202.9 2502.6L1204.6 2507.0L1206.6 2513.4L1209.1 2520.2L1211.4 2525.8L1213.4 2530.6L1215.3 2536.1L1217.9 2541.3L1219.7 2545.1L1222.0 2552.1L1227.5 2555.2L1232.8 2558.3L1234.0 2562.0L1234.6 2566.8L1235.8 2573.9L1236.4 2580.8L1237.0 2586.2L1238.8 2591.3L1239.4 2597.1L1240.1 2602.8L1240.9 2608.3L1242.2 2614.8L1242.6 2621.5L1243.8 2626.8L1244.4 2631.6L1245.2 2637.0L1246.8 2643.8L1246.9 2649.5L1247.7 2654.8L1249.4 2660.7L1249.8 2668.0L1250.4 2673.8L1250.6 2678.4L1251.3 2683.5L1252.3 2689.7L1252.4 2696.4L1253.0 2702.9L1254.2 2709.9L1254.5 2715.5L1255.3 2719.6L1255.9 2724.2L1256.2 2731.3L1257.2 2739.3L1257.9 2745.1L1257.9 2750.2L1259.0 2756.2L1259.0 2761.8L1260.2 2767.2L1260.0 2773.1L1261.2 2779.7L1261.9 2786.3L1261.6 2791.7L1262.8 2797.5L1263.7 2803.9L1264.2 2808.9L1264.1 2813.5L1264.8 2819.5L1265.4 2826.9L1265.7 2833.3L1267.2 2838.2L1267.5 2843.0L1267.6 2849.1L1268.1 2855.0L1269.5 2860.9L1269.1 2867.1L1270.2 2873.6L1270.9 2878.8L1271.2 2883.7L1271.5 2890.0L1272.1 2897.3L1272.8 2902.7L1273.5 2907.8L1274.3 2913.5L1274.5 2920.1L1274.9 2926.7L1275.5 2932.0L1275.7 2938.2L1275.8 2944.0L1277.1 2949.0L1277.3 2955.0L1277.8 2961.8L1278.1 2968.0L1278.7 2973.2L1279.5 2978.8L1280.0 2985.8L1279.8 2992.4L1280.8 2996.0L1287.8 2995.5L1294.8 2998.0L1301.6 2998.3L1305.4 2992.7L1309.7 2988.4L1313.2 2981.8L1317.2 2975.9L1321.1 2971.0L1324.9 2969.8L1328.8 2963.3L1332.8 2955.5L1336.4 2951.7L1340.1 2948.5L1343.3 2942.4L1346.2 2935.9L1349.5 2930.0L1353.0 2924.7L1356.2 2919.0L1359.4 2914.8L1362.6 2910.3L1363.9 2903.4L1365.7 2896.0L1367.7 2891.0L1369.7 2887.2L1371.3 2881.5L1372.7 2874.4L1374.4 2869.6L1375.7 2864.3L1377.3 2857.8L1379.3 2851.1L1381.2 2845.7L1383.1 2840.9L1384.4 2834.5L1389.6 2833.4L1394.8 2832.4L1399.9 2828.0L1405.2 2821.1L1410.5 2817.2L1416.3 2817.8L1422.1 2820.0L1428.1 2815.9L1432.1 2810.9L1436.7 2807.0L1441.2 2803.0L1444.2 2808.2L1447.4 2815.7L1450.8 2823.3L1454.2 2827.6L1456.2 2820.1L1458.7 2815.5L1460.9 2811.5L1463.0 2805.9L1465.1 2799.6L1467.1 2795.3L1472.9 2797.1L1478.7 2795.9L1484.4 2791.5L1488.9 2786.3L1493.1 2781.8L1496.4 2788.2L1498.6 2794.8L1501.9 2802.6L1505.3 2797.4L1508.4 2789.9L1511.7 2785.0L1514.9 2782.1L1520.7 2785.3L1526.6 2783.9L1532.4 2782.1L1536.7 2776.7L1541.0 2774.3L1544.0 2780.2L1547.5 2786.0L1550.8 2791.6L1554.1 2795.3L1560.6 2791.5L1567.1 2791.1L1570.7 2786.9L1574.6 2779.5L1577.6 2773.3L1579.9 2780.4L1582.2 2785.1L1584.3 2789.3L1586.8 2793.6L1588.9 2800.4L1593.3 2797.9L1597.6 2795.1L1601.9 2793.1L1605.1 2798.7L1608.5 2801.4L1611.6 2805.3L1614.8 2812.5L1619.3 2819.0L1623.7 2823.3L1628.0 2823.2L1633.5 2821.8L1638.9 2823.6L1644.3 2826.2L1649.8 2826.2L1656.3 2824.0L1662.9 2822.8L1667.1 2825.7L1671.5 2828.3L1676.0 2832.4L1680.4 2836.5L1683.8 2840.5L1687.1 2842.2L1691.0 2845.8L1693.9 2852.2L1697.6 2858.7L1701.0 2862.9L1704.8 2865.2L1707.9 2869.9L1711.5 2874.6L1714.8 2877.7L1717.9 2882.5L1721.1 2888.7L1724.0 2894.9L1726.8 2899.2L1729.8 2904.0L1732.5 2909.6L1735.5 2915.4L1738.5 2918.7L1741.4 2925.1L1743.0 2929.1L1743.9 2933.2L1747.1 2940.3L1750.1 2943.9L1752.7 2949.0L1755.6 2954.1L1758.8 2960.0L1763.8 2967.0L1768.7 2974.0L1773.9 2975.1L1775.9 2970.6L1777.6 2966.2L1781.6 2962.9L1785.7 2958.9L1789.3 2953.5L1793.3 2947.9L1795.3 2943.4L1797.3 2937.6L1799.1 2931.0L1801.2 2925.2L1802.8 2920.0L1804.4 2914.4L1806.4 2908.8L1812.2 2907.6L1817.9 2904.4L1824.1 2898.9L1825.5 2892.8L1826.9 2889.3L1828.7 2885.6L1830.3 2879.4L1832.4 2872.7L1833.6 2866.6L1835.5 2862.1L1836.7 2856.7L1838.2 2851.3L1838.4 2846.3L1839.2 2840.0L1839.9 2832.2L1841.3 2826.3L1841.7 2821.8L1843.2 2817.5L1843.8 2811.0L1844.9 2804.6L1845.8 2798.9L1846.8 2793.1L1847.8 2786.6L1848.4 2780.7L1848.6 2775.9L1849.5 2770.6L1850.2 2764.3L1851.2 2757.8L1852.4 2751.8L1852.6 2744.7L1853.9 2738.1L1854.0 2733.3L1854.7 2729.2L1855.4 2722.7L1856.3 2715.0L1856.8 2708.4L1857.9 2702.9L1858.6 2697.2L1859.4 2691.5L1859.8 2686.0L1861.1 2679.8L1861.2 2672.4L1862.6 2666.6L1863.5 2661.3L1863.7 2655.7L1863.5 2648.3L1863.6 2642.7L1864.9 2637.9L1864.8 2632.0L1864.9 2625.7L1865.3 2619.3L1866.7 2613.3L1866.2 2607.5L1867.4 2601.5L1867.9 2596.2L1868.0 2590.6L1868.6 2583.7L1868.4 2577.2L1869.4 2572.2L1869.2 2566.6L1869.7 2560.2L1869.7 2553.2L1870.8 2548.1L1870.5 2543.1L1871.2 2537.3L1871.7 2530.6L1871.8 2524.2L1872.5 2518.2L1873.1 2512.0L1874.0 2507.0L1874.2 2502.4L1875.4 2495.9L1876.0 2487.9L1876.4 2481.7L1876.9 2476.9L1877.1 2472.0L1878.6 2465.6L1878.9 2459.0L1879.5 2453.5L1879.6 2447.2L1880.7 2441.2L1881.3 2435.4L1881.7 2430.3L1882.7 2423.6L1883.3 2417.4L1884.0 2412.2L1884.4 2406.7L1885.0 2400.0L1885.8 2393.4L1885.9 2388.6L1886.5 2383.8L1887.5 2377.7L1888.1 2371.1L1889.0 2365.4L1889.0 2359.8L1889.7 2354.5L1890.7 2348.8L1891.8 2343.9L1892.1 2337.0L1893.4 2329.8L1893.6 2323.5L1894.1 2319.5L1895.0 2315.0L1896.2 2308.9L1896.5 2301.7L1897.4 2295.5L1897.6 2289.3L1898.1 2283.4L1899.4 2278.5L1899.4 2273.9L1900.8 2268.0L1901.2 2260.7L1902.1 2254.5L1903.8 2249.4L1905.3 2242.9L1905.7 2236.5L1907.6 2231.7L1908.6 2227.7L1909.9 2221.6L1910.2 2214.2L1911.4 2207.2L1912.6 2201.7L1914.4 2196.8L1915.2 2191.6L1916.1 2187.0L1917.3 2180.7L1919.1 2173.1L1919.8 2165.8L1921.6 2161.7L1922.7 2157.3L1923.1 2150.7L1924.5 2144.2L1926.1 2138.3L1927.4 2133.3L1927.8 2126.8L1928.9 2120.7L1930.1 2115.1L1931.9 2109.3L1932.4 2103.4L1933.8 2097.8L1934.8 2092.9L1936.5 2087.0L1937.0 2079.7L1938.6 2074.0L1940.5 2069.3L1941.6 2063.8L1943.1 2056.7L1944.7 2050.6L1945.5 2045.9L1947.3 2040.7L1948.8 2034.6L1950.0 2028.8L1951.3 2022.8L1953.1 2016.4L1954.6 2010.4L1955.9 2006.7L1957.3 2002.0L1958.1 1995.7L1959.0 1989.0L1961.4 1982.8L1963.5 1978.5L1965.8 1973.7L1967.8 1967.1L1969.5 1961.6L1972.0 1956.2L1973.9 1949.5L1976.6 1943.8L1978.6 1939.4L1981.0 1934.0L1982.9 1926.2L1984.3 1921.1L1986.5 1916.3L1989.0 1910.8L1990.6 1902.9L1992.7 1897.2L1994.7 1891.9L1996.5 1885.8L1998.1 1879.5L2000.3 1874.3L2002.7 1868.7L2005.9 1862.6L2009.1 1856.9L2012.6 1852.4L2015.6 1846.1L2018.8 1838.6L2022.1 1834.7L2025.0 1832.4L2028.8 1826.4L2032.2 1819.3L2035.7 1814.3L2039.3 1809.4L2043.2 1805.9L2046.7 1802.4L2050.4 1801.1L2055.2 1797.8L2060.5 1790.9L2065.5 1785.1L2070.6 1783.9L2075.5 1780.1L2080.8 1776.7L2086.8 1773.4L2093.0 1775.3L2098.9 1771.0L2105.1 1765.2L2111.2 1762.8L2116.8 1765.3L2122.4 1765.4L2128.0 1766.0L2133.6 1766.0L2139.1 1762.4L2144.8 1757.8L2150.3 1755.1L2156.3 1758.9L2162.2 1761.6L2168.2 1759.9L2174.1 1756.3L2180.0 1754.9L2186.0 1754.5L2191.9 1755.7L2197.8 1755.7L2203.8 1754.9L2209.7 1754.5L2215.6 1751.0" stroke="#000000" stroke-width="9"/>
<path d="M385.0 1743.2L391.0 1741.8L396.9 1739.8L402.9 1739.3L408.9 1741.5L414.8 1740.4L420.8 1741.9L426.8 1742.0L432.7 1741.1L438.7 1740.9L444.7 1740.1L450.6 1741.5L456.6 1741.0L462.6 1742.7L468.5 1739.8L474.5 1738.8L480.5 1739.5L486.4 1741.5L492.4 1739.3L498.4 1738.9L504.3 1739.4L510.3 1740.1L516.3 1740.8L522.2 1737.5L528.2 1738.3L534.2 1740.5L540.1 1738.6L546.1 1737.8L552.1 1739.4L558.0 1739.5L564.0 1739.1L570.0 1738.6L575.9 1738.8L581.9 1739.1L587.9 1737.9L593.8 1737.4L599.9 1739.4L606.0 1741.9L612.1 1746.7L618.2 1744.0L624.2 1746.5L630.2 1748.7L636.1 1749.4L642.1 1745.9L648.0 1747.6L653.9 1747.8L659.9 1747.1L665.8 1745.6L671.7 1747.2L677.7 1744.7L683.6 1745.6L689.6 1746.7L694.7 1750.2L700.0 1753.5L705.2 1752.0L710.4 1752.6L715.6 1755.6L720.5 1758.2L725.7 1763.7L730.9 1767.3L736.0 1769.4L741.0 1767.0L746.0 1768.6L750.5 1775.2L754.6 1780.2L759.2 1784.8L763.4 1789.4L767.8 1792.1L772.2 1794.4L776.7 1795.1L779.8 1802.5L783.3 1810.1L787.0 1815.0L790.4 1818.8L794.0 1824.0L797.6 1829.2L800.7 1835.3L804.5 1840.9L808.0 1845.9L811.4 1849.7L814.6 1854.9L817.7 1860.1L821.2 1865.3L824.4 1871.6L827.7 1877.3L830.8 1879.6L834.4 1881.8L837.1 1889.1L839.3 1896.5L842.2 1901.4L843.9 1907.2L846.3 1912.6L848.2 1916.3L850.9 1920.5L852.4 1926.9L855.2 1934.1L856.9 1940.1L859.3 1945.0L861.4 1949.9L863.7 1953.4L865.8 1959.8L868.1 1966.6L870.7 1973.0L873.3 1978.2L875.6 1984.6L878.0 1990.6L880.6 1994.9L882.8 2000.4L885.7 2007.2L887.5 2013.0L889.4 2017.6L890.6 2023.5L892.6 2030.3L894.6 2034.4L896.5 2038.8L898.2 2044.1L900.2 2050.7L901.6 2056.9L902.6 2063.1L904.3 2068.9L906.0 2074.0L907.1 2079.2L908.9 2085.9L910.6 2090.9L912.7 2096.6L914.7 2103.4L916.4 2108.5L918.2 2112.9L919.8 2118.6L921.9 2125.7L924.0 2131.5L925.5 2135.3L927.1 2140.5L929.1 2147.1L930.8 2153.5L933.4 2159.2L934.6 2165.3L936.7 2170.7L938.9 2173.8L941.6 2178.4L944.5 2183.5L948.0 2190.9L950.9 2197.8L954.2 2202.1L957.6 2204.7L958.8 2208.5L960.7 2215.0L962.4 2223.1L963.4 2230.0L965.5 2235.2L967.1 2241.2L968.5 2246.1L974.0 2246.9L979.5 2252.8L982.6 2259.9L985.9 2265.0L989.1 2267.2L991.5 2259.4L993.7 2253.6L996.3 2247.3L999.2 2254.2L1001.4 2260.0L1004.2 2264.8L1007.0 2269.7L1009.7 2276.3L1012.1 2280.7L1015.0 2285.3L1017.9 2291.6L1020.4 2295.3L1021.7 2290.6L1022.9 2286.5L1025.8 2280.6L1027.9 2278.1L1030.2 2282.6L1032.1 2285.6L1034.0 2290.7L1036.6 2286.1L1039.9 2280.5L1042.9 2275.1L1044.6 2269.9L1046.6 2264.9L1048.9 2257.6L1050.9 2251.0L1052.2 2244.5L1054.1 2238.2L1056.4 2233.1L1058.4 2228.2L1061.0 2222.8L1062.9 2217.9L1065.2 2214.1L1067.3 2206.9L1072.0 2208.4L1076.7 2215.1L1079.7 2221.7L1082.7 2226.8L1085.9 2232.6L1089.5 2228.4L1093.3 2223.7L1097.5 2215.4L1099.9 2221.7L1100.6 2226.3L1102.3 2230.9L1104.6 2238.6L1109.3 2238.6L1113.9 2237.2L1117.6 2240.4L1121.4 2245.8L1125.2 2251.6L1128.5 2257.8L1131.0 2264.0L1133.2 2269.2L1134.9 2274.5L1137.0 2279.5L1139.5 2286.0L1141.3 2294.1L1143.7 2299.8L1145.8 2302.8L1147.9 2307.2L1150.5 2313.8L1153.0 2320.2L1155.0 2326.0L1156.8 2319.4L1157.7 2312.7L1159.2 2305.3L1161.0 2299.6L1162.6 2295.3L1163.9 2292.0L1165.0 2296.8L1166.4 2301.6L1167.7 2306.1L1168.5 2311.4L1170.0 2319.6L1171.0 2327.4L1172.0 2332.5L1173.2 2337.7L1173.8 2343.2L1175.6 2348.2L1176.4 2353.3L1177.8 2361.0L1178.9 2367.9L1180.2 2373.1L1180.9 2377.7L1182.7 2383.2L1183.2 2389.3L1184.8 2395.6L1190.4 2395.8L1195.7 2393.6L1197.3 2399.2L1198.1 2404.9L1199.3 2411.0L1200.6 2415.9L1201.5 2421.6L1202.3 2427.0L1203.9 2433.1L1204.6 2438.2L1205.9 2444.2L1207.3 2450.9L1209.2 2457.0L1211.3 2459.7L1213.3 2464.0L1214.4 2471.0L1215.6 2477.2L1217.1 2482.6L1218.3 2487.9L1219.1 2494.7L1219.9 2500.7L1221.8 2505.8L1222.5 2511.5L1223.9 2517.7L1225.2 2522.8L1226.3 2528.7L1227.3 2534.9L1228.5 2541.0L1229.7 2547.2L1231.1 2553.2L1232.0 2557.9L1233.1 2562.7L1233.5 2569.3L1234.4 2577.3L1235.4 2583.7L1236.9 2589.1L1237.1 2595.4L1238.9 2599.7L1239.3 2604.5L1240.9 2611.7L1241.7 2620.2L1242.1 2626.7L1243.5 2631.3L1243.8 2636.2L1244.9 2641.8L1246.4 2648.1L1246.8 2655.7L1247.7 2661.8L1248.3 2667.5L1249.6 2673.0L1249.9 2678.5L1250.1 2684.2L1251.5 2690.8L1252.2 2697.9L1252.7 2703.2L1252.8 2707.4L1253.0 2713.3L1253.8 2721.1L1254.5 2727.4L1255.0 2732.2L1255.8 2738.1L1256.8 2743.9L1256.9 2749.2L1258.0 2755.6L1258.0 2762.6L1258.4 2769.2L1259.0 2774.2L1260.1 2779.3L1261.1 2784.6L1261.4 2790.6L1261.4 2797.9L1262.8 2804.3L1263.4 2809.6L1263.8 2814.7L1263.9 2820.5L1264.2 2825.9L1265.5 2831.0L1266.3 2837.6L1266.2 2844.6L1267.3 2850.5L1267.6 2855.2L1268.5 2860.9L1268.4 2867.0L1269.5 2872.4L1269.5 2878.0L1270.6 2884.4L1270.7 2891.2L1271.6 2897.0L1272.2 2902.8L1272.7 2908.1L1273.1 2913.3L1273.2 2919.5L1273.6 2926.1L1274.2 2932.3L1274.5 2938.1L1275.2 2944.4L1275.9 2950.0L1276.2 2954.8L1277.1 2960.9L1277.0 2968.5L1278.0 2974.8L1278.5 2979.1L1278.3 2984.8L1278.5 2991.3L1279.5 2998.1L1285.7 2996.5L1291.9 2997.4L1298.1 2998.2L1304.3 2994.3L1310.4 2996.5L1313.6 2992.7L1316.9 2988.8L1320.1 2983.9L1323.5 2976.9L1326.6 2969.7L1330.0 2964.6L1333.4 2963.3L1336.7 2959.8L1339.7 2953.0L1343.0 2946.1L1346.1 2939.1L1349.6 2932.8L1352.9 2927.7L1356.0 2926.4L1359.4 2921.4L1361.0 2917.2L1362.3 2912.9L1364.5 2905.9L1365.7 2900.4L1366.6 2895.7L1368.3 2891.0L1369.7 2885.7L1371.1 2879.2L1372.6 2872.5L1374.1 2866.3L1375.8 2860.7L1376.7 2855.4L1378.8 2850.4L1379.9 2844.7L1384.3 2838.5L1388.8 2833.8L1393.2 2832.3L1397.5 2835.7L1401.8 2836.0L1406.2 2838.1L1412.7 2839.2L1419.2 2839.8L1422.3 2833.6L1425.7 2828.9L1428.9 2824.1L1432.6 2817.6L1435.3 2810.4L1437.8 2804.9L1441.1 2800.0L1444.0 2795.4L1447.1 2789.5L1449.5 2782.3L1451.4 2789.0L1452.8 2796.0L1454.4 2801.2L1456.4 2808.4L1457.5 2804.5L1459.1 2798.9L1461.2 2791.9L1462.3 2786.6L1463.9 2781.0L1465.3 2774.2L1466.7 2769.5L1470.2 2775.8L1472.9 2784.3L1475.4 2787.8L1477.8 2780.3L1480.3 2773.6L1482.3 2768.5L1484.2 2764.1L1486.3 2760.5L1489.0 2753.1L1491.8 2758.3L1494.4 2762.9L1497.6 2766.8L1500.3 2762.9L1503.0 2761.3L1505.7 2756.7L1508.1 2748.4L1510.7 2741.2L1514.1 2747.2L1517.9 2752.7L1521.4 2757.3L1524.0 2751.6L1526.4 2745.7L1529.0 2738.6L1531.9 2733.0L1534.1 2728.2L1536.6 2724.2L1538.3 2728.6L1540.1 2732.6L1541.4 2736.6L1543.3 2742.1L1545.3 2749.3L1546.8 2756.6L1547.8 2762.1L1550.0 2765.0L1552.4 2759.8L1555.6 2755.6L1558.7 2750.4L1561.4 2757.4L1563.0 2762.0L1563.9 2766.8L1566.9 2773.7L1568.0 2768.9L1569.1 2764.2L1571.3 2757.1L1573.6 2753.0L1576.1 2748.7L1577.8 2744.0L1580.9 2750.0L1583.2 2754.3L1585.5 2759.6L1587.9 2763.7L1591.0 2768.6L1593.2 2773.9L1598.7 2771.4L1604.2 2770.3L1606.4 2776.4L1608.3 2781.4L1610.6 2788.0L1612.6 2795.0L1615.0 2799.5L1621.5 2799.7L1628.0 2805.4L1631.6 2810.5L1635.3 2813.0L1639.1 2817.1L1642.4 2822.8L1646.2 2826.7L1649.8 2830.2L1656.3 2828.7L1662.8 2827.4L1667.0 2831.4L1671.5 2834.6L1675.9 2839.9L1680.3 2837.2L1684.6 2835.2L1686.4 2841.0L1688.1 2845.5L1690.2 2849.7L1691.1 2855.1L1693.1 2862.1L1696.4 2868.4L1699.7 2871.4L1702.6 2875.4L1705.6 2881.0L1708.6 2884.2L1712.2 2889.2L1715.3 2896.8L1718.5 2904.6L1721.9 2908.0L1725.5 2909.5L1728.7 2914.0L1732.3 2921.1L1734.4 2928.7L1737.1 2935.8L1738.9 2940.8L1741.0 2944.9L1743.4 2949.5L1745.4 2955.8L1748.3 2962.3L1750.6 2970.1L1752.8 2975.5L1755.7 2978.9L1757.6 2984.1L1760.5 2991.7L1762.9 2998.6L1768.0 2998.9L1773.1 2999.2L1778.4 2997.5L1781.1 2991.8L1784.4 2985.5L1787.4 2981.7L1790.6 2977.0L1793.3 2970.5L1796.5 2964.4L1800.0 2959.9L1803.0 2956.0L1806.2 2952.9L1807.2 2948.5L1808.1 2942.1L1809.5 2935.0L1810.5 2928.8L1811.8 2923.4L1812.0 2918.3L1813.6 2912.4L1814.8 2908.1L1815.2 2902.6L1816.9 2895.3L1817.3 2888.7L1818.2 2883.4L1819.2 2878.8L1819.6 2872.6L1819.8 2866.8L1820.2 2861.2L1821.1 2855.0L1821.4 2849.0L1821.7 2842.6L1821.8 2836.7L1822.6 2830.8L1823.3 2825.3L1823.0 2820.2L1824.1 2813.8L1824.0 2807.3L1824.8 2801.2L1824.7 2794.8L1825.6 2788.6L1825.8 2783.8L1826.6 2779.3L1827.0 2772.7L1826.8 2765.2L1827.6 2759.1L1827.7 2753.7L1828.0 2748.0L1828.0 2742.0L1829.1 2736.5L1829.7 2730.2L1829.4 2723.5L1830.0 2717.4L1830.8 2711.7L1831.0 2706.1L1830.7 2700.3L1832.0 2693.6L1831.4 2686.5L1832.6 2681.4L1832.2 2676.8L1832.6 2670.2L1833.7 2663.1L1833.8 2656.5L1833.7 2650.9L1834.7 2644.7L1834.4 2639.3L1834.8 2635.0L1835.1 2628.3L1836.0 2620.0L1836.3 2613.6L1836.2 2608.6L1836.7 2603.6L1837.2 2597.9L1838.0 2592.0L1837.7 2584.7L1838.2 2577.6L1838.5 2572.0L1838.8 2566.3L1839.6 2561.3L1840.1 2555.6L1840.2 2549.5L1840.8 2542.0L1840.8 2535.3L1841.0 2530.7L1841.4 2525.0L1842.3 2518.5L1842.8 2512.7L1843.6 2507.4L1843.5 2500.8L1843.9 2494.7L1845.0 2488.9L1845.2 2483.4L1846.1 2477.2L1846.3 2470.5L1846.4 2465.3L1846.7 2459.7L1847.2 2453.7L1848.2 2447.7L1849.1 2440.9L1849.5 2434.8L1849.1 2429.7L1850.0 2424.2L1850.1 2417.8L1851.3 2411.9L1851.2 2406.6L1852.1 2400.2L1852.9 2393.5L1852.8 2387.6L1853.3 2382.8L1854.2 2376.9L1853.9 2370.4L1854.5 2364.9L1854.8 2360.1L1855.6 2353.3L1855.4 2346.5L1856.0 2340.4L1856.5 2335.0L1857.0 2330.1L1857.4 2325.1L1858.3 2318.7L1858.7 2312.0L1859.3 2305.6L1860.3 2299.3L1860.5 2293.5L1861.5 2288.8L1861.9 2284.1L1862.8 2277.9L1863.6 2270.2L1863.3 2263.4L1864.1 2258.6L1865.1 2253.9L1865.3 2247.7L1866.4 2242.2L1866.1 2235.9L1867.4 2229.2L1867.5 2222.8L1868.8 2217.5L1869.5 2212.6L1870.8 2206.9L1871.4 2199.9L1872.3 2193.8L1873.4 2187.6L1874.8 2182.8L1876.0 2177.7L1876.4 2170.9L1877.4 2164.0L1878.5 2158.0L1879.7 2152.7L1880.8 2147.2L1881.2 2142.3L1882.4 2137.1L1883.1 2129.8L1884.9 2122.0L1885.3 2116.1L1886.0 2112.2L1888.0 2107.1L1889.0 2101.2L1890.1 2094.5L1891.2 2087.8L1892.2 2081.3L1893.8 2075.8L1895.2 2070.9L1895.9 2065.6L1896.9 2059.8L1898.2 2053.4L1899.4 2046.5L1900.5 2040.3L1901.5 2035.6L1902.9 2029.9L1904.1 2023.0L1905.1 2017.5L1906.4 2012.8L1907.3 2006.1L1908.7 1999.2L1910.5 1993.5L1911.4 1988.8L1913.3 1983.2L1914.1 1977.3L1915.8 1972.7L1917.4 1966.8L1918.5 1960.7L1920.0 1954.1L1921.4 1948.5L1923.0 1943.7L1924.7 1938.7L1926.8 1933.4L1928.5 1926.4L1929.5 1920.0L1931.4 1915.3L1932.9 1910.2L1934.8 1903.7L1936.2 1897.9L1938.0 1892.8L1939.4 1886.6L1941.4 1880.2L1944.1 1875.6L1946.8 1871.4L1949.1 1864.2L1951.9 1856.4L1954.7 1850.7L1957.1 1847.2L1959.5 1843.0L1962.7 1838.0L1964.7 1830.3L1967.4 1823.0L1970.9 1817.5L1974.0 1813.5L1977.1 1810.8L1980.3 1807.4L1983.4 1802.0L1986.6 1794.5L1989.4 1786.8L1993.7 1782.2L1998.1 1782.8L2002.4 1781.0L2006.7 1776.7L2011.3 1771.8L2015.6 1768.0L2021.3 1763.1L2027.1 1759.9L2032.9 1760.3L2038.8 1757.5L2044.4 1754.0L2050.3 1750.7L2056.5 1748.6L2062.7 1750.5L2068.9 1750.2L2075.2 1747.6L2081.4 1745.5L2087.6 1745.2L2093.8 1746.9L2099.9 1744.3L2106.0 1743.9L2112.1 1743.7L2118.2 1745.0L2124.3 1745.8L2130.4 1745.3L2136.4 1747.5L2142.5 1744.5L2148.6 1745.5L2154.7 1742.6L2160.8 1745.2L2166.9 1743.3L2173.0 1745.9L2179.1 1744.4L2185.2 1744.0L2191.3 1745.1L2197.4 1744.8L2203.4 1745.6L2209.5 1744.5L2215.6 1744.1" stroke="#ff8000" stroke-width="9"/>
<path d="M385.0 1736.2L391.0 1736.2L397.0 1736.6L403.0 1735.4L409.0 1737.6L415.0 1737.3L421.0 1737.8L427.0 1736.5L433.0 1736.0L439.0 1737.8L445.0 1738.2L451.0 1736.7L457.0 1734.6L463.0 1736.8L469.0 1735.3L475.0 1737.7L481.0 1737.0L487.0 1735.5L493.0 1736.4L499.0 1735.6L505.0 1736.3L511.0 1737.0L517.0 1738.8L523.0 1738.3L529.0 1737.0L535.0 1735.7L541.0 1736.3L547.0 1736.5L553.0 1735.4L559.0 1738.6L565.0 1735.3L571.0 1737.1L577.0 1735.9L583.0 1737.6L589.0 1738.4L595.0 1738.8L601.0 1737.2L607.0 1739.0L613.0 1738.9L619.0 1735.8L625.0 1738.2L631.0 1738.2L637.0 1738.4L643.0 1735.7L649.0 1738.7L655.0 1739.1L661.0 1735.1L667.0 1736.8L673.0 1739.3L679.0 1738.7L685.0 1738.6L691.0 1735.0L697.0 1737.8L703.0 1739.5L709.0 1737.5L715.0 1738.0L721.0 1737.3L727.0 1736.3L733.1 1735.4L738.0 1739.1L743.2 1743.9L748.3 1746.0L753.4 1748.6L758.3 1751.8L763.5 1757.0L769.2 1753.5L775.1 1749.1L781.0 1747.8L786.0 1751.3L790.7 1755.0L795.9 1760.5L800.8 1763.7L805.8 1763.8L810.7 1765.5L815.7 1768.7L820.1 1770.1L824.5 1771.9L827.5 1777.6L830.6 1781.0L833.8 1783.4L836.9 1787.2L840.1 1791.8L843.2 1797.0L846.0 1804.3L849.7 1810.9L853.3 1812.8L857.0 1816.4L860.7 1821.2L864.3 1828.4L867.7 1834.0L870.3 1839.6L872.4 1845.1L874.8 1849.7L876.8 1854.9L878.5 1861.3L880.9 1868.6L882.9 1873.1L885.4 1877.8L887.3 1883.1L889.7 1890.5L894.1 1895.2L898.3 1898.7L899.8 1904.5L901.2 1910.3L902.8 1915.6L904.8 1921.9L906.1 1929.2L907.9 1935.2L909.8 1939.8L911.0 1945.5L912.5 1951.7L914.3 1957.6L916.0 1963.1L917.8 1969.1L919.9 1975.7L922.5 1980.2L924.8 1984.8L926.6 1990.3L928.6 1996.3L930.9 2001.6L933.5 2006.8L934.7 2013.5L936.6 2019.6L938.8 2023.4L940.8 2027.9L942.5 2032.8L944.0 2039.6L946.3 2045.8L948.6 2051.4L950.3 2056.6L952.4 2061.5L954.9 2065.6L957.2 2069.6L958.6 2076.0L961.2 2083.0L962.6 2088.8L964.8 2094.1L966.7 2099.7L968.4 2106.4L970.5 2112.1L972.5 2117.8L974.4 2125.1L975.6 2131.1L978.0 2135.9L980.2 2141.6L982.4 2146.9L984.2 2151.6L986.5 2155.9L988.4 2161.2L990.9 2168.3L998.3 2171.3L1001.2 2174.8L1004.0 2180.0L1006.5 2184.4L1009.4 2189.2L1012.4 2193.9L1015.0 2200.8L1018.0 2205.7L1020.5 2209.2L1022.1 2213.2L1022.9 2217.0L1024.4 2223.2L1030.0 2224.5L1035.8 2225.0L1039.5 2220.3L1043.1 2216.4L1046.9 2212.2L1048.7 2206.4L1050.7 2201.4L1052.7 2196.9L1054.4 2191.1L1056.3 2184.0L1057.7 2177.7L1060.5 2173.0L1062.9 2170.1L1065.5 2165.4L1067.9 2160.1L1070.2 2153.9L1073.0 2148.1L1076.5 2151.2L1080.6 2158.1L1082.1 2162.5L1084.1 2166.1L1087.8 2162.9L1091.3 2156.2L1095.2 2148.8L1099.9 2145.6L1104.6 2144.9L1109.2 2142.2L1114.0 2141.1L1115.4 2147.0L1116.7 2151.8L1118.1 2155.8L1119.7 2161.6L1122.4 2156.4L1125.7 2151.9L1129.2 2146.2L1130.3 2151.5L1132.0 2157.8L1134.0 2163.4L1135.5 2168.2L1136.9 2173.9L1138.9 2180.9L1140.0 2188.0L1145.6 2184.6L1150.9 2183.0L1153.8 2188.1L1156.6 2193.0L1159.5 2198.0L1162.4 2203.8L1167.9 2205.0L1173.5 2202.5L1175.0 2206.5L1176.7 2212.8L1178.4 2219.0L1180.2 2224.9L1181.5 2230.6L1183.6 2237.2L1184.5 2242.2L1186.1 2247.8L1187.7 2254.6L1188.5 2261.9L1192.2 2265.7L1196.0 2268.0L1200.1 2271.3L1201.1 2277.7L1201.9 2284.2L1203.0 2290.0L1203.6 2295.9L1204.9 2301.5L1205.4 2306.5L1207.0 2311.8L1207.9 2318.0L1209.2 2324.9L1209.8 2330.7L1210.7 2335.5L1211.5 2341.1L1212.9 2346.9L1213.1 2353.0L1214.1 2358.2L1215.4 2364.5L1216.1 2370.4L1217.2 2375.8L1218.0 2381.1L1219.0 2387.3L1219.1 2393.4L1220.6 2398.5L1221.7 2403.4L1221.7 2409.6L1222.8 2416.9L1223.9 2422.9L1224.8 2428.0L1226.5 2432.5L1227.6 2437.8L1228.9 2443.2L1229.2 2449.6L1228.9 2456.0L1229.3 2461.9L1228.8 2466.1L1229.5 2470.4L1229.5 2475.8L1230.8 2482.9L1231.0 2489.7L1231.3 2496.6L1231.9 2502.4L1233.0 2507.6L1233.3 2512.4L1234.3 2518.5L1234.3 2525.6L1235.7 2532.9L1235.6 2538.1L1236.3 2543.5L1236.8 2549.6L1237.6 2555.6L1238.0 2561.7L1238.9 2568.2L1239.8 2574.2L1240.4 2579.9L1241.1 2585.6L1241.6 2591.7L1242.0 2598.3L1242.2 2603.7L1243.3 2609.2L1243.3 2615.3L1243.9 2621.8L1245.0 2627.7L1245.5 2633.1L1245.8 2639.5L1246.3 2645.8L1247.6 2650.9L1248.2 2656.4L1248.8 2663.0L1248.8 2669.1L1250.0 2674.8L1250.0 2681.0L1250.9 2687.2L1251.1 2693.3L1251.8 2698.2L1252.8 2703.7L1253.0 2710.0L1254.1 2716.6L1253.9 2723.0L1254.5 2728.8L1255.5 2734.4L1256.1 2739.8L1256.2 2744.9L1257.5 2751.7L1257.5 2758.7L1258.1 2764.9L1258.9 2770.1L1260.0 2774.9L1260.6 2781.0L1260.3 2787.2L1261.9 2793.2L1262.1 2800.3L1262.5 2806.4L1263.7 2811.5L1263.6 2816.7L1264.1 2822.7L1265.3 2829.2L1265.7 2835.0L1265.9 2840.6L1266.6 2847.4L1267.9 2853.9L1268.1 2859.6L1269.3 2864.9L1269.5 2871.0L1271.0 2876.7L1271.8 2882.8L1272.1 2889.7L1272.7 2896.6L1273.5 2901.9L1274.0 2906.7L1274.5 2912.3L1275.3 2919.7L1276.9 2926.6L1276.9 2932.4L1278.3 2938.1L1278.5 2943.6L1280.0 2948.5L1281.4 2954.7L1282.9 2962.6L1285.0 2968.5L1286.2 2973.7L1288.2 2978.6L1289.4 2984.9L1291.3 2991.9L1292.5 2999.2L1297.4 2998.3L1300.1 2992.1L1302.4 2986.2L1305.3 2980.2L1307.7 2976.3L1310.4 2972.6L1313.2 2966.0L1315.3 2959.2L1318.1 2952.8L1320.7 2948.9L1323.3 2944.0L1325.8 2938.8L1328.3 2933.1L1330.9 2926.6L1333.5 2919.6L1335.7 2913.7L1337.8 2909.1L1340.3 2904.3L1343.0 2898.0L1344.9 2891.7L1347.4 2885.9L1349.4 2879.5L1352.0 2873.1L1353.9 2869.1L1356.3 2864.4L1358.5 2858.7L1360.6 2852.2L1363.0 2846.0L1364.7 2840.0L1367.1 2833.3L1370.5 2829.3L1373.9 2827.7L1377.7 2824.0L1381.2 2818.5L1384.6 2812.4L1387.1 2806.4L1389.7 2801.5L1391.8 2796.1L1394.1 2792.0L1396.8 2786.5L1399.5 2780.4L1401.8 2772.8L1407.3 2769.9L1412.7 2769.8L1418.1 2769.1L1423.5 2765.7L1427.2 2759.8L1430.6 2755.0L1434.4 2750.7L1438.1 2745.5L1441.7 2740.0L1445.3 2736.1L1450.8 2737.4L1456.0 2743.1L1458.4 2739.4L1459.6 2732.7L1462.3 2725.0L1463.5 2718.5L1466.1 2713.8L1467.8 2707.9L1469.4 2702.1L1471.5 2697.4L1475.8 2700.4L1480.0 2703.0L1482.3 2697.9L1484.4 2694.5L1486.3 2690.0L1488.7 2684.4L1490.7 2678.5L1493.2 2674.0L1497.6 2677.1L1501.6 2679.5L1503.3 2673.1L1505.4 2667.3L1507.1 2661.4L1508.9 2655.2L1511.1 2650.4L1512.9 2646.0L1515.3 2641.5L1517.9 2633.8L1521.7 2626.3L1524.8 2621.1L1527.8 2618.6L1532.3 2623.4L1536.5 2627.8L1539.5 2632.8L1542.4 2636.1L1545.6 2641.6L1548.4 2649.2L1551.4 2657.2L1554.1 2662.2L1558.4 2664.4L1562.9 2666.0L1567.1 2670.0L1571.4 2673.2L1575.8 2669.9L1580.1 2666.6L1584.4 2662.3L1587.9 2665.3L1591.5 2670.4L1595.0 2676.6L1598.5 2682.0L1601.7 2686.5L1604.2 2692.2L1606.2 2698.1L1608.8 2703.1L1610.6 2707.1L1613.1 2711.2L1615.1 2716.9L1619.4 2713.2L1624.0 2708.6L1626.4 2714.7L1629.5 2721.1L1632.4 2725.3L1636.7 2722.3L1641.3 2721.2L1644.1 2729.0L1646.8 2734.4L1649.8 2738.1L1655.6 2740.4L1661.4 2743.6L1667.2 2744.1L1669.9 2748.6L1672.8 2753.1L1675.9 2757.7L1682.4 2755.8L1689.1 2754.9L1691.4 2763.1L1694.4 2769.7L1697.1 2773.4L1699.8 2777.1L1702.3 2782.3L1705.1 2788.6L1708.2 2795.1L1710.6 2801.8L1713.8 2807.7L1717.3 2811.3L1720.5 2814.8L1723.4 2820.9L1725.1 2828.2L1726.6 2833.6L1728.6 2838.8L1730.7 2843.7L1732.1 2849.2L1733.9 2854.6L1734.9 2859.5L1736.8 2865.0L1741.2 2871.0L1745.5 2874.3L1749.8 2878.5L1751.0 2885.4L1752.2 2891.4L1753.9 2896.2L1754.7 2900.8L1755.5 2907.8L1757.4 2914.6L1758.5 2921.2L1759.4 2926.4L1761.0 2932.0L1761.3 2936.9L1763.0 2942.4L1764.8 2949.7L1766.6 2957.5L1767.8 2963.1L1769.5 2967.7L1771.5 2972.2L1774.3 2968.4L1777.4 2965.3L1780.6 2961.6L1782.2 2957.2L1784.3 2952.1L1786.7 2945.9L1788.9 2939.4L1791.0 2935.2L1793.6 2931.6L1794.2 2925.4L1794.3 2918.5L1794.6 2912.4L1796.0 2906.6L1795.6 2900.8L1797.0 2894.9L1797.7 2889.2L1797.4 2883.0L1798.1 2876.4L1798.7 2870.2L1799.3 2865.0L1799.5 2859.8L1800.4 2853.4L1800.6 2846.9L1801.5 2841.1L1802.0 2835.1L1801.9 2828.4L1802.8 2822.9L1802.4 2817.6L1803.2 2811.5L1804.1 2805.3L1803.7 2798.6L1804.5 2792.6L1804.2 2786.7L1804.2 2780.8L1805.0 2775.4L1805.8 2770.1L1805.4 2763.8L1806.3 2756.5L1806.0 2750.0L1807.0 2744.6L1807.0 2739.0L1806.6 2733.5L1807.3 2728.2L1807.6 2721.3L1808.2 2714.3L1808.2 2707.7L1808.2 2702.9L1808.7 2698.1L1809.2 2691.8L1809.7 2684.9L1809.4 2678.7L1810.4 2672.7L1810.1 2666.6L1810.8 2661.3L1811.3 2655.8L1810.8 2649.6L1811.9 2642.6L1812.4 2637.2L1812.7 2631.9L1812.7 2625.8L1812.7 2619.1L1813.1 2613.0L1813.3 2607.4L1813.9 2601.7L1814.0 2596.0L1814.8 2590.2L1815.1 2583.9L1814.9 2577.3L1815.7 2571.3L1815.4 2566.2L1815.7 2561.0L1815.6 2554.9L1816.4 2548.1L1817.2 2541.8L1816.5 2536.3L1817.8 2530.5L1817.2 2524.7L1818.1 2519.0L1817.8 2512.9L1818.1 2506.3L1818.1 2500.4L1818.8 2495.3L1819.2 2489.4L1818.3 2482.6L1818.7 2476.5L1819.0 2470.9L1819.6 2465.8L1819.8 2460.0L1820.4 2453.8L1820.2 2447.7L1820.0 2440.7L1820.5 2434.4L1820.3 2429.5L1820.7 2424.8L1820.9 2418.6L1821.3 2411.9L1821.8 2405.4L1821.5 2399.1L1821.5 2393.5L1822.9 2388.3L1822.7 2382.8L1823.3 2376.6L1823.1 2369.4L1824.1 2363.0L1824.4 2356.9L1824.4 2352.0L1825.0 2346.0L1825.4 2339.7L1825.5 2334.1L1826.4 2327.8L1826.9 2320.8L1826.8 2314.8L1828.0 2309.4L1827.3 2303.6L1827.9 2297.8L1828.8 2291.5L1828.7 2285.5L1829.6 2278.5L1830.2 2272.1L1830.3 2266.8L1830.4 2261.9L1831.5 2255.5L1831.2 2249.0L1831.9 2242.7L1832.9 2236.7L1833.8 2231.0L1834.1 2225.3L1835.2 2219.7L1835.3 2213.7L1836.4 2206.9L1836.3 2200.8L1837.1 2195.8L1837.8 2190.2L1838.7 2183.6L1838.7 2176.7L1839.1 2171.2L1840.3 2165.3L1840.8 2159.7L1841.0 2154.3L1842.3 2148.2L1842.4 2141.2L1843.1 2134.5L1844.0 2129.3L1844.6 2124.4L1845.3 2118.6L1844.9 2111.9L1846.6 2105.9L1847.2 2099.5L1848.3 2093.3L1848.2 2088.3L1849.7 2083.2L1849.9 2077.2L1850.6 2070.7L1851.6 2064.0L1853.0 2058.9L1853.8 2053.1L1854.5 2046.8L1854.5 2040.6L1855.8 2035.3L1856.5 2029.8L1857.0 2023.7L1858.3 2017.7L1858.5 2011.6L1859.0 2005.1L1860.6 1998.8L1861.7 1994.7L1863.5 1990.2L1864.6 1984.5L1866.1 1977.3L1867.3 1970.5L1869.0 1965.3L1870.2 1960.4L1871.5 1955.6L1873.0 1950.4L1874.7 1944.0L1875.2 1936.4L1877.1 1929.4L1877.8 1924.5L1879.5 1919.9L1880.1 1913.7L1881.7 1906.6L1882.8 1900.8L1884.2 1894.2L1885.4 1887.9L1886.5 1882.2L1887.3 1877.1L1889.0 1870.7L1890.4 1864.2L1891.5 1858.3L1892.3 1852.9L1893.6 1846.1L1896.7 1841.1L1899.4 1835.7L1902.3 1831.4L1905.5 1825.9L1908.2 1821.1L1911.3 1815.7L1913.9 1811.4L1917.2 1806.3L1920.6 1800.3L1923.4 1796.0L1926.9 1791.0L1929.5 1785.7L1932.9 1779.9L1937.9 1779.3L1942.8 1775.2L1948.1 1770.0L1953.2 1765.3L1958.2 1762.2L1963.3 1760.5L1968.8 1758.1L1974.2 1756.0L1979.6 1752.2L1985.1 1746.7L1990.9 1744.2L1996.7 1744.4L2002.4 1746.8L2008.4 1746.6L2014.3 1743.0L2020.2 1742.0L2026.1 1741.8L2032.1 1744.5L2038.0 1742.3L2043.9 1743.1L2049.8 1743.3L2055.7 1743.6L2061.7 1743.3L2067.6 1740.8L2073.5 1741.5L2079.4 1744.1L2085.3 1743.8L2091.3 1742.9L2097.2 1744.0L2103.1 1741.2L2109.0 1742.6L2115.0 1740.0L2120.9 1739.9L2126.8 1741.5L2132.7 1742.5L2138.6 1741.9L2144.6 1742.1L2150.5 1742.4L2156.4 1738.5L2162.3 1741.9L2168.3 1741.4L2174.2 1740.2L2180.1 1741.9L2186.0 1740.9L2191.9 1738.8L2197.9 1741.4L2203.8 1740.9L2209.7 1741.0L2215.6 1740.0" stroke="#ff0000" stroke-width="9"/>
<path d="M385.0 1736.0L391.0 1735.6L396.9 1735.5L402.9 1737.2L408.9 1738.4L414.9 1737.0L420.8 1738.5L426.8 1737.5L432.8 1738.1L438.8 1737.3L444.7 1737.5L450.7 1739.0L456.7 1735.6L462.7 1738.7L468.6 1736.4L474.6 1737.1L480.6 1735.1L486.6 1737.0L492.5 1739.5L498.5 1737.1L504.5 1736.7L510.5 1737.1L516.4 1735.7L522.4 1738.7L528.4 1739.6L534.4 1739.5L540.3 1739.0L546.3 1738.3L552.3 1736.6L558.3 1736.8L564.2 1737.1L570.2 1737.6L576.2 1736.6L582.2 1739.1L588.1 1738.4L594.1 1736.3L600.1 1736.5L606.1 1736.5L612.0 1738.1L618.0 1739.6L624.0 1738.4L630.0 1736.3L635.9 1739.7L641.9 1739.5L647.9 1736.2L653.9 1737.2L659.8 1739.5L665.8 1739.9L671.8 1737.8L677.8 1737.6L683.7 1736.8L689.7 1737.6L695.7 1739.1L701.7 1741.1L707.6 1739.0L713.6 1739.3L719.6 1738.4L725.6 1737.6L731.5 1737.7L737.5 1738.7L743.5 1739.6L749.5 1740.6L755.4 1738.5L761.4 1738.3L767.4 1738.1L773.4 1736.7L779.3 1739.3L785.3 1740.5L791.3 1739.1L797.3 1738.9L803.2 1740.2L809.2 1739.4L815.2 1738.5L821.2 1738.7L827.1 1741.2L833.1 1740.2L838.4 1741.6L843.6 1746.5L848.8 1750.0L854.0 1751.9L859.2 1752.9L863.7 1757.0L867.9 1761.8L872.0 1766.1L876.7 1770.5L881.0 1776.5L885.3 1778.8L889.6 1779.8L892.7 1784.1L895.7 1790.7L898.7 1796.2L901.6 1802.8L905.1 1809.5L907.8 1812.9L911.1 1816.0L914.0 1820.9L917.1 1827.4L920.5 1832.9L921.6 1838.9L923.8 1846.0L926.0 1850.9L927.4 1855.3L929.4 1860.4L931.6 1867.0L933.1 1871.8L935.1 1877.0L937.0 1884.1L938.8 1890.8L940.3 1895.2L942.9 1900.4L944.0 1905.6L946.4 1910.6L948.6 1915.6L950.3 1922.6L951.9 1929.6L954.1 1934.9L955.9 1939.0L958.4 1944.6L959.9 1949.2L961.9 1954.2L963.9 1961.2L966.3 1968.6L967.9 1973.6L969.7 1977.9L971.3 1983.5L973.5 1989.4L975.0 1995.0L976.8 2001.5L979.1 2007.9L980.7 2012.7L982.8 2017.8L983.9 2024.9L985.7 2031.4L987.5 2036.4L989.7 2042.3L992.0 2048.4L994.2 2053.2L995.7 2059.6L997.7 2067.2L1000.2 2073.4L1002.0 2078.3L1007.7 2081.1L1012.9 2082.9L1015.1 2088.0L1017.4 2095.1L1020.0 2102.5L1021.9 2106.8L1024.2 2111.0L1026.4 2117.2L1028.3 2123.6L1029.9 2129.1L1032.0 2135.9L1033.9 2143.2L1035.8 2146.4L1040.5 2141.6L1045.4 2140.0L1050.5 2134.8L1055.5 2131.3L1060.5 2130.9L1066.0 2129.1L1066.9 2122.1L1067.1 2116.0L1068.5 2111.6L1069.2 2105.5L1074.8 2105.5L1080.4 2106.6L1084.1 2104.0L1087.9 2100.9L1091.6 2096.0L1094.5 2092.0L1097.3 2086.9L1100.2 2080.2L1102.9 2074.1L1105.6 2068.9L1108.0 2061.8L1110.6 2054.4L1112.6 2060.9L1115.1 2066.7L1117.9 2070.9L1120.7 2075.5L1123.4 2081.4L1126.1 2085.6L1128.9 2088.0L1135.2 2090.1L1141.3 2097.5L1147.5 2100.4L1153.7 2098.2L1159.8 2094.9L1162.8 2091.5L1166.0 2088.5L1167.9 2093.6L1170.1 2101.2L1171.8 2108.5L1173.9 2113.6L1175.7 2118.5L1177.2 2123.7L1178.1 2128.5L1178.9 2133.2L1179.1 2140.2L1180.1 2148.1L1180.8 2154.2L1184.0 2157.5L1186.4 2162.9L1189.5 2166.8L1192.2 2169.3L1196.9 2171.1L1201.1 2175.5L1202.3 2182.0L1203.6 2187.3L1204.4 2194.0L1205.3 2201.3L1206.4 2206.7L1207.5 2212.4L1208.4 2218.8L1209.4 2224.4L1211.3 2230.1L1211.8 2237.7L1213.0 2244.8L1213.0 2249.9L1214.2 2255.4L1214.6 2261.4L1215.7 2267.1L1216.2 2273.0L1217.2 2281.2L1218.0 2287.7L1219.1 2292.9L1219.7 2298.4L1220.7 2304.5L1220.9 2310.1L1222.0 2316.2L1223.2 2323.7L1224.8 2330.1L1226.0 2335.8L1227.3 2342.3L1228.0 2348.2L1229.2 2353.2L1229.8 2359.1L1230.5 2366.3L1230.4 2372.5L1230.9 2378.5L1231.9 2385.2L1231.8 2390.6L1232.9 2395.4L1233.4 2400.9L1234.2 2408.1L1234.5 2414.8L1235.1 2420.9L1235.1 2426.9L1235.6 2432.4L1235.6 2437.2L1236.9 2443.0L1237.0 2450.0L1238.5 2457.1L1239.2 2462.8L1240.5 2469.1L1241.3 2475.0L1242.9 2479.9L1243.5 2486.6L1244.3 2493.9L1244.9 2499.4L1245.4 2504.4L1245.8 2510.6L1246.4 2517.0L1247.1 2522.5L1247.1 2528.8L1247.7 2535.4L1248.3 2540.4L1248.4 2545.4L1249.5 2551.8L1249.9 2558.9L1249.9 2564.7L1250.7 2570.6L1251.5 2576.8L1251.6 2581.6L1251.7 2586.4L1252.4 2593.5L1253.4 2600.3L1253.2 2606.2L1254.7 2611.7L1254.3 2617.9L1254.9 2623.5L1256.1 2628.3L1255.6 2635.0L1257.0 2642.1L1257.5 2647.2L1257.7 2652.6L1257.6 2659.5L1259.1 2665.1L1259.6 2670.6L1260.1 2676.7L1260.6 2683.0L1260.6 2688.6L1261.3 2693.9L1262.0 2700.8L1261.8 2707.4L1263.1 2712.4L1262.7 2718.2L1264.1 2724.3L1264.3 2730.0L1265.0 2735.4L1264.9 2742.4L1265.9 2748.5L1266.5 2753.9L1266.9 2759.4L1266.6 2766.5L1267.2 2772.3L1268.5 2777.3L1268.8 2783.5L1269.2 2789.5L1269.8 2795.0L1270.1 2801.3L1270.5 2808.4L1270.7 2814.3L1272.0 2818.6L1271.9 2824.3L1272.8 2830.6L1272.7 2836.3L1273.7 2843.1L1273.6 2850.3L1274.0 2856.2L1275.2 2860.2L1275.5 2865.5L1276.2 2872.0L1276.8 2878.3L1277.5 2884.5L1277.4 2891.8L1278.4 2897.1L1278.8 2901.3L1279.8 2906.4L1281.0 2913.0L1281.8 2919.2L1281.7 2925.0L1282.6 2931.7L1284.0 2937.7L1284.0 2942.2L1285.5 2947.2L1286.3 2953.8L1286.8 2960.1L1287.5 2965.1L1289.3 2971.8L1290.1 2979.2L1291.6 2984.8L1293.9 2990.9L1295.1 2997.8L1292.8 2998.4L1296.2 2990.8L1298.8 2984.4L1301.7 2981.1L1304.6 2977.2L1307.5 2971.1L1310.7 2966.5L1312.5 2961.1L1315.0 2953.2L1316.8 2947.0L1319.3 2943.4L1321.4 2939.0L1323.4 2933.2L1325.5 2927.9L1328.0 2923.1L1330.2 2916.6L1332.3 2909.6L1334.6 2905.1L1336.3 2900.8L1338.4 2894.4L1341.0 2889.7L1342.9 2885.6L1345.2 2879.6L1347.5 2872.3L1349.5 2866.4L1351.6 2861.5L1353.1 2855.7L1355.2 2850.2L1357.4 2846.8L1359.5 2841.6L1360.7 2834.3L1363.4 2827.2L1365.4 2822.2L1367.1 2816.0L1371.4 2813.6L1375.7 2813.7L1380.3 2812.0L1381.8 2804.2L1383.4 2796.4L1384.1 2790.3L1386.1 2785.3L1387.6 2779.3L1388.4 2774.5L1390.3 2769.7L1391.8 2763.0L1393.3 2755.6L1395.1 2750.5L1396.3 2745.2L1397.6 2738.7L1400.0 2732.9L1401.2 2727.4L1403.0 2720.3L1404.7 2713.9L1406.1 2710.3L1410.6 2707.6L1414.8 2703.2L1419.6 2698.8L1421.0 2694.2L1422.3 2688.6L1423.7 2682.2L1424.6 2677.6L1426.4 2673.1L1428.0 2664.5L1434.4 2662.5L1441.1 2660.9L1443.5 2655.6L1445.3 2649.6L1447.7 2645.9L1449.7 2640.1L1452.9 2633.3L1456.7 2627.8L1460.3 2623.9L1463.7 2618.7L1467.1 2611.8L1472.5 2612.3L1478.0 2609.9L1478.9 2602.4L1479.9 2596.4L1481.6 2591.4L1482.8 2584.9L1483.6 2578.1L1484.7 2572.7L1485.7 2568.0L1486.7 2560.5L1492.1 2562.4L1497.7 2566.3L1498.6 2559.2L1500.8 2552.4L1501.9 2547.9L1503.4 2543.0L1504.9 2536.2L1506.0 2530.5L1509.0 2525.6L1511.4 2519.9L1513.8 2513.8L1516.1 2509.3L1518.5 2504.3L1521.5 2496.7L1525.0 2500.0L1528.9 2505.7L1533.0 2510.2L1536.6 2513.9L1537.3 2519.3L1538.3 2524.8L1538.9 2530.0L1540.1 2534.8L1540.4 2541.7L1541.0 2550.3L1546.8 2552.4L1552.6 2553.3L1558.4 2555.3L1565.0 2556.1L1571.5 2562.8L1575.1 2560.2L1578.9 2555.6L1583.0 2548.9L1586.7 2543.1L1589.0 2549.0L1591.2 2554.6L1593.2 2563.7L1598.7 2563.5L1603.9 2559.9L1606.9 2562.9L1609.5 2568.5L1612.4 2573.9L1615.1 2577.0L1619.4 2573.0L1623.8 2567.6L1625.3 2572.6L1626.8 2578.3L1628.2 2585.1L1630.6 2591.1L1631.9 2587.0L1633.1 2582.4L1636.0 2575.7L1639.2 2571.9L1641.4 2577.1L1643.3 2584.1L1645.5 2589.6L1647.8 2584.8L1650.6 2576.8L1653.3 2571.3L1656.1 2566.2L1658.5 2560.4L1662.8 2555.8L1667.1 2551.1L1671.4 2555.6L1676.0 2558.7L1680.2 2565.7L1684.5 2561.8L1688.9 2556.9L1693.3 2555.6L1697.7 2553.9L1701.2 2558.3L1704.4 2561.3L1708.3 2566.1L1711.6 2569.6L1715.1 2572.4L1720.4 2572.8L1725.9 2579.6L1731.4 2582.6L1736.7 2584.3L1738.0 2589.1L1740.0 2594.5L1741.3 2598.6L1742.6 2604.0L1744.3 2612.1L1745.4 2619.2L1746.4 2624.7L1747.9 2630.1L1749.6 2635.7L1750.2 2641.1L1752.0 2647.5L1753.0 2655.7L1754.6 2662.3L1754.7 2667.1L1756.4 2673.4L1757.3 2679.8L1757.9 2685.0L1758.3 2692.2L1759.9 2698.9L1760.5 2704.3L1761.4 2709.7L1762.1 2716.8L1763.5 2722.9L1763.9 2727.9L1764.4 2734.2L1765.2 2740.4L1766.6 2745.4L1766.7 2751.0L1767.9 2758.6L1768.2 2765.0L1769.6 2770.0L1769.7 2775.7L1770.4 2782.2L1771.7 2788.0L1771.9 2794.4L1773.3 2802.0L1773.5 2808.2L1774.4 2813.1L1775.5 2819.8L1776.4 2826.4L1777.1 2819.5L1777.3 2813.5L1778.0 2808.2L1778.3 2801.4L1779.3 2794.7L1779.9 2789.2L1781.4 2782.8L1781.2 2775.2L1782.6 2769.3L1782.6 2764.1L1783.7 2757.8L1783.4 2751.7L1783.6 2746.5L1784.5 2739.6L1785.0 2732.6L1785.2 2727.3L1785.3 2721.7L1785.2 2715.3L1785.6 2709.1L1786.6 2703.7L1786.3 2697.1L1787.0 2690.5L1787.9 2685.5L1788.0 2679.7L1787.9 2672.8L1788.2 2666.4L1788.5 2660.9L1789.3 2655.2L1789.0 2649.0L1790.1 2643.9L1789.5 2638.1L1789.6 2631.0L1789.9 2624.3L1789.8 2619.1L1790.9 2613.7L1790.6 2608.3L1791.0 2602.6L1790.9 2596.8L1790.9 2589.3L1791.2 2582.3L1792.3 2577.4L1792.5 2572.3L1792.3 2566.6L1792.8 2560.8L1792.3 2554.9L1792.9 2548.1L1793.3 2541.2L1792.9 2536.0L1793.8 2531.1L1793.8 2524.8L1794.0 2518.7L1794.1 2513.3L1794.4 2507.2L1794.3 2500.1L1794.5 2494.5L1794.3 2488.9L1794.4 2482.8L1794.7 2476.9L1795.3 2472.2L1796.1 2466.0L1795.2 2459.3L1795.6 2453.1L1796.7 2447.2L1796.5 2440.8L1796.2 2434.8L1796.1 2430.4L1797.0 2424.8L1796.7 2417.9L1797.5 2411.4L1797.0 2406.0L1797.2 2399.4L1797.8 2393.4L1797.7 2388.3L1798.2 2382.9L1798.6 2376.0L1798.7 2369.5L1798.5 2364.0L1799.3 2357.5L1799.1 2350.8L1799.0 2345.3L1800.2 2339.8L1799.7 2333.8L1800.7 2327.9L1800.0 2322.6L1800.7 2315.2L1800.6 2308.2L1800.8 2302.6L1801.3 2297.3L1801.0 2291.3L1801.5 2286.2L1801.3 2280.4L1802.5 2273.0L1802.8 2265.5L1802.1 2260.0L1803.3 2255.2L1802.9 2249.7L1803.4 2244.3L1803.9 2238.2L1804.0 2231.2L1805.0 2223.6L1805.5 2218.4L1805.2 2213.5L1805.7 2207.8L1806.2 2201.6L1806.2 2196.0L1807.6 2189.5L1807.3 2182.6L1807.9 2177.3L1808.6 2171.8L1808.4 2165.3L1808.6 2159.4L1809.2 2153.7L1809.2 2148.3L1810.5 2141.6L1810.3 2135.7L1811.1 2130.4L1811.5 2123.0L1812.0 2117.0L1811.9 2112.1L1812.4 2106.6L1813.2 2100.2L1813.8 2094.1L1813.8 2088.5L1813.8 2081.7L1814.5 2075.7L1815.1 2070.8L1815.9 2065.3L1815.9 2058.7L1817.3 2052.6L1817.6 2047.5L1817.8 2041.0L1818.1 2034.9L1818.4 2029.3L1819.2 2023.7L1820.1 2017.3L1819.9 2011.4L1820.6 2006.7L1821.7 2000.8L1822.5 1994.2L1822.7 1988.4L1824.0 1983.3L1824.7 1977.0L1825.6 1971.6L1826.2 1967.0L1827.7 1961.8L1828.3 1955.2L1829.2 1948.1L1830.4 1942.7L1831.2 1936.8L1832.7 1930.8L1833.2 1925.5L1834.3 1919.6L1835.2 1912.4L1835.8 1905.7L1837.5 1901.1L1838.3 1895.2L1839.0 1888.5L1839.8 1882.6L1840.8 1876.4L1841.6 1869.4L1843.1 1864.1L1844.2 1859.8L1845.4 1853.3L1845.6 1845.9L1847.7 1840.1L1850.2 1834.5L1852.6 1828.5L1854.7 1824.3L1856.6 1820.9L1858.5 1815.2L1861.1 1807.3L1863.2 1801.4L1865.6 1796.5L1867.9 1790.7L1869.6 1786.2L1871.7 1783.2L1875.4 1778.3L1879.3 1771.3L1882.7 1764.9L1886.7 1762.4L1889.8 1756.9L1893.7 1750.1L1899.5 1750.9L1905.2 1749.7L1911.1 1745.8L1917.1 1745.7L1923.0 1744.5L1929.0 1744.5L1935.0 1744.6L1940.9 1743.8L1946.9 1745.5L1952.9 1745.8L1958.9 1745.0L1964.8 1745.7L1970.8 1744.6L1976.8 1745.3L1982.7 1742.4L1988.7 1745.0L1994.7 1745.7L2000.7 1742.4L2006.6 1743.2L2012.6 1744.3L2018.6 1740.9L2024.5 1741.6L2030.5 1743.1L2036.5 1742.0L2042.5 1741.0L2048.4 1744.6L2054.4 1742.5L2060.4 1742.4L2066.3 1740.7L2072.3 1740.8L2078.3 1740.8L2084.3 1741.4L2090.2 1741.0L2096.2 1743.1L2102.2 1741.1L2108.1 1739.7L2114.1 1740.1L2120.1 1740.6L2126.1 1739.8L2132.0 1741.3L2138.0 1741.8L2144.0 1739.5L2149.9 1741.2L2155.9 1740.6L2161.9 1738.0L2167.9 1738.6L2173.8 1739.7L2179.8 1740.5L2185.8 1738.4L2191.7 1738.6L2197.7 1738.8L2203.7 1738.3L2209.6 1736.6L2215.6 1738.8" stroke="#00009c" stroke-width="9"/>
<path d="M385.0 1735.4L391.0 1736.3L396.9 1736.1L402.9 1736.6L408.9 1736.7L414.8 1734.8L420.8 1735.5L426.8 1736.8L432.8 1737.6L438.7 1736.7L444.7 1738.6L450.7 1736.9L456.6 1738.5L462.6 1738.0L468.6 1738.3L474.5 1737.0L480.5 1739.8L486.5 1739.5L492.4 1738.1L498.4 1738.4L504.4 1736.8L510.4 1739.5L516.3 1738.8L522.3 1736.9L528.3 1737.9L534.2 1736.8L540.2 1740.0L546.2 1737.8L552.1 1736.7L558.1 1739.5L564.1 1737.5L570.0 1736.8L576.0 1737.3L582.0 1738.2L588.0 1738.8L593.9 1738.9L599.9 1737.2L605.9 1739.9L611.8 1737.3L617.8 1739.2L623.8 1736.9L629.7 1740.2L635.7 1737.9L641.7 1738.3L647.7 1737.6L653.6 1741.5L659.6 1741.2L665.6 1741.2L671.5 1739.0L677.5 1738.8L683.5 1739.3L689.4 1740.3L695.4 1739.5L701.4 1739.4L707.3 1740.4L713.3 1738.7L719.3 1739.9L725.2 1741.5L731.2 1738.8L737.2 1740.6L743.2 1741.4L749.1 1740.0L755.1 1739.8L761.1 1741.9L767.0 1740.4L773.0 1742.2L779.0 1739.0L784.9 1739.5L790.9 1739.7L796.9 1739.1L802.8 1738.7L808.8 1741.6L814.8 1739.7L820.8 1741.4L826.7 1740.8L832.7 1740.4L838.7 1739.8L844.6 1739.9L850.6 1740.2L856.6 1742.6L862.5 1740.7L868.5 1741.3L874.5 1742.2L880.4 1743.4L886.4 1741.6L892.4 1740.9L898.5 1739.6L903.1 1745.6L908.3 1749.8L913.3 1753.4L918.2 1753.4L923.2 1754.9L928.2 1761.5L933.2 1764.4L936.1 1768.8L939.0 1772.6L942.2 1779.4L945.5 1787.0L948.3 1791.0L951.3 1793.3L954.4 1798.4L957.4 1805.3L960.3 1811.3L963.8 1816.1L965.7 1821.2L968.0 1827.8L970.9 1834.0L973.0 1837.8L975.6 1842.1L977.3 1848.7L980.2 1856.2L982.1 1862.6L985.0 1868.0L986.9 1872.5L989.6 1877.5L991.7 1882.8L993.9 1888.6L995.9 1895.3L997.9 1901.8L999.4 1907.8L1001.3 1913.1L1002.9 1918.3L1004.8 1922.9L1006.1 1927.3L1007.8 1933.9L1009.8 1941.5L1011.5 1948.9L1013.0 1953.7L1014.8 1957.9L1016.9 1963.2L1018.9 1970.1L1020.8 1976.0L1022.0 1982.4L1024.6 1990.1L1025.6 1997.5L1027.8 2001.3L1028.8 2004.5L1030.2 2009.4L1032.2 2017.6L1033.5 2025.1L1034.8 2030.4L1036.7 2035.5L1038.0 2042.1L1042.4 2046.4L1046.9 2047.6L1049.5 2052.2L1052.9 2059.4L1054.2 2064.0L1055.3 2068.7L1058.3 2076.1L1060.3 2067.4L1061.5 2060.2L1063.9 2054.2L1065.7 2049.5L1067.6 2044.2L1068.8 2039.3L1070.9 2035.8L1074.4 2040.0L1077.4 2043.3L1080.7 2046.5L1084.2 2049.9L1086.9 2044.0L1089.1 2038.7L1092.4 2034.3L1094.0 2028.9L1095.2 2021.9L1097.6 2014.0L1099.0 2008.3L1101.3 2003.6L1102.8 1998.1L1104.6 1991.3L1106.4 1985.8L1108.0 1982.1L1113.5 1981.5L1119.0 1979.0L1122.1 1982.3L1124.6 1989.8L1127.5 1997.9L1130.1 2002.6L1132.3 2006.5L1135.0 2012.0L1137.9 2019.2L1140.9 2023.7L1143.8 2025.6L1145.8 2018.9L1147.7 2014.9L1149.2 2011.2L1150.9 2006.9L1155.3 2003.4L1160.0 1998.4L1163.1 2003.9L1165.3 2010.1L1168.1 2015.2L1171.0 2019.9L1176.0 2021.6L1181.5 2022.4L1182.5 2028.8L1182.9 2034.4L1184.6 2039.4L1185.3 2045.1L1186.1 2050.8L1187.7 2056.9L1188.5 2062.9L1194.1 2068.5L1200.1 2071.5L1201.0 2076.4L1202.1 2082.4L1203.3 2088.6L1204.4 2094.2L1204.9 2099.7L1207.0 2106.8L1207.2 2113.7L1208.3 2119.3L1210.2 2123.1L1210.6 2128.3L1213.7 2136.1L1215.6 2143.7L1218.3 2149.1L1219.4 2154.4L1219.6 2160.9L1221.0 2167.2L1221.6 2172.0L1222.7 2176.5L1222.8 2182.8L1224.4 2190.6L1225.2 2196.7L1225.8 2200.8L1226.9 2206.0L1227.7 2212.2L1229.0 2218.5L1229.0 2224.1L1229.5 2229.5L1230.6 2235.4L1231.2 2242.1L1231.9 2247.6L1232.3 2252.8L1232.6 2258.0L1233.1 2264.4L1233.4 2271.0L1233.8 2276.6L1234.2 2282.2L1234.9 2287.8L1235.1 2293.3L1235.4 2299.3L1236.5 2305.4L1236.7 2311.5L1237.0 2317.2L1237.2 2322.7L1237.3 2328.5L1237.9 2335.0L1238.2 2341.5L1238.7 2347.0L1238.9 2352.8L1239.8 2359.9L1239.4 2366.4L1240.3 2371.0L1240.1 2376.1L1241.0 2382.7L1240.3 2390.4L1241.1 2396.4L1241.6 2401.6L1241.9 2406.9L1241.9 2414.0L1242.7 2420.2L1243.2 2425.4L1243.4 2431.0L1243.8 2438.2L1243.7 2445.6L1244.2 2450.8L1244.3 2455.0L1245.6 2460.9L1246.1 2468.6L1246.1 2475.1L1246.8 2481.4L1248.0 2487.6L1248.7 2494.0L1249.2 2499.6L1249.9 2504.7L1250.4 2510.9L1251.1 2518.2L1251.4 2524.9L1252.8 2531.5L1252.5 2537.2L1252.8 2542.2L1253.9 2547.5L1254.0 2553.2L1254.8 2560.2L1255.0 2567.0L1255.4 2573.0L1255.9 2578.5L1256.3 2584.0L1256.2 2589.9L1257.3 2594.9L1257.2 2600.3L1258.0 2607.0L1258.5 2614.8L1258.1 2621.3L1259.1 2625.6L1259.0 2630.3L1259.8 2636.6L1260.2 2643.5L1261.0 2649.4L1260.3 2654.5L1261.5 2661.2L1261.6 2668.4L1261.8 2673.7L1262.0 2678.3L1263.3 2682.9L1263.0 2690.2L1263.2 2697.2L1264.2 2703.2L1264.0 2708.7L1265.3 2714.5L1264.7 2720.6L1265.9 2726.1L1265.9 2731.5L1266.6 2737.3L1266.9 2744.1L1267.7 2750.9L1267.9 2756.9L1267.8 2762.1L1268.4 2767.7L1268.6 2773.1L1268.8 2779.1L1269.5 2785.1L1270.1 2791.7L1270.0 2798.2L1270.8 2803.7L1271.0 2809.7L1272.3 2815.5L1272.7 2821.0L1272.3 2826.0L1273.9 2832.1L1274.3 2839.8L1274.6 2846.2L1275.1 2851.6L1275.7 2856.5L1276.4 2861.9L1276.8 2868.7L1276.6 2874.2L1277.2 2879.7L1277.6 2886.2L1278.1 2893.9L1279.2 2899.7L1279.5 2904.2L1279.9 2908.6L1280.2 2914.7L1280.8 2922.3L1281.8 2928.7L1283.0 2933.9L1284.1 2939.9L1284.5 2946.0L1285.7 2951.5L1286.7 2955.6L1287.8 2960.7L1288.4 2968.0L1289.5 2975.5L1290.5 2981.3L1292.0 2986.1L1292.5 2991.0L1293.8 2995.5L1298.9 2996.8L1303.9 2995.8L1307.0 2991.4L1309.8 2986.9L1312.5 2981.9L1315.2 2974.5L1317.9 2968.2L1320.8 2960.9L1323.5 2955.4L1325.0 2950.8L1326.8 2946.9L1328.6 2942.0L1330.1 2935.0L1331.5 2927.9L1332.6 2921.6L1334.7 2917.6L1336.4 2912.5L1337.1 2906.5L1339.4 2901.1L1340.4 2896.3L1342.2 2891.1L1343.4 2884.0L1344.9 2876.3L1346.3 2871.4L1347.9 2867.2L1349.2 2861.8L1350.7 2854.4L1351.9 2847.3L1353.2 2842.4L1354.0 2836.3L1355.8 2829.2L1357.4 2822.6L1358.3 2818.4L1360.1 2813.5L1360.9 2806.6L1362.8 2799.6L1364.1 2793.8L1366.2 2789.6L1367.2 2784.2L1369.2 2778.3L1370.4 2772.3L1371.8 2767.0L1373.8 2761.3L1374.9 2755.5L1375.5 2749.5L1377.2 2744.0L1378.3 2738.4L1378.6 2732.7L1380.2 2727.0L1381.0 2721.4L1381.8 2715.9L1382.9 2709.7L1384.5 2704.5L1385.3 2699.1L1386.8 2693.1L1388.7 2685.7L1389.4 2679.1L1390.5 2674.3L1392.2 2668.9L1393.4 2662.2L1394.8 2655.3L1396.4 2649.8L1397.1 2644.2L1400.1 2638.3L1402.9 2630.8L1405.6 2626.6L1408.0 2623.2L1409.0 2617.7L1410.2 2610.6L1410.8 2603.9L1412.2 2598.8L1412.8 2594.4L1413.9 2588.7L1414.6 2582.6L1417.0 2576.6L1418.8 2572.2L1420.0 2567.0L1422.1 2560.2L1424.4 2553.6L1426.1 2548.2L1427.7 2544.3L1430.2 2549.7L1432.3 2553.8L1434.5 2558.7L1435.6 2553.0L1435.9 2546.8L1436.9 2540.8L1438.7 2535.0L1439.0 2529.4L1440.0 2523.7L1440.7 2517.9L1442.5 2512.6L1444.3 2506.9L1446.2 2500.9L1447.7 2494.5L1449.4 2489.5L1451.0 2485.7L1452.8 2480.2L1454.1 2473.7L1456.2 2468.1L1458.8 2463.5L1461.3 2458.4L1464.0 2451.1L1466.5 2444.7L1468.8 2438.9L1471.6 2436.7L1473.8 2440.2L1474.9 2432.2L1476.6 2425.0L1478.0 2420.1L1479.8 2414.5L1481.3 2407.3L1482.4 2400.3L1484.0 2395.9L1485.1 2393.0L1490.7 2390.3L1496.1 2386.7L1498.2 2381.0L1499.9 2376.4L1501.9 2372.6L1503.4 2366.9L1505.5 2361.2L1511.1 2365.0L1516.5 2369.1L1518.7 2373.0L1520.8 2376.2L1522.4 2380.3L1524.3 2387.2L1526.5 2382.8L1529.0 2379.5L1531.4 2375.8L1533.3 2379.9L1534.5 2384.0L1536.1 2388.3L1537.3 2393.9L1538.1 2400.5L1539.8 2407.3L1540.7 2414.1L1543.6 2406.7L1546.1 2400.7L1547.7 2393.5L1550.5 2386.9L1552.2 2391.6L1552.8 2395.9L1553.1 2400.5L1553.8 2404.8L1554.5 2409.3L1556.2 2414.9L1558.1 2409.7L1559.6 2404.9L1563.4 2399.1L1569.0 2400.3L1574.5 2402.0L1576.2 2395.5L1578.2 2391.3L1580.3 2387.4L1582.2 2380.8L1582.9 2375.4L1583.9 2370.7L1587.5 2371.9L1591.5 2377.3L1595.1 2384.6L1597.7 2380.5L1600.0 2374.1L1601.8 2367.8L1604.2 2362.5L1606.9 2356.0L1609.1 2349.5L1611.2 2344.7L1613.4 2340.8L1615.7 2338.3L1620.0 2340.5L1624.3 2343.1L1628.8 2342.9L1630.6 2336.2L1632.1 2330.9L1633.1 2325.1L1634.8 2320.5L1636.7 2316.0L1638.0 2310.9L1640.8 2303.8L1643.7 2298.6L1646.3 2292.3L1649.0 2286.3L1651.2 2280.5L1653.9 2276.3L1656.1 2272.7L1657.7 2268.0L1660.8 2261.2L1661.9 2253.6L1662.7 2247.8L1664.0 2243.2L1665.8 2236.1L1666.8 2229.0L1667.8 2224.1L1673.3 2222.2L1679.0 2216.8L1681.1 2208.6L1682.5 2203.9L1684.3 2200.4L1686.5 2194.8L1688.0 2188.4L1690.4 2182.1L1692.0 2177.5L1693.3 2173.4L1694.9 2167.5L1696.0 2160.6L1697.4 2155.7L1699.2 2150.9L1701.6 2147.3L1703.5 2141.9L1705.1 2136.0L1706.8 2129.9L1710.7 2134.1L1714.7 2137.5L1715.7 2131.1L1716.9 2125.9L1718.4 2120.2L1720.0 2114.8L1720.8 2108.8L1722.7 2102.3L1723.4 2096.0L1725.3 2089.4L1726.4 2083.0L1727.5 2078.1L1733.2 2077.2L1738.9 2071.4L1740.2 2064.1L1742.8 2058.5L1744.4 2053.2L1746.1 2045.0L1753.6 2045.4L1761.3 2049.1L1764.8 2055.4L1768.3 2056.2L1772.2 2049.3L1775.9 2047.0L1780.1 2045.0L1780.5 2039.3L1780.4 2032.0L1780.0 2025.0L1780.7 2019.6L1781.1 2013.3L1781.4 2005.6L1781.3 1998.9L1782.0 1994.3L1783.1 1989.8L1783.3 1983.8L1784.0 1977.0L1784.9 1971.2L1785.7 1966.1L1786.4 1960.8L1786.9 1955.4L1787.7 1949.3L1788.5 1943.4L1789.1 1937.5L1789.7 1931.2L1790.1 1925.1L1791.7 1919.2L1791.6 1913.4L1793.1 1907.7L1793.0 1902.0L1794.0 1896.0L1794.8 1889.7L1795.3 1883.1L1796.1 1877.7L1796.5 1872.7L1797.2 1867.1L1798.2 1860.1L1798.5 1853.3L1799.1 1847.6L1800.4 1842.8L1801.3 1836.5L1801.9 1829.7L1802.1 1824.8L1804.3 1820.4L1806.3 1814.3L1807.6 1806.4L1809.3 1799.6L1811.2 1796.4L1812.4 1792.2L1814.8 1786.0L1815.9 1778.8L1817.8 1772.7L1819.6 1767.7L1823.1 1763.4L1826.6 1757.7L1830.2 1753.1L1833.6 1751.0L1837.1 1749.1L1843.2 1748.7L1849.1 1744.2L1855.2 1743.9L1861.2 1745.0L1867.2 1745.7L1873.2 1744.0L1879.2 1745.4L1885.2 1746.3L1891.2 1744.6L1897.2 1743.7L1903.2 1742.0L1909.2 1744.3L1915.2 1744.3L1921.2 1743.2L1927.2 1743.2L1933.2 1743.7L1939.3 1742.5L1945.3 1741.0L1951.3 1743.6L1957.3 1743.8L1963.3 1743.3L1969.3 1744.2L1975.3 1741.2L1981.3 1743.1L1987.3 1742.4L1993.3 1740.3L1999.3 1740.9L2005.4 1742.5L2011.4 1742.8L2017.4 1741.4L2023.4 1740.8L2029.4 1739.0L2035.4 1741.9L2041.4 1741.6L2047.4 1742.6L2053.4 1740.3L2059.4 1740.1L2065.4 1742.1L2071.4 1741.1L2077.4 1738.8L2083.4 1740.5L2089.5 1741.4L2095.5 1739.9L2101.5 1741.7L2107.5 1740.8L2113.5 1740.8L2119.5 1740.4L2125.5 1739.3L2131.5 1740.2L2137.5 1740.2L2143.5 1739.1L2149.5 1736.7L2155.5 1739.3L2161.6 1739.2L2167.6 1737.8L2173.6 1736.4L2179.6 1737.4L2185.6 1739.3L2191.6 1735.9L2197.6 1737.4L2203.6 1739.1L2209.6 1738.3L2215.6 1736.6" stroke="#ff0080" stroke-width="9"/>
<path d="M385.0 1736.2L391.0 1737.0L397.0 1736.6L402.9 1736.9L408.9 1735.6L414.9 1737.4L420.9 1736.4L426.9 1738.5L432.9 1736.2L438.8 1736.6L444.8 1737.0L450.8 1736.0L456.8 1736.4L462.8 1736.7L468.7 1737.7L474.7 1739.3L480.7 1738.1L486.7 1738.2L492.7 1736.2L498.7 1737.4L504.6 1740.1L510.6 1738.7L516.6 1737.4L522.6 1737.1L528.6 1736.2L534.5 1738.6L540.5 1737.3L546.5 1738.5L552.5 1738.6L558.5 1739.9L564.5 1739.0L570.4 1739.2L576.4 1738.0L582.4 1740.0L588.4 1739.4L594.4 1738.0L600.3 1736.6L606.3 1737.7L612.3 1740.2L618.3 1739.6L624.3 1737.4L630.3 1737.8L636.2 1736.9L642.2 1739.1L648.2 1739.9L654.2 1737.1L660.2 1737.7L666.1 1737.4L672.1 1739.6L678.1 1741.0L684.1 1737.5L690.1 1738.3L696.1 1741.2L702.0 1738.8L708.0 1740.3L714.0 1739.6L720.0 1737.8L726.0 1740.6L732.0 1740.0L737.9 1739.5L743.9 1738.9L749.9 1741.3L755.9 1739.0L761.9 1740.2L767.8 1739.9L773.8 1739.7L779.8 1738.3L785.8 1740.7L791.8 1740.1L797.8 1741.6L803.7 1740.1L809.7 1741.7L815.7 1741.8L821.7 1738.9L827.7 1740.5L833.6 1739.2L839.6 1742.8L845.6 1742.5L851.6 1740.7L857.6 1740.4L863.6 1741.6L869.5 1739.8L875.5 1740.5L881.5 1742.1L887.5 1740.1L893.5 1741.9L899.4 1742.7L905.4 1740.2L911.4 1740.2L917.4 1742.3L923.4 1741.8L929.4 1743.2L935.3 1739.8L941.3 1743.5L947.3 1741.1L953.3 1742.8L959.3 1741.5L963.6 1745.0L968.0 1748.2L972.2 1754.9L976.6 1760.9L981.0 1765.5L985.5 1768.1L987.8 1772.5L990.0 1778.7L991.6 1785.5L994.0 1792.6L996.6 1799.2L998.1 1804.6L1000.8 1810.0L1002.8 1814.3L1005.9 1819.6L1009.3 1825.4L1012.5 1832.4L1015.6 1839.1L1018.9 1843.5L1020.6 1847.9L1022.8 1852.1L1024.0 1857.8L1026.5 1864.5L1027.8 1871.0L1030.2 1877.3L1032.0 1882.2L1033.5 1887.5L1035.8 1892.3L1037.5 1897.0L1039.2 1903.2L1040.0 1909.9L1041.5 1917.2L1043.4 1923.0L1045.1 1928.5L1046.8 1933.3L1048.5 1938.7L1050.1 1945.2L1050.9 1951.3L1053.2 1957.7L1054.0 1964.0L1055.9 1971.0L1062.2 1969.9L1068.4 1970.0L1074.9 1968.0L1077.4 1974.2L1080.1 1980.0L1082.7 1986.8L1086.1 1993.0L1087.6 1986.3L1089.9 1979.7L1092.3 1973.0L1094.3 1966.9L1096.6 1961.8L1098.4 1956.3L1100.5 1951.6L1103.8 1947.5L1106.2 1941.8L1109.4 1936.3L1111.8 1930.2L1117.3 1933.4L1123.0 1938.8L1126.9 1945.1L1130.5 1951.0L1134.3 1954.5L1138.0 1957.0L1141.5 1958.7L1144.9 1954.0L1147.8 1950.3L1150.9 1947.3L1154.1 1943.1L1157.3 1939.1L1160.2 1932.2L1163.9 1935.1L1167.7 1939.7L1171.5 1945.6L1175.4 1953.7L1179.3 1960.2L1181.5 1964.5L1184.2 1968.8L1186.5 1971.4L1188.7 1975.8L1191.1 1981.7L1194.2 1987.8L1196.1 1994.9L1198.7 2000.9L1200.3 2006.8L1202.8 2011.9L1205.4 2015.9L1206.7 2021.3L1208.9 2028.3L1211.1 2034.8L1212.7 2040.7L1214.5 2045.6L1216.3 2049.5L1217.4 2055.6L1218.1 2062.0L1218.6 2068.7L1219.1 2075.0L1220.6 2081.0L1220.9 2087.7L1222.1 2093.7L1222.4 2098.6L1223.8 2104.2L1223.8 2110.2L1225.0 2116.7L1226.1 2123.0L1226.5 2128.5L1227.3 2133.5L1227.4 2139.6L1228.5 2146.0L1229.5 2151.8L1229.4 2157.0L1230.1 2162.7L1231.4 2168.5L1231.4 2175.4L1232.3 2181.4L1233.4 2186.8L1234.1 2192.1L1233.9 2197.9L1234.1 2204.4L1234.6 2210.0L1235.0 2215.5L1235.7 2221.7L1236.1 2228.0L1236.3 2234.4L1236.4 2239.9L1237.3 2244.5L1238.0 2250.3L1237.6 2256.7L1238.6 2263.8L1238.7 2269.5L1239.5 2274.9L1239.7 2280.2L1239.9 2286.6L1240.8 2292.5L1240.4 2298.0L1241.0 2304.0L1241.8 2310.7L1241.4 2317.2L1241.5 2323.1L1242.1 2328.4L1242.7 2334.0L1242.6 2340.6L1243.0 2347.5L1243.8 2353.7L1243.2 2358.7L1243.5 2364.4L1244.4 2371.0L1244.6 2377.8L1244.4 2383.9L1245.0 2388.9L1245.9 2395.1L1246.0 2401.6L1246.6 2407.6L1246.7 2413.3L1247.0 2419.1L1247.0 2425.8L1247.4 2432.7L1247.7 2438.2L1247.4 2443.1L1247.7 2448.7L1248.6 2456.2L1249.2 2463.5L1250.5 2469.6L1250.8 2474.7L1252.0 2480.3L1251.8 2486.8L1252.6 2493.4L1253.7 2499.1L1254.7 2505.6L1254.5 2512.8L1255.5 2519.4L1255.7 2524.1L1257.2 2529.0L1257.4 2534.8L1257.8 2542.7L1258.2 2550.0L1258.8 2555.5L1258.9 2560.2L1259.2 2565.1L1259.4 2571.5L1259.7 2577.7L1260.9 2583.7L1261.3 2589.8L1261.5 2596.4L1261.4 2602.9L1262.1 2608.0L1262.6 2612.8L1263.0 2618.0L1263.2 2624.7L1263.3 2632.3L1264.0 2638.4L1264.7 2643.8L1264.4 2648.5L1265.2 2654.8L1265.2 2661.0L1266.2 2666.9L1265.9 2672.3L1266.5 2678.4L1267.5 2685.6L1267.3 2691.7L1268.3 2696.9L1268.5 2701.7L1268.7 2707.4L1269.1 2714.4L1269.3 2720.8L1270.1 2726.4L1270.0 2732.1L1270.7 2738.3L1271.5 2744.9L1271.2 2750.4L1271.5 2755.4L1271.9 2760.5L1272.6 2767.3L1273.4 2774.7L1273.5 2781.1L1274.0 2785.9L1274.8 2791.0L1275.1 2796.7L1274.8 2803.4L1276.1 2809.3L1275.8 2814.7L1276.5 2821.7L1277.6 2828.4L1278.0 2834.0L1278.4 2838.9L1278.5 2843.2L1279.1 2849.4L1279.5 2856.9L1279.9 2864.1L1280.6 2869.9L1281.1 2874.8L1282.0 2880.1L1282.2 2885.9L1282.9 2891.9L1283.5 2897.5L1283.5 2904.1L1284.3 2911.4L1285.0 2917.8L1285.0 2922.4L1285.4 2926.4L1286.9 2931.3L1287.9 2938.8L1288.6 2946.1L1288.9 2952.6L1289.9 2957.8L1290.3 2962.5L1291.2 2967.8L1292.1 2973.7L1293.2 2979.5L1293.7 2985.4L1294.5 2991.8L1295.1 2998.0L1301.2 3000.2L1307.1 2996.5L1313.2 2994.6L1319.2 2995.3L1320.3 2991.8L1321.9 2986.9L1323.2 2980.3L1324.8 2973.1L1326.0 2967.3L1327.6 2961.9L1329.3 2955.6L1330.7 2949.1L1331.8 2943.2L1333.6 2938.4L1334.3 2932.9L1334.5 2926.6L1335.5 2919.9L1336.1 2914.3L1337.4 2909.1L1338.4 2903.8L1339.1 2897.7L1340.2 2891.2L1341.4 2885.2L1341.6 2880.2L1342.9 2875.1L1343.9 2868.8L1344.4 2862.1L1345.7 2856.3L1346.4 2850.8L1346.8 2845.5L1347.5 2839.5L1348.8 2833.8L1349.5 2828.0L1350.1 2822.1L1351.3 2816.1L1351.9 2809.6L1352.7 2804.2L1354.4 2798.7L1355.1 2794.1L1355.9 2788.2L1356.2 2781.5L1357.4 2774.9L1358.8 2769.1L1359.5 2764.0L1360.3 2758.7L1360.9 2752.8L1362.3 2746.8L1363.3 2740.6L1364.5 2735.1L1365.7 2729.2L1365.9 2722.9L1367.3 2717.4L1368.7 2712.2L1369.3 2706.7L1370.2 2700.3L1371.1 2693.9L1372.7 2687.9L1373.6 2683.0L1374.3 2677.6L1375.2 2671.4L1376.8 2665.2L1377.3 2658.8L1378.8 2653.7L1379.8 2648.3L1380.5 2642.4L1381.8 2636.6L1382.7 2630.8L1384.1 2624.6L1384.6 2618.7L1386.1 2612.3L1386.8 2607.1L1388.0 2602.2L1388.3 2596.8L1390.3 2590.2L1391.3 2583.4L1392.0 2577.0L1393.1 2571.1L1395.0 2565.9L1395.7 2561.0L1397.2 2555.2L1398.7 2548.7L1399.5 2542.1L1400.4 2535.1L1401.6 2529.0L1403.5 2524.6L1405.2 2520.4L1407.7 2515.6L1409.1 2509.3L1411.1 2502.5L1412.7 2495.6L1415.1 2490.1L1416.0 2484.7L1417.2 2480.2L1417.7 2475.2L1419.2 2469.2L1419.4 2462.6L1421.0 2455.6L1421.5 2449.6L1422.5 2444.0L1423.5 2438.9L1427.4 2437.3L1431.0 2433.5L1435.1 2429.6L1435.2 2422.9L1436.2 2416.1L1437.3 2409.8L1437.5 2404.4L1438.2 2398.7L1439.4 2393.5L1440.2 2387.6L1440.0 2380.9L1441.1 2373.9L1441.7 2367.9L1443.1 2362.5L1443.0 2356.5L1444.5 2350.9L1445.2 2344.9L1446.3 2339.6L1446.9 2333.3L1448.2 2327.1L1449.7 2320.2L1450.6 2314.6L1451.4 2309.5L1454.5 2305.1L1457.6 2299.5L1460.9 2292.8L1464.3 2287.3L1466.8 2281.2L1470.2 2275.2L1471.8 2269.3L1473.9 2264.6L1475.8 2260.7L1477.9 2255.1L1479.5 2248.7L1481.4 2240.8L1487.9 2234.9L1494.4 2236.3L1498.9 2241.5L1503.0 2245.7L1507.4 2247.4L1511.1 2251.3L1514.9 2255.9L1518.8 2258.8L1522.5 2262.1L1524.9 2258.7L1527.3 2255.3L1529.6 2252.3L1532.3 2247.3L1534.5 2240.6L1537.5 2231.8L1541.8 2239.9L1546.8 2246.1L1549.5 2241.5L1552.5 2235.2L1556.0 2228.1L1559.6 2225.8L1563.7 2223.2L1564.6 2216.4L1566.8 2211.3L1567.8 2206.2L1569.5 2202.7L1570.6 2197.7L1572.2 2191.0L1573.8 2183.6L1575.7 2177.5L1576.6 2172.4L1578.4 2168.5L1582.0 2164.6L1585.9 2159.2L1589.4 2154.9L1593.3 2150.8L1597.0 2146.6L1601.1 2141.2L1602.3 2134.8L1603.5 2130.2L1605.0 2126.0L1606.1 2120.4L1607.4 2114.2L1608.7 2107.5L1610.6 2101.9L1612.0 2097.4L1614.1 2093.2L1616.5 2087.3L1619.2 2080.8L1621.7 2076.7L1624.3 2072.9L1626.8 2068.4L1628.4 2062.1L1630.0 2055.5L1632.0 2049.4L1633.3 2044.9L1635.3 2039.5L1636.8 2033.7L1639.2 2027.4L1640.6 2022.6L1642.0 2017.5L1644.3 2012.2L1645.7 2005.0L1647.7 1998.8L1649.0 1993.3L1650.1 1988.9L1651.8 1983.0L1652.6 1975.7L1654.6 1969.0L1655.6 1963.2L1657.4 1957.7L1658.4 1951.6L1659.8 1945.1L1661.3 1939.3L1662.7 1933.9L1665.0 1928.1L1667.6 1920.8L1669.7 1914.0L1671.9 1910.0L1674.0 1905.5L1676.4 1899.6L1677.7 1892.3L1679.9 1886.1L1681.8 1881.4L1683.3 1877.2L1685.3 1871.2L1687.2 1864.2L1689.4 1858.8L1692.2 1854.4L1695.1 1848.5L1698.8 1842.2L1701.4 1836.5L1704.8 1831.5L1707.8 1827.0L1711.1 1819.6L1714.0 1813.9L1717.5 1809.5L1720.8 1807.3L1724.0 1804.8L1727.4 1799.0L1730.0 1791.0L1733.3 1784.7L1736.3 1780.1L1739.5 1775.5L1742.4 1769.3L1745.8 1764.5L1751.5 1762.8L1757.3 1758.8L1763.1 1752.7L1769.3 1750.5L1775.3 1749.7L1781.4 1751.2L1787.5 1750.4L1793.7 1743.8L1799.6 1741.1L1805.7 1742.8L1811.7 1743.4L1817.7 1742.4L1823.8 1745.3L1829.8 1743.3L1835.8 1743.8L1841.9 1742.8L1847.9 1741.8L1853.9 1741.7L1859.9 1741.6L1866.0 1745.3L1872.0 1744.6L1878.0 1743.0L1884.1 1741.2L1890.1 1740.5L1896.1 1740.8L1902.1 1743.3L1908.2 1740.9L1914.2 1741.8L1920.2 1743.8L1926.3 1742.5L1932.3 1742.2L1938.3 1741.0L1944.3 1741.4L1950.4 1739.5L1956.4 1742.6L1962.4 1741.4L1968.5 1740.3L1974.5 1739.8L1980.5 1740.5L1986.5 1740.1L1992.6 1739.2L1998.6 1741.9L2004.6 1739.0L2010.7 1740.7L2016.7 1741.5L2022.7 1738.3L2028.7 1739.2L2034.8 1740.1L2040.8 1740.0L2046.8 1738.8L2052.9 1740.9L2058.9 1739.7L2064.9 1738.6L2070.9 1739.1L2077.0 1740.4L2083.0 1736.6L2089.0 1738.8L2095.1 1739.0L2101.1 1740.4L2107.1 1738.6L2113.1 1736.1L2119.2 1739.6L2125.2 1738.0L2131.2 1738.9L2137.3 1739.3L2143.3 1738.3L2149.3 1738.9L2155.3 1737.8L2161.4 1735.9L2167.4 1737.9L2173.4 1736.3L2179.5 1738.2L2185.5 1737.0L2191.5 1737.3L2197.5 1738.2L2203.6 1737.3L2209.6 1735.9L2215.6 1736.5" stroke="#ffff00" stroke-width="9"/>
<path d="M385.0 1737.6L391.0 1735.9L397.0 1736.7L403.0 1739.0L409.0 1738.4L415.0 1734.9L421.0 1736.8L427.0 1736.5L433.0 1738.3L439.0 1736.4L445.0 1736.2L451.0 1736.3L457.0 1735.9L463.0 1737.7L469.0 1735.7L475.0 1739.1L481.0 1739.3L487.0 1739.1L493.0 1739.0L499.0 1738.4L505.0 1738.0L511.0 1736.8L517.0 1736.4L522.9 1736.7L528.9 1738.2L534.9 1739.3L540.9 1736.1L546.9 1737.9L552.9 1736.4L558.9 1740.2L564.9 1736.6L570.9 1739.4L576.9 1737.6L582.9 1737.8L588.9 1737.3L594.9 1737.9L600.9 1740.3L606.9 1738.7L612.9 1740.3L618.9 1737.6L624.9 1738.8L630.9 1738.4L636.9 1736.8L642.9 1739.2L648.9 1737.3L654.9 1738.7L660.9 1741.3L666.9 1737.6L672.9 1740.7L678.9 1738.8L684.9 1738.9L690.9 1738.4L696.9 1738.7L702.9 1740.0L708.9 1738.9L714.9 1739.9L720.9 1740.7L726.9 1738.6L732.9 1739.5L738.9 1740.1L744.9 1739.5L750.9 1738.1L756.9 1740.7L762.9 1741.1L768.9 1739.6L774.9 1739.6L780.9 1742.3L786.8 1740.5L792.8 1739.8L798.8 1738.2L804.8 1741.7L810.8 1741.4L816.8 1742.5L822.8 1742.0L828.8 1741.2L834.8 1739.1L840.8 1738.9L846.8 1741.9L852.8 1741.4L858.8 1741.0L864.8 1742.4L870.8 1740.7L876.8 1739.6L882.8 1741.6L888.8 1741.3L894.8 1740.0L900.8 1743.2L906.8 1739.9L912.8 1740.3L918.8 1742.4L924.8 1739.6L930.8 1740.3L936.8 1742.4L942.8 1739.8L948.8 1740.2L954.8 1741.4L960.8 1740.2L966.8 1740.1L972.8 1740.8L978.8 1740.2L984.8 1743.2L990.8 1743.2L996.8 1742.5L1002.8 1740.5L1009.3 1743.1L1015.8 1745.7L1022.6 1749.7L1024.2 1756.3L1026.6 1761.9L1028.5 1767.0L1030.7 1771.5L1032.7 1777.0L1035.1 1783.5L1037.2 1789.9L1039.1 1796.6L1041.3 1802.1L1042.9 1807.0L1045.4 1812.2L1047.4 1817.6L1049.5 1824.2L1051.5 1830.9L1053.6 1837.2L1055.8 1842.8L1057.8 1847.5L1059.9 1852.6L1062.3 1858.4L1064.9 1865.0L1068.3 1870.7L1071.0 1876.1L1073.4 1881.5L1076.4 1886.9L1079.1 1892.9L1082.1 1899.3L1085.8 1903.1L1089.4 1907.5L1093.4 1911.3L1097.1 1916.6L1099.9 1912.6L1102.3 1908.6L1105.6 1904.4L1108.1 1899.7L1113.2 1894.8L1118.1 1892.3L1123.1 1889.5L1127.7 1888.6L1132.4 1887.1L1137.1 1885.0L1141.7 1881.1L1144.3 1885.4L1147.4 1889.3L1149.9 1895.0L1153.0 1901.7L1156.7 1898.3L1160.4 1892.4L1163.8 1886.7L1168.0 1880.5L1171.7 1875.4L1173.4 1880.6L1175.8 1886.5L1177.9 1892.2L1180.1 1897.0L1182.6 1902.8L1184.5 1908.2L1186.4 1914.2L1194.3 1917.3L1196.0 1921.6L1197.5 1927.4L1199.9 1932.9L1201.0 1939.4L1203.2 1946.2L1204.8 1952.3L1206.8 1956.9L1208.9 1960.5L1212.5 1963.3L1216.4 1967.1L1219.5 1972.5L1220.8 1980.7L1222.9 1987.1L1223.4 1992.4L1224.8 1996.8L1226.7 2001.9L1227.7 2009.0L1228.4 2016.5L1229.3 2023.0L1231.1 2028.8L1231.5 2033.3L1232.8 2037.7L1234.3 2042.6L1235.4 2048.9L1235.3 2056.2L1235.9 2062.5L1236.4 2068.3L1235.9 2073.5L1236.4 2078.9L1237.0 2084.1L1237.0 2090.5L1237.4 2096.7L1238.2 2103.1L1238.8 2108.7L1238.5 2114.1L1238.9 2119.6L1239.4 2125.8L1239.8 2132.1L1239.7 2137.6L1240.4 2143.2L1240.9 2148.9L1240.5 2154.5L1241.8 2160.9L1242.2 2167.3L1241.7 2173.3L1242.3 2179.2L1243.0 2183.9L1243.8 2189.5L1244.4 2195.4L1244.3 2202.3L1244.7 2208.9L1244.9 2215.1L1245.5 2220.1L1245.3 2225.1L1245.9 2230.6L1247.0 2236.6L1246.8 2243.1L1246.8 2250.0L1247.7 2255.9L1248.1 2261.3L1248.4 2267.1L1248.6 2272.4L1249.4 2278.0L1248.9 2284.4L1249.7 2290.7L1249.4 2296.6L1250.3 2302.5L1249.5 2308.4L1250.8 2314.5L1250.5 2319.8L1251.0 2325.6L1251.4 2331.2L1251.4 2337.6L1251.4 2343.9L1251.2 2350.2L1251.7 2356.3L1251.7 2362.0L1252.5 2366.7L1252.3 2372.3L1252.9 2378.5L1252.6 2385.0L1253.3 2391.8L1253.7 2398.0L1253.8 2403.5L1254.3 2408.1L1253.8 2413.4L1254.4 2419.7L1254.6 2426.4L1254.5 2433.3L1254.8 2439.6L1255.1 2444.7L1255.1 2449.9L1255.8 2455.5L1257.3 2461.4L1257.7 2468.2L1257.6 2475.4L1258.5 2482.0L1259.7 2487.5L1259.5 2493.3L1260.0 2499.4L1260.8 2505.3L1261.8 2511.6L1262.1 2518.2L1262.3 2524.7L1263.2 2531.1L1263.9 2536.8L1264.2 2542.6L1264.5 2548.2L1264.2 2553.6L1265.4 2559.9L1265.8 2566.1L1265.9 2572.6L1266.5 2578.9L1266.9 2584.1L1266.8 2589.4L1267.2 2595.2L1267.3 2601.0L1267.9 2607.4L1268.0 2613.8L1268.6 2620.3L1269.0 2625.6L1268.9 2631.2L1269.0 2636.9L1269.7 2642.8L1270.1 2649.0L1270.8 2655.3L1270.8 2661.1L1270.8 2667.0L1271.0 2672.7L1271.6 2678.8L1272.6 2685.3L1272.6 2691.0L1272.9 2696.4L1273.2 2701.9L1273.6 2707.9L1274.2 2714.5L1274.2 2721.2L1274.4 2727.2L1275.3 2732.6L1275.5 2737.6L1275.7 2742.8L1275.9 2749.1L1276.0 2756.0L1277.2 2763.3L1276.9 2768.9L1277.2 2774.0L1277.4 2779.0L1278.7 2784.2L1279.0 2790.7L1278.5 2798.0L1279.0 2804.5L1280.0 2810.4L1280.7 2815.6L1280.6 2820.4L1280.7 2825.9L1280.9 2832.4L1282.2 2839.2L1282.3 2845.7L1282.5 2851.7L1283.1 2857.0L1283.0 2862.2L1283.6 2867.8L1283.8 2874.4L1284.4 2880.6L1285.3 2886.8L1285.6 2892.4L1286.0 2898.1L1285.6 2904.3L1286.3 2910.2L1286.4 2916.1L1287.8 2921.9L1287.6 2927.5L1288.8 2933.0L1289.1 2939.6L1290.3 2945.8L1290.3 2951.7L1291.3 2957.4L1291.6 2962.3L1292.6 2967.3L1292.9 2973.6L1293.6 2979.9L1294.5 2986.7L1295.8 2993.1L1296.0 2998.9L1302.3 2995.9L1308.5 2995.3L1314.8 2995.7L1316.4 2991.6L1318.4 2985.7L1319.9 2979.1L1321.5 2971.8L1323.3 2964.6L1324.2 2959.2L1325.1 2953.9L1325.6 2948.4L1326.6 2942.4L1327.4 2936.1L1329.0 2930.0L1329.1 2924.0L1329.9 2918.6L1331.5 2913.3L1331.8 2907.6L1332.3 2900.9L1333.5 2894.6L1334.2 2888.8L1334.7 2883.5L1336.5 2878.5L1336.9 2872.8L1338.1 2866.1L1338.7 2859.7L1339.0 2853.1L1339.8 2847.7L1341.1 2843.2L1341.5 2837.6L1342.7 2831.6L1344.1 2825.2L1344.0 2818.5L1345.3 2812.5L1346.0 2806.9L1346.6 2801.9L1347.7 2796.8L1348.8 2790.5L1349.0 2784.0L1350.1 2777.5L1351.5 2771.4L1351.7 2766.0L1352.6 2760.8L1353.7 2755.3L1354.2 2749.6L1355.2 2742.9L1356.2 2736.7L1357.2 2731.0L1357.4 2725.0L1359.1 2719.5L1359.7 2714.1L1359.8 2708.3L1361.5 2702.4L1361.6 2696.5L1363.0 2690.1L1364.2 2684.1L1364.2 2678.0L1364.9 2672.8L1365.7 2667.1L1367.0 2661.2L1367.9 2655.4L1368.3 2649.0L1369.4 2642.7L1370.2 2636.3L1370.5 2630.7L1371.3 2625.3L1372.4 2619.4L1373.5 2613.2L1374.3 2606.9L1374.3 2600.6L1374.9 2595.0L1375.6 2589.2L1376.5 2583.7L1377.9 2577.6L1378.1 2570.8L1378.9 2564.3L1379.5 2558.7L1380.2 2553.1L1381.7 2547.5L1382.5 2541.6L1382.4 2534.7L1383.7 2528.4L1383.9 2522.4L1385.0 2517.1L1385.7 2511.4L1386.7 2505.7L1387.4 2499.2L1388.0 2492.5L1388.4 2486.3L1390.2 2480.7L1390.5 2475.5L1392.0 2470.4L1392.8 2464.4L1394.2 2458.0L1394.6 2451.9L1395.4 2445.7L1397.1 2440.3L1397.8 2435.2L1399.1 2429.7L1399.7 2423.3L1400.9 2417.3L1402.3 2411.1L1403.3 2405.6L1404.3 2400.0L1404.5 2394.4L1405.4 2388.4L1406.8 2382.0L1407.5 2376.5L1408.5 2370.9L1409.7 2365.1L1410.6 2359.6L1411.3 2353.2L1412.1 2346.9L1413.5 2340.8L1414.5 2335.8L1416.1 2331.0L1418.3 2326.1L1420.6 2320.0L1422.5 2313.9L1425.0 2307.6L1427.2 2302.8L1429.6 2298.5L1430.7 2293.3L1431.5 2287.7L1432.5 2281.4L1433.7 2274.9L1435.1 2268.7L1436.2 2263.1L1437.6 2258.6L1438.3 2253.2L1439.6 2247.2L1440.6 2240.7L1441.7 2234.2L1443.1 2228.5L1443.7 2223.9L1445.1 2218.3L1445.7 2212.2L1445.8 2205.5L1446.7 2198.9L1446.5 2192.6L1447.1 2187.3L1448.3 2181.9L1449.0 2176.3L1449.7 2169.6L1450.2 2162.7L1450.8 2155.8L1450.7 2150.2L1451.7 2145.4L1452.6 2140.0L1452.3 2134.1L1453.5 2126.4L1455.8 2120.1L1458.4 2114.7L1461.0 2111.2L1463.6 2118.2L1467.1 2124.2L1469.6 2128.7L1473.1 2132.4L1475.9 2137.2L1478.2 2130.8L1480.9 2127.2L1483.4 2122.8L1485.9 2118.9L1488.7 2111.9L1492.4 2116.3L1496.3 2120.2L1500.0 2125.7L1500.8 2120.3L1502.3 2114.6L1503.5 2108.3L1505.4 2102.1L1505.9 2095.7L1507.8 2089.7L1510.1 2095.0L1512.3 2100.7L1514.8 2105.8L1516.5 2111.4L1517.8 2105.7L1518.4 2099.2L1519.3 2092.9L1520.5 2084.7L1528.0 2083.1L1532.7 2079.0L1537.5 2074.6L1539.3 2070.5L1541.4 2065.4L1544.3 2059.3L1545.9 2053.0L1548.4 2046.5L1552.2 2044.5L1556.1 2040.9L1557.8 2035.9L1559.1 2030.3L1560.8 2023.8L1561.9 2017.3L1563.8 2011.0L1565.8 2005.4L1567.0 2000.3L1568.3 1994.4L1569.4 1988.8L1571.0 1982.5L1571.9 1977.0L1574.3 1971.3L1576.1 1965.9L1578.0 1960.6L1580.5 1954.6L1582.5 1949.5L1584.8 1943.5L1587.2 1939.3L1588.8 1933.9L1591.2 1928.2L1592.5 1921.9L1594.1 1915.7L1596.1 1909.8L1597.9 1904.6L1599.4 1899.4L1601.2 1894.6L1602.7 1888.5L1604.7 1882.4L1606.2 1875.9L1607.5 1870.0L1609.2 1864.1L1610.9 1859.7L1613.0 1855.0L1615.4 1849.4L1617.7 1843.7L1619.3 1837.3L1621.6 1831.7L1623.9 1826.3L1626.4 1820.6L1628.7 1815.6L1630.8 1810.9L1632.4 1805.6L1635.0 1800.1L1636.7 1794.6L1640.6 1788.4L1643.8 1782.0L1647.4 1777.6L1650.8 1772.9L1654.3 1769.4L1658.6 1765.2L1663.4 1759.8L1667.6 1753.2L1671.7 1747.2L1676.2 1744.2L1682.2 1748.3L1688.2 1747.0L1694.1 1746.2L1700.1 1746.6L1706.1 1746.2L1712.1 1744.5L1718.1 1744.0L1724.1 1747.5L1730.1 1748.0L1736.1 1745.6L1742.1 1744.8L1748.1 1743.3L1754.1 1743.2L1760.1 1745.8L1766.1 1746.7L1772.1 1745.3L1778.1 1746.7L1784.1 1744.7L1790.0 1744.0L1796.0 1742.5L1802.0 1743.8L1808.0 1744.3L1814.0 1742.7L1820.0 1742.4L1826.0 1744.9L1832.0 1743.6L1838.0 1741.8L1844.0 1744.9L1850.0 1744.5L1856.0 1741.3L1862.0 1741.2L1868.0 1741.9L1874.0 1744.0L1880.0 1743.7L1885.9 1743.3L1891.9 1744.0L1897.9 1741.1L1903.9 1742.1L1909.9 1742.7L1915.9 1743.9L1921.9 1742.0L1927.9 1742.7L1933.9 1743.2L1939.9 1741.3L1945.9 1739.4L1951.9 1742.3L1957.9 1740.8L1963.9 1743.1L1969.9 1741.8L1975.9 1741.3L1981.9 1741.0L1987.9 1739.4L1993.8 1739.5L1999.8 1739.4L2005.8 1739.6L2011.8 1740.8L2017.8 1741.5L2023.8 1740.3L2029.8 1741.2L2035.8 1739.9L2041.8 1740.2L2047.8 1740.7L2053.8 1738.5L2059.8 1739.7L2065.8 1740.4L2071.8 1740.4L2077.8 1739.1L2083.8 1736.5L2089.8 1738.7L2095.7 1739.4L2101.7 1741.3L2107.7 1738.9L2113.7 1739.4L2119.7 1738.5L2125.7 1738.5L2131.7 1736.5L2137.7 1738.2L2143.7 1739.9L2149.7 1740.4L2155.7 1737.4L2161.7 1738.1L2167.7 1736.7L2173.7 1738.2L2179.7 1738.6L2185.7 1737.7L2191.6 1737.0L2197.6 1738.2L2203.6 1735.5L2209.6 1734.9L2215.6 1736.4" stroke="#00ff00" stroke-width="9"/>
<path d="M385.0 1736.2L391.0 1735.9L397.0 1736.4L403.0 1737.9L408.9 1735.7L414.9 1734.8L420.9 1736.4L426.9 1736.3L432.9 1736.8L438.9 1735.9L444.9 1735.4L450.9 1735.1L456.8 1736.8L462.8 1737.3L468.8 1735.0L474.8 1736.4L480.8 1737.9L486.8 1736.9L492.8 1736.8L498.7 1737.2L504.7 1736.5L510.7 1737.7L516.7 1736.6L522.7 1736.5L528.7 1737.1L534.7 1737.1L540.7 1735.4L546.6 1735.4L552.6 1738.9L558.6 1737.4L564.6 1739.0L570.6 1734.7L576.6 1737.9L582.6 1736.1L588.6 1737.5L594.5 1736.1L600.5 1735.8L606.5 1735.9L612.5 1737.0L618.5 1737.8L624.5 1735.4L630.5 1737.0L636.4 1737.1L642.4 1737.2L648.4 1737.2L654.4 1736.7L660.4 1736.9L666.4 1736.5L672.4 1737.7L678.4 1736.7L684.3 1737.9L690.3 1738.6L696.3 1736.1L702.3 1737.0L708.3 1738.0L714.3 1737.1L720.3 1737.2L726.3 1737.2L732.2 1738.1L738.2 1739.6L744.2 1739.1L750.2 1737.7L756.2 1735.8L762.2 1735.4L768.2 1736.3L774.1 1736.9L780.1 1736.0L786.1 1736.5L792.1 1736.9L798.1 1737.2L804.1 1736.8L810.1 1735.9L816.1 1738.7L822.0 1738.5L828.0 1737.5L834.0 1737.2L840.0 1737.2L846.0 1738.2L852.0 1737.4L858.0 1736.6L864.0 1736.3L869.9 1738.2L875.9 1737.8L881.9 1736.9L887.9 1739.4L893.9 1737.8L899.9 1736.0L905.9 1737.2L911.8 1736.6L917.8 1738.7L923.8 1739.2L929.8 1736.9L935.8 1738.6L941.8 1739.3L947.8 1735.7L953.8 1737.1L959.7 1738.7L965.7 1736.5L971.7 1738.1L977.7 1736.8L983.7 1735.5L989.7 1736.6L995.7 1736.0L1001.7 1736.5L1007.6 1736.3L1013.6 1737.6L1019.6 1739.3L1025.6 1737.3L1031.6 1736.4L1037.5 1733.2L1041.3 1737.3L1044.7 1740.0L1048.5 1746.2L1052.2 1748.0L1056.2 1749.5L1060.0 1755.7L1061.7 1763.9L1064.4 1767.8L1066.7 1772.2L1069.1 1780.2L1071.4 1786.3L1073.9 1789.5L1075.7 1793.1L1078.0 1800.8L1081.2 1808.8L1084.5 1812.9L1087.8 1817.8L1090.6 1823.7L1093.7 1829.8L1097.0 1834.6L1104.4 1833.2L1111.8 1834.1L1115.8 1839.6L1119.4 1845.8L1123.2 1847.8L1126.8 1851.5L1130.8 1858.1L1133.3 1852.8L1133.9 1848.4L1135.6 1843.8L1138.1 1835.4L1141.0 1840.1L1143.4 1844.4L1149.2 1850.3L1151.8 1845.4L1154.1 1840.9L1159.1 1834.3L1164.1 1834.3L1171.5 1831.0L1174.7 1834.5L1177.5 1843.1L1180.1 1850.9L1182.9 1853.5L1188.3 1846.1L1194.0 1847.4L1194.4 1852.1L1195.0 1856.6L1196.7 1862.3L1197.7 1866.8L1199.4 1872.1L1200.0 1878.1L1201.5 1883.2L1203.4 1888.1L1206.1 1892.9L1207.7 1898.6L1210.6 1904.9L1212.6 1912.2L1218.3 1908.7L1224.1 1903.7L1224.9 1910.8L1225.8 1918.6L1226.9 1924.9L1227.7 1929.2L1228.6 1935.1L1228.9 1943.2L1230.3 1949.3L1230.7 1953.6L1231.6 1958.9L1233.1 1967.0L1233.3 1973.2L1234.5 1977.4L1234.5 1983.1L1235.2 1991.1L1236.0 1997.8L1236.7 2001.6L1237.7 2006.4L1238.2 2013.9L1239.2 2021.3L1239.7 2026.6L1240.8 2031.8L1241.2 2038.3L1241.9 2044.6L1242.5 2049.7L1242.7 2055.3L1242.5 2061.8L1243.0 2068.4L1243.0 2074.6L1244.1 2079.9L1244.2 2085.0L1243.9 2090.7L1244.6 2097.5L1245.0 2104.0L1244.9 2109.3L1245.4 2114.7L1245.2 2121.5L1245.5 2127.9L1245.7 2132.8L1246.3 2137.7L1246.7 2145.0L1246.8 2152.5L1246.6 2157.1L1247.3 2161.4L1247.8 2168.6L1247.2 2176.0L1247.7 2180.9L1248.2 2185.5L1248.7 2191.9L1248.8 2198.9L1249.4 2205.1L1249.2 2210.1L1249.7 2216.1L1250.2 2222.9L1249.7 2228.5L1250.9 2233.4L1251.1 2239.6L1250.6 2246.4L1251.7 2253.2L1251.7 2258.6L1252.5 2263.9L1252.7 2268.8L1252.5 2275.5L1252.5 2282.3L1252.9 2288.4L1253.6 2293.6L1254.1 2300.1L1254.7 2306.4L1254.8 2311.4L1255.1 2316.0L1254.6 2323.0L1255.2 2330.9L1255.2 2337.0L1255.5 2340.8L1255.9 2346.5L1256.0 2353.9L1257.2 2360.4L1257.4 2364.8L1257.2 2371.1L1257.3 2378.5L1257.5 2384.5L1257.9 2389.0L1258.6 2395.0L1258.4 2402.4L1259.0 2408.4L1259.2 2413.9L1259.8 2419.2L1260.1 2426.1L1259.9 2432.6L1261.0 2438.6L1260.5 2444.2L1261.1 2449.8L1261.7 2455.7L1262.0 2462.7L1263.0 2469.1L1263.3 2474.5L1263.2 2481.5L1263.9 2487.8L1264.9 2493.3L1264.7 2498.0L1266.2 2505.2L1266.5 2513.5L1266.8 2519.1L1267.4 2523.5L1267.3 2529.7L1268.3 2536.8L1268.5 2542.3L1268.8 2547.2L1268.5 2554.2L1269.7 2561.8L1269.0 2567.1L1270.2 2571.2L1270.0 2576.7L1270.8 2584.0L1271.0 2590.6L1270.6 2595.6L1271.4 2601.5L1271.9 2608.1L1272.2 2613.9L1272.6 2619.0L1272.4 2625.0L1272.6 2631.4L1273.0 2637.6L1273.7 2643.7L1273.5 2649.4L1273.9 2655.0L1274.7 2661.0L1274.1 2667.6L1275.4 2673.4L1275.6 2677.8L1275.4 2683.7L1276.2 2691.1L1276.8 2698.0L1276.6 2702.4L1276.8 2707.5L1277.5 2714.4L1277.1 2721.0L1278.2 2725.7L1278.3 2731.4L1278.2 2739.0L1278.5 2745.7L1279.6 2749.8L1279.2 2754.4L1279.5 2761.0L1280.1 2768.4L1280.1 2774.2L1281.5 2779.7L1281.1 2786.1L1281.4 2792.1L1282.5 2797.3L1282.2 2802.7L1282.9 2809.1L1282.9 2815.8L1283.3 2821.8L1283.8 2827.7L1284.1 2832.9L1284.2 2838.1L1285.4 2844.5L1285.2 2851.1L1286.0 2857.1L1286.5 2862.1L1286.1 2868.5L1286.4 2875.4L1286.6 2880.6L1287.4 2885.6L1287.3 2892.0L1288.5 2899.2L1288.7 2904.3L1289.2 2908.9L1288.8 2915.7L1289.9 2923.2L1289.7 2929.1L1290.2 2932.8L1290.9 2938.4L1292.1 2945.1L1292.4 2951.5L1292.7 2956.5L1293.7 2962.3L1294.4 2969.3L1294.3 2974.8L1294.7 2979.2L1295.3 2984.5L1296.2 2991.2L1296.9 2998.3L1301.5 2998.7L1306.4 2998.6L1307.2 2991.9L1308.3 2985.1L1310.3 2979.0L1311.7 2973.9L1313.2 2968.8L1314.4 2962.4L1315.9 2957.1L1316.5 2951.9L1318.2 2945.3L1319.8 2938.3L1321.0 2932.6L1321.8 2928.9L1323.3 2923.2L1324.4 2915.7L1325.1 2909.1L1326.3 2904.8L1327.1 2899.4L1328.4 2891.9L1329.2 2885.3L1330.1 2880.8L1331.4 2875.2L1332.5 2868.4L1333.1 2862.5L1334.1 2857.4L1335.3 2851.6L1336.6 2844.5L1337.3 2838.2L1338.8 2832.9L1339.0 2827.4L1340.0 2821.7L1341.4 2815.9L1342.2 2809.5L1342.9 2802.6L1344.0 2796.7L1345.8 2791.8L1345.7 2785.6L1345.9 2779.6L1347.3 2774.3L1348.1 2767.7L1348.3 2760.4L1349.0 2753.8L1349.1 2749.4L1349.6 2744.6L1351.2 2737.2L1350.9 2730.5L1352.2 2725.3L1353.0 2719.1L1352.8 2712.3L1353.3 2706.0L1354.1 2701.6L1355.1 2696.1L1356.0 2688.3L1356.2 2681.9L1356.2 2676.9L1356.9 2671.1L1358.3 2664.6L1358.6 2658.3L1359.0 2652.9L1360.2 2647.0L1360.2 2640.3L1361.4 2634.3L1361.8 2628.4L1362.3 2622.2L1363.2 2615.9L1363.8 2610.1L1363.7 2604.5L1364.6 2598.2L1365.0 2592.8L1365.6 2586.2L1366.6 2579.1L1366.9 2572.9L1367.4 2568.5L1367.9 2563.3L1368.4 2556.1L1369.6 2549.8L1370.0 2544.5L1370.9 2538.1L1371.7 2530.8L1371.8 2525.2L1372.2 2521.2L1373.3 2515.2L1374.1 2507.9L1374.0 2500.9L1374.3 2495.9L1375.7 2490.0L1375.7 2483.8L1376.5 2477.8L1377.7 2472.8L1377.5 2466.5L1378.1 2459.3L1379.4 2453.6L1379.6 2448.2L1380.4 2442.0L1381.2 2436.2L1381.6 2430.4L1382.0 2424.1L1382.5 2417.6L1383.1 2412.2L1384.2 2406.5L1384.4 2399.9L1384.8 2393.2L1386.0 2388.2L1386.8 2383.0L1387.4 2376.4L1388.6 2370.0L1388.8 2364.6L1390.0 2359.0L1390.6 2351.8L1391.8 2345.8L1392.6 2341.2L1392.7 2336.0L1393.7 2328.8L1394.4 2321.8L1396.0 2316.6L1396.9 2311.2L1396.7 2304.7L1398.2 2299.3L1399.0 2294.3L1399.5 2288.6L1400.5 2280.9L1401.4 2274.6L1401.8 2269.6L1402.8 2264.2L1403.7 2258.4L1404.7 2252.5L1405.0 2247.0L1405.5 2239.9L1406.2 2233.6L1406.9 2228.4L1408.2 2223.3L1408.8 2216.8L1410.2 2211.0L1410.2 2205.6L1411.6 2199.6L1412.3 2193.4L1414.0 2187.8L1414.9 2183.3L1416.2 2177.6L1417.2 2171.0L1418.6 2165.2L1419.7 2161.1L1420.2 2155.9L1421.7 2149.6L1425.4 2143.7L1428.9 2141.5L1429.6 2136.6L1431.0 2130.4L1431.8 2124.1L1433.2 2119.8L1433.5 2115.2L1435.2 2108.7L1435.8 2101.6L1436.9 2096.4L1438.5 2091.6L1440.6 2086.3L1443.1 2080.3L1445.5 2075.6L1447.6 2069.4L1449.3 2062.4L1450.0 2056.5L1450.4 2051.7L1451.3 2046.6L1451.4 2040.5L1451.7 2035.0L1452.3 2029.2L1452.8 2022.6L1453.4 2015.6L1453.4 2010.5L1458.2 2007.5L1462.8 1999.7L1468.2 2004.5L1473.5 2011.1L1476.3 2003.4L1478.8 1996.8L1480.8 1992.5L1483.7 1987.8L1486.8 1981.9L1489.4 1976.2L1492.2 1973.2L1497.5 1971.3L1502.7 1964.9L1507.9 1960.9L1513.1 1958.0L1518.5 1954.4L1520.6 1948.7L1522.6 1944.2L1525.1 1940.0L1527.5 1933.6L1529.3 1927.0L1532.1 1922.1L1534.7 1918.1L1536.8 1914.1L1539.5 1908.6L1541.9 1903.6L1544.5 1899.3L1546.1 1891.4L1548.3 1884.2L1550.2 1879.2L1551.7 1874.4L1553.5 1867.7L1555.6 1861.0L1557.4 1855.5L1559.4 1849.3L1561.5 1843.2L1563.4 1838.1L1564.6 1834.4L1566.9 1828.1L1568.9 1821.1L1570.7 1815.8L1572.5 1810.2L1573.9 1803.3L1576.1 1796.7L1577.6 1791.9L1579.8 1786.0L1581.9 1778.1L1584.8 1773.5L1588.0 1770.3L1591.1 1765.1L1594.7 1759.0L1597.9 1754.4L1603.3 1752.2L1608.6 1749.5L1614.2 1745.6L1619.6 1744.5L1625.6 1742.8L1631.6 1741.3L1637.7 1741.5L1643.7 1741.0L1649.7 1740.5L1655.7 1742.6L1661.8 1740.1L1667.8 1740.4L1673.8 1742.7L1679.8 1742.1L1685.8 1739.7L1691.9 1741.7L1697.9 1741.0L1703.9 1742.8L1709.9 1739.1L1715.9 1740.6L1722.0 1741.0L1728.0 1741.6L1734.0 1741.4L1740.0 1742.0L1746.0 1739.5L1752.1 1738.8L1758.1 1741.2L1764.1 1739.1L1770.1 1738.7L1776.1 1740.2L1782.2 1739.7L1788.2 1738.7L1794.2 1741.5L1800.2 1741.5L1806.2 1741.8L1812.3 1741.2L1818.3 1738.1L1824.3 1741.8L1830.3 1740.0L1836.3 1739.7L1842.4 1738.4L1848.4 1738.1L1854.4 1738.4L1860.4 1739.6L1866.4 1737.9L1872.5 1738.7L1878.5 1739.4L1884.5 1739.9L1890.5 1741.0L1896.5 1738.5L1902.6 1739.1L1908.6 1739.3L1914.6 1739.0L1920.6 1739.7L1926.6 1737.8L1932.7 1736.7L1938.7 1740.2L1944.7 1739.7L1950.7 1738.7L1956.8 1739.2L1962.8 1741.5L1968.8 1738.3L1974.8 1737.8L1980.8 1737.4L1986.8 1740.3L1992.9 1738.3L1998.9 1737.3L2004.9 1739.1L2010.9 1736.9L2017.0 1737.8L2023.0 1736.7L2029.0 1738.9L2035.0 1738.9L2041.0 1739.3L2047.1 1739.8L2053.1 1736.8L2059.1 1740.0L2065.1 1738.7L2071.1 1739.8L2077.2 1739.1L2083.2 1736.0L2089.2 1735.7L2095.2 1738.6L2101.2 1736.7L2107.3 1737.7L2113.3 1736.8L2119.3 1737.0L2125.3 1737.1L2131.3 1738.1L2137.4 1736.3L2143.4 1737.4L2149.4 1738.1L2155.4 1736.2L2161.4 1737.0L2167.5 1738.8L2173.5 1737.7L2179.5 1737.0L2185.5 1738.6L2191.5 1738.5L2197.6 1737.7L2203.6 1735.1L2209.6 1736.1L2215.6 1736.9" stroke="#800080" stroke-width="9"/>
<path d="M385.0 1738.5L391.0 1735.1L397.0 1738.4L403.0 1736.1L408.9 1737.1L414.9 1736.2L420.9 1735.5L426.9 1737.4L432.9 1736.8L438.9 1737.9L444.9 1737.2L450.9 1738.4L456.8 1738.1L462.8 1735.3L468.8 1735.2L474.8 1737.4L480.8 1735.8L486.8 1736.9L492.8 1736.9L498.8 1738.1L504.7 1738.8L510.7 1736.4L516.7 1737.9L522.7 1735.9L528.7 1736.5L534.7 1737.9L540.7 1735.4L546.6 1735.7L552.6 1738.2L558.6 1736.3L564.6 1736.9L570.6 1735.7L576.6 1735.8L582.6 1736.3L588.6 1736.9L594.5 1736.9L600.5 1737.5L606.5 1737.2L612.5 1735.5L618.5 1738.4L624.5 1736.7L630.5 1737.6L636.4 1736.0L642.4 1735.5L648.4 1735.9L654.4 1736.6L660.4 1738.5L666.4 1737.4L672.4 1737.8L678.4 1737.0L684.3 1736.3L690.3 1737.3L696.3 1735.5L702.3 1737.2L708.3 1735.3L714.3 1738.4L720.3 1737.0L726.3 1736.7L732.2 1735.3L738.2 1737.8L744.2 1736.7L750.2 1736.5L756.2 1738.5L762.2 1737.5L768.2 1738.9L774.1 1736.5L780.1 1735.8L786.1 1737.4L792.1 1737.6L798.1 1737.2L804.1 1737.6L810.1 1735.2L816.1 1738.1L822.0 1738.6L828.0 1736.0L834.0 1734.8L840.0 1737.0L846.0 1735.4L852.0 1736.8L858.0 1737.4L864.0 1737.1L869.9 1737.0L875.9 1735.2L881.9 1735.6L887.9 1738.5L893.9 1737.5L899.9 1737.2L905.9 1736.6L911.8 1736.0L917.8 1737.6L923.8 1737.3L929.8 1737.2L935.8 1735.2L941.8 1736.2L947.8 1737.5L953.8 1735.8L959.7 1737.1L965.7 1735.3L971.7 1735.9L977.7 1737.6L983.7 1736.6L989.7 1734.8L995.7 1737.4L1001.6 1736.5L1007.6 1735.3L1013.6 1736.9L1019.6 1735.5L1025.6 1738.6L1031.6 1735.5L1037.6 1737.0L1043.7 1738.6L1049.9 1736.6L1056.0 1734.8L1062.3 1739.0L1068.4 1742.4L1074.5 1740.8L1078.3 1744.9L1082.1 1748.2L1085.8 1753.0L1089.4 1758.6L1093.2 1762.7L1097.1 1767.9L1100.4 1773.5L1104.4 1779.3L1108.2 1783.1L1111.9 1786.6L1115.7 1791.3L1119.4 1795.3L1123.1 1801.0L1128.1 1804.0L1133.0 1807.3L1138.1 1806.1L1142.0 1809.0L1145.7 1816.6L1147.4 1811.0L1149.3 1804.0L1151.1 1798.5L1152.8 1795.5L1156.6 1799.4L1160.4 1800.7L1164.1 1803.1L1168.8 1801.7L1173.6 1798.2L1178.1 1793.2L1182.7 1792.1L1184.3 1800.3L1185.6 1804.5L1187.2 1807.9L1188.2 1814.6L1189.8 1821.7L1191.5 1826.5L1192.6 1831.5L1194.2 1839.1L1196.1 1845.6L1197.8 1849.5L1200.5 1853.9L1202.3 1860.4L1204.3 1865.4L1206.8 1868.9L1208.7 1876.5L1211.9 1872.9L1214.5 1865.1L1217.4 1857.4L1219.8 1853.7L1221.1 1860.1L1223.1 1864.7L1224.0 1870.0L1225.2 1876.2L1226.8 1882.0L1228.5 1887.3L1230.0 1892.5L1231.6 1898.4L1231.7 1903.7L1233.3 1909.5L1233.5 1915.5L1234.2 1922.0L1235.3 1927.2L1236.8 1932.5L1237.4 1937.9L1237.9 1944.4L1238.9 1950.5L1240.2 1955.9L1240.8 1960.7L1241.3 1966.8L1242.4 1973.3L1243.2 1979.0L1243.8 1984.3L1244.6 1990.5L1244.4 1997.0L1244.8 2002.7L1246.0 2008.4L1246.0 2015.0L1246.7 2020.7L1247.7 2025.8L1248.5 2032.0L1248.4 2039.2L1249.2 2044.6L1249.3 2048.9L1250.0 2055.5L1250.4 2062.8L1251.0 2068.1L1250.1 2073.6L1251.2 2080.1L1251.5 2086.3L1250.7 2091.3L1251.3 2097.5L1251.1 2104.7L1252.2 2110.1L1251.8 2115.0L1252.7 2122.0L1252.8 2129.0L1252.2 2133.7L1253.2 2138.5L1253.3 2146.0L1252.9 2152.8L1253.3 2157.8L1253.6 2164.0L1253.7 2170.3L1253.6 2175.8L1253.9 2181.1L1254.8 2187.9L1254.7 2194.1L1254.5 2199.6L1255.1 2205.5L1255.8 2212.3L1255.3 2218.5L1255.6 2223.1L1256.2 2228.8L1256.4 2235.5L1256.7 2242.3L1257.0 2247.9L1257.2 2253.7L1256.7 2259.5L1257.7 2265.1L1258.0 2270.9L1258.3 2277.2L1257.6 2283.2L1258.1 2289.5L1258.2 2295.6L1258.7 2301.7L1259.3 2307.7L1259.4 2313.0L1260.0 2318.2L1260.2 2324.5L1260.6 2331.7L1260.6 2337.8L1260.4 2342.7L1260.6 2348.4L1261.4 2354.9L1261.5 2360.7L1261.5 2365.9L1261.3 2372.9L1261.5 2379.6L1262.3 2384.7L1262.4 2390.6L1262.4 2397.0L1262.9 2402.6L1263.6 2406.9L1263.8 2413.5L1264.1 2421.5L1263.5 2427.5L1264.3 2431.7L1264.9 2437.8L1264.9 2444.6L1264.7 2449.5L1265.8 2455.5L1266.4 2462.9L1266.4 2469.4L1266.7 2474.4L1267.1 2481.5L1267.9 2487.8L1268.9 2492.4L1269.8 2498.3L1269.6 2506.1L1270.3 2513.2L1270.8 2518.2L1271.5 2524.0L1271.9 2530.3L1271.9 2536.2L1272.3 2541.7L1272.8 2548.4L1273.3 2555.1L1273.7 2560.3L1274.1 2566.0L1274.7 2572.5L1274.3 2577.9L1274.7 2582.9L1275.2 2589.3L1275.0 2596.3L1275.3 2602.6L1276.0 2608.0L1275.8 2613.4L1276.4 2619.1L1276.8 2625.2L1277.5 2631.4L1277.8 2637.2L1277.8 2643.5L1277.9 2649.9L1277.8 2655.1L1278.9 2660.7L1279.1 2666.6L1278.7 2672.4L1279.3 2678.2L1280.3 2684.8L1280.1 2691.9L1280.5 2697.3L1280.1 2701.6L1281.3 2707.8L1281.0 2714.8L1281.6 2720.8L1282.2 2725.7L1281.9 2732.6L1282.4 2739.1L1283.2 2743.9L1283.2 2749.7L1282.8 2756.1L1283.9 2761.9L1284.3 2767.0L1283.7 2773.7L1284.0 2781.2L1285.4 2786.3L1284.9 2790.5L1285.4 2796.8L1286.0 2804.2L1285.6 2809.5L1285.9 2814.9L1287.1 2821.4L1287.2 2827.7L1287.2 2832.7L1287.1 2838.9L1288.1 2845.5L1287.9 2850.6L1288.3 2855.8L1289.2 2862.8L1288.9 2869.9L1289.2 2874.8L1290.0 2879.8L1289.6 2886.2L1290.6 2892.6L1290.5 2898.5L1291.0 2904.2L1291.3 2910.0L1291.5 2916.0L1291.4 2921.7L1291.9 2928.0L1293.0 2933.9L1293.5 2939.2L1293.0 2944.7L1293.4 2950.6L1294.1 2957.0L1295.2 2963.0L1295.6 2968.2L1295.3 2973.4L1296.4 2980.0L1296.7 2986.2L1296.7 2991.6L1297.3 2996.5L1303.8 2996.8L1304.7 2991.8L1305.0 2984.9L1306.1 2978.7L1307.3 2973.2L1307.6 2966.4L1309.0 2959.9L1309.3 2954.5L1310.3 2949.2L1311.2 2942.1L1311.8 2935.7L1312.7 2931.2L1313.4 2925.4L1314.6 2917.5L1315.1 2911.3L1315.9 2906.8L1317.6 2900.8L1318.1 2893.9L1318.8 2888.6L1319.9 2882.4L1320.8 2875.1L1321.4 2869.1L1321.6 2864.9L1323.3 2858.2L1323.9 2851.1L1324.9 2845.7L1325.7 2841.1L1325.8 2833.5L1327.4 2826.3L1327.5 2821.6L1328.4 2816.1L1329.8 2809.7L1330.9 2803.9L1331.3 2798.4L1332.1 2791.2L1332.4 2784.2L1333.3 2779.4L1334.4 2774.1L1334.3 2767.5L1335.3 2761.4L1335.6 2755.8L1336.6 2749.8L1337.4 2742.9L1337.8 2736.3L1337.9 2731.1L1339.1 2725.8L1339.5 2719.6L1340.5 2713.5L1340.6 2706.8L1341.0 2700.2L1341.6 2694.4L1342.6 2688.6L1342.8 2683.4L1344.1 2677.1L1343.8 2670.7L1344.9 2664.6L1345.7 2659.0L1346.5 2651.9L1347.0 2645.2L1347.0 2640.3L1347.4 2635.5L1348.5 2629.0L1348.8 2622.1L1349.4 2616.1L1350.6 2610.0L1350.7 2603.5L1352.0 2598.0L1352.0 2593.5L1352.6 2586.4L1353.2 2579.6L1353.7 2574.1L1355.0 2568.5L1354.8 2561.2L1355.3 2554.7L1356.9 2550.9L1357.0 2545.5L1357.8 2538.2L1358.4 2531.8L1358.8 2526.0L1359.2 2519.0L1360.1 2513.3L1361.0 2509.0L1361.4 2503.4L1361.3 2495.6L1362.7 2489.5L1362.6 2484.6L1363.2 2478.1L1364.3 2471.0L1365.0 2465.4L1364.8 2461.3L1365.6 2454.6L1366.9 2448.0L1367.1 2441.6L1368.2 2435.6L1368.8 2429.3L1368.7 2424.2L1369.8 2418.9L1370.4 2412.7L1370.5 2405.6L1371.4 2399.9L1373.0 2394.2L1374.2 2388.3L1374.9 2382.1L1376.2 2376.4L1377.4 2371.2L1378.9 2366.0L1379.7 2359.4L1380.5 2352.2L1382.0 2346.7L1383.1 2341.5L1384.4 2335.9L1385.2 2329.6L1386.2 2324.1L1386.8 2317.5L1387.8 2311.0L1388.3 2305.5L1388.3 2299.9L1389.8 2293.1L1390.7 2286.6L1391.1 2282.4L1391.4 2276.7L1391.9 2269.0L1392.9 2262.7L1393.6 2257.7L1394.7 2251.6L1395.3 2245.2L1395.7 2239.6L1397.0 2234.3L1397.4 2226.5L1397.9 2220.8L1398.9 2216.0L1399.1 2210.0L1400.8 2202.1L1400.6 2197.0L1401.2 2192.6L1402.4 2185.9L1402.8 2178.4L1403.6 2172.8L1404.8 2167.9L1404.9 2161.0L1405.6 2155.0L1406.9 2149.7L1407.9 2143.1L1407.8 2136.2L1409.2 2131.2L1409.4 2126.0L1410.2 2119.4L1411.0 2112.2L1411.2 2107.4L1412.1 2102.3L1413.3 2095.5L1413.3 2089.3L1414.3 2083.4L1414.6 2077.9L1415.3 2071.7L1416.0 2065.8L1417.1 2059.5L1417.2 2053.3L1418.4 2047.6L1419.3 2042.1L1419.4 2036.6L1419.9 2029.8L1421.0 2023.3L1421.2 2017.2L1422.1 2012.3L1422.5 2006.7L1424.0 1999.7L1424.5 1994.1L1425.8 1989.6L1426.4 1984.0L1427.8 1978.1L1428.7 1972.0L1431.1 1967.4L1433.4 1962.7L1435.4 1957.3L1437.9 1952.1L1439.9 1947.7L1442.6 1942.3L1445.8 1935.0L1448.5 1931.6L1451.5 1929.4L1453.1 1924.1L1454.6 1916.1L1456.9 1911.2L1458.7 1908.1L1464.3 1910.2L1470.0 1910.2L1472.1 1907.2L1474.5 1902.4L1476.8 1895.4L1479.2 1889.9L1480.8 1884.9L1484.3 1876.6L1487.3 1870.5L1490.5 1868.3L1493.6 1865.6L1496.6 1858.4L1499.5 1852.9L1502.2 1848.9L1505.0 1842.9L1508.2 1835.1L1510.9 1830.6L1514.0 1826.0L1516.3 1820.5L1519.1 1814.7L1522.3 1810.1L1524.2 1802.8L1527.2 1795.6L1529.3 1790.6L1532.0 1787.1L1534.2 1780.7L1536.9 1774.0L1539.4 1768.0L1541.8 1761.9L1544.3 1755.5L1548.1 1751.5L1551.9 1748.0L1555.7 1745.8L1559.4 1744.1L1563.1 1746.4L1569.0 1744.9L1575.0 1742.6L1581.0 1745.3L1587.0 1744.6L1593.0 1743.4L1599.0 1745.7L1605.0 1744.3L1610.9 1742.7L1616.9 1741.5L1622.9 1742.4L1628.9 1741.5L1634.9 1741.8L1640.9 1741.3L1646.9 1742.8L1652.9 1743.0L1658.8 1743.2L1664.8 1743.9L1670.8 1743.8L1676.8 1741.3L1682.8 1742.2L1688.8 1744.3L1694.8 1743.3L1700.8 1743.1L1706.7 1742.4L1712.7 1742.6L1718.7 1741.0L1724.7 1742.4L1730.7 1740.9L1736.7 1743.0L1742.7 1743.4L1748.6 1740.9L1754.6 1741.6L1760.6 1742.0L1766.6 1740.7L1772.6 1741.7L1778.6 1742.4L1784.6 1743.0L1790.5 1740.4L1796.5 1741.7L1802.5 1740.2L1808.5 1739.9L1814.5 1742.2L1820.5 1743.1L1826.5 1739.7L1832.5 1739.7L1838.4 1740.8L1844.4 1741.7L1850.4 1741.6L1856.4 1739.8L1862.4 1739.6L1868.4 1741.5L1874.4 1739.6L1880.4 1741.5L1886.3 1740.8L1892.3 1739.4L1898.3 1739.0L1904.3 1741.1L1910.3 1741.2L1916.3 1739.3L1922.3 1740.9L1928.3 1741.2L1934.2 1738.4L1940.2 1739.3L1946.2 1739.7L1952.2 1738.1L1958.2 1741.7L1964.2 1738.8L1970.2 1738.8L1976.1 1739.3L1982.1 1740.6L1988.1 1738.7L1994.1 1737.1L2000.1 1740.9L2006.1 1740.3L2012.1 1740.6L2018.1 1739.1L2024.0 1739.9L2030.0 1737.8L2036.0 1737.0L2042.0 1736.8L2048.0 1741.0L2054.0 1739.5L2060.0 1738.2L2065.9 1739.4L2071.9 1738.3L2077.9 1738.5L2083.9 1736.0L2089.9 1738.3L2095.9 1739.6L2101.9 1736.3L2107.9 1736.5L2113.8 1738.2L2119.8 1739.5L2125.8 1738.5L2131.8 1736.9L2137.8 1736.2L2143.8 1738.4L2149.8 1737.6L2155.8 1737.9L2161.7 1737.2L2167.7 1736.5L2173.7 1738.4L2179.7 1738.3L2185.7 1737.0L2191.7 1735.8L2197.7 1737.6L2203.6 1736.0L2209.6 1736.2L2215.6 1736.4" stroke="#00d28c" stroke-width="9"/>
<path d="M385.0 1737.5L391.0 1737.2L397.0 1737.8L403.0 1737.7L408.9 1736.8L414.9 1737.6L420.9 1737.2L426.9 1735.3L432.9 1735.9L438.9 1738.1L444.9 1737.0L450.9 1735.0L456.8 1734.8L462.8 1735.5L468.8 1736.4L474.8 1735.4L480.8 1736.5L486.8 1737.5L492.8 1735.4L498.7 1735.0L504.8 1736.3L510.7 1738.0L516.7 1737.2L522.7 1735.9L528.7 1735.2L534.7 1737.7L540.7 1737.0L546.6 1735.2L552.6 1737.5L558.6 1738.0L564.6 1734.9L570.6 1735.7L576.6 1735.4L582.6 1736.4L588.6 1735.4L594.5 1735.9L600.5 1736.7L606.5 1735.3L612.5 1735.8L618.5 1736.3L624.5 1736.6L630.5 1737.6L636.5 1737.0L642.4 1735.2L648.4 1736.6L654.4 1735.1L660.4 1738.2L666.4 1734.9L672.4 1736.9L678.4 1737.1L684.3 1738.2L690.3 1737.1L696.3 1735.3L702.3 1737.1L708.3 1736.5L714.3 1736.0L720.3 1736.1L726.3 1738.7L732.2 1736.8L738.2 1735.7L744.2 1736.2L750.2 1736.9L756.2 1738.3L762.2 1734.9L768.2 1735.5L774.2 1735.6L780.1 1735.3L786.1 1736.7L792.1 1736.3L798.1 1737.3L804.1 1736.4L810.1 1734.6L816.1 1738.6L822.0 1736.6L828.0 1736.8L834.0 1735.5L840.0 1737.4L846.0 1737.5L852.0 1736.8L858.0 1737.8L864.0 1737.7L869.9 1735.4L875.9 1735.1L881.9 1738.3L887.9 1738.5L893.9 1737.2L899.9 1734.7L905.9 1738.2L911.8 1736.1L917.8 1735.5L923.8 1738.5L929.8 1735.5L935.8 1737.5L941.8 1738.3L947.8 1736.8L953.8 1735.3L959.7 1735.8L965.7 1737.8L971.7 1737.3L977.7 1735.4L983.7 1737.0L989.7 1738.6L995.7 1736.0L1001.7 1737.4L1007.6 1738.5L1013.6 1737.6L1019.6 1737.0L1025.6 1736.4L1031.6 1738.1L1037.6 1735.4L1043.8 1734.5L1049.8 1735.9L1056.0 1732.2L1062.2 1726.2L1068.4 1729.2L1074.6 1728.0L1080.1 1729.3L1085.6 1725.3L1091.5 1731.3L1097.0 1737.6L1102.5 1735.9L1108.3 1738.1L1111.8 1741.9L1115.7 1745.8L1119.3 1748.7L1123.3 1751.6L1126.6 1758.2L1130.6 1763.6L1134.3 1765.8L1137.9 1768.8L1141.5 1773.1L1145.4 1779.3L1150.4 1777.7L1155.4 1778.6L1160.3 1776.4L1164.1 1777.9L1167.7 1779.2L1171.6 1785.5L1177.1 1787.6L1182.7 1784.4L1187.5 1786.3L1192.2 1790.0L1196.7 1795.3L1201.5 1801.8L1204.5 1808.4L1207.2 1812.6L1210.4 1814.8L1213.1 1820.7L1214.6 1825.5L1216.1 1830.7L1222.1 1824.9L1224.8 1820.6L1227.0 1817.6L1228.9 1826.1L1229.2 1832.6L1230.6 1837.1L1231.4 1842.3L1232.6 1850.0L1233.7 1856.8L1235.1 1860.3L1235.8 1865.4L1236.7 1873.1L1237.8 1879.5L1238.2 1883.4L1239.2 1888.8L1239.6 1896.1L1241.2 1901.8L1241.4 1906.4L1242.4 1912.0L1243.3 1918.6L1244.6 1924.6L1244.9 1929.5L1245.9 1936.0L1246.6 1941.8L1246.9 1946.8L1247.4 1953.1L1247.3 1960.8L1247.6 1967.0L1249.0 1971.4L1249.1 1976.7L1249.3 1983.9L1249.5 1990.6L1250.4 1996.6L1250.5 2001.6L1251.3 2007.0L1251.3 2013.5L1251.3 2020.2L1251.7 2026.6L1252.0 2031.8L1252.4 2037.7L1252.7 2043.9L1253.4 2049.5L1253.7 2055.4L1253.8 2063.0L1253.7 2069.4L1254.6 2073.0L1254.7 2078.1L1254.7 2086.3L1254.9 2093.9L1255.6 2098.1L1255.3 2103.2L1255.2 2109.8L1256.0 2116.0L1255.9 2121.9L1256.7 2128.3L1256.8 2134.7L1256.3 2139.5L1257.1 2144.7L1256.6 2152.2L1257.0 2159.1L1257.7 2163.4L1257.8 2169.1L1258.2 2176.2L1258.3 2182.5L1257.6 2186.9L1258.3 2193.6L1259.0 2200.6L1258.9 2206.4L1258.8 2211.0L1259.4 2217.2L1259.9 2224.5L1260.1 2229.9L1260.1 2235.3L1260.0 2241.3L1260.3 2248.0L1260.6 2253.9L1260.6 2259.2L1260.8 2265.1L1261.5 2271.1L1261.7 2277.8L1262.2 2283.8L1262.1 2288.7L1262.8 2294.1L1262.2 2301.5L1262.8 2308.5L1262.9 2313.2L1263.7 2318.3L1263.9 2324.2L1264.2 2330.8L1264.5 2337.2L1264.6 2343.6L1264.5 2349.5L1264.2 2354.1L1264.8 2359.3L1265.4 2366.9L1265.5 2374.0L1265.2 2378.8L1266.3 2383.8L1266.0 2390.3L1266.4 2396.6L1266.4 2401.9L1267.4 2408.4L1266.8 2416.0L1267.4 2420.5L1267.8 2424.1L1268.3 2431.4L1268.4 2440.0L1268.1 2445.7L1269.0 2448.8L1269.6 2455.0L1270.2 2462.9L1270.3 2469.0L1271.1 2475.2L1271.0 2481.1L1271.2 2487.0L1272.6 2492.8L1273.0 2499.6L1273.1 2506.6L1273.4 2511.8L1273.9 2517.7L1274.6 2524.3L1275.5 2530.4L1275.5 2536.3L1275.8 2542.3L1275.8 2548.8L1276.7 2554.1L1276.8 2559.7L1276.9 2565.8L1277.2 2571.9L1277.0 2578.3L1278.0 2584.0L1277.4 2590.0L1277.4 2595.4L1278.0 2601.9L1278.0 2608.4L1279.1 2613.4L1278.9 2618.8L1279.7 2626.1L1279.0 2632.8L1279.3 2636.6L1280.0 2641.5L1279.8 2649.6L1280.4 2656.8L1280.3 2661.2L1280.5 2665.6L1281.8 2672.3L1281.1 2679.6L1281.9 2685.1L1282.5 2690.5L1282.8 2697.3L1282.7 2702.4L1283.2 2707.0L1282.8 2714.2L1283.9 2721.7L1284.1 2726.9L1283.3 2731.1L1283.7 2737.7L1284.1 2744.4L1284.6 2750.0L1285.4 2756.1L1285.2 2762.7L1285.4 2768.2L1285.5 2772.3L1286.1 2778.7L1286.6 2787.0L1286.8 2793.0L1287.0 2797.1L1286.4 2802.2L1286.7 2808.7L1287.5 2816.1L1287.3 2821.9L1288.0 2827.2L1288.0 2832.2L1288.1 2838.6L1288.8 2845.5L1289.6 2851.5L1289.7 2856.6L1290.1 2862.4L1289.9 2869.3L1290.8 2874.7L1290.3 2879.8L1291.1 2886.4L1291.5 2893.3L1291.0 2898.2L1291.3 2903.2L1291.5 2910.1L1292.6 2916.6L1292.7 2921.9L1292.7 2927.2L1293.8 2934.3L1294.1 2940.0L1293.6 2944.5L1294.7 2950.8L1294.7 2957.3L1294.9 2962.6L1296.0 2967.4L1295.9 2974.3L1297.0 2980.9L1297.0 2985.5L1297.4 2989.3L1297.8 2997.0L1301.2 2999.7L1300.7 2992.8L1301.3 2988.3L1300.9 2983.4L1301.2 2976.9L1302.0 2972.4L1301.9 2966.6L1302.3 2959.6L1303.5 2953.3L1303.5 2947.1L1304.8 2941.0L1305.6 2935.4L1306.5 2930.6L1306.9 2924.0L1307.5 2917.0L1308.5 2910.9L1308.9 2905.1L1310.2 2900.0L1311.0 2894.7L1311.5 2888.3L1312.4 2880.3L1312.6 2874.1L1314.0 2869.8L1314.3 2864.9L1315.0 2858.0L1315.8 2851.0L1316.6 2844.7L1317.8 2839.2L1318.5 2834.0L1318.9 2828.8L1319.3 2821.3L1321.0 2813.6L1321.2 2809.1L1321.5 2805.2L1323.0 2797.9L1323.8 2790.6L1323.8 2785.7L1324.9 2780.7L1325.4 2772.7L1326.1 2766.2L1326.9 2762.4L1327.6 2756.2L1328.3 2748.5L1327.9 2742.4L1328.9 2737.8L1330.1 2731.7L1329.9 2724.4L1330.4 2718.7L1331.8 2713.9L1331.5 2707.0L1332.1 2700.1L1332.7 2695.0L1333.9 2689.3L1334.0 2682.5L1335.0 2676.8L1335.8 2671.0L1336.2 2663.8L1337.0 2657.8L1336.9 2653.2L1337.5 2648.1L1338.6 2640.5L1339.0 2633.0L1339.7 2628.0L1340.0 2623.2L1341.0 2617.3L1342.0 2610.5L1342.7 2603.4L1343.0 2597.2L1343.9 2592.6L1343.6 2586.8L1344.5 2580.2L1345.0 2573.8L1345.3 2568.1L1346.7 2561.8L1347.2 2555.1L1347.3 2550.9L1347.9 2545.7L1348.1 2537.2L1348.7 2530.0L1349.2 2525.7L1350.2 2521.7L1350.8 2514.5L1351.3 2507.2L1351.7 2501.4L1352.1 2496.1L1352.3 2489.9L1352.9 2484.4L1353.2 2478.8L1354.4 2471.3L1355.0 2464.5L1354.8 2460.6L1355.4 2455.4L1356.4 2448.0L1357.0 2441.2L1357.0 2436.3L1357.8 2430.5L1358.5 2423.2L1358.9 2417.5L1359.7 2413.0L1360.4 2406.7L1360.7 2399.3L1361.6 2393.3L1361.4 2388.5L1362.2 2382.7L1362.7 2376.2L1363.5 2369.9L1364.0 2364.3L1364.8 2358.4L1365.5 2352.3L1366.7 2346.0L1367.6 2340.4L1367.8 2335.5L1368.6 2329.4L1368.9 2322.2L1369.3 2315.7L1370.5 2311.1L1371.2 2306.5L1371.6 2299.6L1372.5 2292.3L1372.9 2286.6L1373.7 2281.5L1374.6 2275.6L1374.8 2270.2L1376.2 2264.4L1376.6 2256.7L1377.5 2250.0L1377.6 2246.1L1378.1 2241.7L1379.5 2233.8L1379.5 2226.8L1380.7 2221.8L1380.6 2216.6L1382.0 2209.5L1382.6 2204.4L1383.5 2200.1L1383.4 2192.5L1384.0 2184.5L1384.5 2179.5L1385.2 2176.0L1385.6 2169.7L1386.3 2161.2L1386.7 2155.2L1388.2 2150.7L1388.7 2145.0L1388.4 2138.8L1389.4 2132.6L1390.1 2126.0L1390.5 2119.6L1391.4 2114.2L1391.2 2108.9L1391.5 2102.4L1392.2 2096.0L1392.8 2090.3L1394.0 2084.1L1394.3 2078.0L1394.8 2072.1L1394.7 2066.6L1396.3 2060.3L1396.6 2053.8L1396.5 2048.0L1397.6 2041.8L1398.2 2036.3L1398.5 2030.5L1399.4 2024.3L1400.0 2017.7L1399.7 2011.7L1400.8 2006.9L1401.0 1999.9L1402.5 1993.7L1403.5 1989.1L1404.7 1985.2L1405.0 1978.6L1406.6 1970.8L1407.4 1965.9L1409.1 1963.4L1409.7 1957.6L1410.6 1948.6L1412.5 1942.9L1413.6 1939.0L1414.5 1933.4L1415.7 1926.9L1416.5 1921.6L1417.7 1916.1L1419.2 1908.9L1420.5 1902.5L1421.4 1899.4L1423.2 1894.8L1425.2 1887.5L1427.9 1880.7L1429.7 1876.9L1431.7 1871.7L1434.0 1866.2L1436.3 1861.4L1442.6 1860.4L1448.7 1855.2L1454.9 1851.0L1456.7 1848.2L1457.8 1843.7L1459.3 1836.3L1461.2 1828.3L1462.4 1822.5L1464.9 1819.2L1468.0 1815.3L1470.7 1808.7L1472.8 1801.1L1475.7 1796.0L1478.2 1792.4L1481.3 1787.9L1485.7 1781.5L1490.4 1776.5L1495.1 1773.6L1499.5 1766.8L1503.4 1761.4L1507.0 1759.2L1510.9 1755.5L1514.7 1748.1L1518.4 1743.9L1522.1 1740.9L1525.8 1739.9L1531.9 1738.7L1538.1 1737.9L1544.3 1738.2L1550.4 1738.6L1556.6 1736.7L1562.7 1737.3L1568.9 1736.9L1575.0 1738.8L1581.2 1737.0L1587.3 1737.0L1593.5 1736.8L1599.5 1736.9L1605.5 1736.4L1611.5 1738.0L1617.4 1737.2L1623.4 1736.9L1629.4 1736.4L1635.4 1735.9L1641.4 1737.4L1647.3 1736.5L1653.3 1737.8L1659.3 1737.0L1665.3 1736.0L1671.3 1737.6L1677.3 1735.8L1683.2 1737.0L1689.2 1737.5L1695.2 1736.7L1701.2 1734.9L1707.2 1737.7L1713.1 1738.0L1719.1 1736.3L1725.1 1736.0L1731.1 1735.8L1737.1 1736.3L1743.1 1736.3L1749.0 1737.1L1755.0 1736.0L1761.0 1737.3L1767.0 1736.1L1773.0 1736.2L1778.9 1738.6L1784.9 1738.0L1790.9 1734.3L1796.9 1734.8L1802.9 1737.1L1808.8 1736.9L1814.8 1734.5L1820.8 1736.6L1826.8 1738.0L1832.8 1737.3L1838.8 1734.2L1844.7 1735.4L1850.7 1738.6L1856.7 1737.3L1862.7 1737.5L1868.7 1737.0L1874.7 1737.4L1880.6 1736.2L1886.6 1735.4L1892.6 1735.3L1898.6 1737.6L1904.6 1735.1L1910.5 1735.8L1916.5 1734.9L1922.5 1735.8L1928.5 1735.8L1934.5 1737.3L1940.5 1735.3L1946.4 1735.0L1952.4 1735.2L1958.4 1737.9L1964.4 1736.9L1970.4 1738.0L1976.3 1736.1L1982.3 1736.7L1988.3 1738.0L1994.3 1736.3L2000.3 1737.8L2006.3 1737.9L2012.2 1735.0L2018.2 1737.3L2024.2 1735.5L2030.2 1735.3L2036.2 1737.4L2042.1 1736.1L2048.1 1737.1L2054.1 1735.3L2060.1 1736.9L2066.1 1738.3L2072.1 1736.0L2078.0 1736.4L2084.0 1735.5L2090.0 1736.9L2096.0 1737.0L2102.0 1736.1L2107.9 1737.9L2113.9 1738.3L2119.9 1736.4L2125.9 1737.6L2131.9 1736.6L2137.9 1737.0L2143.8 1736.7L2149.8 1736.4L2155.8 1739.5L2161.8 1736.0L2167.8 1735.7L2173.7 1738.4L2179.7 1735.9L2185.7 1735.9L2191.7 1735.4L2197.7 1735.8L2203.7 1736.2L2209.6 1737.5L2215.6 1736.2" stroke="#808080" stroke-width="9"/>
<path d="M385.0 1736.3L391.0 1737.9L397.0 1735.5L403.0 1737.1L408.9 1734.9L414.9 1735.6L420.9 1737.4L426.9 1737.2L432.9 1735.2L438.9 1735.4L444.9 1735.8L450.9 1734.4L456.8 1737.3L462.8 1735.5L468.8 1735.6L474.8 1737.0L480.8 1736.4L486.8 1737.4L492.8 1735.9L498.8 1736.4L504.7 1735.1L510.7 1736.8L516.7 1735.9L522.7 1737.4L528.7 1738.3L534.7 1736.1L540.7 1734.6L546.6 1735.4L552.6 1737.3L558.6 1738.4L564.6 1737.2L570.6 1735.9L576.6 1735.2L582.6 1736.4L588.6 1734.6L594.5 1736.2L600.5 1736.3L606.5 1737.1L612.5 1736.9L618.5 1735.6L624.5 1737.2L630.5 1735.8L636.4 1736.1L642.4 1738.0L648.4 1735.9L654.4 1734.9L660.4 1737.5L666.4 1737.6L672.4 1735.5L678.4 1734.4L684.3 1735.2L690.3 1737.4L696.3 1736.8L702.3 1736.8L708.3 1737.2L714.3 1736.9L720.3 1737.9L726.3 1734.2L732.2 1735.9L738.2 1735.9L744.2 1738.8L750.2 1736.3L756.2 1736.5L762.2 1736.1L768.2 1735.0L774.1 1736.4L780.1 1737.5L786.1 1734.7L792.1 1735.9L798.1 1736.5L804.1 1737.1L810.1 1734.7L816.1 1737.1L822.0 1734.4L828.0 1736.8L834.0 1738.9L840.0 1736.7L846.0 1736.2L852.0 1734.3L858.0 1736.3L864.0 1734.6L869.9 1736.5L875.9 1736.1L881.9 1735.8L887.9 1737.7L893.9 1738.2L899.9 1736.1L905.9 1734.4L911.8 1736.2L917.8 1737.9L923.8 1737.3L929.8 1737.9L935.8 1735.8L941.8 1735.2L947.8 1736.5L953.8 1733.8L959.7 1735.1L965.7 1736.6L971.7 1738.0L977.7 1737.4L983.7 1733.6L989.7 1734.9L995.7 1735.0L1001.6 1736.4L1007.6 1734.9L1013.6 1734.7L1019.6 1735.5L1025.6 1736.2L1031.6 1734.8L1037.6 1735.4L1043.7 1732.3L1049.7 1736.5L1055.8 1735.0L1061.9 1732.8L1068.0 1729.5L1074.0 1727.5L1080.1 1725.8L1086.2 1724.6L1092.3 1722.9L1098.4 1724.0L1104.4 1722.7L1109.6 1724.9L1114.9 1723.4L1120.0 1724.0L1125.2 1725.9L1130.7 1729.6L1134.4 1735.9L1137.9 1740.0L1141.7 1743.9L1146.3 1745.6L1151.1 1749.5L1155.5 1754.3L1160.3 1759.7L1165.3 1760.0L1170.3 1758.3L1175.4 1758.1L1179.7 1761.4L1184.2 1766.0L1188.7 1766.6L1193.2 1769.4L1197.9 1773.4L1201.2 1780.0L1205.2 1785.3L1208.6 1790.3L1212.6 1794.4L1217.5 1797.2L1222.5 1800.4L1227.2 1800.7L1229.1 1806.8L1230.9 1814.9L1232.4 1822.3L1233.7 1828.0L1235.4 1830.6L1236.9 1835.1L1238.8 1841.1L1239.2 1848.4L1241.2 1854.3L1242.1 1859.9L1242.9 1866.0L1243.9 1872.8L1245.1 1878.4L1246.0 1882.7L1249.7 1884.7L1253.5 1889.4L1254.3 1897.3L1254.0 1903.1L1254.5 1908.9L1255.1 1914.5L1254.5 1920.7L1255.4 1926.2L1255.1 1930.6L1256.0 1936.4L1255.5 1943.5L1255.7 1950.7L1256.7 1956.7L1257.1 1961.4L1257.6 1966.0L1257.2 1971.9L1257.7 1978.8L1258.1 1984.8L1257.9 1991.0L1257.9 1996.9L1258.8 2003.3L1258.7 2009.0L1259.7 2014.2L1259.3 2019.4L1259.5 2025.6L1260.3 2032.3L1260.9 2038.8L1260.5 2044.6L1260.4 2050.6L1261.0 2056.5L1261.9 2061.6L1261.9 2066.9L1261.1 2073.5L1262.2 2080.2L1262.0 2086.7L1261.6 2093.2L1261.8 2098.3L1261.8 2103.4L1262.0 2108.4L1262.4 2115.2L1262.5 2122.6L1262.5 2128.8L1262.8 2134.1L1262.5 2139.6L1263.6 2145.8L1262.8 2152.1L1263.5 2157.6L1264.2 2163.1L1264.3 2169.7L1263.7 2176.5L1263.7 2182.9L1264.4 2188.1L1264.1 2193.3L1264.5 2199.3L1264.3 2205.3L1265.2 2211.6L1265.2 2217.8L1264.4 2224.6L1264.6 2231.1L1265.1 2236.1L1265.8 2240.3L1265.3 2245.9L1266.4 2253.4L1265.8 2260.7L1266.3 2266.4L1266.0 2271.4L1266.5 2277.0L1267.4 2283.4L1266.9 2289.5L1267.0 2294.5L1267.1 2300.2L1267.5 2307.1L1268.4 2314.0L1268.2 2320.0L1268.4 2324.8L1268.4 2330.3L1268.9 2336.6L1268.5 2342.6L1269.3 2348.8L1269.8 2354.9L1269.3 2362.0L1269.4 2367.7L1269.6 2372.5L1270.5 2377.2L1270.2 2383.4L1270.2 2390.5L1270.5 2397.3L1270.4 2403.5L1270.5 2408.6L1271.5 2414.1L1271.7 2420.0L1271.8 2426.2L1272.3 2432.1L1271.7 2438.3L1272.8 2444.4L1272.4 2450.5L1272.5 2457.0L1273.0 2462.5L1273.4 2468.0L1273.5 2473.8L1274.3 2480.6L1274.8 2488.0L1275.4 2494.3L1275.8 2499.8L1276.2 2505.9L1276.7 2511.4L1276.8 2517.4L1277.5 2523.8L1277.5 2530.9L1278.5 2537.6L1278.5 2543.4L1278.6 2547.6L1279.0 2553.1L1279.1 2559.6L1279.7 2566.6L1279.5 2572.5L1279.2 2577.8L1279.8 2583.4L1280.5 2590.2L1280.8 2596.5L1280.7 2601.4L1281.4 2606.4L1281.0 2613.1L1281.6 2620.2L1281.3 2626.1L1281.8 2631.6L1281.9 2637.4L1282.1 2643.3L1282.3 2648.8L1283.2 2654.4L1282.6 2660.3L1283.3 2667.3L1284.0 2674.4L1283.7 2679.6L1284.0 2684.2L1283.7 2689.3L1283.9 2696.4L1284.1 2703.5L1285.2 2709.0L1285.7 2714.2L1285.2 2720.4L1285.8 2727.0L1285.5 2732.3L1285.9 2738.0L1286.2 2743.5L1286.4 2749.6L1287.3 2756.1L1287.3 2762.5L1286.7 2768.2L1287.7 2774.1L1288.2 2779.6L1287.4 2785.0L1288.4 2791.2L1288.8 2797.2L1288.9 2803.9L1289.1 2810.2L1288.7 2815.4L1288.9 2821.0L1289.6 2826.3L1289.5 2832.6L1289.9 2839.1L1289.8 2845.8L1290.2 2851.2L1290.8 2856.6L1291.2 2862.5L1291.7 2869.0L1291.0 2874.9L1292.2 2880.7L1291.7 2885.8L1292.6 2892.1L1292.1 2898.9L1292.5 2905.0L1293.4 2910.4L1293.3 2915.3L1293.9 2921.3L1293.5 2928.2L1294.0 2934.1L1294.2 2939.2L1294.7 2945.4L1294.8 2951.4L1295.4 2957.1L1296.5 2962.1L1295.9 2967.1L1296.6 2974.0L1297.6 2981.0L1297.6 2986.5L1297.8 2990.9L1298.0 2995.6L1298.2 2996.4L1298.4 2991.2L1299.2 2985.5L1299.1 2978.3L1298.9 2970.8L1299.2 2965.4L1299.9 2960.4L1300.2 2954.4L1301.4 2946.9L1302.1 2940.9L1301.8 2935.5L1302.9 2929.6L1303.5 2923.7L1303.6 2917.7L1304.8 2912.0L1304.7 2906.0L1305.6 2899.1L1306.3 2892.7L1306.4 2887.1L1307.3 2882.2L1307.5 2876.4L1307.8 2869.2L1308.9 2862.9L1309.2 2857.5L1309.7 2852.1L1309.7 2845.7L1310.5 2839.2L1310.9 2833.2L1311.4 2827.4L1311.9 2821.7L1313.0 2816.2L1313.1 2809.9L1313.5 2803.0L1314.5 2797.1L1314.4 2791.5L1314.9 2786.2L1315.6 2779.8L1316.3 2773.3L1317.1 2767.3L1317.0 2761.3L1318.1 2755.5L1318.4 2749.0L1319.4 2743.1L1319.7 2737.6L1319.7 2731.4L1321.2 2724.9L1321.0 2718.6L1321.5 2713.2L1322.2 2707.8L1323.2 2700.8L1323.1 2693.6L1324.0 2688.1L1324.8 2683.4L1325.5 2677.7L1326.2 2670.5L1326.1 2663.4L1326.6 2658.1L1326.9 2653.1L1328.0 2646.9L1328.3 2639.8L1329.3 2633.8L1329.9 2628.7L1330.0 2622.6L1330.6 2615.9L1331.3 2609.6L1332.2 2604.4L1332.1 2598.6L1332.3 2591.9L1332.8 2585.2L1334.2 2579.9L1334.0 2575.0L1334.7 2568.6L1335.3 2561.4L1335.8 2554.9L1336.3 2550.4L1336.8 2545.3L1337.1 2538.6L1338.2 2531.3L1338.7 2525.5L1339.3 2519.9L1340.1 2514.4L1340.7 2507.9L1340.9 2501.8L1340.8 2496.2L1341.5 2490.1L1342.1 2484.0L1343.3 2477.8L1343.6 2472.2L1343.6 2465.8L1344.2 2459.9L1345.3 2453.9L1344.9 2448.2L1346.0 2442.1L1346.3 2436.1L1346.7 2430.1L1347.2 2423.3L1347.6 2417.6L1348.6 2412.2L1349.1 2406.5L1349.1 2400.6L1350.2 2393.9L1350.3 2387.1L1350.9 2381.2L1351.7 2376.5L1351.8 2370.4L1353.1 2363.3L1353.6 2357.1L1353.6 2351.4L1354.5 2346.0L1354.3 2339.1L1354.9 2332.6L1355.0 2326.4L1356.5 2321.3L1356.0 2315.3L1356.6 2308.8L1358.0 2302.7L1357.6 2296.9L1358.0 2290.6L1358.8 2283.9L1359.9 2277.9L1360.2 2272.8L1359.9 2267.6L1361.4 2260.7L1361.2 2252.9L1361.6 2247.1L1361.9 2242.2L1363.1 2237.0L1363.5 2230.2L1363.4 2223.2L1363.9 2217.4L1364.9 2212.0L1364.7 2205.9L1365.8 2198.8L1366.1 2193.2L1365.9 2188.0L1365.9 2182.2L1367.2 2175.7L1366.8 2169.4L1367.5 2163.5L1368.2 2157.7L1368.5 2150.9L1368.3 2145.0L1368.6 2139.5L1369.2 2134.6L1369.8 2128.1L1370.4 2120.9L1370.9 2114.3L1371.2 2109.1L1370.8 2103.8L1371.0 2098.1L1371.7 2091.7L1372.3 2085.6L1372.4 2079.0L1373.0 2073.1L1373.6 2067.4L1373.3 2061.1L1373.9 2054.9L1374.0 2049.2L1374.4 2043.6L1374.9 2038.1L1376.1 2030.9L1377.7 2023.9L1379.1 2017.8L1380.1 2012.5L1381.3 2006.6L1382.4 2000.7L1384.0 1995.2L1384.9 1989.7L1386.0 1983.6L1386.7 1976.8L1387.8 1971.7L1388.4 1967.5L1389.3 1963.2L1390.1 1957.0L1391.5 1949.4L1391.8 1943.1L1393.5 1938.0L1393.9 1933.4L1394.8 1927.2L1396.0 1920.6L1396.9 1915.1L1397.7 1910.6L1398.5 1905.4L1398.5 1898.4L1400.6 1891.3L1401.6 1885.9L1402.1 1881.9L1403.6 1876.6L1404.5 1870.5L1405.7 1864.9L1406.9 1860.2L1408.0 1854.0L1409.1 1847.1L1410.3 1839.5L1413.2 1836.9L1416.2 1833.8L1419.3 1830.4L1422.5 1823.5L1426.0 1815.9L1428.9 1810.8L1431.7 1807.9L1434.5 1803.9L1437.4 1798.1L1440.0 1793.4L1445.6 1791.6L1450.9 1787.5L1452.6 1780.5L1454.0 1773.5L1455.7 1767.7L1457.4 1762.0L1458.6 1757.2L1463.4 1754.6L1467.9 1750.6L1472.5 1746.3L1477.3 1741.6L1483.5 1737.5L1489.7 1736.9L1496.0 1735.6L1502.0 1737.0L1508.2 1736.5L1514.2 1733.4L1520.3 1733.9L1526.4 1734.1L1532.5 1735.0L1538.6 1736.4L1544.7 1735.8L1550.8 1736.4L1556.9 1735.4L1563.0 1737.1L1569.1 1734.3L1575.2 1736.1L1581.3 1735.9L1587.4 1737.2L1593.5 1736.2L1599.5 1736.4L1605.5 1735.9L1611.5 1736.8L1617.4 1736.9L1623.4 1735.1L1629.4 1736.4L1635.4 1736.5L1641.4 1736.9L1647.3 1737.1L1653.3 1736.1L1659.3 1735.0L1665.3 1735.5L1671.3 1737.0L1677.2 1738.0L1683.2 1736.8L1689.2 1737.8L1695.2 1737.3L1701.2 1735.6L1707.2 1737.5L1713.1 1737.8L1719.1 1736.2L1725.1 1738.1L1731.1 1736.7L1737.1 1737.8L1743.1 1734.4L1749.0 1734.7L1755.0 1735.9L1761.0 1737.0L1767.0 1736.1L1773.0 1738.7L1778.9 1737.3L1784.9 1737.8L1790.9 1737.1L1796.9 1736.9L1802.9 1735.5L1808.9 1736.1L1814.8 1736.5L1820.8 1735.9L1826.8 1735.3L1832.8 1738.3L1838.8 1737.7L1844.7 1734.5L1850.7 1736.0L1856.7 1736.9L1862.7 1736.7L1868.7 1737.5L1874.7 1738.5L1880.6 1735.0L1886.6 1736.2L1892.6 1735.9L1898.6 1737.1L1904.6 1735.5L1910.5 1736.8L1916.5 1736.1L1922.5 1737.8L1928.5 1737.3L1934.5 1735.2L1940.5 1735.5L1946.4 1735.6L1952.4 1736.3L1958.4 1737.8L1964.4 1734.8L1970.4 1737.5L1976.3 1738.1L1982.3 1735.1L1988.3 1737.6L1994.3 1737.6L2000.3 1735.5L2006.3 1738.7L2012.2 1737.3L2018.2 1734.9L2024.2 1735.8L2030.2 1736.8L2036.2 1736.5L2042.1 1738.6L2048.1 1735.2L2054.1 1737.6L2060.1 1737.2L2066.1 1736.0L2072.1 1735.3L2078.0 1737.1L2084.0 1738.7L2090.0 1737.5L2096.0 1737.0L2102.0 1737.2L2107.9 1735.2L2113.9 1736.9L2119.9 1737.3L2125.9 1735.7L2131.9 1737.0L2137.9 1739.0L2143.8 1739.0L2149.8 1736.2L2155.8 1735.7L2161.8 1735.5L2167.8 1734.8L2173.7 1736.3L2179.7 1738.8L2185.7 1736.4L2191.7 1735.2L2197.7 1736.5L2203.7 1736.1L2209.6 1736.9L2215.6 1736.9" stroke="#0000ff" stroke-width="9"/>
<path d="M385.0 1736.3L391.0 1735.1L397.0 1735.8L403.0 1734.7L408.9 1737.0L414.9 1738.3L420.9 1738.7L426.9 1736.5L432.9 1736.2L438.9 1738.3L444.9 1735.8L450.9 1738.6L456.8 1735.6L462.8 1735.9L468.8 1736.3L474.8 1736.7L480.8 1737.3L486.8 1736.2L492.8 1735.9L498.8 1736.8L504.7 1738.5L510.7 1736.1L516.7 1735.5L522.7 1737.8L528.7 1738.3L534.7 1734.8L540.7 1736.9L546.6 1735.7L552.6 1739.0L558.6 1738.1L564.6 1736.2L570.6 1737.1L576.6 1736.4L582.6 1737.1L588.6 1734.6L594.5 1737.4L600.5 1735.9L606.5 1735.9L612.5 1734.9L618.5 1736.9L624.5 1736.1L630.5 1736.2L636.4 1735.2L642.4 1735.1L648.4 1737.0L654.4 1737.2L660.4 1736.2L666.4 1735.3L672.4 1735.6L678.4 1736.0L684.3 1737.9L690.3 1734.6L696.3 1737.4L702.3 1735.4L708.3 1736.4L714.3 1736.4L720.3 1737.7L726.3 1736.7L732.2 1736.6L738.2 1735.7L744.2 1736.7L750.2 1736.0L756.2 1736.1L762.2 1736.2L768.2 1735.5L774.1 1736.4L780.1 1738.3L786.1 1734.9L792.1 1734.4L798.1 1737.2L804.1 1735.8L810.1 1737.1L816.1 1737.9L822.0 1737.1L828.0 1736.4L834.0 1737.0L840.0 1736.5L846.0 1736.0L852.0 1736.3L858.0 1738.0L864.0 1738.2L869.9 1734.9L875.9 1738.0L881.9 1737.6L887.9 1737.1L893.9 1737.5L899.9 1736.0L905.9 1736.7L911.8 1737.2L917.8 1736.3L923.8 1735.4L929.8 1735.8L935.8 1736.8L941.8 1735.6L947.8 1736.9L953.8 1737.4L959.7 1735.8L965.7 1736.1L971.7 1736.6L977.7 1737.5L983.7 1735.6L989.7 1735.1L995.7 1735.3L1001.6 1736.1L1007.6 1737.1L1013.6 1735.2L1019.6 1736.9L1025.6 1737.4L1031.6 1736.9L1037.5 1735.9L1043.7 1734.6L1049.8 1732.7L1055.9 1733.2L1062.0 1733.3L1068.1 1733.7L1074.2 1729.9L1080.3 1726.5L1086.4 1724.9L1092.5 1727.8L1098.6 1727.5L1104.7 1725.9L1110.9 1724.0L1117.0 1721.6L1123.1 1719.9L1128.0 1719.6L1133.0 1721.2L1138.0 1721.4L1143.6 1724.3L1149.2 1728.5L1153.9 1732.3L1158.5 1735.1L1163.2 1736.6L1167.8 1739.2L1173.4 1739.5L1178.9 1740.3L1183.7 1743.6L1188.5 1745.7L1192.8 1751.2L1197.6 1756.8L1203.8 1754.6L1210.1 1753.8L1216.4 1755.9L1219.1 1759.2L1221.9 1760.8L1224.7 1763.5L1227.5 1769.7L1235.2 1773.0L1236.4 1778.6L1237.5 1783.5L1238.9 1789.2L1239.9 1794.8L1241.0 1799.5L1242.3 1805.7L1243.9 1813.0L1244.8 1819.0L1246.5 1823.5L1246.7 1828.7L1247.5 1835.5L1248.5 1842.1L1249.1 1846.7L1250.6 1851.1L1250.8 1857.4L1252.1 1865.0L1253.1 1871.0L1253.5 1875.7L1255.2 1880.2L1255.3 1885.5L1256.1 1892.3L1257.7 1898.9L1258.1 1905.4L1257.7 1911.3L1258.4 1916.6L1258.7 1922.6L1259.2 1929.2L1259.1 1935.8L1259.3 1942.1L1259.4 1948.2L1260.0 1954.5L1260.2 1960.6L1261.1 1966.6L1260.8 1972.4L1261.6 1978.5L1261.8 1984.7L1262.0 1991.1L1262.3 1997.3L1262.0 2002.7L1262.5 2007.9L1263.5 2013.3L1263.1 2020.5L1263.5 2027.2L1263.6 2032.9L1264.7 2038.4L1264.1 2044.3L1264.2 2050.2L1264.4 2055.3L1265.4 2061.2L1265.3 2068.5L1265.3 2075.5L1265.6 2080.6L1265.8 2085.0L1265.4 2091.1L1266.1 2098.3L1266.3 2104.0L1266.0 2109.6L1266.9 2115.8L1266.4 2122.3L1267.3 2127.9L1267.0 2133.5L1267.1 2139.9L1268.1 2146.0L1268.0 2151.5L1267.5 2157.4L1267.5 2164.6L1268.5 2170.8L1268.9 2175.4L1268.7 2180.2L1268.9 2187.0L1268.5 2194.9L1269.3 2200.9L1269.1 2205.8L1269.0 2210.8L1269.3 2217.3L1269.9 2224.0L1269.8 2229.8L1270.5 2235.5L1270.9 2241.7L1270.1 2247.9L1270.9 2253.5L1271.2 2259.3L1271.1 2265.3L1271.3 2271.2L1271.7 2277.0L1271.7 2283.4L1271.6 2290.0L1272.2 2295.4L1272.0 2301.1L1272.0 2306.4L1272.5 2312.7L1272.6 2319.0L1273.0 2325.3L1272.9 2331.7L1273.4 2337.3L1273.1 2342.1L1273.2 2348.3L1273.4 2354.8L1274.0 2361.0L1274.2 2367.1L1273.5 2373.2L1274.5 2379.2L1274.2 2383.9L1274.3 2389.6L1274.5 2396.5L1275.3 2403.5L1275.0 2408.6L1275.1 2413.6L1275.7 2420.1L1274.9 2427.2L1275.5 2432.7L1275.4 2437.3L1275.8 2443.2L1276.1 2450.3L1276.3 2457.5L1276.4 2462.8L1277.2 2468.2L1277.8 2474.5L1277.3 2480.1L1277.9 2486.6L1278.4 2494.4L1279.0 2500.9L1278.9 2505.8L1278.9 2510.2L1279.9 2517.3L1279.6 2525.5L1279.8 2531.3L1280.2 2535.8L1280.9 2541.8L1280.9 2548.8L1281.6 2554.9L1280.9 2559.6L1281.2 2565.1L1281.3 2572.0L1282.3 2578.6L1282.5 2584.2L1282.4 2590.4L1282.6 2595.8L1282.8 2601.3L1283.3 2606.7L1283.3 2613.5L1283.1 2620.2L1284.0 2626.3L1284.1 2631.6L1284.4 2636.9L1285.0 2642.6L1284.8 2648.5L1285.1 2655.1L1284.8 2661.4L1285.4 2667.7L1285.0 2672.8L1285.9 2678.6L1285.9 2684.4L1286.1 2690.6L1286.1 2696.8L1286.2 2702.9L1287.4 2709.1L1287.6 2714.2L1287.5 2720.1L1287.9 2726.1L1288.1 2732.6L1288.1 2738.0L1287.6 2743.4L1288.0 2750.2L1288.6 2757.2L1288.8 2762.6L1289.2 2766.7L1288.9 2772.0L1290.0 2779.9L1289.3 2786.7L1290.5 2792.4L1290.0 2797.1L1289.8 2803.2L1290.6 2808.8L1290.3 2814.7L1290.3 2821.1L1291.7 2827.8L1291.2 2833.9L1291.3 2838.4L1291.4 2844.3L1291.5 2851.2L1292.5 2857.6L1292.1 2861.9L1292.0 2867.7L1293.0 2875.2L1293.2 2882.1L1293.1 2886.8L1293.8 2891.4L1293.1 2897.4L1293.1 2904.1L1294.3 2910.4L1294.4 2916.2L1294.8 2922.7L1294.9 2928.3L1295.0 2933.1L1295.1 2938.6L1295.7 2944.5L1296.0 2951.4L1296.7 2957.5L1297.2 2963.0L1297.3 2968.6L1296.9 2974.1L1297.8 2979.6L1298.5 2985.4L1298.3 2991.5L1298.6 2999.0L1296.6 2997.9L1297.1 2990.8L1296.7 2984.8L1297.5 2978.1L1297.7 2971.7L1296.9 2965.0L1297.4 2959.3L1297.8 2953.7L1298.7 2947.9L1299.1 2942.3L1299.0 2935.4L1299.7 2928.8L1300.4 2922.4L1300.3 2917.5L1300.2 2913.0L1301.6 2906.8L1301.5 2899.0L1301.6 2892.0L1302.4 2887.3L1302.3 2882.4L1302.7 2875.6L1303.2 2869.3L1303.3 2863.7L1303.9 2858.2L1304.1 2851.3L1305.4 2844.9L1304.9 2839.6L1305.6 2833.4L1306.4 2827.3L1305.9 2821.7L1306.6 2816.6L1306.7 2810.1L1307.4 2802.4L1308.2 2796.2L1308.1 2792.1L1308.2 2787.3L1309.4 2779.7L1309.4 2772.4L1309.5 2767.1L1310.7 2761.5L1311.3 2755.1L1311.2 2748.7L1311.3 2743.6L1311.7 2738.2L1313.0 2731.1L1313.5 2724.2L1313.7 2718.6L1313.8 2713.4L1313.8 2707.0L1314.6 2700.7L1315.1 2695.0L1316.0 2689.0L1315.5 2682.5L1316.5 2676.3L1317.0 2670.6L1316.7 2664.4L1317.5 2658.8L1317.6 2653.4L1318.9 2647.1L1319.4 2640.5L1319.6 2633.3L1320.1 2627.8L1320.3 2622.9L1321.0 2617.5L1321.0 2611.2L1321.0 2604.3L1321.7 2597.3L1322.8 2591.1L1322.8 2586.5L1322.7 2581.2L1323.4 2574.1L1324.1 2567.1L1325.1 2561.8L1325.0 2556.7L1326.1 2550.2L1325.9 2542.9L1326.8 2537.3L1327.7 2532.6L1327.7 2527.0L1328.6 2520.3L1328.9 2513.2L1329.4 2507.7L1329.8 2501.7L1330.0 2495.5L1331.0 2490.9L1330.9 2485.2L1331.9 2478.2L1332.5 2470.9L1333.3 2465.1L1333.0 2460.5L1334.0 2454.7L1334.7 2447.8L1335.1 2441.9L1335.6 2436.6L1336.1 2430.1L1336.2 2423.2L1337.3 2417.2L1338.1 2412.3L1338.0 2406.7L1338.7 2399.8L1339.0 2393.9L1340.1 2388.3L1340.2 2382.3L1340.0 2375.6L1341.2 2369.8L1341.0 2365.0L1341.3 2359.4L1341.7 2353.1L1342.5 2346.5L1342.6 2339.7L1343.2 2334.0L1343.5 2328.8L1345.0 2323.8L1344.8 2317.8L1344.8 2311.1L1345.9 2304.2L1346.7 2298.6L1346.1 2293.3L1347.0 2287.7L1347.3 2281.8L1347.7 2275.2L1348.9 2269.1L1348.8 2263.6L1349.6 2257.7L1349.4 2251.9L1350.5 2245.3L1350.8 2239.4L1351.4 2234.4L1351.8 2229.1L1352.0 2222.6L1352.4 2215.1L1352.7 2208.7L1353.7 2204.2L1353.2 2199.5L1354.4 2192.9L1354.5 2186.0L1354.5 2180.0L1355.5 2174.3L1355.2 2167.7L1355.5 2161.9L1356.2 2157.1L1356.6 2151.0L1356.6 2143.9L1357.3 2137.7L1357.4 2132.4L1358.4 2126.6L1358.2 2119.7L1358.5 2113.7L1358.8 2108.7L1359.8 2103.1L1359.8 2096.0L1359.7 2089.0L1360.1 2084.1L1361.2 2078.6L1361.3 2072.2L1361.3 2066.2L1361.8 2060.9L1362.2 2055.2L1362.0 2047.5L1362.5 2040.6L1363.4 2035.7L1363.7 2031.2L1363.3 2025.2L1363.9 2018.2L1364.7 2011.2L1364.3 2005.7L1364.5 2000.0L1365.0 1994.9L1366.1 1989.6L1366.5 1984.0L1366.9 1978.4L1367.7 1972.6L1368.2 1967.3L1369.5 1962.0L1370.4 1955.5L1371.7 1949.3L1372.5 1944.0L1373.4 1939.4L1374.7 1933.6L1375.5 1927.1L1376.4 1920.4L1377.7 1914.4L1378.6 1909.4L1379.5 1904.9L1380.3 1900.0L1381.4 1892.7L1383.1 1884.6L1384.6 1879.1L1385.3 1874.6L1386.7 1868.2L1388.1 1861.2L1390.3 1855.4L1391.6 1850.3L1393.0 1843.3L1394.0 1836.0L1395.5 1831.0L1397.4 1825.9L1398.7 1819.6L1400.6 1812.7L1402.3 1807.5L1404.6 1801.6L1406.5 1793.6L1408.4 1787.7L1410.2 1783.7L1413.9 1780.0L1417.5 1774.0L1421.5 1768.3L1425.2 1764.2L1429.7 1759.7L1434.4 1754.3L1439.1 1753.0L1443.8 1750.8L1448.7 1748.8L1451.0 1743.8L1453.5 1740.1L1458.7 1733.7L1464.4 1737.6L1470.2 1739.3L1476.0 1736.8L1481.7 1738.3L1487.5 1736.9L1493.2 1735.0L1499.0 1735.9L1504.8 1736.9L1510.5 1734.6L1516.3 1733.9L1522.1 1733.8L1528.0 1735.8L1534.0 1735.0L1539.9 1736.6L1545.9 1736.3L1551.8 1734.2L1557.8 1735.2L1563.7 1736.4L1569.7 1735.5L1575.6 1737.1L1581.6 1737.3L1587.6 1737.3L1593.5 1736.4L1599.5 1735.4L1605.5 1737.9L1611.5 1736.4L1617.4 1736.1L1623.4 1735.2L1629.4 1735.3L1635.4 1736.7L1641.4 1735.6L1647.3 1737.6L1653.3 1736.1L1659.3 1737.5L1665.3 1735.5L1671.3 1736.0L1677.3 1735.3L1683.2 1736.1L1689.2 1736.9L1695.2 1736.9L1701.2 1736.9L1707.2 1737.3L1713.1 1734.2L1719.1 1736.6L1725.1 1738.4L1731.1 1735.5L1737.1 1738.8L1743.1 1735.1L1749.0 1735.4L1755.0 1735.0L1761.0 1734.1L1767.0 1736.8L1773.0 1736.4L1778.9 1737.6L1784.9 1735.6L1790.9 1736.6L1796.9 1735.8L1802.9 1737.9L1808.9 1735.7L1814.8 1735.8L1820.8 1737.0L1826.8 1737.4L1832.8 1737.3L1838.8 1735.9L1844.7 1734.1L1850.7 1735.4L1856.7 1735.8L1862.7 1737.2L1868.7 1738.3L1874.7 1737.2L1880.6 1734.5L1886.6 1737.1L1892.6 1735.8L1898.6 1737.7L1904.6 1737.6L1910.5 1738.3L1916.5 1737.2L1922.5 1734.9L1928.5 1736.5L1934.5 1737.2L1940.5 1736.3L1946.4 1736.4L1952.4 1736.5L1958.4 1738.9L1964.4 1736.5L1970.4 1736.3L1976.4 1737.9L1982.3 1737.8L1988.3 1737.4L1994.3 1737.5L2000.3 1737.2L2006.3 1734.8L2012.2 1735.6L2018.2 1736.6L2024.2 1736.0L2030.2 1736.7L2036.2 1736.4L2042.1 1737.3L2048.1 1734.3L2054.1 1738.3L2060.1 1735.2L2066.1 1737.6L2072.1 1736.8L2078.0 1735.9L2084.0 1737.0L2090.0 1737.1L2096.0 1735.0L2102.0 1738.4L2107.9 1737.9L2113.9 1737.9L2119.9 1736.5L2125.9 1737.3L2131.9 1736.5L2137.9 1735.5L2143.8 1734.8L2149.8 1736.1L2155.8 1738.3L2161.8 1737.2L2167.8 1737.4L2173.7 1737.7L2179.7 1734.9L2185.7 1738.2L2191.7 1737.9L2197.7 1737.3L2203.7 1736.5L2209.6 1736.1L2215.6 1736.4" stroke="#ff0000" stroke-width="9"/>
<path d="M385.0 1735.6L391.0 1735.2L397.0 1735.3L403.0 1738.8L408.9 1738.4L414.9 1737.6L420.9 1737.7L426.9 1736.5L432.9 1737.5L438.9 1738.2L444.9 1736.0L450.9 1735.9L456.8 1736.8L462.8 1737.9L468.8 1736.2L474.8 1736.3L480.8 1736.5L486.8 1737.9L492.8 1734.7L498.8 1736.2L504.7 1738.8L510.7 1735.5L516.7 1738.3L522.7 1734.4L528.7 1737.8L534.7 1736.8L540.7 1735.2L546.6 1737.8L552.6 1737.3L558.6 1734.4L564.6 1737.9L570.6 1738.6L576.6 1736.1L582.6 1737.3L588.6 1736.3L594.5 1735.5L600.5 1736.9L606.5 1737.3L612.5 1735.8L618.5 1735.7L624.5 1736.5L630.5 1736.8L636.4 1737.3L642.4 1736.0L648.4 1737.6L654.4 1736.3L660.4 1737.4L666.4 1737.3L672.4 1736.5L678.4 1737.6L684.3 1735.3L690.3 1735.3L696.3 1737.3L702.3 1734.8L708.3 1734.5L714.3 1738.3L720.3 1735.6L726.3 1735.6L732.2 1736.8L738.2 1735.4L744.2 1734.8L750.2 1737.3L756.2 1735.5L762.2 1734.7L768.2 1736.8L774.1 1735.9L780.1 1734.8L786.1 1736.2L792.1 1737.8L798.1 1735.5L804.1 1737.0L810.1 1735.9L816.1 1736.4L822.0 1737.0L828.0 1737.1L834.0 1736.6L840.0 1737.5L846.0 1737.2L852.0 1737.7L858.0 1735.1L864.0 1736.2L869.9 1736.1L875.9 1736.7L881.9 1736.1L887.9 1736.8L893.9 1735.5L899.9 1737.2L905.9 1737.4L911.8 1735.8L917.8 1736.7L923.8 1737.1L929.8 1736.6L935.8 1736.2L941.8 1736.8L947.8 1736.6L953.8 1736.0L959.7 1734.9L965.7 1734.4L971.7 1736.2L977.7 1737.7L983.7 1738.1L989.7 1738.6L995.7 1736.6L1001.6 1736.9L1007.6 1735.3L1013.6 1735.7L1019.6 1737.2L1025.6 1737.0L1031.6 1733.8L1037.6 1735.4L1043.4 1734.6L1049.3 1738.6L1055.2 1737.6L1061.1 1735.4L1066.9 1731.6L1072.8 1729.1L1078.6 1732.9L1084.6 1735.3L1090.5 1735.2L1096.3 1730.6L1102.2 1728.7L1108.1 1729.6L1113.9 1731.5L1119.8 1730.2L1125.7 1728.1L1131.5 1727.2L1137.4 1729.2L1143.3 1728.0L1149.2 1726.5L1153.0 1722.3L1156.8 1717.8L1160.3 1712.8L1165.3 1710.7L1170.3 1712.8L1175.3 1711.9L1180.2 1710.2L1185.2 1711.0L1190.5 1711.9L1192.7 1719.3L1195.8 1724.7L1198.8 1728.6L1201.4 1732.5L1207.6 1729.8L1213.8 1728.3L1220.0 1724.7L1223.7 1722.6L1227.3 1722.2L1231.2 1717.8L1234.8 1719.0L1238.9 1723.1L1242.3 1729.7L1244.1 1737.0L1245.2 1742.6L1246.5 1746.6L1248.0 1750.8L1249.7 1755.3L1253.7 1758.5L1257.7 1763.7L1257.7 1771.2L1258.2 1777.0L1258.6 1781.3L1259.9 1786.8L1260.0 1793.9L1260.7 1800.9L1260.7 1806.3L1261.6 1811.0L1261.9 1817.0L1262.8 1824.6L1263.4 1830.5L1263.3 1835.6L1263.9 1840.7L1263.8 1846.5L1264.4 1853.0L1264.8 1860.0L1265.0 1866.0L1265.1 1870.6L1265.8 1875.2L1266.3 1881.2L1266.7 1889.4L1266.4 1896.2L1267.0 1900.7L1266.6 1905.0L1267.4 1910.6L1267.8 1918.2L1268.0 1924.6L1268.5 1930.6L1269.0 1935.5L1269.2 1941.1L1268.9 1947.1L1268.9 1953.9L1269.1 1960.3L1269.4 1966.0L1269.8 1971.3L1270.0 1977.2L1269.9 1984.1L1270.3 1990.4L1270.0 1995.4L1270.6 2001.0L1271.0 2008.3L1270.8 2014.7L1271.4 2020.2L1271.4 2025.7L1271.6 2031.7L1271.7 2037.7L1272.5 2043.9L1272.0 2050.4L1272.6 2056.8L1272.3 2062.2L1272.2 2066.9L1272.9 2073.2L1272.5 2080.2L1273.1 2086.6L1273.1 2092.1L1272.7 2097.7L1273.2 2103.6L1273.1 2109.2L1273.1 2115.6L1272.7 2122.6L1273.0 2129.3L1272.9 2133.8L1273.0 2138.8L1273.1 2145.4L1273.8 2152.3L1273.4 2158.7L1273.1 2163.7L1273.5 2169.2L1274.0 2175.3L1273.8 2181.7L1274.0 2188.2L1273.3 2194.2L1274.6 2199.7L1273.6 2205.3L1274.6 2211.8L1274.1 2218.5L1274.0 2224.4L1274.7 2228.6L1274.1 2234.7L1275.1 2242.3L1274.6 2248.8L1274.7 2253.8L1274.7 2258.5L1274.8 2264.5L1275.2 2271.5L1275.7 2278.3L1275.1 2284.3L1275.9 2289.4L1274.9 2294.3L1275.1 2300.1L1275.8 2307.4L1275.4 2314.4L1275.8 2319.9L1276.1 2324.5L1276.5 2330.0L1276.4 2336.9L1276.7 2343.6L1276.5 2349.0L1276.7 2354.6L1276.7 2360.7L1276.1 2366.7L1276.4 2372.5L1276.4 2378.5L1276.8 2384.9L1276.9 2390.2L1277.3 2396.4L1277.1 2403.0L1277.8 2409.0L1277.5 2414.2L1277.3 2419.2L1277.8 2425.9L1278.1 2433.3L1278.3 2439.0L1277.4 2444.1L1278.4 2449.5L1277.6 2456.0L1278.4 2461.8L1278.5 2467.6L1277.9 2474.3L1278.3 2480.5L1278.3 2485.6L1277.9 2490.4L1278.8 2496.9L1278.5 2503.5L1278.8 2509.8L1278.4 2515.6L1278.3 2521.0L1277.8 2526.7L1278.1 2531.9L1278.3 2538.3L1278.6 2545.3L1278.3 2551.5L1278.8 2556.2L1279.1 2561.3L1278.3 2567.9L1279.1 2574.6L1278.4 2580.4L1278.6 2585.8L1279.3 2592.0L1279.1 2597.9L1279.4 2604.0L1280.1 2609.9L1280.4 2616.0L1280.6 2621.6L1280.6 2627.7L1281.3 2634.5L1280.6 2641.1L1280.8 2646.0L1281.6 2650.6L1281.9 2657.0L1282.5 2664.9L1281.8 2671.5L1282.8 2675.7L1282.7 2680.5L1283.1 2687.2L1283.6 2694.6L1283.4 2700.6L1283.3 2706.5L1283.7 2712.1L1284.1 2717.2L1283.8 2723.3L1284.8 2730.2L1284.7 2737.0L1284.8 2742.2L1285.2 2747.3L1285.6 2753.7L1285.8 2760.3L1286.7 2765.9L1287.0 2771.1L1286.8 2777.7L1287.1 2784.7L1287.1 2790.3L1287.5 2795.7L1288.0 2801.3L1288.3 2808.1L1288.9 2814.1L1289.5 2820.4L1290.1 2826.3L1290.3 2832.2L1290.0 2837.1L1290.9 2843.5L1291.4 2850.2L1291.2 2856.9L1292.2 2862.1L1292.6 2867.6L1292.4 2874.0L1293.4 2879.9L1292.9 2885.5L1293.6 2891.7L1294.4 2898.9L1294.7 2904.7L1294.7 2909.8L1295.0 2915.0L1295.1 2921.6L1295.7 2928.3L1296.0 2934.6L1296.2 2940.5L1296.3 2945.7L1297.3 2951.1L1297.3 2957.2L1297.4 2963.9L1298.2 2970.6L1298.5 2964.1L1299.1 2957.2L1300.3 2951.7L1300.2 2946.3L1300.9 2940.3L1301.7 2933.3L1301.6 2927.6L1302.7 2922.3L1302.8 2916.4L1303.6 2909.8L1304.2 2903.2L1304.5 2897.6L1304.7 2891.9L1305.9 2886.7L1306.2 2880.5L1307.2 2873.9L1307.3 2866.7L1307.7 2861.4L1308.2 2856.7L1309.1 2851.3L1309.0 2843.8L1309.7 2837.2L1310.3 2831.5L1310.4 2826.2L1311.4 2820.2L1312.4 2813.8L1312.0 2808.4L1312.8 2802.4L1314.0 2795.6L1314.5 2789.8L1315.1 2783.9L1315.3 2778.2L1315.8 2771.9L1316.4 2766.4L1316.4 2760.5L1317.4 2753.5L1318.1 2747.1L1318.0 2742.0L1318.3 2737.2L1318.2 2730.7L1318.9 2723.1L1318.8 2717.4L1319.2 2712.1L1319.2 2706.5L1319.3 2700.2L1319.8 2694.2L1320.0 2688.4L1320.7 2681.8L1320.3 2675.7L1321.0 2670.0L1320.4 2664.0L1321.2 2657.7L1321.0 2651.9L1321.1 2646.7L1322.0 2640.5L1322.0 2633.1L1322.7 2626.9L1322.1 2622.4L1322.3 2617.4L1323.4 2610.1L1323.1 2603.0L1323.2 2597.4L1323.1 2592.3L1324.1 2586.6L1323.7 2580.5L1324.9 2574.1L1324.2 2567.8L1324.6 2561.2L1324.8 2555.9L1325.5 2550.8L1325.0 2544.5L1325.5 2537.5L1326.0 2531.6L1325.5 2526.2L1326.2 2520.2L1326.6 2513.6L1326.3 2508.0L1326.5 2502.6L1327.3 2496.9L1328.0 2489.7L1327.7 2483.5L1328.1 2477.7L1328.2 2472.2L1328.8 2466.4L1328.9 2460.3L1329.4 2454.4L1328.7 2447.7L1329.2 2441.1L1329.6 2436.1L1330.0 2430.4L1329.8 2424.2L1330.0 2417.8L1330.8 2411.8L1331.0 2406.3L1331.1 2399.8L1330.8 2393.7L1331.8 2388.8L1331.3 2383.3L1331.4 2376.4L1332.3 2369.1L1332.0 2363.3L1332.7 2358.5L1332.8 2353.0L1332.1 2346.9L1332.4 2340.5L1333.0 2333.8L1332.8 2327.2L1334.1 2322.3L1333.4 2317.3L1333.7 2311.1L1334.8 2303.6L1334.3 2297.8L1334.9 2292.8L1334.9 2287.0L1335.2 2280.5L1335.1 2273.8L1336.0 2268.6L1335.3 2263.3L1335.6 2256.7L1336.1 2250.4L1335.8 2244.4L1336.4 2238.2L1337.2 2233.3L1336.5 2228.0L1336.8 2221.5L1337.3 2213.9L1337.5 2207.6L1337.8 2202.9L1338.2 2198.4L1337.9 2192.0L1338.5 2184.4L1338.7 2178.0L1338.9 2172.6L1338.6 2167.5L1338.9 2161.4L1339.5 2155.6L1339.9 2149.4L1340.2 2142.8L1340.4 2136.6L1340.1 2131.3L1340.5 2125.8L1341.1 2119.1L1341.7 2113.1L1341.5 2107.8L1342.2 2102.0L1342.7 2095.3L1342.7 2089.0L1342.4 2083.7L1343.5 2078.3L1343.2 2071.9L1344.0 2065.1L1344.1 2059.3L1344.8 2053.7L1344.5 2047.4L1345.0 2041.9L1345.9 2036.2L1345.2 2030.2L1346.2 2023.6L1346.1 2016.9L1346.4 2011.7L1346.8 2006.3L1347.5 2000.1L1347.5 1994.8L1347.5 1988.5L1347.1 1981.9L1347.1 1975.4L1348.1 1970.6L1347.5 1966.3L1347.6 1960.4L1348.4 1952.9L1348.7 1946.0L1348.1 1941.1L1348.7 1936.3L1349.7 1930.8L1349.6 1924.3L1350.2 1917.7L1351.5 1911.7L1352.0 1906.2L1352.2 1901.1L1352.5 1895.5L1353.1 1889.0L1353.8 1882.3L1354.4 1877.3L1355.4 1872.6L1355.3 1866.5L1356.2 1859.1L1356.9 1852.5L1357.7 1848.2L1358.2 1843.9L1359.5 1836.9L1360.3 1828.9L1361.3 1822.5L1361.6 1816.9L1362.8 1812.3L1364.4 1806.7L1365.5 1798.9L1365.9 1790.9L1367.5 1785.0L1369.1 1781.4L1371.2 1776.8L1372.9 1768.5L1375.0 1760.5L1376.6 1756.3L1381.6 1757.6L1386.6 1756.4L1391.5 1755.3L1396.1 1751.7L1400.9 1747.3L1402.5 1740.9L1404.0 1734.8L1405.0 1729.1L1406.4 1724.0L1412.1 1717.9L1417.7 1714.9L1422.6 1714.2L1427.6 1715.5L1432.6 1713.8L1437.5 1717.6L1442.4 1722.0L1447.5 1725.8L1453.7 1725.8L1459.9 1727.2L1466.1 1727.7L1472.3 1726.6L1478.6 1728.5L1484.8 1731.3L1491.0 1734.5L1497.3 1732.3L1503.4 1728.3L1509.6 1731.8L1515.8 1733.0L1522.1 1732.5L1528.3 1733.9L1534.5 1733.1L1540.7 1732.1L1546.9 1731.1L1553.1 1734.5L1559.4 1738.0L1565.0 1737.0L1570.7 1732.5L1576.5 1732.4L1582.1 1734.5L1587.8 1737.0L1593.5 1737.8L1599.5 1736.5L1605.5 1734.8L1611.5 1736.7L1617.4 1736.3L1623.4 1735.3L1629.4 1736.4L1635.4 1735.6L1641.4 1735.2L1647.3 1736.9L1653.3 1737.3L1659.3 1735.3L1665.3 1734.2L1671.3 1734.8L1677.2 1735.0L1683.2 1737.9L1689.2 1736.2L1695.2 1735.9L1701.2 1735.5L1707.2 1735.7L1713.1 1738.8L1719.1 1736.4L1725.1 1735.9L1731.1 1736.9L1737.1 1735.4L1743.1 1736.3L1749.0 1736.0L1755.0 1736.8L1761.0 1734.1L1767.0 1735.1L1773.0 1737.4L1778.9 1738.4L1784.9 1736.5L1790.9 1735.5L1796.9 1735.4L1802.9 1736.6L1808.9 1737.7L1814.8 1734.5L1820.8 1736.5L1826.8 1735.6L1832.8 1737.4L1838.8 1736.2L1844.7 1738.7L1850.7 1735.4L1856.7 1734.7L1862.7 1735.9L1868.7 1736.6L1874.7 1737.5L1880.6 1736.3L1886.6 1736.8L1892.6 1737.8L1898.6 1734.4L1904.6 1736.2L1910.5 1736.4L1916.5 1737.3L1922.5 1736.3L1928.5 1733.5L1934.5 1736.3L1940.5 1737.1L1946.4 1737.4L1952.4 1736.8L1958.4 1736.8L1964.4 1737.3L1970.4 1737.0L1976.3 1737.3L1982.3 1736.8L1988.3 1737.4L1994.3 1737.8L2000.3 1737.1L2006.3 1738.2L2012.2 1736.2L2018.2 1735.1L2024.2 1736.0L2030.2 1737.2L2036.2 1735.7L2042.1 1736.4L2048.1 1735.3L2054.1 1735.2L2060.1 1735.6L2066.1 1735.6L2072.1 1738.0L2078.0 1736.9L2084.0 1734.0L2090.0 1736.1L2096.0 1736.6L2102.0 1739.6L2108.0 1738.0L2113.9 1736.0L2119.9 1735.3L2125.9 1736.7L2131.9 1738.6L2137.9 1738.8L2143.8 1736.4L2149.8 1738.0L2155.8 1735.1L2161.8 1734.7L2167.8 1735.1L2173.8 1738.6L2179.7 1737.8L2185.7 1735.1L2191.7 1738.4L2197.7 1737.5L2203.7 1734.4L2209.6 1735.8L2215.6 1736.8" stroke="#9900cc" stroke-width="9"/>
<path d="M385.0 1735.6L391.0 1735.6L396.9 1735.6L402.9 1733.3L408.9 1735.9L414.8 1734.9L420.8 1731.9L426.8 1733.1L432.8 1735.8L438.7 1732.5L444.7 1733.2L450.7 1733.1L456.7 1734.7L462.6 1732.0L468.6 1734.5L474.6 1735.7L480.5 1735.5L486.5 1733.5L492.5 1733.9L498.5 1732.2L504.4 1734.8L510.4 1735.0L516.4 1735.5L522.3 1734.1L528.3 1734.8L534.3 1735.0L540.3 1735.2L546.2 1732.6L552.2 1733.4L558.2 1735.7L564.1 1733.8L570.1 1734.8L576.1 1735.0L582.1 1733.0L588.0 1734.8L594.0 1734.9L600.0 1734.3L605.9 1732.7L611.9 1733.3L617.9 1734.6L623.8 1736.3L629.8 1735.7L635.8 1734.4L641.8 1732.8L647.7 1735.1L653.7 1734.0L659.7 1735.6L665.6 1736.2L671.6 1735.0L677.6 1733.1L683.6 1733.1L689.5 1736.4L695.5 1735.4L701.5 1735.8L707.4 1735.3L713.4 1734.0L719.4 1734.3L725.4 1733.3L731.3 1733.3L737.3 1734.2L743.3 1733.4L749.2 1733.7L755.2 1734.7L761.2 1734.6L767.2 1734.8L773.1 1732.9L779.1 1733.7L785.1 1736.2L791.0 1732.6L797.0 1733.0L803.0 1733.0L809.0 1733.8L814.9 1734.4L820.9 1732.2L826.9 1732.6L832.8 1733.1L838.8 1734.1L844.8 1734.3L850.8 1733.6L856.7 1732.0L862.7 1734.7L868.7 1734.5L874.6 1734.9L880.6 1735.8L886.6 1735.2L892.6 1734.8L898.5 1734.3L904.5 1735.3L910.5 1733.0L916.4 1733.4L922.4 1735.6L928.4 1734.2L934.4 1733.5L940.3 1732.7L946.3 1734.3L952.3 1731.5L958.2 1734.8L964.2 1735.0L970.2 1736.0L976.2 1733.4L982.1 1734.3L988.1 1733.7L994.1 1734.2L1000.2 1735.7L1006.4 1735.0L1012.6 1735.4L1018.8 1734.6L1024.9 1735.0L1031.1 1734.2L1037.3 1734.9L1043.3 1732.3L1049.4 1731.7L1055.4 1733.0L1061.5 1733.8L1067.5 1732.3L1073.6 1732.2L1079.6 1732.7L1085.6 1732.4L1091.7 1731.3L1097.7 1733.0L1103.8 1731.5L1109.8 1730.7L1115.9 1731.1L1121.9 1730.1L1127.9 1729.6L1134.0 1728.8L1140.0 1731.0L1146.1 1729.8L1152.1 1727.5L1158.2 1729.3L1164.2 1728.7L1170.2 1728.9L1176.3 1728.5L1182.3 1728.3L1188.4 1726.9L1194.4 1727.7L1200.4 1727.3L1206.5 1724.7L1212.7 1725.7L1216.2 1722.4L1220.1 1716.7L1223.7 1712.4L1225.4 1706.9L1225.8 1700.7L1227.5 1694.6L1228.7 1689.1L1230.4 1683.3L1231.2 1677.6L1235.0 1676.3L1238.4 1674.1L1241.0 1678.1L1243.8 1682.4L1246.0 1684.3L1249.7 1688.9L1253.4 1694.1L1257.5 1698.9L1261.0 1703.3L1264.7 1701.6L1268.8 1697.1L1270.2 1690.5L1271.0 1685.2L1272.3 1681.2L1273.3 1687.2L1273.9 1692.5L1274.3 1699.0L1275.3 1705.6L1276.3 1712.2L1276.6 1718.7L1276.0 1724.0L1276.6 1728.7L1276.2 1734.8L1276.7 1741.8L1277.0 1748.0L1277.3 1753.6L1277.2 1759.2L1277.1 1764.2L1278.0 1769.9L1278.5 1776.4L1278.2 1782.9L1278.6 1788.3L1278.8 1794.2L1278.8 1800.6L1279.6 1805.7L1279.7 1811.6L1279.7 1817.8L1279.7 1823.9L1279.5 1829.0L1280.0 1836.0L1280.8 1842.2L1280.2 1846.6L1281.1 1852.4L1281.0 1859.5L1280.7 1864.9L1281.0 1870.6L1281.8 1877.4L1281.2 1882.6L1282.0 1887.8L1282.3 1894.7L1282.5 1901.1L1282.7 1905.5L1282.6 1911.2L1282.2 1918.0L1283.5 1923.6L1283.6 1930.1L1283.1 1937.0L1283.1 1941.4L1283.3 1946.2L1283.7 1953.4L1284.1 1960.5L1284.1 1966.1L1283.7 1972.4L1283.8 1978.1L1284.3 1982.8L1284.3 1989.0L1284.2 1996.6L1284.2 2002.3L1284.8 2007.4L1284.3 2014.3L1284.3 2019.9L1285.5 2025.1L1285.2 2032.3L1284.8 2038.1L1284.6 2043.4L1285.0 2050.0L1284.9 2057.3L1285.5 2061.6L1285.9 2067.6L1284.9 2074.6L1285.8 2079.5L1285.9 2085.6L1285.5 2092.8L1285.7 2097.9L1285.3 2103.3L1285.7 2110.2L1285.8 2116.6L1286.2 2121.3L1286.0 2127.4L1286.1 2133.9L1285.8 2139.7L1285.3 2146.5L1286.3 2153.6L1286.1 2157.4L1285.5 2162.4L1285.6 2169.4L1286.4 2176.0L1286.0 2182.0L1286.5 2189.0L1285.6 2194.0L1286.7 2198.4L1286.2 2205.3L1286.7 2212.3L1285.7 2217.9L1285.8 2223.7L1286.6 2230.1L1286.0 2235.7L1286.4 2241.3L1286.8 2248.3L1286.0 2253.8L1286.3 2258.4L1286.7 2265.3L1287.1 2272.0L1287.0 2277.5L1286.8 2283.1L1287.6 2289.7L1286.6 2294.8L1287.4 2300.4L1287.2 2307.6L1286.8 2313.2L1287.9 2318.6L1287.7 2325.4L1287.5 2331.6L1287.6 2336.4L1288.2 2342.4L1287.5 2349.1L1288.0 2354.1L1287.5 2361.1L1288.2 2368.1L1287.6 2373.1L1288.8 2377.7L1288.4 2383.8L1288.6 2390.2L1288.1 2396.4L1288.6 2403.1L1288.4 2409.0L1288.9 2413.5L1288.3 2419.4L1288.5 2426.8L1289.1 2432.6L1288.7 2438.0L1289.7 2444.5L1289.4 2450.0L1289.5 2443.7L1289.4 2438.2L1288.9 2431.5L1289.5 2424.4L1289.9 2418.4L1289.5 2412.7L1289.7 2406.2L1289.2 2401.2L1289.6 2406.5L1289.3 2411.6L1289.5 2417.6L1289.5 2424.6L1290.2 2430.3L1290.0 2436.1L1290.8 2443.0L1290.9 2448.5L1290.3 2453.8L1290.2 2460.0L1291.1 2465.9L1291.2 2472.5L1290.8 2479.0L1291.0 2485.3L1291.9 2490.9L1291.7 2495.9L1291.4 2502.3L1292.2 2508.7L1292.0 2515.1L1291.8 2521.6L1292.1 2526.9L1292.1 2532.1L1292.7 2538.5L1292.3 2545.3L1292.4 2551.3L1292.6 2556.9L1293.1 2562.9L1293.3 2569.2L1293.5 2575.5L1293.4 2581.7L1293.4 2587.3L1293.8 2592.7L1292.9 2598.7L1294.0 2605.7L1294.0 2612.1L1293.6 2618.2L1294.1 2623.6L1294.1 2628.8L1293.7 2634.6L1294.6 2641.4L1294.7 2647.8L1294.8 2653.2L1295.0 2659.4L1294.4 2665.4L1295.3 2671.1L1295.3 2676.5L1295.0 2682.8L1295.3 2688.9L1295.6 2694.9L1294.9 2701.3L1295.4 2707.1L1295.9 2712.3L1295.2 2717.7L1295.5 2724.8L1296.3 2730.7L1295.6 2736.7L1296.6 2742.7L1296.9 2748.2L1296.3 2753.8L1296.4 2760.6L1297.0 2766.8L1297.4 2771.9L1297.4 2777.7L1297.4 2784.1L1296.6 2790.4L1297.4 2796.4L1297.9 2802.9L1297.9 2807.6L1298.0 2812.3L1297.6 2819.6L1297.6 2826.4L1298.4 2832.2L1298.5 2837.8L1297.9 2843.9L1297.8 2848.7L1298.5 2854.6L1299.1 2862.4L1299.2 2867.6L1298.7 2873.2L1298.5 2879.9L1299.0 2885.5L1299.4 2890.3L1298.8 2897.1L1299.6 2903.3L1299.8 2908.5L1299.2 2903.2L1300.3 2898.1L1300.2 2891.0L1300.3 2884.2L1300.0 2879.5L1299.8 2873.5L1299.9 2866.9L1300.8 2861.7L1300.4 2855.9L1300.8 2848.6L1300.6 2843.8L1300.7 2838.8L1301.6 2831.5L1300.9 2824.7L1301.9 2820.0L1302.0 2813.9L1301.8 2808.2L1301.4 2803.2L1301.9 2796.5L1301.9 2788.4L1301.6 2783.3L1302.0 2778.7L1301.9 2772.5L1302.7 2766.5L1302.5 2761.2L1303.1 2753.3L1302.9 2747.2L1303.4 2743.1L1302.7 2737.2L1302.8 2729.9L1302.9 2724.7L1302.9 2718.9L1304.0 2711.9L1303.6 2706.6L1304.3 2701.5L1304.1 2694.2L1304.3 2688.4L1303.9 2683.7L1304.1 2677.5L1304.0 2670.6L1304.3 2665.2L1304.2 2659.5L1304.7 2652.6L1305.1 2647.6L1305.2 2641.8L1304.8 2634.8L1305.6 2629.4L1306.0 2624.5L1305.9 2617.7L1306.0 2610.7L1305.8 2605.5L1306.1 2599.5L1306.7 2593.4L1306.4 2588.4L1306.8 2581.7L1306.7 2573.8L1307.1 2568.1L1307.1 2563.5L1307.3 2557.1L1307.8 2551.6L1307.7 2545.8L1307.1 2538.0L1307.6 2532.1L1307.9 2527.2L1308.6 2521.2L1308.7 2514.4L1309.0 2509.2L1308.8 2502.8L1308.9 2496.1L1309.3 2490.8L1309.6 2485.2L1309.3 2477.6L1309.3 2472.2L1309.4 2467.1L1310.2 2460.8L1309.9 2454.4L1309.5 2448.5L1310.2 2441.9L1310.8 2435.4L1310.4 2430.4L1310.3 2424.5L1311.1 2417.9L1311.0 2412.5L1310.6 2406.5L1310.7 2399.3L1310.8 2405.9L1311.6 2412.1L1311.6 2418.7L1311.6 2425.3L1311.2 2432.4L1311.9 2437.7L1311.9 2442.9L1311.6 2449.7L1312.0 2444.5L1311.5 2438.4L1312.3 2432.8L1312.1 2426.1L1311.5 2419.3L1312.1 2414.2L1312.4 2409.0L1311.6 2402.7L1312.2 2396.3L1312.6 2390.6L1311.8 2384.4L1312.4 2378.5L1312.6 2373.0L1312.4 2367.0L1312.4 2359.8L1312.2 2354.2L1312.4 2348.8L1312.0 2343.2L1312.3 2337.5L1312.3 2331.1L1312.9 2324.5L1313.2 2318.5L1313.1 2313.1L1312.7 2307.3L1312.4 2301.2L1313.2 2295.3L1313.1 2289.3L1312.6 2283.2L1312.6 2277.0L1312.7 2271.1L1313.6 2265.3L1313.0 2259.6L1312.9 2254.1L1313.6 2247.9L1313.0 2241.0L1313.6 2234.6L1313.2 2229.5L1313.6 2224.2L1313.4 2217.9L1313.8 2211.8L1314.1 2205.3L1313.5 2199.2L1313.8 2193.8L1314.3 2188.0L1313.3 2181.1L1313.4 2174.9L1314.1 2169.5L1314.5 2163.6L1314.0 2157.7L1313.8 2151.6L1314.6 2144.9L1314.1 2137.8L1314.4 2132.7L1314.8 2127.7L1314.3 2121.3L1314.3 2114.8L1314.9 2108.9L1314.1 2102.0L1314.5 2096.4L1315.2 2091.6L1314.5 2084.9L1314.6 2078.6L1315.3 2072.8L1315.0 2066.5L1314.6 2059.9L1315.4 2054.0L1314.7 2048.7L1315.6 2042.0L1315.5 2036.6L1314.8 2030.8L1315.8 2023.4L1315.5 2017.3L1315.0 2012.2L1315.8 2006.5L1314.9 1999.9L1315.5 1994.8L1316.1 1988.5L1316.2 1981.8L1316.5 1976.6L1315.9 1971.7L1316.5 1964.6L1316.5 1958.2L1317.0 1953.4L1316.7 1947.8L1317.1 1941.5L1317.0 1936.5L1317.0 1929.6L1317.4 1922.4L1316.9 1917.5L1317.6 1913.2L1317.9 1906.6L1317.3 1900.7L1317.6 1894.5L1317.4 1887.5L1318.0 1881.7L1317.5 1877.3L1318.1 1871.6L1317.9 1864.7L1318.3 1859.1L1318.0 1853.6L1318.7 1846.8L1318.4 1841.2L1318.7 1836.2L1318.3 1829.2L1319.1 1823.2L1319.0 1818.6L1318.7 1812.7L1319.3 1805.5L1319.7 1800.5L1320.0 1795.2L1319.8 1788.9L1320.0 1783.3L1320.6 1778.5L1319.9 1771.8L1320.5 1764.8L1320.5 1761.2L1324.6 1766.9L1327.9 1770.8L1329.4 1765.4L1330.1 1760.8L1331.2 1754.8L1332.1 1749.9L1333.0 1744.9L1334.1 1737.5L1334.4 1730.1L1335.9 1726.4L1338.0 1722.1L1340.9 1714.7L1343.0 1709.3L1346.9 1704.6L1350.5 1698.0L1354.2 1695.9L1355.9 1692.4L1356.8 1685.4L1358.8 1677.8L1359.9 1674.4L1363.5 1677.5L1367.3 1679.1L1368.8 1686.8L1369.4 1693.1L1371.2 1698.0L1372.2 1705.6L1373.0 1713.3L1375.6 1715.8L1378.0 1719.6L1380.4 1724.2L1386.3 1724.5L1392.3 1723.3L1398.2 1726.1L1404.2 1727.8L1410.2 1726.3L1416.4 1728.7L1422.6 1730.1L1428.8 1729.7L1435.1 1728.7L1441.3 1731.4L1447.5 1731.7L1453.6 1733.3L1459.7 1733.9L1465.8 1733.1L1471.9 1732.2L1478.0 1734.2L1484.1 1733.9L1490.2 1733.3L1496.3 1735.1L1502.4 1732.5L1508.5 1732.6L1514.6 1734.8L1520.7 1734.1L1526.8 1733.2L1532.9 1734.3L1539.0 1736.4L1545.1 1733.7L1551.2 1734.8L1557.3 1736.5L1563.4 1734.4L1569.5 1734.9L1575.6 1734.7L1581.7 1737.0L1587.8 1737.0L1593.9 1737.1L1600.0 1734.2L1606.2 1734.8L1612.3 1736.0L1618.5 1735.3L1624.7 1734.4L1630.8 1734.7L1637.0 1737.1L1643.0 1736.3L1649.1 1735.1L1655.1 1735.5L1661.1 1736.6L1667.1 1734.7L1673.2 1736.8L1679.2 1736.3L1685.2 1734.5L1691.3 1735.3L1697.3 1735.1L1703.3 1735.7L1709.3 1736.6L1715.4 1735.7L1721.4 1735.2L1727.4 1734.4L1733.4 1735.1L1739.5 1735.9L1745.5 1733.8L1751.5 1734.9L1757.6 1737.2L1763.6 1735.2L1769.6 1736.8L1775.6 1736.8L1781.7 1735.6L1787.7 1736.5L1793.7 1735.5L1799.7 1737.3L1805.8 1736.3L1811.8 1737.2L1817.8 1733.5L1823.9 1734.9L1829.9 1733.4L1835.9 1736.1L1841.9 1736.8L1848.0 1734.3L1854.0 1736.6L1860.0 1733.8L1866.0 1734.6L1872.1 1736.9L1878.1 1737.2L1884.1 1735.2L1890.2 1733.7L1896.2 1736.8L1902.2 1734.0L1908.2 1734.3L1914.3 1734.0L1920.3 1736.6L1926.3 1735.0L1932.3 1737.0L1938.4 1735.9L1944.4 1734.9L1950.4 1736.7L1956.5 1734.9L1962.5 1736.8L1968.5 1733.6L1974.5 1735.7L1980.6 1736.1L1986.6 1734.6L1992.6 1735.0L1998.6 1735.8L2004.7 1735.9L2010.7 1736.0L2016.7 1735.2L2022.8 1736.4L2028.8 1735.7L2034.8 1735.1L2040.8 1732.9L2046.9 1735.4L2052.9 1734.2L2058.9 1736.7L2064.9 1736.9L2071.0 1737.0L2077.0 1736.5L2083.0 1733.2L2089.1 1736.2L2095.1 1734.1L2101.1 1736.5L2107.1 1735.5L2113.2 1736.7L2119.2 1733.3L2125.2 1735.6L2131.2 1737.2L2137.3 1734.9L2143.3 1734.6L2149.3 1734.4L2155.4 1734.8L2161.4 1736.8L2167.4 1735.8L2173.4 1736.4L2179.5 1735.0L2185.5 1735.1L2191.5 1733.9L2197.5 1733.7L2203.6 1737.0L2209.6 1736.3L2215.6 1735.1" stroke="#000000" stroke-width="10"/>
</g>
<rect x="385.4" y="30.0" width="1831.4" height="2967.4" fill="none" stroke="#000" stroke-width="7"/><path d="M385.4 1513.6H2216.8" stroke="#000" stroke-width="7"/>
<text x="354" y="1541.1" font-size="96" fill="#000" text-anchor="end" >0.0</text>
<text x="354" y="3024.0" font-size="96" fill="#000" text-anchor="end" >0.0</text>
<text x="354" y="1289.6" font-size="96" fill="#000" text-anchor="end" >0.2</text>
<text x="354" y="2773.2" font-size="96" fill="#000" text-anchor="end" >0.2</text>
<text x="354" y="1038.1" font-size="96" fill="#000" text-anchor="end" >0.4</text>
<text x="354" y="2521.6" font-size="96" fill="#000" text-anchor="end" >0.4</text>
<text x="354" y="786.5" font-size="96" fill="#000" text-anchor="end" >0.6</text>
<text x="354" y="2269.9" font-size="96" fill="#000" text-anchor="end" >0.6</text>
<text x="354" y="535.0" font-size="96" fill="#000" text-anchor="end" >0.8</text>
<text x="354" y="2018.3" font-size="96" fill="#000" text-anchor="end" >0.8</text>
<text x="354" y="283.5" font-size="96" fill="#000" text-anchor="end" >1.0</text>
<text x="354" y="1766.6" font-size="96" fill="#000" text-anchor="end" >1.0</text>
<text x="385.3" y="3101" font-size="96" fill="#000" text-anchor="middle" >-90</text>
<text x="690.6" y="3101" font-size="96" fill="#000" text-anchor="middle" >-60</text>
<text x="995.8" y="3101" font-size="96" fill="#000" text-anchor="middle" >-30</text>
<text x="1301.1" y="3101" font-size="96" fill="#000" text-anchor="middle" >0</text>
<text x="1606.3" y="3101" font-size="96" fill="#000" text-anchor="middle" >30</text>
<text x="1911.6" y="3101" font-size="96" fill="#000" text-anchor="middle" >60</text>
<text x="2216.8" y="3101" font-size="96" fill="#000" text-anchor="middle" >90</text>
<text transform="translate(125.5,912) rotate(-90)" font-family="'DejaVu Sans',sans-serif" font-size="132" text-anchor="middle" textLength="821" lengthAdjust="spacingAndGlyphs">Transmittivity</text>
<text transform="translate(124.5,2414) rotate(-90)" font-family="'DejaVu Sans',sans-serif" font-size="132" text-anchor="middle" textLength="821" lengthAdjust="spacingAndGlyphs">Transmittivity</text>
<text x="983" y="3238" font-size="116" style="font-family:'Liberation Serif',serif">Θ</text>
<text x="1103.5" y="3238" font-size="115.5" fill="#000" text-anchor="start" >(degree)</text>
<text x="1986" y="176" font-size="154" fill="#000" text-anchor="start" >(a)</text>
<text x="1984" y="1666" font-size="154" fill="#000" text-anchor="start" >(b)</text>
<text x="420" y="178" font-size="116" fill="#0000ff">B<tspan font-family="'Liberation Serif',serif" font-size="75" dy="36" dx="-11">Φ</tspan><tspan dy="-36" x="565">= 200 G</tspan></text>
<text x="454" y="1457" font-size="95" fill="#000" text-anchor="start" >H = 50 Oe</text>
<text x="473" y="2915" font-size="95" fill="#000" text-anchor="start" >H = 200 Oe</text>
<text x="1602" y="1446" font-size="74.5" fill="#000" text-anchor="start" >Temperature [K]</text>
<text x="448" y="1634" font-size="75.6" fill="#000" text-anchor="start" >Temperature [K]</text>
<text x="1205" y="1639" font-size="60.5" fill="#000" text-anchor="start" >85</text>
<text x="1108" y="1687.6" font-size="60.5" fill="#8000ff" text-anchor="start" >82</text>
<text x="1447" y="1680" font-size="60.5" fill="#ff0000" text-anchor="start" >81</text>
<text x="1507" y="1722" font-size="60.5" fill="#0000ff" text-anchor="start" >80.5</text>
<text x="1449" y="1831" font-size="60.5" fill="#808080" text-anchor="start" >80</text>
<text x="1432" y="1915" font-size="60.5" fill="#00d28c" text-anchor="start" >79.5</text>
<text x="1460" y="1988" font-size="60.5" fill="#800080" text-anchor="start" >79</text>
<text x="1462.6" y="2082" font-size="60.5" fill="#00ff00" text-anchor="start" >78.5</text>
<text x="1496" y="2209" font-size="60.5" fill="#ffff00" text-anchor="start" >78</text>
<text x="1498" y="2345" font-size="60.5" fill="#ff0080" text-anchor="start" >77.5</text>
<text x="1578" y="2533" font-size="60.5" fill="#00009c" text-anchor="start" >77</text>
<text x="1613" y="2698" font-size="60.5" fill="#ff0000" text-anchor="start" >76.5</text>
<text x="1506" y="2724" font-size="60.5" fill="#ff8000" text-anchor="start" >76</text>
<text x="1515" y="2892" font-size="60.5" fill="#000" text-anchor="start" >75.5</text>
<g clip-path="url(#cb)"><path d="M1754.6 40.4L1763.5 2984" stroke="#000" stroke-width="4.6" stroke-dasharray="18.3 16.15" fill="none"/></g>
</svg>
</body></html>
